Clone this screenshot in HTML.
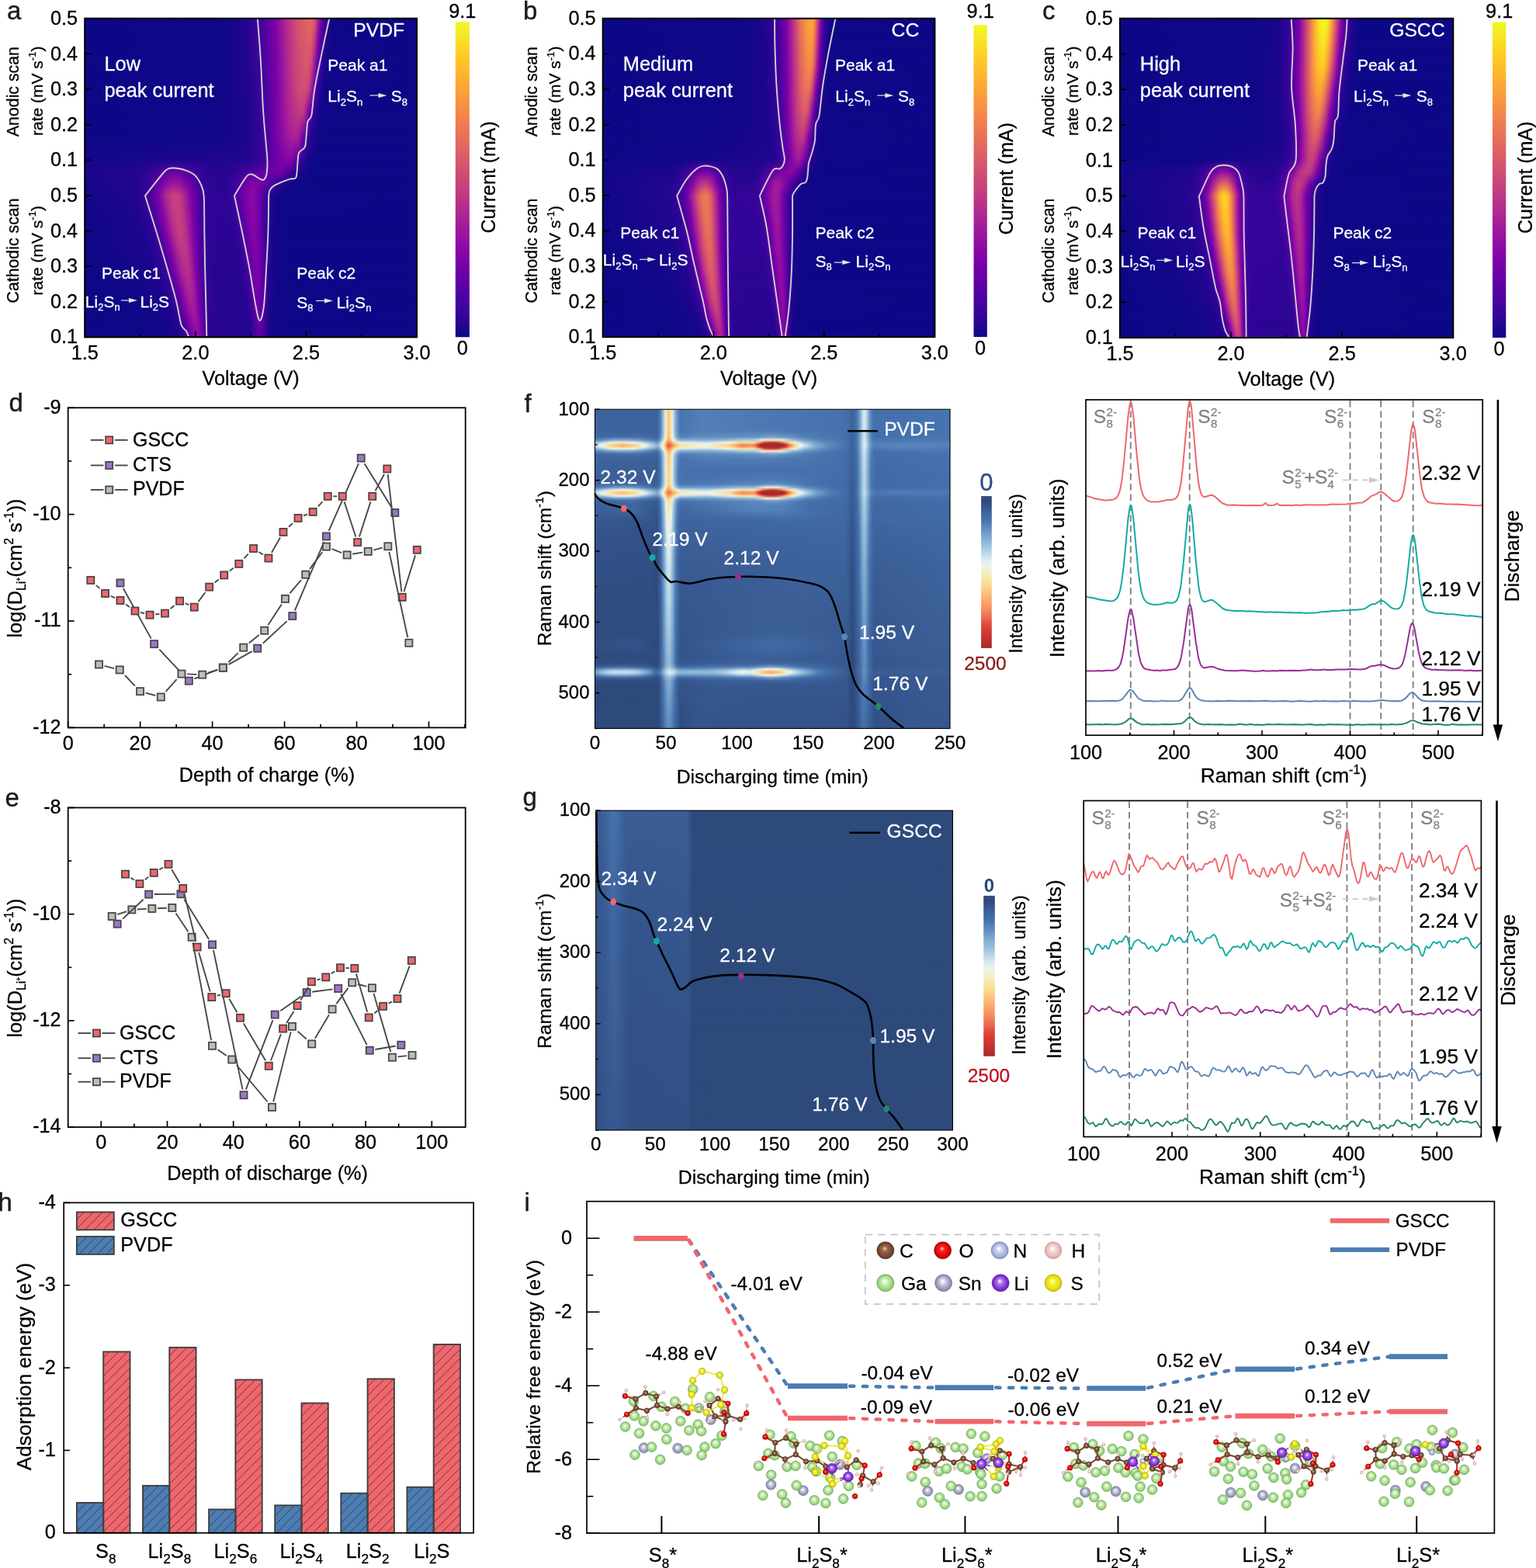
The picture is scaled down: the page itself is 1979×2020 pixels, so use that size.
<!DOCTYPE html>
<html lang="en"><head><meta charset="utf-8"><title>Figure</title>
<style>html,body{margin:0;padding:0;background:#fff}svg{display:block}text{font-family:"Liberation Sans",sans-serif;stroke-width:.28px}</style></head>
<body>
<svg width="1979" height="2020" viewBox="0 0 1979 2020">
<defs>
<linearGradient id="fgv" x1="0" y1="0" x2="0" y2="1"><stop offset="0" stop-color="#fff" stop-opacity="0"/><stop offset="1" stop-color="#fff" stop-opacity="1"/></linearGradient>
<linearGradient id="fgh" x1="0" y1="0" x2="1" y2="0"><stop offset="0" stop-color="#fff" stop-opacity="0"/><stop offset="1" stop-color="#fff" stop-opacity="1"/></linearGradient>
<mask id="mv" maskContentUnits="objectBoundingBox"><rect width="1" height="1" fill="url(#fgv)"/></mask>
<mask id="mh" maskContentUnits="objectBoundingBox"><rect width="1" height="1" fill="url(#fgh)"/></mask>
<linearGradient id="ha0" gradientUnits="userSpaceOnUse" x1="109.3" y1="0" x2="537" y2="0"><stop offset="0.000" stop-color="#0d0887"/><stop offset="0.421" stop-color="#100788"/><stop offset="0.491" stop-color="#260591"/><stop offset="0.544" stop-color="#5302a3"/><stop offset="0.573" stop-color="#7d03a8"/><stop offset="0.602" stop-color="#aa2395"/><stop offset="0.637" stop-color="#d14e72"/><stop offset="0.672" stop-color="#e26660"/><stop offset="0.684" stop-color="#e26660"/><stop offset="0.690" stop-color="#db5c68"/><stop offset="0.696" stop-color="#cb4679"/><stop offset="0.707" stop-color="#8f0da4"/><stop offset="0.713" stop-color="#6e00a8"/><stop offset="0.719" stop-color="#5002a2"/><stop offset="0.731" stop-color="#2a0593"/><stop offset="0.742" stop-color="#16078a"/><stop offset="0.772" stop-color="#0d0887"/><stop offset="1.000" stop-color="#0d0887"/></linearGradient>
<linearGradient id="ha1" gradientUnits="userSpaceOnUse" x1="109.3" y1="0" x2="537" y2="0"><stop offset="0.000" stop-color="#0d0887"/><stop offset="0.415" stop-color="#100788"/><stop offset="0.485" stop-color="#220690"/><stop offset="0.538" stop-color="#4903a0"/><stop offset="0.579" stop-color="#8305a7"/><stop offset="0.614" stop-color="#b6308b"/><stop offset="0.649" stop-color="#d6556d"/><stop offset="0.678" stop-color="#de5f65"/><stop offset="0.684" stop-color="#d8576b"/><stop offset="0.690" stop-color="#c8437b"/><stop offset="0.696" stop-color="#ae2892"/><stop offset="0.701" stop-color="#8d0ba5"/><stop offset="0.707" stop-color="#6a00a8"/><stop offset="0.713" stop-color="#4c02a1"/><stop offset="0.725" stop-color="#260591"/><stop offset="0.742" stop-color="#100788"/><stop offset="1.000" stop-color="#0d0887"/></linearGradient>
<linearGradient id="ha2" gradientUnits="userSpaceOnUse" x1="109.3" y1="0" x2="537" y2="0"><stop offset="0.000" stop-color="#0d0887"/><stop offset="0.415" stop-color="#100788"/><stop offset="0.485" stop-color="#20068f"/><stop offset="0.532" stop-color="#41049d"/><stop offset="0.573" stop-color="#7501a8"/><stop offset="0.596" stop-color="#9a169f"/><stop offset="0.631" stop-color="#c7427c"/><stop offset="0.666" stop-color="#d8576b"/><stop offset="0.678" stop-color="#d24f71"/><stop offset="0.684" stop-color="#c23c81"/><stop offset="0.696" stop-color="#8606a6"/><stop offset="0.701" stop-color="#6300a7"/><stop offset="0.707" stop-color="#46039f"/><stop offset="0.719" stop-color="#220690"/><stop offset="0.736" stop-color="#100788"/><stop offset="1.000" stop-color="#0d0887"/></linearGradient>
<linearGradient id="ha3" gradientUnits="userSpaceOnUse" x1="109.3" y1="0" x2="537" y2="0"><stop offset="0.000" stop-color="#0d0887"/><stop offset="0.409" stop-color="#100788"/><stop offset="0.491" stop-color="#20068f"/><stop offset="0.538" stop-color="#41049d"/><stop offset="0.579" stop-color="#7b02a8"/><stop offset="0.608" stop-color="#aa2395"/><stop offset="0.643" stop-color="#cc4977"/><stop offset="0.666" stop-color="#d24f71"/><stop offset="0.672" stop-color="#cb4679"/><stop offset="0.678" stop-color="#b83289"/><stop offset="0.684" stop-color="#9a169f"/><stop offset="0.690" stop-color="#7801a8"/><stop offset="0.701" stop-color="#3c049b"/><stop offset="0.713" stop-color="#1d068e"/><stop offset="0.725" stop-color="#100788"/><stop offset="1.000" stop-color="#0d0887"/></linearGradient>
<linearGradient id="ha4" gradientUnits="userSpaceOnUse" x1="109.3" y1="0" x2="537" y2="0"><stop offset="0.000" stop-color="#0d0887"/><stop offset="0.392" stop-color="#100788"/><stop offset="0.479" stop-color="#1b068d"/><stop offset="0.526" stop-color="#350498"/><stop offset="0.567" stop-color="#6700a8"/><stop offset="0.590" stop-color="#8d0ba5"/><stop offset="0.620" stop-color="#b32c8e"/><stop offset="0.649" stop-color="#c23c81"/><stop offset="0.655" stop-color="#c23c81"/><stop offset="0.661" stop-color="#b83289"/><stop offset="0.666" stop-color="#a51f99"/><stop offset="0.672" stop-color="#8707a6"/><stop offset="0.678" stop-color="#6700a8"/><stop offset="0.690" stop-color="#350498"/><stop offset="0.707" stop-color="#130789"/><stop offset="0.754" stop-color="#0d0887"/><stop offset="1.000" stop-color="#0d0887"/></linearGradient>
<linearGradient id="ha5" gradientUnits="userSpaceOnUse" x1="109.3" y1="0" x2="537" y2="0"><stop offset="0.000" stop-color="#0d0887"/><stop offset="0.380" stop-color="#100788"/><stop offset="0.485" stop-color="#1b068d"/><stop offset="0.526" stop-color="#310597"/><stop offset="0.567" stop-color="#6400a7"/><stop offset="0.590" stop-color="#8808a6"/><stop offset="0.620" stop-color="#a62098"/><stop offset="0.637" stop-color="#ab2494"/><stop offset="0.643" stop-color="#a31e9a"/><stop offset="0.655" stop-color="#7d03a8"/><stop offset="0.672" stop-color="#38049a"/><stop offset="0.690" stop-color="#19068c"/><stop offset="0.719" stop-color="#0d0887"/><stop offset="1.000" stop-color="#0d0887"/></linearGradient>
<linearGradient id="ha6" gradientUnits="userSpaceOnUse" x1="109.3" y1="0" x2="537" y2="0"><stop offset="0.000" stop-color="#130789"/><stop offset="0.497" stop-color="#240691"/><stop offset="0.532" stop-color="#350498"/><stop offset="0.573" stop-color="#6600a7"/><stop offset="0.602" stop-color="#8405a7"/><stop offset="0.620" stop-color="#8405a7"/><stop offset="0.631" stop-color="#6f00a8"/><stop offset="0.655" stop-color="#310597"/><stop offset="0.672" stop-color="#16078a"/><stop offset="0.701" stop-color="#0d0887"/><stop offset="1.000" stop-color="#0d0887"/></linearGradient>
<linearGradient id="ha7" gradientUnits="userSpaceOnUse" x1="109.3" y1="0" x2="537" y2="0"><stop offset="0.000" stop-color="#1b068d"/><stop offset="0.164" stop-color="#240691"/><stop offset="0.210" stop-color="#3c049b"/><stop offset="0.257" stop-color="#6100a7"/><stop offset="0.281" stop-color="#6300a7"/><stop offset="0.357" stop-color="#2e0595"/><stop offset="0.421" stop-color="#260591"/><stop offset="0.462" stop-color="#330597"/><stop offset="0.514" stop-color="#5601a4"/><stop offset="0.549" stop-color="#6400a7"/><stop offset="0.579" stop-color="#7501a8"/><stop offset="0.596" stop-color="#6e00a8"/><stop offset="0.643" stop-color="#20068f"/><stop offset="0.678" stop-color="#0d0887"/><stop offset="1.000" stop-color="#0d0887"/></linearGradient>
<linearGradient id="ha8" gradientUnits="userSpaceOnUse" x1="109.3" y1="0" x2="537" y2="0"><stop offset="0.000" stop-color="#16078a"/><stop offset="0.158" stop-color="#240691"/><stop offset="0.193" stop-color="#3c049b"/><stop offset="0.234" stop-color="#7a02a8"/><stop offset="0.257" stop-color="#99159f"/><stop offset="0.281" stop-color="#9d189d"/><stop offset="0.304" stop-color="#8004a8"/><stop offset="0.339" stop-color="#46039f"/><stop offset="0.368" stop-color="#2f0596"/><stop offset="0.421" stop-color="#2a0593"/><stop offset="0.450" stop-color="#38049a"/><stop offset="0.479" stop-color="#6300a7"/><stop offset="0.503" stop-color="#8405a7"/><stop offset="0.520" stop-color="#8405a7"/><stop offset="0.561" stop-color="#5102a3"/><stop offset="0.602" stop-color="#1d068e"/><stop offset="0.637" stop-color="#0d0887"/><stop offset="1.000" stop-color="#0d0887"/></linearGradient>
<linearGradient id="ha9" gradientUnits="userSpaceOnUse" x1="109.3" y1="0" x2="537" y2="0"><stop offset="0.000" stop-color="#130789"/><stop offset="0.146" stop-color="#20068f"/><stop offset="0.175" stop-color="#2f0596"/><stop offset="0.199" stop-color="#4c02a1"/><stop offset="0.222" stop-color="#7e03a8"/><stop offset="0.245" stop-color="#b22b8f"/><stop offset="0.269" stop-color="#c9447a"/><stop offset="0.286" stop-color="#c23c81"/><stop offset="0.304" stop-color="#a62098"/><stop offset="0.321" stop-color="#7a02a8"/><stop offset="0.345" stop-color="#4903a0"/><stop offset="0.362" stop-color="#370499"/><stop offset="0.397" stop-color="#2c0594"/><stop offset="0.433" stop-color="#310597"/><stop offset="0.450" stop-color="#3f049c"/><stop offset="0.485" stop-color="#7e03a8"/><stop offset="0.503" stop-color="#8d0ba5"/><stop offset="0.514" stop-color="#8405a7"/><stop offset="0.532" stop-color="#5c01a6"/><stop offset="0.555" stop-color="#280592"/><stop offset="0.585" stop-color="#100788"/><stop offset="1.000" stop-color="#0d0887"/></linearGradient>
<linearGradient id="ha10" gradientUnits="userSpaceOnUse" x1="109.3" y1="0" x2="537" y2="0"><stop offset="0.000" stop-color="#100788"/><stop offset="0.158" stop-color="#20068f"/><stop offset="0.193" stop-color="#370499"/><stop offset="0.216" stop-color="#5e01a6"/><stop offset="0.234" stop-color="#8808a6"/><stop offset="0.257" stop-color="#b83289"/><stop offset="0.275" stop-color="#c8437b"/><stop offset="0.292" stop-color="#c03a83"/><stop offset="0.316" stop-color="#910ea3"/><stop offset="0.327" stop-color="#7100a8"/><stop offset="0.351" stop-color="#43039e"/><stop offset="0.380" stop-color="#2e0595"/><stop offset="0.433" stop-color="#2e0595"/><stop offset="0.456" stop-color="#3e049c"/><stop offset="0.485" stop-color="#7401a8"/><stop offset="0.503" stop-color="#8a09a5"/><stop offset="0.514" stop-color="#8405a7"/><stop offset="0.532" stop-color="#5c01a6"/><stop offset="0.555" stop-color="#260591"/><stop offset="0.579" stop-color="#100788"/><stop offset="1.000" stop-color="#0d0887"/></linearGradient>
<linearGradient id="ha11" gradientUnits="userSpaceOnUse" x1="109.3" y1="0" x2="537" y2="0"><stop offset="0.000" stop-color="#100788"/><stop offset="0.164" stop-color="#1d068e"/><stop offset="0.193" stop-color="#2e0595"/><stop offset="0.216" stop-color="#4c02a1"/><stop offset="0.240" stop-color="#8405a7"/><stop offset="0.263" stop-color="#b7318a"/><stop offset="0.281" stop-color="#c7427c"/><stop offset="0.298" stop-color="#bd3786"/><stop offset="0.316" stop-color="#9814a0"/><stop offset="0.327" stop-color="#7801a8"/><stop offset="0.345" stop-color="#4e02a2"/><stop offset="0.362" stop-color="#370499"/><stop offset="0.403" stop-color="#2a0593"/><stop offset="0.444" stop-color="#2e0595"/><stop offset="0.468" stop-color="#46039f"/><stop offset="0.497" stop-color="#7e03a8"/><stop offset="0.509" stop-color="#8707a6"/><stop offset="0.520" stop-color="#7b02a8"/><stop offset="0.538" stop-color="#4c02a1"/><stop offset="0.555" stop-color="#240691"/><stop offset="0.573" stop-color="#130789"/><stop offset="0.620" stop-color="#0d0887"/><stop offset="1.000" stop-color="#0d0887"/></linearGradient>
<linearGradient id="ha12" gradientUnits="userSpaceOnUse" x1="109.3" y1="0" x2="537" y2="0"><stop offset="0.000" stop-color="#100788"/><stop offset="0.170" stop-color="#1b068d"/><stop offset="0.205" stop-color="#2e0595"/><stop offset="0.228" stop-color="#5302a3"/><stop offset="0.245" stop-color="#7e03a8"/><stop offset="0.269" stop-color="#b42e8d"/><stop offset="0.286" stop-color="#c5407e"/><stop offset="0.304" stop-color="#ba3388"/><stop offset="0.321" stop-color="#910ea3"/><stop offset="0.333" stop-color="#6e00a8"/><stop offset="0.351" stop-color="#46039f"/><stop offset="0.368" stop-color="#310597"/><stop offset="0.415" stop-color="#2a0593"/><stop offset="0.450" stop-color="#2c0594"/><stop offset="0.473" stop-color="#46039f"/><stop offset="0.503" stop-color="#8004a8"/><stop offset="0.514" stop-color="#8305a7"/><stop offset="0.526" stop-color="#6f00a8"/><stop offset="0.549" stop-color="#2f0596"/><stop offset="0.567" stop-color="#16078a"/><stop offset="0.608" stop-color="#0d0887"/><stop offset="1.000" stop-color="#0d0887"/></linearGradient>
<linearGradient id="ha13" gradientUnits="userSpaceOnUse" x1="109.3" y1="0" x2="537" y2="0"><stop offset="0.000" stop-color="#0d0887"/><stop offset="0.187" stop-color="#1d068e"/><stop offset="0.216" stop-color="#2e0595"/><stop offset="0.240" stop-color="#5502a4"/><stop offset="0.257" stop-color="#8305a7"/><stop offset="0.275" stop-color="#ad2793"/><stop offset="0.292" stop-color="#c03a83"/><stop offset="0.304" stop-color="#bd3786"/><stop offset="0.316" stop-color="#a82296"/><stop offset="0.327" stop-color="#8808a6"/><stop offset="0.339" stop-color="#6400a7"/><stop offset="0.357" stop-color="#3e049c"/><stop offset="0.380" stop-color="#2c0594"/><stop offset="0.456" stop-color="#2a0593"/><stop offset="0.473" stop-color="#3a049a"/><stop offset="0.503" stop-color="#7801a8"/><stop offset="0.514" stop-color="#8104a7"/><stop offset="0.526" stop-color="#7201a8"/><stop offset="0.549" stop-color="#2f0596"/><stop offset="0.567" stop-color="#16078a"/><stop offset="0.608" stop-color="#0d0887"/><stop offset="1.000" stop-color="#0d0887"/></linearGradient>
<linearGradient id="ha14" gradientUnits="userSpaceOnUse" x1="109.3" y1="0" x2="537" y2="0"><stop offset="0.000" stop-color="#0d0887"/><stop offset="0.199" stop-color="#1b068d"/><stop offset="0.228" stop-color="#2f0596"/><stop offset="0.245" stop-color="#4b03a1"/><stop offset="0.263" stop-color="#7701a8"/><stop offset="0.281" stop-color="#a51f99"/><stop offset="0.298" stop-color="#bc3587"/><stop offset="0.310" stop-color="#b83289"/><stop offset="0.321" stop-color="#a21d9a"/><stop offset="0.333" stop-color="#7e03a8"/><stop offset="0.351" stop-color="#4b03a1"/><stop offset="0.368" stop-color="#310597"/><stop offset="0.403" stop-color="#280592"/><stop offset="0.468" stop-color="#2c0594"/><stop offset="0.485" stop-color="#46039f"/><stop offset="0.509" stop-color="#7801a8"/><stop offset="0.520" stop-color="#7d03a8"/><stop offset="0.532" stop-color="#6400a7"/><stop offset="0.549" stop-color="#310597"/><stop offset="0.567" stop-color="#16078a"/><stop offset="0.608" stop-color="#0d0887"/><stop offset="1.000" stop-color="#0d0887"/></linearGradient>
<linearGradient id="ha15" gradientUnits="userSpaceOnUse" x1="109.3" y1="0" x2="537" y2="0"><stop offset="0.000" stop-color="#0d0887"/><stop offset="0.181" stop-color="#16078a"/><stop offset="0.228" stop-color="#240691"/><stop offset="0.251" stop-color="#43039e"/><stop offset="0.275" stop-color="#7d03a8"/><stop offset="0.292" stop-color="#a82296"/><stop offset="0.310" stop-color="#b7318a"/><stop offset="0.321" stop-color="#aa2395"/><stop offset="0.333" stop-color="#8808a6"/><stop offset="0.345" stop-color="#6001a6"/><stop offset="0.362" stop-color="#38049a"/><stop offset="0.386" stop-color="#280592"/><stop offset="0.468" stop-color="#280592"/><stop offset="0.485" stop-color="#3a049a"/><stop offset="0.509" stop-color="#7100a8"/><stop offset="0.520" stop-color="#7a02a8"/><stop offset="0.532" stop-color="#6600a7"/><stop offset="0.555" stop-color="#260591"/><stop offset="0.573" stop-color="#130789"/><stop offset="0.620" stop-color="#0d0887"/><stop offset="1.000" stop-color="#0d0887"/></linearGradient>
<linearGradient id="ha16" gradientUnits="userSpaceOnUse" x1="109.3" y1="0" x2="537" y2="0"><stop offset="0.000" stop-color="#0d0887"/><stop offset="0.175" stop-color="#130789"/><stop offset="0.234" stop-color="#20068f"/><stop offset="0.251" stop-color="#2f0596"/><stop offset="0.269" stop-color="#5102a3"/><stop offset="0.286" stop-color="#8305a7"/><stop offset="0.304" stop-color="#a82296"/><stop offset="0.316" stop-color="#b12a90"/><stop offset="0.327" stop-color="#a21d9a"/><stop offset="0.339" stop-color="#7d03a8"/><stop offset="0.357" stop-color="#46039f"/><stop offset="0.368" stop-color="#310597"/><stop offset="0.397" stop-color="#280592"/><stop offset="0.473" stop-color="#260591"/><stop offset="0.491" stop-color="#3a049a"/><stop offset="0.514" stop-color="#7201a8"/><stop offset="0.520" stop-color="#7701a8"/><stop offset="0.532" stop-color="#6600a7"/><stop offset="0.555" stop-color="#240691"/><stop offset="0.573" stop-color="#130789"/><stop offset="0.620" stop-color="#0d0887"/><stop offset="1.000" stop-color="#0d0887"/></linearGradient>
<linearGradient id="ha17" gradientUnits="userSpaceOnUse" x1="109.3" y1="0" x2="537" y2="0"><stop offset="0.000" stop-color="#0d0887"/><stop offset="0.158" stop-color="#100788"/><stop offset="0.240" stop-color="#1d068e"/><stop offset="0.263" stop-color="#310597"/><stop offset="0.281" stop-color="#5601a4"/><stop offset="0.292" stop-color="#7701a8"/><stop offset="0.310" stop-color="#a11b9b"/><stop offset="0.321" stop-color="#aa2395"/><stop offset="0.333" stop-color="#99159f"/><stop offset="0.345" stop-color="#7201a8"/><stop offset="0.357" stop-color="#4b03a1"/><stop offset="0.368" stop-color="#330597"/><stop offset="0.397" stop-color="#260591"/><stop offset="0.485" stop-color="#280592"/><stop offset="0.497" stop-color="#3c049b"/><stop offset="0.514" stop-color="#6900a8"/><stop offset="0.520" stop-color="#7100a8"/><stop offset="0.532" stop-color="#6600a7"/><stop offset="0.555" stop-color="#240691"/><stop offset="0.573" stop-color="#100788"/><stop offset="1.000" stop-color="#0d0887"/></linearGradient>
<linearGradient id="ha18" gradientUnits="userSpaceOnUse" x1="109.3" y1="0" x2="537" y2="0"><stop offset="0.000" stop-color="#0d0887"/><stop offset="0.181" stop-color="#100788"/><stop offset="0.257" stop-color="#1d068e"/><stop offset="0.281" stop-color="#3a049a"/><stop offset="0.304" stop-color="#7a02a8"/><stop offset="0.316" stop-color="#9613a1"/><stop offset="0.327" stop-color="#a11b9b"/><stop offset="0.333" stop-color="#9d189d"/><stop offset="0.345" stop-color="#7d03a8"/><stop offset="0.362" stop-color="#41049d"/><stop offset="0.374" stop-color="#2e0595"/><stop offset="0.409" stop-color="#260591"/><stop offset="0.485" stop-color="#240691"/><stop offset="0.497" stop-color="#2f0596"/><stop offset="0.520" stop-color="#6900a8"/><stop offset="0.532" stop-color="#6100a7"/><stop offset="0.555" stop-color="#20068f"/><stop offset="0.573" stop-color="#100788"/><stop offset="1.000" stop-color="#0d0887"/></linearGradient>
<linearGradient id="ha19" gradientUnits="userSpaceOnUse" x1="109.3" y1="0" x2="537" y2="0"><stop offset="0.000" stop-color="#0d0887"/><stop offset="0.199" stop-color="#100788"/><stop offset="0.263" stop-color="#19068c"/><stop offset="0.286" stop-color="#2e0595"/><stop offset="0.304" stop-color="#5601a4"/><stop offset="0.316" stop-color="#7a02a8"/><stop offset="0.327" stop-color="#9410a2"/><stop offset="0.339" stop-color="#9511a1"/><stop offset="0.351" stop-color="#7201a8"/><stop offset="0.362" stop-color="#46039f"/><stop offset="0.374" stop-color="#2e0595"/><stop offset="0.397" stop-color="#260591"/><stop offset="0.491" stop-color="#240691"/><stop offset="0.503" stop-color="#310597"/><stop offset="0.520" stop-color="#5e01a6"/><stop offset="0.526" stop-color="#6300a7"/><stop offset="0.532" stop-color="#5c01a6"/><stop offset="0.555" stop-color="#20068f"/><stop offset="0.567" stop-color="#130789"/><stop offset="0.625" stop-color="#0d0887"/><stop offset="1.000" stop-color="#0d0887"/></linearGradient>
<linearGradient id="ha20" gradientUnits="userSpaceOnUse" x1="109.3" y1="0" x2="537" y2="0"><stop offset="0.000" stop-color="#0d0887"/><stop offset="0.222" stop-color="#100788"/><stop offset="0.281" stop-color="#1b068d"/><stop offset="0.298" stop-color="#2e0595"/><stop offset="0.316" stop-color="#5901a5"/><stop offset="0.327" stop-color="#7d03a8"/><stop offset="0.339" stop-color="#8f0da4"/><stop offset="0.345" stop-color="#8d0ba5"/><stop offset="0.357" stop-color="#6600a7"/><stop offset="0.368" stop-color="#3c049b"/><stop offset="0.380" stop-color="#280592"/><stop offset="0.491" stop-color="#220690"/><stop offset="0.509" stop-color="#38049a"/><stop offset="0.520" stop-color="#5601a4"/><stop offset="0.526" stop-color="#5c01a6"/><stop offset="0.532" stop-color="#5901a5"/><stop offset="0.555" stop-color="#20068f"/><stop offset="0.573" stop-color="#100788"/><stop offset="1.000" stop-color="#0d0887"/></linearGradient>
<linearGradient id="cba" x1="0" y1="0" x2="0" y2="1"><stop offset="0.000" stop-color="#f0f921"/><stop offset="0.025" stop-color="#f3ee27"/><stop offset="0.050" stop-color="#f7e425"/><stop offset="0.075" stop-color="#fad824"/><stop offset="0.100" stop-color="#fcce25"/><stop offset="0.125" stop-color="#fdc527"/><stop offset="0.150" stop-color="#feba2c"/><stop offset="0.175" stop-color="#fdb130"/><stop offset="0.200" stop-color="#fca636"/><stop offset="0.225" stop-color="#fa9e3b"/><stop offset="0.250" stop-color="#f89540"/><stop offset="0.275" stop-color="#f58c46"/><stop offset="0.300" stop-color="#f2844b"/><stop offset="0.325" stop-color="#ee7b51"/><stop offset="0.350" stop-color="#ea7457"/><stop offset="0.375" stop-color="#e66c5c"/><stop offset="0.400" stop-color="#e16462"/><stop offset="0.425" stop-color="#dc5d67"/><stop offset="0.450" stop-color="#d6556d"/><stop offset="0.475" stop-color="#d14e72"/><stop offset="0.500" stop-color="#cc4778"/><stop offset="0.525" stop-color="#c5407e"/><stop offset="0.550" stop-color="#bf3984"/><stop offset="0.575" stop-color="#b7318a"/><stop offset="0.600" stop-color="#b12a90"/><stop offset="0.625" stop-color="#aa2395"/><stop offset="0.650" stop-color="#a11b9b"/><stop offset="0.675" stop-color="#99159f"/><stop offset="0.700" stop-color="#8f0da4"/><stop offset="0.725" stop-color="#8707a6"/><stop offset="0.750" stop-color="#7e03a8"/><stop offset="0.775" stop-color="#7401a8"/><stop offset="0.800" stop-color="#6a00a8"/><stop offset="0.825" stop-color="#6001a6"/><stop offset="0.850" stop-color="#5601a4"/><stop offset="0.875" stop-color="#4c02a1"/><stop offset="0.900" stop-color="#41049d"/><stop offset="0.925" stop-color="#370499"/><stop offset="0.950" stop-color="#2a0593"/><stop offset="0.975" stop-color="#1d068e"/><stop offset="1.000" stop-color="#0d0887"/></linearGradient>
<linearGradient id="hb0" gradientUnits="userSpaceOnUse" x1="776.8" y1="0" x2="1204.3" y2="0"><stop offset="0.000" stop-color="#0d0887"/><stop offset="0.427" stop-color="#100788"/><stop offset="0.485" stop-color="#1d068e"/><stop offset="0.515" stop-color="#330597"/><stop offset="0.538" stop-color="#5901a5"/><stop offset="0.556" stop-color="#8707a6"/><stop offset="0.573" stop-color="#ba3388"/><stop offset="0.596" stop-color="#eb7655"/><stop offset="0.620" stop-color="#fca835"/><stop offset="0.632" stop-color="#fdab33"/><stop offset="0.637" stop-color="#f79143"/><stop offset="0.643" stop-color="#e26660"/><stop offset="0.649" stop-color="#be3885"/><stop offset="0.655" stop-color="#8e0ca4"/><stop offset="0.661" stop-color="#6100a7"/><stop offset="0.667" stop-color="#3f049c"/><stop offset="0.673" stop-color="#2a0593"/><stop offset="0.690" stop-color="#100788"/><stop offset="1.000" stop-color="#0d0887"/></linearGradient>
<linearGradient id="hb1" gradientUnits="userSpaceOnUse" x1="776.8" y1="0" x2="1204.3" y2="0"><stop offset="0.000" stop-color="#0d0887"/><stop offset="0.421" stop-color="#100788"/><stop offset="0.491" stop-color="#1d068e"/><stop offset="0.520" stop-color="#370499"/><stop offset="0.544" stop-color="#6300a7"/><stop offset="0.556" stop-color="#8104a7"/><stop offset="0.573" stop-color="#b42e8d"/><stop offset="0.596" stop-color="#e76e5b"/><stop offset="0.614" stop-color="#f79342"/><stop offset="0.626" stop-color="#fa9c3c"/><stop offset="0.632" stop-color="#f89540"/><stop offset="0.637" stop-color="#ec7754"/><stop offset="0.643" stop-color="#d04d73"/><stop offset="0.649" stop-color="#a72197"/><stop offset="0.655" stop-color="#7801a8"/><stop offset="0.661" stop-color="#5102a3"/><stop offset="0.667" stop-color="#350498"/><stop offset="0.678" stop-color="#19068c"/><stop offset="0.708" stop-color="#0d0887"/><stop offset="1.000" stop-color="#0d0887"/></linearGradient>
<linearGradient id="hb2" gradientUnits="userSpaceOnUse" x1="776.8" y1="0" x2="1204.3" y2="0"><stop offset="0.000" stop-color="#0d0887"/><stop offset="0.409" stop-color="#100788"/><stop offset="0.491" stop-color="#1d068e"/><stop offset="0.520" stop-color="#350498"/><stop offset="0.544" stop-color="#5e01a6"/><stop offset="0.556" stop-color="#7d03a8"/><stop offset="0.573" stop-color="#b02991"/><stop offset="0.596" stop-color="#e26561"/><stop offset="0.614" stop-color="#f3854b"/><stop offset="0.626" stop-color="#f58b47"/><stop offset="0.632" stop-color="#ed7a52"/><stop offset="0.637" stop-color="#d8576b"/><stop offset="0.643" stop-color="#b52f8c"/><stop offset="0.649" stop-color="#8808a6"/><stop offset="0.655" stop-color="#5e01a6"/><stop offset="0.661" stop-color="#3e049c"/><stop offset="0.673" stop-color="#1d068e"/><stop offset="0.684" stop-color="#100788"/><stop offset="1.000" stop-color="#0d0887"/></linearGradient>
<linearGradient id="hb3" gradientUnits="userSpaceOnUse" x1="776.8" y1="0" x2="1204.3" y2="0"><stop offset="0.000" stop-color="#0d0887"/><stop offset="0.398" stop-color="#100788"/><stop offset="0.485" stop-color="#1b068d"/><stop offset="0.515" stop-color="#2c0594"/><stop offset="0.538" stop-color="#5002a2"/><stop offset="0.556" stop-color="#7b02a8"/><stop offset="0.573" stop-color="#ae2892"/><stop offset="0.591" stop-color="#d5546e"/><stop offset="0.608" stop-color="#e97158"/><stop offset="0.620" stop-color="#eb7556"/><stop offset="0.626" stop-color="#e06363"/><stop offset="0.632" stop-color="#c8437b"/><stop offset="0.637" stop-color="#a31e9a"/><stop offset="0.643" stop-color="#7801a8"/><stop offset="0.649" stop-color="#5302a3"/><stop offset="0.655" stop-color="#370499"/><stop offset="0.667" stop-color="#1b068d"/><stop offset="0.678" stop-color="#100788"/><stop offset="1.000" stop-color="#0d0887"/></linearGradient>
<linearGradient id="hb4" gradientUnits="userSpaceOnUse" x1="776.8" y1="0" x2="1204.3" y2="0"><stop offset="0.000" stop-color="#0d0887"/><stop offset="0.392" stop-color="#100788"/><stop offset="0.497" stop-color="#1d068e"/><stop offset="0.520" stop-color="#2f0596"/><stop offset="0.538" stop-color="#4b03a1"/><stop offset="0.556" stop-color="#7701a8"/><stop offset="0.567" stop-color="#99159f"/><stop offset="0.585" stop-color="#c43e7f"/><stop offset="0.602" stop-color="#d9586a"/><stop offset="0.608" stop-color="#da5b69"/><stop offset="0.614" stop-color="#d6556d"/><stop offset="0.620" stop-color="#c6417d"/><stop offset="0.626" stop-color="#a82296"/><stop offset="0.632" stop-color="#8305a7"/><stop offset="0.637" stop-color="#5e01a6"/><stop offset="0.643" stop-color="#3f049c"/><stop offset="0.655" stop-color="#20068f"/><stop offset="0.667" stop-color="#130789"/><stop offset="0.713" stop-color="#0d0887"/><stop offset="1.000" stop-color="#0d0887"/></linearGradient>
<linearGradient id="hb5" gradientUnits="userSpaceOnUse" x1="776.8" y1="0" x2="1204.3" y2="0"><stop offset="0.000" stop-color="#0d0887"/><stop offset="0.380" stop-color="#100788"/><stop offset="0.503" stop-color="#1d068e"/><stop offset="0.526" stop-color="#2f0596"/><stop offset="0.544" stop-color="#5002a2"/><stop offset="0.561" stop-color="#8004a8"/><stop offset="0.579" stop-color="#ad2793"/><stop offset="0.596" stop-color="#c23c81"/><stop offset="0.602" stop-color="#c13b82"/><stop offset="0.608" stop-color="#b6308b"/><stop offset="0.614" stop-color="#a01a9c"/><stop offset="0.620" stop-color="#8004a8"/><stop offset="0.632" stop-color="#44039e"/><stop offset="0.643" stop-color="#220690"/><stop offset="0.661" stop-color="#100788"/><stop offset="1.000" stop-color="#0d0887"/></linearGradient>
<linearGradient id="hb6" gradientUnits="userSpaceOnUse" x1="776.8" y1="0" x2="1204.3" y2="0"><stop offset="0.000" stop-color="#0d0887"/><stop offset="0.275" stop-color="#130789"/><stop offset="0.515" stop-color="#220690"/><stop offset="0.532" stop-color="#310597"/><stop offset="0.556" stop-color="#6100a7"/><stop offset="0.567" stop-color="#8104a7"/><stop offset="0.585" stop-color="#9e199d"/><stop offset="0.591" stop-color="#a01a9c"/><stop offset="0.602" stop-color="#8808a6"/><stop offset="0.608" stop-color="#7100a8"/><stop offset="0.620" stop-color="#41049d"/><stop offset="0.632" stop-color="#220690"/><stop offset="0.649" stop-color="#100788"/><stop offset="1.000" stop-color="#0d0887"/></linearGradient>
<linearGradient id="hb7" gradientUnits="userSpaceOnUse" x1="776.8" y1="0" x2="1204.3" y2="0"><stop offset="0.000" stop-color="#100788"/><stop offset="0.211" stop-color="#1d068e"/><stop offset="0.240" stop-color="#2e0595"/><stop offset="0.275" stop-color="#5901a5"/><stop offset="0.298" stop-color="#7401a8"/><stop offset="0.316" stop-color="#7501a8"/><stop offset="0.363" stop-color="#330597"/><stop offset="0.386" stop-color="#240691"/><stop offset="0.462" stop-color="#260591"/><stop offset="0.485" stop-color="#38049a"/><stop offset="0.532" stop-color="#7501a8"/><stop offset="0.561" stop-color="#8a09a5"/><stop offset="0.573" stop-color="#8707a6"/><stop offset="0.585" stop-color="#7100a8"/><stop offset="0.608" stop-color="#2f0596"/><stop offset="0.626" stop-color="#16078a"/><stop offset="0.655" stop-color="#0d0887"/><stop offset="1.000" stop-color="#0d0887"/></linearGradient>
<linearGradient id="hb8" gradientUnits="userSpaceOnUse" x1="776.8" y1="0" x2="1204.3" y2="0"><stop offset="0.000" stop-color="#130789"/><stop offset="0.205" stop-color="#240691"/><stop offset="0.228" stop-color="#310597"/><stop offset="0.246" stop-color="#4903a0"/><stop offset="0.269" stop-color="#8305a7"/><stop offset="0.292" stop-color="#b7318a"/><stop offset="0.310" stop-color="#c33d80"/><stop offset="0.327" stop-color="#ac2694"/><stop offset="0.339" stop-color="#8a09a5"/><stop offset="0.351" stop-color="#6600a7"/><stop offset="0.368" stop-color="#3e049c"/><stop offset="0.392" stop-color="#2c0594"/><stop offset="0.450" stop-color="#2c0594"/><stop offset="0.474" stop-color="#3e049c"/><stop offset="0.491" stop-color="#6300a7"/><stop offset="0.503" stop-color="#8104a7"/><stop offset="0.520" stop-color="#a01a9c"/><stop offset="0.532" stop-color="#a01a9c"/><stop offset="0.550" stop-color="#8004a8"/><stop offset="0.573" stop-color="#41049d"/><stop offset="0.591" stop-color="#220690"/><stop offset="0.614" stop-color="#100788"/><stop offset="1.000" stop-color="#0d0887"/></linearGradient>
<linearGradient id="hb9" gradientUnits="userSpaceOnUse" x1="776.8" y1="0" x2="1204.3" y2="0"><stop offset="0.000" stop-color="#100788"/><stop offset="0.199" stop-color="#240691"/><stop offset="0.228" stop-color="#38049a"/><stop offset="0.246" stop-color="#5b01a5"/><stop offset="0.257" stop-color="#7e03a8"/><stop offset="0.269" stop-color="#a82296"/><stop offset="0.287" stop-color="#d9586a"/><stop offset="0.298" stop-color="#ea7457"/><stop offset="0.310" stop-color="#ef7e50"/><stop offset="0.316" stop-color="#ed7953"/><stop offset="0.327" stop-color="#da5a6a"/><stop offset="0.345" stop-color="#9c179e"/><stop offset="0.351" stop-color="#8405a7"/><stop offset="0.363" stop-color="#5b01a5"/><stop offset="0.374" stop-color="#41049d"/><stop offset="0.392" stop-color="#330597"/><stop offset="0.450" stop-color="#330597"/><stop offset="0.468" stop-color="#3f049c"/><stop offset="0.485" stop-color="#6300a7"/><stop offset="0.497" stop-color="#8405a7"/><stop offset="0.509" stop-color="#9d189d"/><stop offset="0.520" stop-color="#a51f99"/><stop offset="0.532" stop-color="#9511a1"/><stop offset="0.544" stop-color="#7100a8"/><stop offset="0.561" stop-color="#3a049a"/><stop offset="0.579" stop-color="#1d068e"/><stop offset="0.608" stop-color="#100788"/><stop offset="1.000" stop-color="#0d0887"/></linearGradient>
<linearGradient id="hb10" gradientUnits="userSpaceOnUse" x1="776.8" y1="0" x2="1204.3" y2="0"><stop offset="0.000" stop-color="#100788"/><stop offset="0.199" stop-color="#220690"/><stop offset="0.228" stop-color="#310597"/><stop offset="0.246" stop-color="#4e02a2"/><stop offset="0.263" stop-color="#8104a7"/><stop offset="0.275" stop-color="#ac2694"/><stop offset="0.292" stop-color="#db5c68"/><stop offset="0.304" stop-color="#ea7457"/><stop offset="0.316" stop-color="#ec7754"/><stop offset="0.327" stop-color="#dc5d67"/><stop offset="0.339" stop-color="#b83289"/><stop offset="0.351" stop-color="#8707a6"/><stop offset="0.363" stop-color="#5c01a6"/><stop offset="0.374" stop-color="#41049d"/><stop offset="0.392" stop-color="#310597"/><stop offset="0.462" stop-color="#330597"/><stop offset="0.480" stop-color="#48039f"/><stop offset="0.497" stop-color="#7401a8"/><stop offset="0.509" stop-color="#9410a2"/><stop offset="0.520" stop-color="#a11b9b"/><stop offset="0.532" stop-color="#9511a1"/><stop offset="0.544" stop-color="#7201a8"/><stop offset="0.561" stop-color="#3a049a"/><stop offset="0.573" stop-color="#220690"/><stop offset="0.591" stop-color="#130789"/><stop offset="0.667" stop-color="#0d0887"/><stop offset="1.000" stop-color="#0d0887"/></linearGradient>
<linearGradient id="hb11" gradientUnits="userSpaceOnUse" x1="776.8" y1="0" x2="1204.3" y2="0"><stop offset="0.000" stop-color="#100788"/><stop offset="0.205" stop-color="#20068f"/><stop offset="0.234" stop-color="#2f0596"/><stop offset="0.251" stop-color="#4e02a2"/><stop offset="0.263" stop-color="#6f00a8"/><stop offset="0.269" stop-color="#8405a7"/><stop offset="0.281" stop-color="#b02991"/><stop offset="0.298" stop-color="#dd5e66"/><stop offset="0.310" stop-color="#ea7457"/><stop offset="0.322" stop-color="#e76f5a"/><stop offset="0.333" stop-color="#d04d73"/><stop offset="0.345" stop-color="#a51f99"/><stop offset="0.351" stop-color="#8b0aa5"/><stop offset="0.357" stop-color="#7201a8"/><stop offset="0.374" stop-color="#41049d"/><stop offset="0.398" stop-color="#2f0596"/><stop offset="0.468" stop-color="#310597"/><stop offset="0.485" stop-color="#46039f"/><stop offset="0.503" stop-color="#7501a8"/><stop offset="0.515" stop-color="#9410a2"/><stop offset="0.526" stop-color="#9d189d"/><stop offset="0.532" stop-color="#9613a1"/><stop offset="0.544" stop-color="#7401a8"/><stop offset="0.561" stop-color="#38049a"/><stop offset="0.579" stop-color="#1b068d"/><stop offset="0.602" stop-color="#100788"/><stop offset="1.000" stop-color="#0d0887"/></linearGradient>
<linearGradient id="hb12" gradientUnits="userSpaceOnUse" x1="776.8" y1="0" x2="1204.3" y2="0"><stop offset="0.000" stop-color="#0d0887"/><stop offset="0.216" stop-color="#20068f"/><stop offset="0.246" stop-color="#370499"/><stop offset="0.257" stop-color="#4c02a1"/><stop offset="0.269" stop-color="#7100a8"/><stop offset="0.275" stop-color="#8707a6"/><stop offset="0.287" stop-color="#b32c8e"/><stop offset="0.304" stop-color="#de6164"/><stop offset="0.316" stop-color="#e87059"/><stop offset="0.322" stop-color="#e76e5b"/><stop offset="0.333" stop-color="#d35171"/><stop offset="0.345" stop-color="#aa2395"/><stop offset="0.351" stop-color="#8f0da4"/><stop offset="0.357" stop-color="#7501a8"/><stop offset="0.368" stop-color="#4e02a2"/><stop offset="0.380" stop-color="#38049a"/><stop offset="0.415" stop-color="#2e0595"/><stop offset="0.474" stop-color="#2f0596"/><stop offset="0.491" stop-color="#44039e"/><stop offset="0.509" stop-color="#7701a8"/><stop offset="0.520" stop-color="#9511a1"/><stop offset="0.526" stop-color="#99159f"/><stop offset="0.538" stop-color="#8a09a5"/><stop offset="0.550" stop-color="#6001a6"/><stop offset="0.567" stop-color="#2a0593"/><stop offset="0.579" stop-color="#19068c"/><stop offset="0.626" stop-color="#0d0887"/><stop offset="1.000" stop-color="#0d0887"/></linearGradient>
<linearGradient id="hb13" gradientUnits="userSpaceOnUse" x1="776.8" y1="0" x2="1204.3" y2="0"><stop offset="0.000" stop-color="#0d0887"/><stop offset="0.205" stop-color="#1b068d"/><stop offset="0.234" stop-color="#240691"/><stop offset="0.251" stop-color="#350498"/><stop offset="0.263" stop-color="#4b03a1"/><stop offset="0.275" stop-color="#6f00a8"/><stop offset="0.281" stop-color="#8606a6"/><stop offset="0.292" stop-color="#b32c8e"/><stop offset="0.304" stop-color="#d45270"/><stop offset="0.316" stop-color="#e3685f"/><stop offset="0.322" stop-color="#e56a5d"/><stop offset="0.327" stop-color="#e16462"/><stop offset="0.339" stop-color="#c5407e"/><stop offset="0.351" stop-color="#9410a2"/><stop offset="0.357" stop-color="#7801a8"/><stop offset="0.368" stop-color="#4e02a2"/><stop offset="0.380" stop-color="#38049a"/><stop offset="0.404" stop-color="#2e0595"/><stop offset="0.480" stop-color="#2f0596"/><stop offset="0.491" stop-color="#3a049a"/><stop offset="0.509" stop-color="#6900a8"/><stop offset="0.520" stop-color="#8b0aa5"/><stop offset="0.526" stop-color="#9511a1"/><stop offset="0.532" stop-color="#9511a1"/><stop offset="0.544" stop-color="#7a02a8"/><stop offset="0.561" stop-color="#38049a"/><stop offset="0.579" stop-color="#19068c"/><stop offset="0.626" stop-color="#0d0887"/><stop offset="1.000" stop-color="#0d0887"/></linearGradient>
<linearGradient id="hb14" gradientUnits="userSpaceOnUse" x1="776.8" y1="0" x2="1204.3" y2="0"><stop offset="0.000" stop-color="#0d0887"/><stop offset="0.181" stop-color="#16078a"/><stop offset="0.240" stop-color="#220690"/><stop offset="0.257" stop-color="#310597"/><stop offset="0.275" stop-color="#5b01a5"/><stop offset="0.287" stop-color="#8606a6"/><stop offset="0.298" stop-color="#b32c8e"/><stop offset="0.310" stop-color="#d35171"/><stop offset="0.322" stop-color="#e16462"/><stop offset="0.327" stop-color="#e06363"/><stop offset="0.339" stop-color="#ca457a"/><stop offset="0.351" stop-color="#99159f"/><stop offset="0.357" stop-color="#7d03a8"/><stop offset="0.368" stop-color="#5002a2"/><stop offset="0.380" stop-color="#38049a"/><stop offset="0.398" stop-color="#2e0595"/><stop offset="0.485" stop-color="#2e0595"/><stop offset="0.497" stop-color="#3a049a"/><stop offset="0.515" stop-color="#6e00a8"/><stop offset="0.526" stop-color="#8e0ca4"/><stop offset="0.532" stop-color="#9410a2"/><stop offset="0.538" stop-color="#8d0ba5"/><stop offset="0.550" stop-color="#6600a7"/><stop offset="0.561" stop-color="#38049a"/><stop offset="0.573" stop-color="#1d068e"/><stop offset="0.596" stop-color="#100788"/><stop offset="1.000" stop-color="#0d0887"/></linearGradient>
<linearGradient id="hb15" gradientUnits="userSpaceOnUse" x1="776.8" y1="0" x2="1204.3" y2="0"><stop offset="0.000" stop-color="#0d0887"/><stop offset="0.175" stop-color="#130789"/><stop offset="0.251" stop-color="#220690"/><stop offset="0.269" stop-color="#38049a"/><stop offset="0.281" stop-color="#5502a4"/><stop offset="0.292" stop-color="#8104a7"/><stop offset="0.304" stop-color="#b12a90"/><stop offset="0.316" stop-color="#d04d73"/><stop offset="0.327" stop-color="#dc5d67"/><stop offset="0.333" stop-color="#d9586a"/><stop offset="0.345" stop-color="#bb3488"/><stop offset="0.357" stop-color="#8305a7"/><stop offset="0.368" stop-color="#5102a3"/><stop offset="0.380" stop-color="#370499"/><stop offset="0.404" stop-color="#2c0594"/><stop offset="0.491" stop-color="#2c0594"/><stop offset="0.503" stop-color="#3a049a"/><stop offset="0.520" stop-color="#7201a8"/><stop offset="0.526" stop-color="#8606a6"/><stop offset="0.532" stop-color="#8f0da4"/><stop offset="0.538" stop-color="#8e0ca4"/><stop offset="0.544" stop-color="#8104a7"/><stop offset="0.556" stop-color="#5002a2"/><stop offset="0.567" stop-color="#280592"/><stop offset="0.579" stop-color="#16078a"/><stop offset="0.626" stop-color="#0d0887"/><stop offset="1.000" stop-color="#0d0887"/></linearGradient>
<linearGradient id="hb16" gradientUnits="userSpaceOnUse" x1="776.8" y1="0" x2="1204.3" y2="0"><stop offset="0.000" stop-color="#0d0887"/><stop offset="0.170" stop-color="#100788"/><stop offset="0.257" stop-color="#20068f"/><stop offset="0.275" stop-color="#310597"/><stop offset="0.292" stop-color="#6100a7"/><stop offset="0.298" stop-color="#7a02a8"/><stop offset="0.304" stop-color="#920fa3"/><stop offset="0.316" stop-color="#be3885"/><stop offset="0.327" stop-color="#d45270"/><stop offset="0.333" stop-color="#d6556d"/><stop offset="0.339" stop-color="#d04d73"/><stop offset="0.351" stop-color="#aa2395"/><stop offset="0.357" stop-color="#8b0aa5"/><stop offset="0.363" stop-color="#6e00a8"/><stop offset="0.374" stop-color="#43039e"/><stop offset="0.392" stop-color="#2e0595"/><stop offset="0.497" stop-color="#2c0594"/><stop offset="0.509" stop-color="#3a049a"/><stop offset="0.526" stop-color="#7801a8"/><stop offset="0.532" stop-color="#8a09a5"/><stop offset="0.538" stop-color="#8f0da4"/><stop offset="0.544" stop-color="#8606a6"/><stop offset="0.556" stop-color="#5302a3"/><stop offset="0.567" stop-color="#280592"/><stop offset="0.579" stop-color="#16078a"/><stop offset="0.626" stop-color="#0d0887"/><stop offset="1.000" stop-color="#0d0887"/></linearGradient>
<linearGradient id="hb17" gradientUnits="userSpaceOnUse" x1="776.8" y1="0" x2="1204.3" y2="0"><stop offset="0.000" stop-color="#0d0887"/><stop offset="0.193" stop-color="#100788"/><stop offset="0.269" stop-color="#20068f"/><stop offset="0.287" stop-color="#370499"/><stop offset="0.298" stop-color="#5901a5"/><stop offset="0.304" stop-color="#7100a8"/><stop offset="0.310" stop-color="#8b0aa5"/><stop offset="0.322" stop-color="#b83289"/><stop offset="0.333" stop-color="#ce4b75"/><stop offset="0.339" stop-color="#cf4c74"/><stop offset="0.345" stop-color="#c5407e"/><stop offset="0.351" stop-color="#b22b8f"/><stop offset="0.357" stop-color="#9511a1"/><stop offset="0.363" stop-color="#7501a8"/><stop offset="0.374" stop-color="#46039f"/><stop offset="0.386" stop-color="#2f0596"/><stop offset="0.421" stop-color="#2c0594"/><stop offset="0.503" stop-color="#2a0593"/><stop offset="0.515" stop-color="#3c049b"/><stop offset="0.526" stop-color="#6700a8"/><stop offset="0.532" stop-color="#8004a8"/><stop offset="0.538" stop-color="#8d0ba5"/><stop offset="0.544" stop-color="#8a09a5"/><stop offset="0.550" stop-color="#7501a8"/><stop offset="0.561" stop-color="#3c049b"/><stop offset="0.573" stop-color="#1b068d"/><stop offset="0.591" stop-color="#100788"/><stop offset="1.000" stop-color="#0d0887"/></linearGradient>
<linearGradient id="hb18" gradientUnits="userSpaceOnUse" x1="776.8" y1="0" x2="1204.3" y2="0"><stop offset="0.000" stop-color="#0d0887"/><stop offset="0.216" stop-color="#100788"/><stop offset="0.281" stop-color="#1d068e"/><stop offset="0.292" stop-color="#2a0593"/><stop offset="0.304" stop-color="#46039f"/><stop offset="0.316" stop-color="#7501a8"/><stop offset="0.327" stop-color="#a82296"/><stop offset="0.339" stop-color="#c33d80"/><stop offset="0.345" stop-color="#c43e7f"/><stop offset="0.351" stop-color="#b83289"/><stop offset="0.357" stop-color="#a11b9b"/><stop offset="0.363" stop-color="#8004a8"/><stop offset="0.368" stop-color="#6001a6"/><stop offset="0.374" stop-color="#48039f"/><stop offset="0.386" stop-color="#2f0596"/><stop offset="0.421" stop-color="#2a0593"/><stop offset="0.491" stop-color="#280592"/><stop offset="0.509" stop-color="#280592"/><stop offset="0.515" stop-color="#2e0595"/><stop offset="0.526" stop-color="#5502a4"/><stop offset="0.538" stop-color="#8606a6"/><stop offset="0.544" stop-color="#8a09a5"/><stop offset="0.550" stop-color="#7701a8"/><stop offset="0.561" stop-color="#3a049a"/><stop offset="0.573" stop-color="#19068c"/><stop offset="0.591" stop-color="#100788"/><stop offset="1.000" stop-color="#0d0887"/></linearGradient>
<linearGradient id="hb19" gradientUnits="userSpaceOnUse" x1="776.8" y1="0" x2="1204.3" y2="0"><stop offset="0.000" stop-color="#0d0887"/><stop offset="0.234" stop-color="#100788"/><stop offset="0.292" stop-color="#1b068d"/><stop offset="0.304" stop-color="#280592"/><stop offset="0.316" stop-color="#46039f"/><stop offset="0.327" stop-color="#7701a8"/><stop offset="0.339" stop-color="#a72197"/><stop offset="0.345" stop-color="#b42e8d"/><stop offset="0.351" stop-color="#b7318a"/><stop offset="0.357" stop-color="#ab2494"/><stop offset="0.363" stop-color="#8e0ca4"/><stop offset="0.368" stop-color="#6900a8"/><stop offset="0.374" stop-color="#4b03a1"/><stop offset="0.380" stop-color="#370499"/><stop offset="0.392" stop-color="#2a0593"/><stop offset="0.491" stop-color="#280592"/><stop offset="0.515" stop-color="#260591"/><stop offset="0.520" stop-color="#2e0595"/><stop offset="0.526" stop-color="#41049d"/><stop offset="0.538" stop-color="#7b02a8"/><stop offset="0.544" stop-color="#8707a6"/><stop offset="0.550" stop-color="#7801a8"/><stop offset="0.561" stop-color="#370499"/><stop offset="0.567" stop-color="#220690"/><stop offset="0.573" stop-color="#16078a"/><stop offset="0.620" stop-color="#0d0887"/><stop offset="1.000" stop-color="#0d0887"/></linearGradient>
<linearGradient id="hb20" gradientUnits="userSpaceOnUse" x1="776.8" y1="0" x2="1204.3" y2="0"><stop offset="0.000" stop-color="#0d0887"/><stop offset="0.257" stop-color="#100788"/><stop offset="0.304" stop-color="#1b068d"/><stop offset="0.316" stop-color="#280592"/><stop offset="0.327" stop-color="#48039f"/><stop offset="0.339" stop-color="#7b02a8"/><stop offset="0.345" stop-color="#9511a1"/><stop offset="0.351" stop-color="#a62098"/><stop offset="0.357" stop-color="#ab2494"/><stop offset="0.363" stop-color="#9a169f"/><stop offset="0.368" stop-color="#7701a8"/><stop offset="0.374" stop-color="#5102a3"/><stop offset="0.380" stop-color="#38049a"/><stop offset="0.392" stop-color="#260591"/><stop offset="0.503" stop-color="#260591"/><stop offset="0.520" stop-color="#240691"/><stop offset="0.526" stop-color="#2f0596"/><stop offset="0.532" stop-color="#48039f"/><stop offset="0.538" stop-color="#6c00a8"/><stop offset="0.544" stop-color="#8405a7"/><stop offset="0.550" stop-color="#7b02a8"/><stop offset="0.556" stop-color="#5801a4"/><stop offset="0.561" stop-color="#350498"/><stop offset="0.567" stop-color="#1d068e"/><stop offset="0.579" stop-color="#100788"/><stop offset="1.000" stop-color="#0d0887"/></linearGradient>
<linearGradient id="cbb" x1="0" y1="0" x2="0" y2="1"><stop offset="0.000" stop-color="#f0f921"/><stop offset="0.025" stop-color="#f3ee27"/><stop offset="0.050" stop-color="#f7e425"/><stop offset="0.075" stop-color="#fad824"/><stop offset="0.100" stop-color="#fcce25"/><stop offset="0.125" stop-color="#fdc527"/><stop offset="0.150" stop-color="#feba2c"/><stop offset="0.175" stop-color="#fdb130"/><stop offset="0.200" stop-color="#fca636"/><stop offset="0.225" stop-color="#fa9e3b"/><stop offset="0.250" stop-color="#f89540"/><stop offset="0.275" stop-color="#f58c46"/><stop offset="0.300" stop-color="#f2844b"/><stop offset="0.325" stop-color="#ee7b51"/><stop offset="0.350" stop-color="#ea7457"/><stop offset="0.375" stop-color="#e66c5c"/><stop offset="0.400" stop-color="#e16462"/><stop offset="0.425" stop-color="#dc5d67"/><stop offset="0.450" stop-color="#d6556d"/><stop offset="0.475" stop-color="#d14e72"/><stop offset="0.500" stop-color="#cc4778"/><stop offset="0.525" stop-color="#c5407e"/><stop offset="0.550" stop-color="#bf3984"/><stop offset="0.575" stop-color="#b7318a"/><stop offset="0.600" stop-color="#b12a90"/><stop offset="0.625" stop-color="#aa2395"/><stop offset="0.650" stop-color="#a11b9b"/><stop offset="0.675" stop-color="#99159f"/><stop offset="0.700" stop-color="#8f0da4"/><stop offset="0.725" stop-color="#8707a6"/><stop offset="0.750" stop-color="#7e03a8"/><stop offset="0.775" stop-color="#7401a8"/><stop offset="0.800" stop-color="#6a00a8"/><stop offset="0.825" stop-color="#6001a6"/><stop offset="0.850" stop-color="#5601a4"/><stop offset="0.875" stop-color="#4c02a1"/><stop offset="0.900" stop-color="#41049d"/><stop offset="0.925" stop-color="#370499"/><stop offset="0.950" stop-color="#2a0593"/><stop offset="0.975" stop-color="#1d068e"/><stop offset="1.000" stop-color="#0d0887"/></linearGradient>
<linearGradient id="hc0" gradientUnits="userSpaceOnUse" x1="1443" y1="0" x2="1872.2" y2="0"><stop offset="0.000" stop-color="#0d0887"/><stop offset="0.414" stop-color="#100788"/><stop offset="0.478" stop-color="#1b068d"/><stop offset="0.507" stop-color="#330597"/><stop offset="0.524" stop-color="#5502a4"/><stop offset="0.536" stop-color="#7501a8"/><stop offset="0.542" stop-color="#8a09a5"/><stop offset="0.553" stop-color="#b42e8d"/><stop offset="0.571" stop-color="#e97158"/><stop offset="0.582" stop-color="#fca537"/><stop offset="0.588" stop-color="#fec029"/><stop offset="0.600" stop-color="#f4ed27"/><stop offset="0.606" stop-color="#f0f921"/><stop offset="0.617" stop-color="#f0f921"/><stop offset="0.623" stop-color="#f4ed27"/><stop offset="0.629" stop-color="#fcd025"/><stop offset="0.635" stop-color="#fdac33"/><stop offset="0.641" stop-color="#f3854b"/><stop offset="0.652" stop-color="#c7427c"/><stop offset="0.658" stop-color="#aa2395"/><stop offset="0.664" stop-color="#8b0aa5"/><stop offset="0.670" stop-color="#6f00a8"/><stop offset="0.682" stop-color="#43039e"/><stop offset="0.699" stop-color="#20068f"/><stop offset="0.722" stop-color="#0d0887"/><stop offset="0.996" stop-color="#0d0887"/></linearGradient>
<linearGradient id="hc1" gradientUnits="userSpaceOnUse" x1="1443" y1="0" x2="1872.2" y2="0"><stop offset="0.000" stop-color="#0d0887"/><stop offset="0.408" stop-color="#100788"/><stop offset="0.472" stop-color="#1b068d"/><stop offset="0.501" stop-color="#2f0596"/><stop offset="0.524" stop-color="#5901a5"/><stop offset="0.536" stop-color="#7b02a8"/><stop offset="0.548" stop-color="#a51f99"/><stop offset="0.571" stop-color="#ea7457"/><stop offset="0.582" stop-color="#fca338"/><stop offset="0.594" stop-color="#fcce25"/><stop offset="0.606" stop-color="#f6e626"/><stop offset="0.612" stop-color="#f6e826"/><stop offset="0.617" stop-color="#f9dd25"/><stop offset="0.623" stop-color="#fdc627"/><stop offset="0.629" stop-color="#fca835"/><stop offset="0.635" stop-color="#f3854b"/><stop offset="0.647" stop-color="#c8437b"/><stop offset="0.658" stop-color="#8e0ca4"/><stop offset="0.664" stop-color="#7100a8"/><stop offset="0.676" stop-color="#44039e"/><stop offset="0.693" stop-color="#20068f"/><stop offset="0.716" stop-color="#0d0887"/><stop offset="0.996" stop-color="#0d0887"/></linearGradient>
<linearGradient id="hc2" gradientUnits="userSpaceOnUse" x1="1443" y1="0" x2="1872.2" y2="0"><stop offset="0.000" stop-color="#0d0887"/><stop offset="0.402" stop-color="#100788"/><stop offset="0.478" stop-color="#1d068e"/><stop offset="0.507" stop-color="#3a049a"/><stop offset="0.524" stop-color="#5e01a6"/><stop offset="0.536" stop-color="#8104a7"/><stop offset="0.548" stop-color="#a82296"/><stop offset="0.565" stop-color="#dd5e66"/><stop offset="0.582" stop-color="#fa9e3b"/><stop offset="0.594" stop-color="#febe2a"/><stop offset="0.606" stop-color="#fccd25"/><stop offset="0.612" stop-color="#fdc827"/><stop offset="0.617" stop-color="#feb72d"/><stop offset="0.629" stop-color="#ef7c51"/><stop offset="0.641" stop-color="#c43e7f"/><stop offset="0.652" stop-color="#8a09a5"/><stop offset="0.658" stop-color="#6c00a8"/><stop offset="0.676" stop-color="#310597"/><stop offset="0.693" stop-color="#19068c"/><stop offset="0.716" stop-color="#0d0887"/><stop offset="0.996" stop-color="#0d0887"/></linearGradient>
<linearGradient id="hc3" gradientUnits="userSpaceOnUse" x1="1443" y1="0" x2="1872.2" y2="0"><stop offset="0.000" stop-color="#0d0887"/><stop offset="0.396" stop-color="#100788"/><stop offset="0.478" stop-color="#1d068e"/><stop offset="0.501" stop-color="#310597"/><stop offset="0.524" stop-color="#5e01a6"/><stop offset="0.536" stop-color="#8104a7"/><stop offset="0.548" stop-color="#aa2395"/><stop offset="0.571" stop-color="#e76f5a"/><stop offset="0.588" stop-color="#fa9e3b"/><stop offset="0.600" stop-color="#fca835"/><stop offset="0.606" stop-color="#fca338"/><stop offset="0.617" stop-color="#ed7a52"/><stop offset="0.629" stop-color="#c6417d"/><stop offset="0.641" stop-color="#8d0ba5"/><stop offset="0.647" stop-color="#6f00a8"/><stop offset="0.658" stop-color="#43039e"/><stop offset="0.676" stop-color="#1d068e"/><stop offset="0.705" stop-color="#0d0887"/><stop offset="0.996" stop-color="#0d0887"/></linearGradient>
<linearGradient id="hc4" gradientUnits="userSpaceOnUse" x1="1443" y1="0" x2="1872.2" y2="0"><stop offset="0.000" stop-color="#0d0887"/><stop offset="0.390" stop-color="#100788"/><stop offset="0.478" stop-color="#1b068d"/><stop offset="0.507" stop-color="#330597"/><stop offset="0.530" stop-color="#6600a7"/><stop offset="0.536" stop-color="#7801a8"/><stop offset="0.548" stop-color="#a11b9b"/><stop offset="0.565" stop-color="#d35171"/><stop offset="0.582" stop-color="#ed7a52"/><stop offset="0.594" stop-color="#f2844b"/><stop offset="0.600" stop-color="#ef7e50"/><stop offset="0.612" stop-color="#da5a6a"/><stop offset="0.623" stop-color="#ac2694"/><stop offset="0.629" stop-color="#8e0ca4"/><stop offset="0.635" stop-color="#7100a8"/><stop offset="0.647" stop-color="#43039e"/><stop offset="0.664" stop-color="#1d068e"/><stop offset="0.693" stop-color="#0d0887"/><stop offset="0.996" stop-color="#0d0887"/></linearGradient>
<linearGradient id="hc5" gradientUnits="userSpaceOnUse" x1="1443" y1="0" x2="1872.2" y2="0"><stop offset="0.000" stop-color="#0d0887"/><stop offset="0.384" stop-color="#100788"/><stop offset="0.483" stop-color="#1b068d"/><stop offset="0.507" stop-color="#2a0593"/><stop offset="0.524" stop-color="#48039f"/><stop offset="0.542" stop-color="#7d03a8"/><stop offset="0.553" stop-color="#a62098"/><stop offset="0.571" stop-color="#d24f71"/><stop offset="0.582" stop-color="#de5f65"/><stop offset="0.588" stop-color="#de5f65"/><stop offset="0.600" stop-color="#cc4778"/><stop offset="0.612" stop-color="#a01a9c"/><stop offset="0.617" stop-color="#8305a7"/><stop offset="0.629" stop-color="#4e02a2"/><stop offset="0.647" stop-color="#220690"/><stop offset="0.670" stop-color="#100788"/><stop offset="0.996" stop-color="#0d0887"/></linearGradient>
<linearGradient id="hc6" gradientUnits="userSpaceOnUse" x1="1443" y1="0" x2="1872.2" y2="0"><stop offset="0.000" stop-color="#0d0887"/><stop offset="0.221" stop-color="#100788"/><stop offset="0.483" stop-color="#220690"/><stop offset="0.507" stop-color="#310597"/><stop offset="0.524" stop-color="#5302a3"/><stop offset="0.536" stop-color="#7701a8"/><stop offset="0.548" stop-color="#9d189d"/><stop offset="0.565" stop-color="#c23c81"/><stop offset="0.577" stop-color="#c7427c"/><stop offset="0.588" stop-color="#b32c8e"/><stop offset="0.600" stop-color="#8606a6"/><stop offset="0.612" stop-color="#5302a3"/><stop offset="0.623" stop-color="#310597"/><stop offset="0.641" stop-color="#16078a"/><stop offset="0.687" stop-color="#0d0887"/><stop offset="0.996" stop-color="#0d0887"/></linearGradient>
<linearGradient id="hc7" gradientUnits="userSpaceOnUse" x1="1443" y1="0" x2="1872.2" y2="0"><stop offset="0.000" stop-color="#130789"/><stop offset="0.221" stop-color="#20068f"/><stop offset="0.250" stop-color="#350498"/><stop offset="0.285" stop-color="#7401a8"/><stop offset="0.303" stop-color="#8f0da4"/><stop offset="0.320" stop-color="#910ea3"/><stop offset="0.338" stop-color="#7100a8"/><stop offset="0.361" stop-color="#3e049c"/><stop offset="0.384" stop-color="#280592"/><stop offset="0.460" stop-color="#260591"/><stop offset="0.483" stop-color="#330597"/><stop offset="0.501" stop-color="#5002a2"/><stop offset="0.518" stop-color="#7e03a8"/><stop offset="0.536" stop-color="#ad2793"/><stop offset="0.553" stop-color="#c43e7f"/><stop offset="0.565" stop-color="#c5407e"/><stop offset="0.577" stop-color="#b42e8d"/><stop offset="0.588" stop-color="#8d0ba5"/><stop offset="0.594" stop-color="#7401a8"/><stop offset="0.612" stop-color="#370499"/><stop offset="0.629" stop-color="#19068c"/><stop offset="0.658" stop-color="#0d0887"/><stop offset="0.996" stop-color="#0d0887"/></linearGradient>
<linearGradient id="hc8" gradientUnits="userSpaceOnUse" x1="1443" y1="0" x2="1872.2" y2="0"><stop offset="0.000" stop-color="#130789"/><stop offset="0.216" stop-color="#260591"/><stop offset="0.239" stop-color="#38049a"/><stop offset="0.256" stop-color="#5b01a5"/><stop offset="0.268" stop-color="#8104a7"/><stop offset="0.280" stop-color="#aa2395"/><stop offset="0.297" stop-color="#d7566c"/><stop offset="0.309" stop-color="#e56a5d"/><stop offset="0.320" stop-color="#e3685f"/><stop offset="0.332" stop-color="#cc4977"/><stop offset="0.344" stop-color="#a21d9a"/><stop offset="0.349" stop-color="#8a09a5"/><stop offset="0.355" stop-color="#7100a8"/><stop offset="0.367" stop-color="#4c02a1"/><stop offset="0.384" stop-color="#330597"/><stop offset="0.431" stop-color="#2c0594"/><stop offset="0.466" stop-color="#310597"/><stop offset="0.483" stop-color="#44039e"/><stop offset="0.501" stop-color="#7201a8"/><stop offset="0.507" stop-color="#8606a6"/><stop offset="0.518" stop-color="#ab2494"/><stop offset="0.530" stop-color="#c03a83"/><stop offset="0.542" stop-color="#c23c81"/><stop offset="0.553" stop-color="#ae2892"/><stop offset="0.565" stop-color="#8808a6"/><stop offset="0.571" stop-color="#7100a8"/><stop offset="0.588" stop-color="#38049a"/><stop offset="0.606" stop-color="#1b068d"/><stop offset="0.629" stop-color="#100788"/><stop offset="0.996" stop-color="#0d0887"/></linearGradient>
<linearGradient id="hc9" gradientUnits="userSpaceOnUse" x1="1443" y1="0" x2="1872.2" y2="0"><stop offset="0.000" stop-color="#130789"/><stop offset="0.204" stop-color="#260591"/><stop offset="0.233" stop-color="#38049a"/><stop offset="0.245" stop-color="#4e02a2"/><stop offset="0.256" stop-color="#7401a8"/><stop offset="0.262" stop-color="#8b0aa5"/><stop offset="0.274" stop-color="#be3885"/><stop offset="0.285" stop-color="#e76e5b"/><stop offset="0.297" stop-color="#fca835"/><stop offset="0.303" stop-color="#fec029"/><stop offset="0.309" stop-color="#fcd025"/><stop offset="0.315" stop-color="#fbd724"/><stop offset="0.320" stop-color="#fccd25"/><stop offset="0.326" stop-color="#fdb52e"/><stop offset="0.332" stop-color="#f79342"/><stop offset="0.344" stop-color="#ce4b75"/><stop offset="0.355" stop-color="#920fa3"/><stop offset="0.361" stop-color="#7501a8"/><stop offset="0.373" stop-color="#4e02a2"/><stop offset="0.384" stop-color="#3c049b"/><stop offset="0.414" stop-color="#330597"/><stop offset="0.466" stop-color="#38049a"/><stop offset="0.483" stop-color="#4e02a2"/><stop offset="0.501" stop-color="#7d03a8"/><stop offset="0.518" stop-color="#b02991"/><stop offset="0.530" stop-color="#bb3488"/><stop offset="0.542" stop-color="#b02991"/><stop offset="0.553" stop-color="#8d0ba5"/><stop offset="0.559" stop-color="#7501a8"/><stop offset="0.577" stop-color="#3c049b"/><stop offset="0.588" stop-color="#240691"/><stop offset="0.617" stop-color="#100788"/><stop offset="0.996" stop-color="#0d0887"/></linearGradient>
<linearGradient id="hc10" gradientUnits="userSpaceOnUse" x1="1443" y1="0" x2="1872.2" y2="0"><stop offset="0.000" stop-color="#100788"/><stop offset="0.216" stop-color="#260591"/><stop offset="0.239" stop-color="#3a049a"/><stop offset="0.256" stop-color="#6300a7"/><stop offset="0.262" stop-color="#7a02a8"/><stop offset="0.268" stop-color="#920fa3"/><stop offset="0.280" stop-color="#c5407e"/><stop offset="0.291" stop-color="#ec7754"/><stop offset="0.303" stop-color="#fdae32"/><stop offset="0.309" stop-color="#fdc229"/><stop offset="0.315" stop-color="#fdcb26"/><stop offset="0.320" stop-color="#fdca26"/><stop offset="0.326" stop-color="#fdb52e"/><stop offset="0.332" stop-color="#f89540"/><stop offset="0.338" stop-color="#e97158"/><stop offset="0.349" stop-color="#b42e8d"/><stop offset="0.355" stop-color="#9410a2"/><stop offset="0.361" stop-color="#7701a8"/><stop offset="0.367" stop-color="#5e01a6"/><stop offset="0.379" stop-color="#43039e"/><stop offset="0.396" stop-color="#350498"/><stop offset="0.466" stop-color="#350498"/><stop offset="0.483" stop-color="#43039e"/><stop offset="0.495" stop-color="#5b01a5"/><stop offset="0.507" stop-color="#8004a8"/><stop offset="0.518" stop-color="#a51f99"/><stop offset="0.530" stop-color="#b6308b"/><stop offset="0.542" stop-color="#b02991"/><stop offset="0.553" stop-color="#8f0da4"/><stop offset="0.559" stop-color="#7801a8"/><stop offset="0.577" stop-color="#3a049a"/><stop offset="0.594" stop-color="#1b068d"/><stop offset="0.623" stop-color="#100788"/><stop offset="0.996" stop-color="#0d0887"/></linearGradient>
<linearGradient id="hc11" gradientUnits="userSpaceOnUse" x1="1443" y1="0" x2="1872.2" y2="0"><stop offset="0.000" stop-color="#100788"/><stop offset="0.210" stop-color="#220690"/><stop offset="0.233" stop-color="#2e0595"/><stop offset="0.250" stop-color="#46039f"/><stop offset="0.262" stop-color="#6700a8"/><stop offset="0.268" stop-color="#8004a8"/><stop offset="0.274" stop-color="#99159f"/><stop offset="0.291" stop-color="#e06363"/><stop offset="0.303" stop-color="#fa9b3d"/><stop offset="0.315" stop-color="#febe2a"/><stop offset="0.320" stop-color="#fdc229"/><stop offset="0.326" stop-color="#fdb42f"/><stop offset="0.332" stop-color="#f9983e"/><stop offset="0.338" stop-color="#eb7556"/><stop offset="0.349" stop-color="#b6308b"/><stop offset="0.355" stop-color="#9613a1"/><stop offset="0.361" stop-color="#7701a8"/><stop offset="0.373" stop-color="#4c02a1"/><stop offset="0.384" stop-color="#3a049a"/><stop offset="0.419" stop-color="#330597"/><stop offset="0.478" stop-color="#370499"/><stop offset="0.495" stop-color="#4e02a2"/><stop offset="0.507" stop-color="#6f00a8"/><stop offset="0.513" stop-color="#8405a7"/><stop offset="0.524" stop-color="#a72197"/><stop offset="0.536" stop-color="#b42e8d"/><stop offset="0.548" stop-color="#a31e9a"/><stop offset="0.559" stop-color="#7a02a8"/><stop offset="0.577" stop-color="#3a049a"/><stop offset="0.588" stop-color="#220690"/><stop offset="0.612" stop-color="#100788"/><stop offset="0.996" stop-color="#0d0887"/></linearGradient>
<linearGradient id="hc12" gradientUnits="userSpaceOnUse" x1="1443" y1="0" x2="1872.2" y2="0"><stop offset="0.000" stop-color="#0d0887"/><stop offset="0.227" stop-color="#240691"/><stop offset="0.250" stop-color="#3a049a"/><stop offset="0.262" stop-color="#5601a4"/><stop offset="0.274" stop-color="#8305a7"/><stop offset="0.280" stop-color="#9e199d"/><stop offset="0.297" stop-color="#e4695e"/><stop offset="0.309" stop-color="#fa9c3c"/><stop offset="0.315" stop-color="#fdaf31"/><stop offset="0.320" stop-color="#feb72d"/><stop offset="0.326" stop-color="#fdb130"/><stop offset="0.332" stop-color="#fa9b3d"/><stop offset="0.338" stop-color="#ed7a52"/><stop offset="0.349" stop-color="#bb3488"/><stop offset="0.355" stop-color="#9a169f"/><stop offset="0.361" stop-color="#7a02a8"/><stop offset="0.373" stop-color="#4c02a1"/><stop offset="0.390" stop-color="#350498"/><stop offset="0.483" stop-color="#350498"/><stop offset="0.501" stop-color="#4e02a2"/><stop offset="0.513" stop-color="#7401a8"/><stop offset="0.524" stop-color="#9c179e"/><stop offset="0.536" stop-color="#b02991"/><stop offset="0.542" stop-color="#ae2892"/><stop offset="0.553" stop-color="#9410a2"/><stop offset="0.559" stop-color="#7b02a8"/><stop offset="0.577" stop-color="#38049a"/><stop offset="0.594" stop-color="#19068c"/><stop offset="0.641" stop-color="#0d0887"/><stop offset="0.996" stop-color="#0d0887"/></linearGradient>
<linearGradient id="hc13" gradientUnits="userSpaceOnUse" x1="1443" y1="0" x2="1872.2" y2="0"><stop offset="0.000" stop-color="#0d0887"/><stop offset="0.221" stop-color="#20068f"/><stop offset="0.250" stop-color="#2f0596"/><stop offset="0.262" stop-color="#43039e"/><stop offset="0.274" stop-color="#6600a7"/><stop offset="0.280" stop-color="#7e03a8"/><stop offset="0.285" stop-color="#9a169f"/><stop offset="0.303" stop-color="#e26561"/><stop offset="0.315" stop-color="#f89540"/><stop offset="0.320" stop-color="#fca537"/><stop offset="0.326" stop-color="#fca835"/><stop offset="0.332" stop-color="#fa9c3c"/><stop offset="0.338" stop-color="#f1834c"/><stop offset="0.344" stop-color="#df6263"/><stop offset="0.355" stop-color="#a51f99"/><stop offset="0.361" stop-color="#8305a7"/><stop offset="0.367" stop-color="#6600a7"/><stop offset="0.379" stop-color="#43039e"/><stop offset="0.396" stop-color="#330597"/><stop offset="0.489" stop-color="#350498"/><stop offset="0.501" stop-color="#44039e"/><stop offset="0.518" stop-color="#7a02a8"/><stop offset="0.530" stop-color="#a11b9b"/><stop offset="0.536" stop-color="#ab2494"/><stop offset="0.542" stop-color="#ac2694"/><stop offset="0.548" stop-color="#a31e9a"/><stop offset="0.559" stop-color="#7b02a8"/><stop offset="0.571" stop-color="#4903a0"/><stop offset="0.582" stop-color="#280592"/><stop offset="0.600" stop-color="#130789"/><stop offset="0.658" stop-color="#0d0887"/><stop offset="0.996" stop-color="#0d0887"/></linearGradient>
<linearGradient id="hc14" gradientUnits="userSpaceOnUse" x1="1443" y1="0" x2="1872.2" y2="0"><stop offset="0.000" stop-color="#0d0887"/><stop offset="0.186" stop-color="#19068c"/><stop offset="0.245" stop-color="#240691"/><stop offset="0.262" stop-color="#350498"/><stop offset="0.274" stop-color="#4e02a2"/><stop offset="0.285" stop-color="#7a02a8"/><stop offset="0.291" stop-color="#9613a1"/><stop offset="0.303" stop-color="#cb4679"/><stop offset="0.315" stop-color="#ed7a52"/><stop offset="0.326" stop-color="#f99a3e"/><stop offset="0.332" stop-color="#f9983e"/><stop offset="0.338" stop-color="#f48849"/><stop offset="0.349" stop-color="#cd4a76"/><stop offset="0.355" stop-color="#ae2892"/><stop offset="0.361" stop-color="#8b0aa5"/><stop offset="0.367" stop-color="#6c00a8"/><stop offset="0.379" stop-color="#44039e"/><stop offset="0.390" stop-color="#350498"/><stop offset="0.489" stop-color="#310597"/><stop offset="0.507" stop-color="#46039f"/><stop offset="0.518" stop-color="#6c00a8"/><stop offset="0.524" stop-color="#8305a7"/><stop offset="0.536" stop-color="#a51f99"/><stop offset="0.542" stop-color="#a82296"/><stop offset="0.548" stop-color="#a31e9a"/><stop offset="0.559" stop-color="#7a02a8"/><stop offset="0.571" stop-color="#46039f"/><stop offset="0.582" stop-color="#260591"/><stop offset="0.594" stop-color="#16078a"/><stop offset="0.641" stop-color="#0d0887"/><stop offset="0.996" stop-color="#0d0887"/></linearGradient>
<linearGradient id="hc15" gradientUnits="userSpaceOnUse" x1="1443" y1="0" x2="1872.2" y2="0"><stop offset="0.000" stop-color="#0d0887"/><stop offset="0.157" stop-color="#130789"/><stop offset="0.256" stop-color="#240691"/><stop offset="0.274" stop-color="#3a049a"/><stop offset="0.285" stop-color="#5b01a5"/><stop offset="0.291" stop-color="#7401a8"/><stop offset="0.297" stop-color="#8f0da4"/><stop offset="0.309" stop-color="#c7427c"/><stop offset="0.320" stop-color="#ea7457"/><stop offset="0.326" stop-color="#f3854b"/><stop offset="0.332" stop-color="#f68d45"/><stop offset="0.338" stop-color="#f3874a"/><stop offset="0.344" stop-color="#e97158"/><stop offset="0.355" stop-color="#b7318a"/><stop offset="0.361" stop-color="#9511a1"/><stop offset="0.367" stop-color="#7201a8"/><stop offset="0.373" stop-color="#5801a4"/><stop offset="0.384" stop-color="#3a049a"/><stop offset="0.402" stop-color="#310597"/><stop offset="0.495" stop-color="#310597"/><stop offset="0.507" stop-color="#3c049b"/><stop offset="0.518" stop-color="#5c01a6"/><stop offset="0.524" stop-color="#7201a8"/><stop offset="0.536" stop-color="#9c179e"/><stop offset="0.542" stop-color="#a31e9a"/><stop offset="0.548" stop-color="#a11b9b"/><stop offset="0.553" stop-color="#920fa3"/><stop offset="0.559" stop-color="#7a02a8"/><stop offset="0.571" stop-color="#44039e"/><stop offset="0.582" stop-color="#220690"/><stop offset="0.606" stop-color="#100788"/><stop offset="0.996" stop-color="#0d0887"/></linearGradient>
<linearGradient id="hc16" gradientUnits="userSpaceOnUse" x1="1443" y1="0" x2="1872.2" y2="0"><stop offset="0.000" stop-color="#0d0887"/><stop offset="0.146" stop-color="#100788"/><stop offset="0.262" stop-color="#220690"/><stop offset="0.280" stop-color="#350498"/><stop offset="0.291" stop-color="#5302a3"/><stop offset="0.297" stop-color="#6a00a8"/><stop offset="0.303" stop-color="#8808a6"/><stop offset="0.309" stop-color="#a62098"/><stop offset="0.320" stop-color="#d7566c"/><stop offset="0.332" stop-color="#ef7c51"/><stop offset="0.338" stop-color="#f0804e"/><stop offset="0.344" stop-color="#ea7457"/><stop offset="0.349" stop-color="#da5a6a"/><stop offset="0.355" stop-color="#bf3984"/><stop offset="0.361" stop-color="#9c179e"/><stop offset="0.367" stop-color="#7801a8"/><stop offset="0.373" stop-color="#5b01a5"/><stop offset="0.379" stop-color="#46039f"/><stop offset="0.390" stop-color="#330597"/><stop offset="0.501" stop-color="#2f0596"/><stop offset="0.513" stop-color="#3e049c"/><stop offset="0.524" stop-color="#6100a7"/><stop offset="0.530" stop-color="#7a02a8"/><stop offset="0.536" stop-color="#8f0da4"/><stop offset="0.542" stop-color="#9d189d"/><stop offset="0.548" stop-color="#9e199d"/><stop offset="0.553" stop-color="#910ea3"/><stop offset="0.559" stop-color="#7801a8"/><stop offset="0.571" stop-color="#41049d"/><stop offset="0.582" stop-color="#20068f"/><stop offset="0.600" stop-color="#100788"/><stop offset="0.996" stop-color="#0d0887"/></linearGradient>
<linearGradient id="hc17" gradientUnits="userSpaceOnUse" x1="1443" y1="0" x2="1872.2" y2="0"><stop offset="0.000" stop-color="#0d0887"/><stop offset="0.169" stop-color="#100788"/><stop offset="0.274" stop-color="#220690"/><stop offset="0.285" stop-color="#2e0595"/><stop offset="0.297" stop-color="#4b03a1"/><stop offset="0.309" stop-color="#8004a8"/><stop offset="0.315" stop-color="#a01a9c"/><stop offset="0.326" stop-color="#d35171"/><stop offset="0.338" stop-color="#e97257"/><stop offset="0.344" stop-color="#e97158"/><stop offset="0.349" stop-color="#dd5e66"/><stop offset="0.355" stop-color="#c6417d"/><stop offset="0.361" stop-color="#a51f99"/><stop offset="0.367" stop-color="#7e03a8"/><stop offset="0.373" stop-color="#5e01a6"/><stop offset="0.379" stop-color="#48039f"/><stop offset="0.390" stop-color="#330597"/><stop offset="0.507" stop-color="#2e0595"/><stop offset="0.518" stop-color="#3f049c"/><stop offset="0.530" stop-color="#6900a8"/><stop offset="0.536" stop-color="#8305a7"/><stop offset="0.542" stop-color="#9410a2"/><stop offset="0.548" stop-color="#9a169f"/><stop offset="0.553" stop-color="#8f0da4"/><stop offset="0.559" stop-color="#7701a8"/><stop offset="0.571" stop-color="#3e049c"/><stop offset="0.582" stop-color="#1d068e"/><stop offset="0.600" stop-color="#100788"/><stop offset="0.996" stop-color="#0d0887"/></linearGradient>
<linearGradient id="hc18" gradientUnits="userSpaceOnUse" x1="1443" y1="0" x2="1872.2" y2="0"><stop offset="0.000" stop-color="#0d0887"/><stop offset="0.192" stop-color="#100788"/><stop offset="0.280" stop-color="#1d068e"/><stop offset="0.297" stop-color="#2f0596"/><stop offset="0.309" stop-color="#5102a3"/><stop offset="0.315" stop-color="#6c00a8"/><stop offset="0.320" stop-color="#8d0ba5"/><stop offset="0.332" stop-color="#c7427c"/><stop offset="0.338" stop-color="#d8576b"/><stop offset="0.344" stop-color="#e06363"/><stop offset="0.349" stop-color="#de5f65"/><stop offset="0.355" stop-color="#cc4778"/><stop offset="0.361" stop-color="#ac2694"/><stop offset="0.367" stop-color="#8305a7"/><stop offset="0.373" stop-color="#5e01a6"/><stop offset="0.379" stop-color="#44039e"/><stop offset="0.390" stop-color="#2f0596"/><stop offset="0.513" stop-color="#2e0595"/><stop offset="0.518" stop-color="#330597"/><stop offset="0.524" stop-color="#41049d"/><stop offset="0.536" stop-color="#7401a8"/><stop offset="0.542" stop-color="#8b0aa5"/><stop offset="0.548" stop-color="#9511a1"/><stop offset="0.553" stop-color="#8e0ca4"/><stop offset="0.559" stop-color="#7401a8"/><stop offset="0.571" stop-color="#370499"/><stop offset="0.582" stop-color="#19068c"/><stop offset="0.600" stop-color="#100788"/><stop offset="0.996" stop-color="#0d0887"/></linearGradient>
<linearGradient id="hc19" gradientUnits="userSpaceOnUse" x1="1443" y1="0" x2="1872.2" y2="0"><stop offset="0.000" stop-color="#0d0887"/><stop offset="0.210" stop-color="#100788"/><stop offset="0.297" stop-color="#20068f"/><stop offset="0.309" stop-color="#2f0596"/><stop offset="0.320" stop-color="#5801a4"/><stop offset="0.326" stop-color="#7701a8"/><stop offset="0.332" stop-color="#99159f"/><stop offset="0.338" stop-color="#b7318a"/><stop offset="0.344" stop-color="#cc4778"/><stop offset="0.349" stop-color="#d5536f"/><stop offset="0.355" stop-color="#cf4c74"/><stop offset="0.361" stop-color="#b52f8c"/><stop offset="0.367" stop-color="#8a09a5"/><stop offset="0.373" stop-color="#5e01a6"/><stop offset="0.379" stop-color="#41049d"/><stop offset="0.384" stop-color="#330597"/><stop offset="0.408" stop-color="#2c0594"/><stop offset="0.501" stop-color="#2c0594"/><stop offset="0.518" stop-color="#2c0594"/><stop offset="0.524" stop-color="#330597"/><stop offset="0.530" stop-color="#46039f"/><stop offset="0.542" stop-color="#7e03a8"/><stop offset="0.548" stop-color="#910ea3"/><stop offset="0.553" stop-color="#8b0aa5"/><stop offset="0.559" stop-color="#6f00a8"/><stop offset="0.565" stop-color="#4b03a1"/><stop offset="0.571" stop-color="#2f0596"/><stop offset="0.577" stop-color="#1d068e"/><stop offset="0.594" stop-color="#100788"/><stop offset="0.996" stop-color="#0d0887"/></linearGradient>
<linearGradient id="hc20" gradientUnits="userSpaceOnUse" x1="1443" y1="0" x2="1872.2" y2="0"><stop offset="0.000" stop-color="#0d0887"/><stop offset="0.233" stop-color="#100788"/><stop offset="0.309" stop-color="#20068f"/><stop offset="0.320" stop-color="#310597"/><stop offset="0.326" stop-color="#44039e"/><stop offset="0.338" stop-color="#8305a7"/><stop offset="0.344" stop-color="#a62098"/><stop offset="0.349" stop-color="#be3885"/><stop offset="0.355" stop-color="#c8437b"/><stop offset="0.361" stop-color="#be3885"/><stop offset="0.367" stop-color="#9511a1"/><stop offset="0.373" stop-color="#6100a7"/><stop offset="0.379" stop-color="#3e049c"/><stop offset="0.384" stop-color="#2e0595"/><stop offset="0.443" stop-color="#2e0595"/><stop offset="0.507" stop-color="#2a0593"/><stop offset="0.524" stop-color="#2a0593"/><stop offset="0.530" stop-color="#350498"/><stop offset="0.536" stop-color="#4c02a1"/><stop offset="0.542" stop-color="#6e00a8"/><stop offset="0.548" stop-color="#8808a6"/><stop offset="0.553" stop-color="#8a09a5"/><stop offset="0.559" stop-color="#6a00a8"/><stop offset="0.565" stop-color="#43039e"/><stop offset="0.571" stop-color="#260591"/><stop offset="0.582" stop-color="#130789"/><stop offset="0.658" stop-color="#0d0887"/><stop offset="0.996" stop-color="#0d0887"/></linearGradient>
<linearGradient id="cbc" x1="0" y1="0" x2="0" y2="1"><stop offset="0.000" stop-color="#f0f921"/><stop offset="0.025" stop-color="#f3ee27"/><stop offset="0.050" stop-color="#f7e425"/><stop offset="0.075" stop-color="#fad824"/><stop offset="0.100" stop-color="#fcce25"/><stop offset="0.125" stop-color="#fdc527"/><stop offset="0.150" stop-color="#feba2c"/><stop offset="0.175" stop-color="#fdb130"/><stop offset="0.200" stop-color="#fca636"/><stop offset="0.225" stop-color="#fa9e3b"/><stop offset="0.250" stop-color="#f89540"/><stop offset="0.275" stop-color="#f58c46"/><stop offset="0.300" stop-color="#f2844b"/><stop offset="0.325" stop-color="#ee7b51"/><stop offset="0.350" stop-color="#ea7457"/><stop offset="0.375" stop-color="#e66c5c"/><stop offset="0.400" stop-color="#e16462"/><stop offset="0.425" stop-color="#dc5d67"/><stop offset="0.450" stop-color="#d6556d"/><stop offset="0.475" stop-color="#d14e72"/><stop offset="0.500" stop-color="#cc4778"/><stop offset="0.525" stop-color="#c5407e"/><stop offset="0.550" stop-color="#bf3984"/><stop offset="0.575" stop-color="#b7318a"/><stop offset="0.600" stop-color="#b12a90"/><stop offset="0.625" stop-color="#aa2395"/><stop offset="0.650" stop-color="#a11b9b"/><stop offset="0.675" stop-color="#99159f"/><stop offset="0.700" stop-color="#8f0da4"/><stop offset="0.725" stop-color="#8707a6"/><stop offset="0.750" stop-color="#7e03a8"/><stop offset="0.775" stop-color="#7401a8"/><stop offset="0.800" stop-color="#6a00a8"/><stop offset="0.825" stop-color="#6001a6"/><stop offset="0.850" stop-color="#5601a4"/><stop offset="0.875" stop-color="#4c02a1"/><stop offset="0.900" stop-color="#41049d"/><stop offset="0.925" stop-color="#370499"/><stop offset="0.950" stop-color="#2a0593"/><stop offset="0.975" stop-color="#1d068e"/><stop offset="1.000" stop-color="#0d0887"/></linearGradient>
<linearGradient id="rf0" gradientUnits="userSpaceOnUse" x1="766.5" y1="0" x2="1224" y2="0"><stop offset="0.000" stop-color="#3e639b"/><stop offset="0.166" stop-color="#3e639b"/><stop offset="0.175" stop-color="#3d6098"/><stop offset="0.184" stop-color="#4d7ab4"/><stop offset="0.192" stop-color="#94bcd8"/><stop offset="0.197" stop-color="#d0e5ee"/><stop offset="0.201" stop-color="#f5ebbc"/><stop offset="0.205" stop-color="#fbcc87"/><stop offset="0.210" stop-color="#fbc783"/><stop offset="0.214" stop-color="#f7e6a9"/><stop offset="0.219" stop-color="#e2efef"/><stop offset="0.223" stop-color="#a3c8de"/><stop offset="0.232" stop-color="#6590c1"/><stop offset="0.240" stop-color="#4875b1"/><stop offset="0.297" stop-color="#537fb7"/><stop offset="0.678" stop-color="#4673b0"/><stop offset="0.713" stop-color="#436ca8"/><stop offset="0.726" stop-color="#3d629a"/><stop offset="0.739" stop-color="#4b78b3"/><stop offset="0.748" stop-color="#85aed2"/><stop offset="0.756" stop-color="#d4e7ee"/><stop offset="0.761" stop-color="#d8e9ef"/><stop offset="0.765" stop-color="#b8d6e6"/><stop offset="0.774" stop-color="#6b95c5"/><stop offset="0.778" stop-color="#527eb7"/><stop offset="0.787" stop-color="#446eaa"/><stop offset="0.997" stop-color="#4774b1"/></linearGradient>
<linearGradient id="rf1" gradientUnits="userSpaceOnUse" x1="766.5" y1="0" x2="1224" y2="0"><stop offset="0.000" stop-color="#3e639c"/><stop offset="0.166" stop-color="#3e639b"/><stop offset="0.175" stop-color="#3d6199"/><stop offset="0.184" stop-color="#4d7ab4"/><stop offset="0.192" stop-color="#94bcd8"/><stop offset="0.197" stop-color="#d0e4ee"/><stop offset="0.201" stop-color="#f5ebbd"/><stop offset="0.205" stop-color="#fbcd88"/><stop offset="0.210" stop-color="#fbc884"/><stop offset="0.214" stop-color="#f7e6aa"/><stop offset="0.219" stop-color="#e2eeef"/><stop offset="0.223" stop-color="#a3c8de"/><stop offset="0.232" stop-color="#6590c2"/><stop offset="0.240" stop-color="#4875b1"/><stop offset="0.302" stop-color="#537fb7"/><stop offset="0.708" stop-color="#4570ad"/><stop offset="0.726" stop-color="#3d629a"/><stop offset="0.739" stop-color="#4b78b3"/><stop offset="0.748" stop-color="#84acd1"/><stop offset="0.756" stop-color="#d0e5ee"/><stop offset="0.761" stop-color="#d4e7ee"/><stop offset="0.765" stop-color="#b5d3e5"/><stop offset="0.774" stop-color="#6a94c4"/><stop offset="0.783" stop-color="#4572af"/><stop offset="0.997" stop-color="#4774b1"/></linearGradient>
<linearGradient id="rf2" gradientUnits="userSpaceOnUse" x1="766.5" y1="0" x2="1224" y2="0"><stop offset="0.000" stop-color="#3f649d"/><stop offset="0.166" stop-color="#3e639c"/><stop offset="0.175" stop-color="#3d6199"/><stop offset="0.184" stop-color="#4e7bb5"/><stop offset="0.192" stop-color="#95bcd8"/><stop offset="0.197" stop-color="#d1e5ee"/><stop offset="0.201" stop-color="#f5ebbc"/><stop offset="0.205" stop-color="#fbcd87"/><stop offset="0.210" stop-color="#fbc783"/><stop offset="0.214" stop-color="#f7e6a9"/><stop offset="0.219" stop-color="#e4efef"/><stop offset="0.223" stop-color="#a5c9df"/><stop offset="0.232" stop-color="#6792c3"/><stop offset="0.240" stop-color="#4a77b2"/><stop offset="0.302" stop-color="#5480b8"/><stop offset="0.564" stop-color="#4a77b2"/><stop offset="0.708" stop-color="#4570ad"/><stop offset="0.726" stop-color="#3d629a"/><stop offset="0.739" stop-color="#4b77b3"/><stop offset="0.748" stop-color="#83acd1"/><stop offset="0.756" stop-color="#cee3ee"/><stop offset="0.761" stop-color="#d2e5ee"/><stop offset="0.765" stop-color="#b3d2e4"/><stop offset="0.774" stop-color="#6994c4"/><stop offset="0.783" stop-color="#4572af"/><stop offset="0.997" stop-color="#4774b1"/></linearGradient>
<linearGradient id="rf3" gradientUnits="userSpaceOnUse" x1="766.5" y1="0" x2="1224" y2="0"><stop offset="0.000" stop-color="#3f659e"/><stop offset="0.166" stop-color="#3e649c"/><stop offset="0.175" stop-color="#3d619a"/><stop offset="0.184" stop-color="#4f7bb5"/><stop offset="0.192" stop-color="#95bdd9"/><stop offset="0.197" stop-color="#d1e5ee"/><stop offset="0.201" stop-color="#f5eabb"/><stop offset="0.205" stop-color="#fbcc87"/><stop offset="0.210" stop-color="#fbc783"/><stop offset="0.214" stop-color="#f8e6a8"/><stop offset="0.219" stop-color="#e5f0ef"/><stop offset="0.223" stop-color="#a6cae0"/><stop offset="0.232" stop-color="#6893c3"/><stop offset="0.240" stop-color="#4b78b3"/><stop offset="0.302" stop-color="#5581b8"/><stop offset="0.485" stop-color="#5581b9"/><stop offset="0.708" stop-color="#4570ad"/><stop offset="0.726" stop-color="#3d629a"/><stop offset="0.739" stop-color="#4b77b3"/><stop offset="0.748" stop-color="#83acd0"/><stop offset="0.756" stop-color="#cde3ee"/><stop offset="0.761" stop-color="#d1e5ee"/><stop offset="0.769" stop-color="#8ab2d4"/><stop offset="0.778" stop-color="#527eb7"/><stop offset="0.787" stop-color="#446fab"/><stop offset="0.997" stop-color="#4874b1"/></linearGradient>
<linearGradient id="rf4" gradientUnits="userSpaceOnUse" x1="766.5" y1="0" x2="1224" y2="0"><stop offset="0.000" stop-color="#4169a4"/><stop offset="0.122" stop-color="#446fab"/><stop offset="0.175" stop-color="#3f659e"/><stop offset="0.179" stop-color="#436ca8"/><stop offset="0.184" stop-color="#5581b8"/><stop offset="0.192" stop-color="#9bc2db"/><stop offset="0.197" stop-color="#d9eaef"/><stop offset="0.201" stop-color="#f6e8b2"/><stop offset="0.205" stop-color="#fbc783"/><stop offset="0.210" stop-color="#fcc27f"/><stop offset="0.214" stop-color="#f9e39e"/><stop offset="0.219" stop-color="#eef5ee"/><stop offset="0.223" stop-color="#b4d3e5"/><stop offset="0.227" stop-color="#8eb6d5"/><stop offset="0.236" stop-color="#618cbf"/><stop offset="0.245" stop-color="#5682b9"/><stop offset="0.284" stop-color="#5f8bbe"/><stop offset="0.459" stop-color="#6792c2"/><stop offset="0.498" stop-color="#78a2cc"/><stop offset="0.608" stop-color="#4d7ab4"/><stop offset="0.708" stop-color="#4571ad"/><stop offset="0.726" stop-color="#3d629a"/><stop offset="0.739" stop-color="#4b78b3"/><stop offset="0.748" stop-color="#82acd0"/><stop offset="0.756" stop-color="#cde3ee"/><stop offset="0.761" stop-color="#d0e5ee"/><stop offset="0.769" stop-color="#8ab3d4"/><stop offset="0.778" stop-color="#537fb7"/><stop offset="0.787" stop-color="#446fab"/><stop offset="0.997" stop-color="#4875b1"/></linearGradient>
<linearGradient id="rf5" gradientUnits="userSpaceOnUse" x1="766.5" y1="0" x2="1224" y2="0"><stop offset="0.000" stop-color="#5581b9"/><stop offset="0.057" stop-color="#80aad0"/><stop offset="0.092" stop-color="#83acd1"/><stop offset="0.144" stop-color="#648fc1"/><stop offset="0.175" stop-color="#4673b0"/><stop offset="0.179" stop-color="#527fb7"/><stop offset="0.188" stop-color="#8eb6d5"/><stop offset="0.192" stop-color="#bcd8e7"/><stop offset="0.197" stop-color="#f0f2e1"/><stop offset="0.201" stop-color="#fadb92"/><stop offset="0.205" stop-color="#fbb073"/><stop offset="0.210" stop-color="#fbac6f"/><stop offset="0.214" stop-color="#fbca85"/><stop offset="0.219" stop-color="#f5eab9"/><stop offset="0.223" stop-color="#eaf3f0"/><stop offset="0.232" stop-color="#a4c8df"/><stop offset="0.240" stop-color="#86afd2"/><stop offset="0.341" stop-color="#88b0d3"/><stop offset="0.393" stop-color="#9cc3db"/><stop offset="0.420" stop-color="#adcee2"/><stop offset="0.446" stop-color="#a7cbe0"/><stop offset="0.459" stop-color="#c4ddeb"/><stop offset="0.472" stop-color="#eef4ed"/><stop offset="0.481" stop-color="#f2f0d1"/><stop offset="0.498" stop-color="#f4ecc2"/><stop offset="0.516" stop-color="#f2f0d3"/><stop offset="0.525" stop-color="#eef5ef"/><stop offset="0.546" stop-color="#b0d0e3"/><stop offset="0.573" stop-color="#80a9cf"/><stop offset="0.634" stop-color="#5581b8"/><stop offset="0.708" stop-color="#4571ae"/><stop offset="0.726" stop-color="#3d629a"/><stop offset="0.739" stop-color="#4c78b3"/><stop offset="0.748" stop-color="#84add1"/><stop offset="0.756" stop-color="#cfe4ee"/><stop offset="0.761" stop-color="#d3e6ee"/><stop offset="0.765" stop-color="#b6d4e5"/><stop offset="0.774" stop-color="#6e98c6"/><stop offset="0.783" stop-color="#4a77b2"/><stop offset="0.997" stop-color="#4c79b3"/></linearGradient>
<linearGradient id="rf6" gradientUnits="userSpaceOnUse" x1="766.5" y1="0" x2="1224" y2="0"><stop offset="0.000" stop-color="#87b0d3"/><stop offset="0.022" stop-color="#b1d1e3"/><stop offset="0.044" stop-color="#e9f2f0"/><stop offset="0.079" stop-color="#f2efce"/><stop offset="0.114" stop-color="#e7f1f0"/><stop offset="0.157" stop-color="#8ab2d4"/><stop offset="0.175" stop-color="#6e98c6"/><stop offset="0.179" stop-color="#78a2cc"/><stop offset="0.184" stop-color="#92bad7"/><stop offset="0.192" stop-color="#eef5ee"/><stop offset="0.197" stop-color="#f8e5a6"/><stop offset="0.201" stop-color="#fcb475"/><stop offset="0.205" stop-color="#f58a5c"/><stop offset="0.210" stop-color="#f4855a"/><stop offset="0.214" stop-color="#fa9e65"/><stop offset="0.223" stop-color="#fae095"/><stop offset="0.236" stop-color="#edf5f0"/><stop offset="0.245" stop-color="#dcebef"/><stop offset="0.275" stop-color="#d5e8ef"/><stop offset="0.315" stop-color="#c6deeb"/><stop offset="0.372" stop-color="#eef4ed"/><stop offset="0.385" stop-color="#f1f0d7"/><stop offset="0.411" stop-color="#f9e29a"/><stop offset="0.424" stop-color="#fae298"/><stop offset="0.442" stop-color="#f8e4a1"/><stop offset="0.450" stop-color="#fae096"/><stop offset="0.468" stop-color="#f68c5c"/><stop offset="0.477" stop-color="#e0493b"/><stop offset="0.490" stop-color="#cf3731"/><stop offset="0.507" stop-color="#d23932"/><stop offset="0.516" stop-color="#da3e35"/><stop offset="0.538" stop-color="#fbaf72"/><stop offset="0.551" stop-color="#f8e5a4"/><stop offset="0.564" stop-color="#eef5f0"/><stop offset="0.590" stop-color="#99c0da"/><stop offset="0.634" stop-color="#6590c2"/><stop offset="0.691" stop-color="#4e7bb5"/><stop offset="0.713" stop-color="#436ea9"/><stop offset="0.726" stop-color="#3d629a"/><stop offset="0.739" stop-color="#4d7ab4"/><stop offset="0.748" stop-color="#86afd2"/><stop offset="0.756" stop-color="#d4e7ee"/><stop offset="0.761" stop-color="#d8e9ef"/><stop offset="0.765" stop-color="#bcd8e8"/><stop offset="0.774" stop-color="#749eca"/><stop offset="0.783" stop-color="#517eb6"/><stop offset="0.796" stop-color="#4e7bb5"/><stop offset="0.997" stop-color="#527eb7"/></linearGradient>
<linearGradient id="rf7" gradientUnits="userSpaceOnUse" x1="766.5" y1="0" x2="1224" y2="0"><stop offset="0.000" stop-color="#aacce1"/><stop offset="0.022" stop-color="#ecf4f0"/><stop offset="0.044" stop-color="#f9e39e"/><stop offset="0.079" stop-color="#fbc582"/><stop offset="0.114" stop-color="#f9e4a1"/><stop offset="0.136" stop-color="#eef5ef"/><stop offset="0.157" stop-color="#adcee2"/><stop offset="0.175" stop-color="#86afd2"/><stop offset="0.179" stop-color="#8fb7d6"/><stop offset="0.184" stop-color="#afcfe3"/><stop offset="0.188" stop-color="#ddecef"/><stop offset="0.192" stop-color="#f3edc7"/><stop offset="0.197" stop-color="#fbd28b"/><stop offset="0.201" stop-color="#fa9c63"/><stop offset="0.205" stop-color="#ec6e51"/><stop offset="0.210" stop-color="#eb684d"/><stop offset="0.214" stop-color="#f17c56"/><stop offset="0.219" stop-color="#faa067"/><stop offset="0.232" stop-color="#fad991"/><stop offset="0.240" stop-color="#f5eab9"/><stop offset="0.284" stop-color="#f1f0d5"/><stop offset="0.310" stop-color="#eff4ea"/><stop offset="0.380" stop-color="#fae196"/><stop offset="0.415" stop-color="#fa9a62"/><stop offset="0.442" stop-color="#fba76c"/><stop offset="0.450" stop-color="#fa9c64"/><stop offset="0.463" stop-color="#d73c34"/><stop offset="0.472" stop-color="#a52a2c"/><stop offset="0.525" stop-color="#a52a2c"/><stop offset="0.538" stop-color="#de4438"/><stop offset="0.546" stop-color="#f68e5d"/><stop offset="0.564" stop-color="#f8e4a3"/><stop offset="0.577" stop-color="#eff4ea"/><stop offset="0.590" stop-color="#bfdae9"/><stop offset="0.616" stop-color="#84add1"/><stop offset="0.660" stop-color="#5b87bc"/><stop offset="0.713" stop-color="#446eaa"/><stop offset="0.726" stop-color="#3d629a"/><stop offset="0.739" stop-color="#4e7ab4"/><stop offset="0.748" stop-color="#88b1d3"/><stop offset="0.756" stop-color="#d6e8ef"/><stop offset="0.761" stop-color="#dbebef"/><stop offset="0.765" stop-color="#bfdae9"/><stop offset="0.769" stop-color="#95bdd9"/><stop offset="0.778" stop-color="#628dc0"/><stop offset="0.787" stop-color="#507db6"/><stop offset="0.852" stop-color="#5884ba"/><stop offset="0.997" stop-color="#5581b8"/></linearGradient>
<linearGradient id="rf8" gradientUnits="userSpaceOnUse" x1="766.5" y1="0" x2="1224" y2="0"><stop offset="0.000" stop-color="#bbd8e7"/><stop offset="0.013" stop-color="#e5f0ef"/><stop offset="0.017" stop-color="#eff4e9"/><stop offset="0.039" stop-color="#fad990"/><stop offset="0.079" stop-color="#fbaa6e"/><stop offset="0.114" stop-color="#fbd18a"/><stop offset="0.127" stop-color="#f6e8b0"/><stop offset="0.144" stop-color="#eaf3f0"/><stop offset="0.166" stop-color="#a0c6dd"/><stop offset="0.175" stop-color="#90b8d6"/><stop offset="0.179" stop-color="#98c0da"/><stop offset="0.188" stop-color="#eaf3f0"/><stop offset="0.192" stop-color="#f5eab8"/><stop offset="0.197" stop-color="#fbc884"/><stop offset="0.201" stop-color="#f7905e"/><stop offset="0.205" stop-color="#e85f48"/><stop offset="0.210" stop-color="#e65945"/><stop offset="0.214" stop-color="#ed6e51"/><stop offset="0.219" stop-color="#f7915e"/><stop offset="0.223" stop-color="#fba76c"/><stop offset="0.232" stop-color="#fbc683"/><stop offset="0.236" stop-color="#fada91"/><stop offset="0.245" stop-color="#f8e4a2"/><stop offset="0.271" stop-color="#f6e8b1"/><stop offset="0.310" stop-color="#f2f0d3"/><stop offset="0.367" stop-color="#fada91"/><stop offset="0.385" stop-color="#fcc07e"/><stop offset="0.411" stop-color="#f38258"/><stop offset="0.420" stop-color="#f07a55"/><stop offset="0.437" stop-color="#f68d5d"/><stop offset="0.450" stop-color="#f07b56"/><stop offset="0.455" stop-color="#e35341"/><stop offset="0.459" stop-color="#d33a33"/><stop offset="0.468" stop-color="#a52a2c"/><stop offset="0.533" stop-color="#a92b2c"/><stop offset="0.538" stop-color="#c8332f"/><stop offset="0.542" stop-color="#db3f35"/><stop offset="0.551" stop-color="#f68c5c"/><stop offset="0.564" stop-color="#fbd58d"/><stop offset="0.573" stop-color="#f5eabb"/><stop offset="0.581" stop-color="#eff4e9"/><stop offset="0.590" stop-color="#cfe4ee"/><stop offset="0.616" stop-color="#8ab3d4"/><stop offset="0.660" stop-color="#5d88bd"/><stop offset="0.713" stop-color="#446eaa"/><stop offset="0.726" stop-color="#3d629a"/><stop offset="0.739" stop-color="#4e7bb5"/><stop offset="0.748" stop-color="#88b1d3"/><stop offset="0.756" stop-color="#d7e8ef"/><stop offset="0.761" stop-color="#dcebef"/><stop offset="0.765" stop-color="#c1dbe9"/><stop offset="0.769" stop-color="#96bed9"/><stop offset="0.778" stop-color="#638fc1"/><stop offset="0.791" stop-color="#527eb7"/><stop offset="0.839" stop-color="#5a86bb"/><stop offset="0.997" stop-color="#5682b9"/></linearGradient>
<linearGradient id="rf9" gradientUnits="userSpaceOnUse" x1="766.5" y1="0" x2="1224" y2="0"><stop offset="0.000" stop-color="#a9cce0"/><stop offset="0.022" stop-color="#ebf4f0"/><stop offset="0.044" stop-color="#f9e39e"/><stop offset="0.079" stop-color="#fbc582"/><stop offset="0.114" stop-color="#f8e4a2"/><stop offset="0.136" stop-color="#eef5f0"/><stop offset="0.162" stop-color="#9dc4dc"/><stop offset="0.175" stop-color="#85aed2"/><stop offset="0.179" stop-color="#8eb7d6"/><stop offset="0.184" stop-color="#aecfe2"/><stop offset="0.188" stop-color="#dcebef"/><stop offset="0.192" stop-color="#f3eec8"/><stop offset="0.197" stop-color="#fbd38c"/><stop offset="0.201" stop-color="#fa9c64"/><stop offset="0.205" stop-color="#ed6f51"/><stop offset="0.210" stop-color="#eb694e"/><stop offset="0.214" stop-color="#f17d57"/><stop offset="0.219" stop-color="#faa167"/><stop offset="0.232" stop-color="#fada91"/><stop offset="0.240" stop-color="#f5eabb"/><stop offset="0.280" stop-color="#f2f0d2"/><stop offset="0.310" stop-color="#eff4ec"/><stop offset="0.380" stop-color="#fae196"/><stop offset="0.415" stop-color="#fa9b63"/><stop offset="0.442" stop-color="#fba76c"/><stop offset="0.450" stop-color="#fa9d64"/><stop offset="0.463" stop-color="#d73c34"/><stop offset="0.472" stop-color="#a52a2c"/><stop offset="0.525" stop-color="#a52a2c"/><stop offset="0.538" stop-color="#df4539"/><stop offset="0.546" stop-color="#f68e5d"/><stop offset="0.564" stop-color="#f8e4a4"/><stop offset="0.577" stop-color="#eff4eb"/><stop offset="0.590" stop-color="#bed9e8"/><stop offset="0.621" stop-color="#7ca6ce"/><stop offset="0.664" stop-color="#5985bb"/><stop offset="0.713" stop-color="#436ea9"/><stop offset="0.726" stop-color="#3d629a"/><stop offset="0.739" stop-color="#4d7ab4"/><stop offset="0.748" stop-color="#87b0d2"/><stop offset="0.756" stop-color="#d5e7ee"/><stop offset="0.761" stop-color="#daeaef"/><stop offset="0.765" stop-color="#bed9e8"/><stop offset="0.769" stop-color="#94bcd8"/><stop offset="0.778" stop-color="#618cbf"/><stop offset="0.787" stop-color="#507cb5"/><stop offset="0.852" stop-color="#5884ba"/><stop offset="0.997" stop-color="#5480b8"/></linearGradient>
<linearGradient id="rf10" gradientUnits="userSpaceOnUse" x1="766.5" y1="0" x2="1224" y2="0"><stop offset="0.000" stop-color="#86afd2"/><stop offset="0.022" stop-color="#afd0e3"/><stop offset="0.044" stop-color="#e7f1f0"/><stop offset="0.079" stop-color="#f2efd0"/><stop offset="0.109" stop-color="#ebf4f0"/><stop offset="0.149" stop-color="#97bfd9"/><stop offset="0.175" stop-color="#6c97c6"/><stop offset="0.179" stop-color="#77a1cb"/><stop offset="0.184" stop-color="#91b9d7"/><stop offset="0.192" stop-color="#eef5f0"/><stop offset="0.197" stop-color="#f8e6a8"/><stop offset="0.201" stop-color="#fcb576"/><stop offset="0.205" stop-color="#f68c5d"/><stop offset="0.210" stop-color="#f4875b"/><stop offset="0.214" stop-color="#faa066"/><stop offset="0.223" stop-color="#fae196"/><stop offset="0.236" stop-color="#ebf3f0"/><stop offset="0.245" stop-color="#daeaef"/><stop offset="0.275" stop-color="#d3e6ee"/><stop offset="0.315" stop-color="#c3ddea"/><stop offset="0.376" stop-color="#eff4eb"/><stop offset="0.411" stop-color="#f9e29c"/><stop offset="0.420" stop-color="#fae196"/><stop offset="0.442" stop-color="#f8e4a3"/><stop offset="0.450" stop-color="#fae197"/><stop offset="0.468" stop-color="#f68d5d"/><stop offset="0.477" stop-color="#e04a3c"/><stop offset="0.485" stop-color="#d53b33"/><stop offset="0.498" stop-color="#cc3530"/><stop offset="0.516" stop-color="#da3e35"/><stop offset="0.533" stop-color="#fa9d64"/><stop offset="0.551" stop-color="#f8e5a6"/><stop offset="0.564" stop-color="#edf4f0"/><stop offset="0.590" stop-color="#98bfda"/><stop offset="0.634" stop-color="#648fc1"/><stop offset="0.691" stop-color="#4d79b4"/><stop offset="0.713" stop-color="#436da8"/><stop offset="0.726" stop-color="#3d6199"/><stop offset="0.739" stop-color="#4c78b3"/><stop offset="0.748" stop-color="#85add1"/><stop offset="0.756" stop-color="#d0e5ee"/><stop offset="0.761" stop-color="#d5e7ee"/><stop offset="0.769" stop-color="#90b8d6"/><stop offset="0.778" stop-color="#5c88bc"/><stop offset="0.787" stop-color="#4a77b2"/><stop offset="0.852" stop-color="#537fb7"/><stop offset="0.997" stop-color="#507db6"/></linearGradient>
<linearGradient id="rf11" gradientUnits="userSpaceOnUse" x1="766.5" y1="0" x2="1224" y2="0"><stop offset="0.000" stop-color="#5380b8"/><stop offset="0.057" stop-color="#7fa8cf"/><stop offset="0.092" stop-color="#82abd0"/><stop offset="0.140" stop-color="#6590c1"/><stop offset="0.175" stop-color="#4572ae"/><stop offset="0.179" stop-color="#507cb6"/><stop offset="0.188" stop-color="#8cb4d4"/><stop offset="0.192" stop-color="#b8d6e6"/><stop offset="0.197" stop-color="#eff3e5"/><stop offset="0.201" stop-color="#fade94"/><stop offset="0.205" stop-color="#fcb375"/><stop offset="0.210" stop-color="#fbae71"/><stop offset="0.214" stop-color="#fbcd87"/><stop offset="0.219" stop-color="#f5ebbd"/><stop offset="0.223" stop-color="#e7f1f0"/><stop offset="0.232" stop-color="#a1c6dd"/><stop offset="0.240" stop-color="#83acd1"/><stop offset="0.341" stop-color="#85aed2"/><stop offset="0.393" stop-color="#9ac1db"/><stop offset="0.420" stop-color="#aacde1"/><stop offset="0.446" stop-color="#a5c9df"/><stop offset="0.459" stop-color="#c2dcea"/><stop offset="0.472" stop-color="#eef5ef"/><stop offset="0.481" stop-color="#f2f0d4"/><stop offset="0.498" stop-color="#f4edc4"/><stop offset="0.516" stop-color="#f1f0d5"/><stop offset="0.525" stop-color="#edf5f0"/><stop offset="0.555" stop-color="#99c0da"/><stop offset="0.595" stop-color="#6994c4"/><stop offset="0.656" stop-color="#4c78b3"/><stop offset="0.708" stop-color="#4570ac"/><stop offset="0.726" stop-color="#3d6199"/><stop offset="0.739" stop-color="#4a76b2"/><stop offset="0.748" stop-color="#81aad0"/><stop offset="0.756" stop-color="#c9e0ec"/><stop offset="0.761" stop-color="#cde3ee"/><stop offset="0.769" stop-color="#8ab2d4"/><stop offset="0.778" stop-color="#5581b8"/><stop offset="0.787" stop-color="#4571ad"/><stop offset="0.931" stop-color="#4b77b3"/><stop offset="0.997" stop-color="#4a77b2"/></linearGradient>
<linearGradient id="rf12" gradientUnits="userSpaceOnUse" x1="766.5" y1="0" x2="1224" y2="0"><stop offset="0.000" stop-color="#4168a2"/><stop offset="0.118" stop-color="#446faa"/><stop offset="0.175" stop-color="#3e639c"/><stop offset="0.184" stop-color="#517eb6"/><stop offset="0.192" stop-color="#98bfda"/><stop offset="0.197" stop-color="#d5e7ee"/><stop offset="0.201" stop-color="#f5eab8"/><stop offset="0.205" stop-color="#fbcb86"/><stop offset="0.210" stop-color="#fbc682"/><stop offset="0.214" stop-color="#f8e5a4"/><stop offset="0.219" stop-color="#ebf3f0"/><stop offset="0.223" stop-color="#afd0e3"/><stop offset="0.232" stop-color="#719bc8"/><stop offset="0.240" stop-color="#5380b8"/><stop offset="0.306" stop-color="#5a86bb"/><stop offset="0.459" stop-color="#6590c1"/><stop offset="0.498" stop-color="#76a0cb"/><stop offset="0.603" stop-color="#4b78b3"/><stop offset="0.708" stop-color="#446fab"/><stop offset="0.726" stop-color="#3c6098"/><stop offset="0.739" stop-color="#4875b1"/><stop offset="0.748" stop-color="#7ea7ce"/><stop offset="0.756" stop-color="#c3ddea"/><stop offset="0.761" stop-color="#c7dfec"/><stop offset="0.769" stop-color="#85aed2"/><stop offset="0.778" stop-color="#4f7cb5"/><stop offset="0.787" stop-color="#436ea9"/><stop offset="0.997" stop-color="#4673b0"/></linearGradient>
<linearGradient id="rf13" gradientUnits="userSpaceOnUse" x1="766.5" y1="0" x2="1224" y2="0"><stop offset="0.000" stop-color="#3e639c"/><stop offset="0.166" stop-color="#3d6199"/><stop offset="0.175" stop-color="#3b5e96"/><stop offset="0.184" stop-color="#4a77b2"/><stop offset="0.192" stop-color="#91b9d7"/><stop offset="0.197" stop-color="#cbe2ed"/><stop offset="0.201" stop-color="#f4ecc3"/><stop offset="0.205" stop-color="#fbd28b"/><stop offset="0.210" stop-color="#fbcd88"/><stop offset="0.214" stop-color="#f6e8b0"/><stop offset="0.219" stop-color="#deecef"/><stop offset="0.223" stop-color="#a0c6dd"/><stop offset="0.232" stop-color="#638ec0"/><stop offset="0.240" stop-color="#4673b0"/><stop offset="0.302" stop-color="#4f7cb5"/><stop offset="0.477" stop-color="#527eb7"/><stop offset="0.708" stop-color="#446eaa"/><stop offset="0.726" stop-color="#3c5f97"/><stop offset="0.739" stop-color="#4673b0"/><stop offset="0.748" stop-color="#7ca6ce"/><stop offset="0.756" stop-color="#c0dae9"/><stop offset="0.761" stop-color="#c3ddea"/><stop offset="0.769" stop-color="#83acd1"/><stop offset="0.778" stop-color="#4d7ab4"/><stop offset="0.791" stop-color="#436da8"/><stop offset="0.979" stop-color="#4572af"/><stop offset="0.997" stop-color="#4572ae"/></linearGradient>
<linearGradient id="rf14" gradientUnits="userSpaceOnUse" x1="766.5" y1="0" x2="1224" y2="0"><stop offset="0.000" stop-color="#3d6199"/><stop offset="0.166" stop-color="#3b5e96"/><stop offset="0.175" stop-color="#395c94"/><stop offset="0.184" stop-color="#4673b0"/><stop offset="0.192" stop-color="#8db5d5"/><stop offset="0.197" stop-color="#c5deeb"/><stop offset="0.201" stop-color="#f3eeca"/><stop offset="0.205" stop-color="#fbd78f"/><stop offset="0.210" stop-color="#fbd28b"/><stop offset="0.214" stop-color="#f5eab8"/><stop offset="0.219" stop-color="#d7e8ef"/><stop offset="0.223" stop-color="#9ac1db"/><stop offset="0.232" stop-color="#5d89bd"/><stop offset="0.236" stop-color="#4a76b2"/><stop offset="0.249" stop-color="#4571ae"/><stop offset="0.699" stop-color="#4470ac"/><stop offset="0.726" stop-color="#3b5e96"/><stop offset="0.739" stop-color="#4572ae"/><stop offset="0.748" stop-color="#79a2cc"/><stop offset="0.756" stop-color="#b9d6e6"/><stop offset="0.761" stop-color="#bcd8e8"/><stop offset="0.769" stop-color="#7fa9cf"/><stop offset="0.778" stop-color="#4a77b2"/><stop offset="0.791" stop-color="#426ba6"/><stop offset="0.979" stop-color="#4570ad"/><stop offset="0.997" stop-color="#4570ad"/></linearGradient>
<linearGradient id="rf15" gradientUnits="userSpaceOnUse" x1="766.5" y1="0" x2="1224" y2="0"><stop offset="0.000" stop-color="#3d6098"/><stop offset="0.166" stop-color="#3b5e96"/><stop offset="0.175" stop-color="#395b93"/><stop offset="0.184" stop-color="#4672af"/><stop offset="0.192" stop-color="#8cb4d4"/><stop offset="0.197" stop-color="#c3ddea"/><stop offset="0.201" stop-color="#f3efcc"/><stop offset="0.205" stop-color="#fad990"/><stop offset="0.210" stop-color="#fbd48c"/><stop offset="0.214" stop-color="#f5eaba"/><stop offset="0.219" stop-color="#d6e8ef"/><stop offset="0.223" stop-color="#99c1da"/><stop offset="0.232" stop-color="#5d88bd"/><stop offset="0.236" stop-color="#4976b2"/><stop offset="0.249" stop-color="#4571ad"/><stop offset="0.490" stop-color="#4f7bb5"/><stop offset="0.708" stop-color="#426ca7"/><stop offset="0.726" stop-color="#3a5c94"/><stop offset="0.739" stop-color="#4570ad"/><stop offset="0.748" stop-color="#76a0cb"/><stop offset="0.756" stop-color="#b3d2e4"/><stop offset="0.761" stop-color="#b6d4e5"/><stop offset="0.769" stop-color="#7ca6ce"/><stop offset="0.778" stop-color="#4875b1"/><stop offset="0.791" stop-color="#426aa5"/><stop offset="0.979" stop-color="#446fab"/><stop offset="0.997" stop-color="#446fab"/></linearGradient>
<linearGradient id="rf16" gradientUnits="userSpaceOnUse" x1="766.5" y1="0" x2="1224" y2="0"><stop offset="0.000" stop-color="#3e649d"/><stop offset="0.122" stop-color="#4169a3"/><stop offset="0.175" stop-color="#3b5e96"/><stop offset="0.184" stop-color="#4875b1"/><stop offset="0.192" stop-color="#8fb7d6"/><stop offset="0.197" stop-color="#c9e0ec"/><stop offset="0.201" stop-color="#f3edc6"/><stop offset="0.205" stop-color="#fbd58e"/><stop offset="0.210" stop-color="#fbd08a"/><stop offset="0.214" stop-color="#f6e8b3"/><stop offset="0.219" stop-color="#ddecef"/><stop offset="0.223" stop-color="#a1c7de"/><stop offset="0.232" stop-color="#6691c2"/><stop offset="0.240" stop-color="#4875b1"/><stop offset="0.310" stop-color="#4e7bb5"/><stop offset="0.459" stop-color="#5a86bb"/><stop offset="0.503" stop-color="#6a95c4"/><stop offset="0.599" stop-color="#4672af"/><stop offset="0.708" stop-color="#426ba6"/><stop offset="0.726" stop-color="#395c94"/><stop offset="0.739" stop-color="#4470ac"/><stop offset="0.743" stop-color="#5682b9"/><stop offset="0.756" stop-color="#b1d1e3"/><stop offset="0.761" stop-color="#b4d3e5"/><stop offset="0.769" stop-color="#7ca5cd"/><stop offset="0.778" stop-color="#4875b1"/><stop offset="0.791" stop-color="#426aa5"/><stop offset="0.979" stop-color="#446fab"/><stop offset="0.997" stop-color="#446fab"/></linearGradient>
<linearGradient id="rf17" gradientUnits="userSpaceOnUse" x1="766.5" y1="0" x2="1224" y2="0"><stop offset="0.000" stop-color="#4875b1"/><stop offset="0.061" stop-color="#729cc9"/><stop offset="0.096" stop-color="#729cc9"/><stop offset="0.166" stop-color="#446fab"/><stop offset="0.175" stop-color="#426ba5"/><stop offset="0.179" stop-color="#4572ae"/><stop offset="0.188" stop-color="#80a9cf"/><stop offset="0.192" stop-color="#a7cbe0"/><stop offset="0.197" stop-color="#e6f1f0"/><stop offset="0.201" stop-color="#f8e5a5"/><stop offset="0.205" stop-color="#fcc17f"/><stop offset="0.210" stop-color="#fcbc7c"/><stop offset="0.214" stop-color="#fadb92"/><stop offset="0.219" stop-color="#f2f0d3"/><stop offset="0.223" stop-color="#d3e6ee"/><stop offset="0.232" stop-color="#90b8d6"/><stop offset="0.240" stop-color="#749eca"/><stop offset="0.341" stop-color="#76a0cb"/><stop offset="0.398" stop-color="#8db5d5"/><stop offset="0.428" stop-color="#93bbd8"/><stop offset="0.450" stop-color="#95bdd9"/><stop offset="0.481" stop-color="#e9f2f0"/><stop offset="0.498" stop-color="#eff3e7"/><stop offset="0.516" stop-color="#e8f2f0"/><stop offset="0.555" stop-color="#8ab3d4"/><stop offset="0.599" stop-color="#5b87bc"/><stop offset="0.660" stop-color="#4571ae"/><stop offset="0.708" stop-color="#426ca7"/><stop offset="0.726" stop-color="#395b93"/><stop offset="0.739" stop-color="#4570ac"/><stop offset="0.748" stop-color="#759fcb"/><stop offset="0.756" stop-color="#b2d2e4"/><stop offset="0.761" stop-color="#b6d4e5"/><stop offset="0.769" stop-color="#7ea7ce"/><stop offset="0.778" stop-color="#4b78b3"/><stop offset="0.791" stop-color="#436ca7"/><stop offset="0.979" stop-color="#4571ad"/><stop offset="0.997" stop-color="#4571ad"/></linearGradient>
<linearGradient id="rf18" gradientUnits="userSpaceOnUse" x1="766.5" y1="0" x2="1224" y2="0"><stop offset="0.000" stop-color="#7ba5cd"/><stop offset="0.026" stop-color="#aacce1"/><stop offset="0.048" stop-color="#daeaef"/><stop offset="0.079" stop-color="#eff3e7"/><stop offset="0.101" stop-color="#e1eeef"/><stop offset="0.118" stop-color="#c9e0ed"/><stop offset="0.149" stop-color="#8bb3d4"/><stop offset="0.175" stop-color="#5f8bbe"/><stop offset="0.179" stop-color="#6a95c4"/><stop offset="0.188" stop-color="#a8cbe0"/><stop offset="0.192" stop-color="#dcebef"/><stop offset="0.197" stop-color="#f5ebbc"/><stop offset="0.201" stop-color="#fbc481"/><stop offset="0.205" stop-color="#fa9e65"/><stop offset="0.210" stop-color="#fa9a62"/><stop offset="0.214" stop-color="#fbaf71"/><stop offset="0.219" stop-color="#fbd38c"/><stop offset="0.223" stop-color="#f7e7ad"/><stop offset="0.232" stop-color="#eef5ee"/><stop offset="0.240" stop-color="#c7dfec"/><stop offset="0.293" stop-color="#b3d2e4"/><stop offset="0.315" stop-color="#adcfe2"/><stop offset="0.380" stop-color="#e2efef"/><stop offset="0.389" stop-color="#eff3e6"/><stop offset="0.415" stop-color="#f7e7ac"/><stop offset="0.442" stop-color="#f5eaba"/><stop offset="0.450" stop-color="#f7e7ae"/><stop offset="0.455" stop-color="#fade94"/><stop offset="0.472" stop-color="#f4855a"/><stop offset="0.481" stop-color="#e45643"/><stop offset="0.494" stop-color="#d73c34"/><stop offset="0.511" stop-color="#e14b3c"/><stop offset="0.516" stop-color="#e55744"/><stop offset="0.533" stop-color="#fbad70"/><stop offset="0.546" stop-color="#f9e39f"/><stop offset="0.560" stop-color="#eef4ed"/><stop offset="0.577" stop-color="#aecfe2"/><stop offset="0.595" stop-color="#88b0d3"/><stop offset="0.634" stop-color="#5b86bc"/><stop offset="0.686" stop-color="#4672af"/><stop offset="0.713" stop-color="#4168a2"/><stop offset="0.726" stop-color="#395b93"/><stop offset="0.739" stop-color="#4571ad"/><stop offset="0.748" stop-color="#78a2cc"/><stop offset="0.756" stop-color="#b7d5e6"/><stop offset="0.761" stop-color="#bbd7e7"/><stop offset="0.769" stop-color="#83acd0"/><stop offset="0.778" stop-color="#527eb7"/><stop offset="0.787" stop-color="#4570ad"/><stop offset="0.966" stop-color="#4875b1"/><stop offset="0.997" stop-color="#4774b1"/></linearGradient>
<linearGradient id="rf19" gradientUnits="userSpaceOnUse" x1="766.5" y1="0" x2="1224" y2="0"><stop offset="0.000" stop-color="#9cc3dc"/><stop offset="0.026" stop-color="#edf5f0"/><stop offset="0.044" stop-color="#f7e7ae"/><stop offset="0.074" stop-color="#fbd28b"/><stop offset="0.101" stop-color="#f9e39c"/><stop offset="0.118" stop-color="#f4ecc1"/><stop offset="0.131" stop-color="#edf5f0"/><stop offset="0.166" stop-color="#89b1d3"/><stop offset="0.175" stop-color="#7aa4cd"/><stop offset="0.179" stop-color="#83acd1"/><stop offset="0.184" stop-color="#9dc4dc"/><stop offset="0.188" stop-color="#cce2ee"/><stop offset="0.192" stop-color="#f1f1db"/><stop offset="0.197" stop-color="#fae095"/><stop offset="0.201" stop-color="#fbaa6e"/><stop offset="0.205" stop-color="#f38359"/><stop offset="0.210" stop-color="#f27e57"/><stop offset="0.214" stop-color="#f7905e"/><stop offset="0.223" stop-color="#fbc582"/><stop offset="0.227" stop-color="#fbd28b"/><stop offset="0.236" stop-color="#f4ebbf"/><stop offset="0.240" stop-color="#f2efd0"/><stop offset="0.297" stop-color="#e6f1f0"/><stop offset="0.315" stop-color="#e2efef"/><stop offset="0.337" stop-color="#eff3e7"/><stop offset="0.380" stop-color="#f7e6aa"/><stop offset="0.398" stop-color="#fbc582"/><stop offset="0.415" stop-color="#fba76b"/><stop offset="0.442" stop-color="#fcb274"/><stop offset="0.450" stop-color="#fba86c"/><stop offset="0.459" stop-color="#ec6d51"/><stop offset="0.463" stop-color="#de4438"/><stop offset="0.468" stop-color="#ca3430"/><stop offset="0.472" stop-color="#a82b2c"/><stop offset="0.525" stop-color="#aa2b2c"/><stop offset="0.533" stop-color="#d53b33"/><stop offset="0.546" stop-color="#fa9b63"/><stop offset="0.560" stop-color="#fade94"/><stop offset="0.568" stop-color="#f2efd1"/><stop offset="0.577" stop-color="#e5f0ef"/><stop offset="0.595" stop-color="#a5c9df"/><stop offset="0.630" stop-color="#6b95c5"/><stop offset="0.664" stop-color="#4f7cb5"/><stop offset="0.708" stop-color="#436da8"/><stop offset="0.726" stop-color="#395b93"/><stop offset="0.739" stop-color="#4571ae"/><stop offset="0.748" stop-color="#79a3cc"/><stop offset="0.756" stop-color="#bad6e7"/><stop offset="0.761" stop-color="#bfdae9"/><stop offset="0.769" stop-color="#86afd2"/><stop offset="0.778" stop-color="#5682b9"/><stop offset="0.791" stop-color="#4673b0"/><stop offset="0.839" stop-color="#4f7bb5"/><stop offset="0.997" stop-color="#4b78b3"/></linearGradient>
<linearGradient id="rf20" gradientUnits="userSpaceOnUse" x1="766.5" y1="0" x2="1224" y2="0"><stop offset="0.000" stop-color="#afcfe3"/><stop offset="0.017" stop-color="#e8f2f0"/><stop offset="0.039" stop-color="#fae198"/><stop offset="0.079" stop-color="#fcb375"/><stop offset="0.114" stop-color="#fada91"/><stop offset="0.140" stop-color="#ebf3f0"/><stop offset="0.162" stop-color="#9fc5dd"/><stop offset="0.175" stop-color="#85add1"/><stop offset="0.179" stop-color="#8db5d5"/><stop offset="0.184" stop-color="#accee2"/><stop offset="0.188" stop-color="#daeaef"/><stop offset="0.192" stop-color="#f3eeca"/><stop offset="0.197" stop-color="#fbd58e"/><stop offset="0.201" stop-color="#faa167"/><stop offset="0.205" stop-color="#f07855"/><stop offset="0.210" stop-color="#ee7453"/><stop offset="0.214" stop-color="#f38259"/><stop offset="0.223" stop-color="#fcb475"/><stop offset="0.227" stop-color="#fcbd7c"/><stop offset="0.236" stop-color="#f9e4a0"/><stop offset="0.245" stop-color="#f6e9b7"/><stop offset="0.275" stop-color="#f3eeca"/><stop offset="0.310" stop-color="#eff4ea"/><stop offset="0.376" stop-color="#fade94"/><stop offset="0.411" stop-color="#f68e5d"/><stop offset="0.420" stop-color="#f4865a"/><stop offset="0.437" stop-color="#fa9962"/><stop offset="0.450" stop-color="#f4865a"/><stop offset="0.459" stop-color="#d93d35"/><stop offset="0.468" stop-color="#a52a2c"/><stop offset="0.529" stop-color="#a52a2c"/><stop offset="0.533" stop-color="#b22d2d"/><stop offset="0.542" stop-color="#e0493b"/><stop offset="0.551" stop-color="#f99661"/><stop offset="0.564" stop-color="#fade94"/><stop offset="0.577" stop-color="#f0f2df"/><stop offset="0.581" stop-color="#e8f2f0"/><stop offset="0.595" stop-color="#b5d4e5"/><stop offset="0.621" stop-color="#79a3cc"/><stop offset="0.660" stop-color="#537fb7"/><stop offset="0.708" stop-color="#436da8"/><stop offset="0.726" stop-color="#395b93"/><stop offset="0.739" stop-color="#4571ae"/><stop offset="0.748" stop-color="#7aa3cd"/><stop offset="0.756" stop-color="#bad7e7"/><stop offset="0.761" stop-color="#bfdae9"/><stop offset="0.769" stop-color="#87b0d2"/><stop offset="0.778" stop-color="#5884ba"/><stop offset="0.791" stop-color="#4875b1"/><stop offset="0.839" stop-color="#507db6"/><stop offset="0.997" stop-color="#4c79b4"/></linearGradient>
<linearGradient id="rf21" gradientUnits="userSpaceOnUse" x1="766.5" y1="0" x2="1224" y2="0"><stop offset="0.000" stop-color="#9bc2db"/><stop offset="0.026" stop-color="#edf4f0"/><stop offset="0.044" stop-color="#f7e7af"/><stop offset="0.074" stop-color="#fbd28c"/><stop offset="0.101" stop-color="#f9e39d"/><stop offset="0.118" stop-color="#f4ecc2"/><stop offset="0.131" stop-color="#edf4f0"/><stop offset="0.166" stop-color="#88b1d3"/><stop offset="0.175" stop-color="#79a3cd"/><stop offset="0.179" stop-color="#82abd0"/><stop offset="0.184" stop-color="#9dc4dc"/><stop offset="0.188" stop-color="#cbe2ed"/><stop offset="0.192" stop-color="#f0f2dd"/><stop offset="0.197" stop-color="#fae197"/><stop offset="0.201" stop-color="#fbad70"/><stop offset="0.205" stop-color="#f4885b"/><stop offset="0.210" stop-color="#f38359"/><stop offset="0.214" stop-color="#f89460"/><stop offset="0.223" stop-color="#fbc783"/><stop offset="0.227" stop-color="#fbd38c"/><stop offset="0.236" stop-color="#f4ecc0"/><stop offset="0.240" stop-color="#f2f0d2"/><stop offset="0.293" stop-color="#e8f2f0"/><stop offset="0.315" stop-color="#e1eeef"/><stop offset="0.337" stop-color="#eff4e8"/><stop offset="0.380" stop-color="#f7e6ab"/><stop offset="0.398" stop-color="#fbc582"/><stop offset="0.415" stop-color="#fba76c"/><stop offset="0.442" stop-color="#fcb374"/><stop offset="0.450" stop-color="#fba86c"/><stop offset="0.459" stop-color="#ed6e51"/><stop offset="0.463" stop-color="#de4438"/><stop offset="0.468" stop-color="#ca3430"/><stop offset="0.472" stop-color="#a92b2c"/><stop offset="0.525" stop-color="#aa2b2c"/><stop offset="0.533" stop-color="#d53b33"/><stop offset="0.546" stop-color="#fa9b63"/><stop offset="0.560" stop-color="#fadf94"/><stop offset="0.568" stop-color="#f2efd1"/><stop offset="0.577" stop-color="#e5f0ef"/><stop offset="0.595" stop-color="#a5c9df"/><stop offset="0.630" stop-color="#6a95c4"/><stop offset="0.664" stop-color="#4f7bb5"/><stop offset="0.708" stop-color="#436da8"/><stop offset="0.726" stop-color="#395b93"/><stop offset="0.739" stop-color="#4571ad"/><stop offset="0.748" stop-color="#78a2cc"/><stop offset="0.756" stop-color="#b8d5e6"/><stop offset="0.761" stop-color="#bdd8e8"/><stop offset="0.769" stop-color="#85aed1"/><stop offset="0.778" stop-color="#5682b9"/><stop offset="0.791" stop-color="#4673b0"/><stop offset="0.844" stop-color="#4e7ab4"/><stop offset="0.997" stop-color="#4a77b2"/></linearGradient>
<linearGradient id="rf22" gradientUnits="userSpaceOnUse" x1="766.5" y1="0" x2="1224" y2="0"><stop offset="0.000" stop-color="#7aa4cd"/><stop offset="0.026" stop-color="#a9cce0"/><stop offset="0.048" stop-color="#d9e9ef"/><stop offset="0.079" stop-color="#eff3e8"/><stop offset="0.105" stop-color="#dcebef"/><stop offset="0.122" stop-color="#bed9e8"/><stop offset="0.170" stop-color="#618cbf"/><stop offset="0.175" stop-color="#5e89bd"/><stop offset="0.179" stop-color="#6893c3"/><stop offset="0.188" stop-color="#a6cadf"/><stop offset="0.192" stop-color="#daeaef"/><stop offset="0.197" stop-color="#f4ecc1"/><stop offset="0.201" stop-color="#fbca85"/><stop offset="0.205" stop-color="#fba66b"/><stop offset="0.210" stop-color="#fba268"/><stop offset="0.214" stop-color="#fcb576"/><stop offset="0.219" stop-color="#fbd78f"/><stop offset="0.227" stop-color="#f3efcc"/><stop offset="0.232" stop-color="#edf5f0"/><stop offset="0.240" stop-color="#c4ddeb"/><stop offset="0.293" stop-color="#b0d0e3"/><stop offset="0.315" stop-color="#abcde1"/><stop offset="0.380" stop-color="#e1eeef"/><stop offset="0.389" stop-color="#eff3e7"/><stop offset="0.415" stop-color="#f7e7ad"/><stop offset="0.442" stop-color="#f5eaba"/><stop offset="0.450" stop-color="#f7e7ae"/><stop offset="0.455" stop-color="#fade94"/><stop offset="0.472" stop-color="#f4865a"/><stop offset="0.481" stop-color="#e55643"/><stop offset="0.494" stop-color="#d83d34"/><stop offset="0.511" stop-color="#e14c3d"/><stop offset="0.516" stop-color="#e55844"/><stop offset="0.533" stop-color="#fbad71"/><stop offset="0.546" stop-color="#f9e4a0"/><stop offset="0.560" stop-color="#eef5ee"/><stop offset="0.573" stop-color="#bad7e7"/><stop offset="0.590" stop-color="#8db5d5"/><stop offset="0.634" stop-color="#5985bb"/><stop offset="0.682" stop-color="#4672af"/><stop offset="0.713" stop-color="#4067a1"/><stop offset="0.726" stop-color="#395a92"/><stop offset="0.739" stop-color="#4470ac"/><stop offset="0.748" stop-color="#76a0cb"/><stop offset="0.756" stop-color="#b3d2e4"/><stop offset="0.761" stop-color="#b7d5e6"/><stop offset="0.769" stop-color="#80aad0"/><stop offset="0.778" stop-color="#507db6"/><stop offset="0.787" stop-color="#4470ac"/><stop offset="0.997" stop-color="#4673b0"/></linearGradient>
<linearGradient id="rf23" gradientUnits="userSpaceOnUse" x1="766.5" y1="0" x2="1224" y2="0"><stop offset="0.000" stop-color="#4673b0"/><stop offset="0.061" stop-color="#729cc8"/><stop offset="0.096" stop-color="#719cc8"/><stop offset="0.166" stop-color="#436ea9"/><stop offset="0.175" stop-color="#4169a3"/><stop offset="0.179" stop-color="#4570ac"/><stop offset="0.188" stop-color="#7da6ce"/><stop offset="0.192" stop-color="#a3c8de"/><stop offset="0.197" stop-color="#dfedef"/><stop offset="0.201" stop-color="#f6e8b3"/><stop offset="0.205" stop-color="#fbce88"/><stop offset="0.210" stop-color="#fbc985"/><stop offset="0.214" stop-color="#f9e39c"/><stop offset="0.219" stop-color="#f0f2dd"/><stop offset="0.223" stop-color="#cde3ee"/><stop offset="0.232" stop-color="#8cb5d5"/><stop offset="0.240" stop-color="#709ac7"/><stop offset="0.337" stop-color="#729cc9"/><stop offset="0.398" stop-color="#8cb5d5"/><stop offset="0.428" stop-color="#93bbd8"/><stop offset="0.450" stop-color="#96bed9"/><stop offset="0.481" stop-color="#eaf3f0"/><stop offset="0.498" stop-color="#eff3e6"/><stop offset="0.516" stop-color="#e8f2f0"/><stop offset="0.555" stop-color="#8ab2d4"/><stop offset="0.599" stop-color="#5985bb"/><stop offset="0.656" stop-color="#4570ad"/><stop offset="0.708" stop-color="#426aa5"/><stop offset="0.726" stop-color="#385a92"/><stop offset="0.739" stop-color="#446faa"/><stop offset="0.743" stop-color="#5480b8"/><stop offset="0.756" stop-color="#abcde1"/><stop offset="0.761" stop-color="#afd0e3"/><stop offset="0.769" stop-color="#7aa4cd"/><stop offset="0.778" stop-color="#4976b2"/><stop offset="0.791" stop-color="#426ba6"/><stop offset="0.975" stop-color="#4470ac"/><stop offset="0.997" stop-color="#446fab"/></linearGradient>
<linearGradient id="rf24" gradientUnits="userSpaceOnUse" x1="766.5" y1="0" x2="1224" y2="0"><stop offset="0.000" stop-color="#3f659e"/><stop offset="0.101" stop-color="#446fab"/><stop offset="0.175" stop-color="#3a5d95"/><stop offset="0.184" stop-color="#4774b1"/><stop offset="0.192" stop-color="#8db5d5"/><stop offset="0.197" stop-color="#c2dcea"/><stop offset="0.201" stop-color="#f2f0d5"/><stop offset="0.205" stop-color="#f9e29a"/><stop offset="0.210" stop-color="#fadf95"/><stop offset="0.214" stop-color="#f4ecc2"/><stop offset="0.219" stop-color="#d7e9ef"/><stop offset="0.223" stop-color="#a0c6dd"/><stop offset="0.236" stop-color="#527eb7"/><stop offset="0.245" stop-color="#4774b1"/><stop offset="0.289" stop-color="#4f7bb5"/><stop offset="0.459" stop-color="#6893c3"/><stop offset="0.494" stop-color="#7da6ce"/><stop offset="0.533" stop-color="#6b95c5"/><stop offset="0.595" stop-color="#4774b0"/><stop offset="0.708" stop-color="#416aa4"/><stop offset="0.726" stop-color="#385991"/><stop offset="0.739" stop-color="#436ea9"/><stop offset="0.743" stop-color="#527eb7"/><stop offset="0.756" stop-color="#a7cbe0"/><stop offset="0.761" stop-color="#abcde1"/><stop offset="0.769" stop-color="#77a1cb"/><stop offset="0.778" stop-color="#4672af"/><stop offset="0.791" stop-color="#4168a3"/><stop offset="0.975" stop-color="#436ea9"/><stop offset="0.997" stop-color="#436ea9"/></linearGradient>
<linearGradient id="rf25" gradientUnits="userSpaceOnUse" x1="766.5" y1="0" x2="1224" y2="0"><stop offset="0.000" stop-color="#3e639b"/><stop offset="0.109" stop-color="#426ba5"/><stop offset="0.175" stop-color="#395b93"/><stop offset="0.184" stop-color="#4572af"/><stop offset="0.192" stop-color="#8ab3d4"/><stop offset="0.197" stop-color="#bed9e8"/><stop offset="0.201" stop-color="#f1f1da"/><stop offset="0.205" stop-color="#f9e3a0"/><stop offset="0.210" stop-color="#fae299"/><stop offset="0.214" stop-color="#f3eec9"/><stop offset="0.219" stop-color="#d1e5ee"/><stop offset="0.223" stop-color="#9ac1db"/><stop offset="0.232" stop-color="#608bbf"/><stop offset="0.236" stop-color="#4c79b3"/><stop offset="0.249" stop-color="#4672af"/><stop offset="0.459" stop-color="#5f8abe"/><stop offset="0.503" stop-color="#6d98c6"/><stop offset="0.595" stop-color="#4572ae"/><stop offset="0.708" stop-color="#4169a4"/><stop offset="0.726" stop-color="#385991"/><stop offset="0.739" stop-color="#436ea9"/><stop offset="0.743" stop-color="#527eb7"/><stop offset="0.756" stop-color="#a6cadf"/><stop offset="0.761" stop-color="#aacce1"/><stop offset="0.769" stop-color="#76a0cb"/><stop offset="0.778" stop-color="#4572ae"/><stop offset="0.791" stop-color="#4168a2"/><stop offset="0.975" stop-color="#436da9"/><stop offset="0.997" stop-color="#436da9"/></linearGradient>
<linearGradient id="rf26" gradientUnits="userSpaceOnUse" x1="766.5" y1="0" x2="1224" y2="0"><stop offset="0.000" stop-color="#3c5f97"/><stop offset="0.114" stop-color="#40669f"/><stop offset="0.175" stop-color="#36578f"/><stop offset="0.184" stop-color="#446fab"/><stop offset="0.192" stop-color="#84add1"/><stop offset="0.197" stop-color="#b4d3e5"/><stop offset="0.201" stop-color="#eff4e8"/><stop offset="0.205" stop-color="#f7e7ae"/><stop offset="0.210" stop-color="#f8e6a8"/><stop offset="0.214" stop-color="#f1f1d8"/><stop offset="0.219" stop-color="#c5deeb"/><stop offset="0.223" stop-color="#91b9d7"/><stop offset="0.232" stop-color="#5581b8"/><stop offset="0.236" stop-color="#4570ac"/><stop offset="0.249" stop-color="#436ca8"/><stop offset="0.463" stop-color="#5783ba"/><stop offset="0.525" stop-color="#5581b9"/><stop offset="0.603" stop-color="#446fab"/><stop offset="0.708" stop-color="#4169a3"/><stop offset="0.726" stop-color="#375991"/><stop offset="0.739" stop-color="#436da8"/><stop offset="0.743" stop-color="#507db6"/><stop offset="0.756" stop-color="#a3c8de"/><stop offset="0.761" stop-color="#a6cae0"/><stop offset="0.769" stop-color="#749eca"/><stop offset="0.778" stop-color="#4571ad"/><stop offset="0.791" stop-color="#4067a1"/><stop offset="0.975" stop-color="#436ca8"/><stop offset="0.997" stop-color="#436ca7"/></linearGradient>
<linearGradient id="rf27" gradientUnits="userSpaceOnUse" x1="766.5" y1="0" x2="1224" y2="0"><stop offset="0.000" stop-color="#3c5f97"/><stop offset="0.114" stop-color="#40669f"/><stop offset="0.175" stop-color="#36578f"/><stop offset="0.184" stop-color="#446faa"/><stop offset="0.192" stop-color="#84add1"/><stop offset="0.197" stop-color="#b3d2e4"/><stop offset="0.201" stop-color="#eff4ea"/><stop offset="0.205" stop-color="#f6e8b0"/><stop offset="0.210" stop-color="#f7e6aa"/><stop offset="0.214" stop-color="#f1f1da"/><stop offset="0.219" stop-color="#c3ddea"/><stop offset="0.223" stop-color="#90b8d6"/><stop offset="0.232" stop-color="#5480b8"/><stop offset="0.236" stop-color="#4470ac"/><stop offset="0.249" stop-color="#426ca7"/><stop offset="0.463" stop-color="#5884ba"/><stop offset="0.529" stop-color="#537fb7"/><stop offset="0.612" stop-color="#436eaa"/><stop offset="0.708" stop-color="#4169a3"/><stop offset="0.726" stop-color="#375890"/><stop offset="0.739" stop-color="#436da8"/><stop offset="0.743" stop-color="#507cb6"/><stop offset="0.756" stop-color="#a3c8de"/><stop offset="0.761" stop-color="#a6cadf"/><stop offset="0.769" stop-color="#749eca"/><stop offset="0.778" stop-color="#4571ad"/><stop offset="0.791" stop-color="#4067a1"/><stop offset="0.975" stop-color="#436ca7"/><stop offset="0.997" stop-color="#436ca7"/></linearGradient>
<linearGradient id="rf28" gradientUnits="userSpaceOnUse" x1="766.5" y1="0" x2="1224" y2="0"><stop offset="0.000" stop-color="#3b5e96"/><stop offset="0.109" stop-color="#4066a0"/><stop offset="0.175" stop-color="#35558d"/><stop offset="0.184" stop-color="#436da9"/><stop offset="0.192" stop-color="#81aad0"/><stop offset="0.197" stop-color="#aecfe2"/><stop offset="0.201" stop-color="#ecf4f0"/><stop offset="0.205" stop-color="#f5eabb"/><stop offset="0.210" stop-color="#f6e9b5"/><stop offset="0.214" stop-color="#f0f3e4"/><stop offset="0.219" stop-color="#bdd9e8"/><stop offset="0.223" stop-color="#8cb4d5"/><stop offset="0.232" stop-color="#507cb6"/><stop offset="0.240" stop-color="#4168a2"/><stop offset="0.450" stop-color="#5682b9"/><stop offset="0.525" stop-color="#537fb7"/><stop offset="0.612" stop-color="#436da9"/><stop offset="0.708" stop-color="#4168a2"/><stop offset="0.726" stop-color="#375890"/><stop offset="0.739" stop-color="#436ca7"/><stop offset="0.743" stop-color="#4f7bb5"/><stop offset="0.756" stop-color="#a0c6dd"/><stop offset="0.761" stop-color="#a3c8de"/><stop offset="0.769" stop-color="#729cc9"/><stop offset="0.774" stop-color="#5581b8"/><stop offset="0.778" stop-color="#4470ac"/><stop offset="0.791" stop-color="#4066a0"/><stop offset="0.975" stop-color="#426ca7"/><stop offset="0.997" stop-color="#426ca7"/></linearGradient>
<linearGradient id="rf29" gradientUnits="userSpaceOnUse" x1="766.5" y1="0" x2="1224" y2="0"><stop offset="0.000" stop-color="#395c94"/><stop offset="0.122" stop-color="#3d6199"/><stop offset="0.175" stop-color="#34538b"/><stop offset="0.184" stop-color="#426ca7"/><stop offset="0.188" stop-color="#5a86bb"/><stop offset="0.197" stop-color="#a8cbe0"/><stop offset="0.201" stop-color="#e4efef"/><stop offset="0.205" stop-color="#f3edc7"/><stop offset="0.210" stop-color="#f4ecc1"/><stop offset="0.214" stop-color="#eef5ee"/><stop offset="0.223" stop-color="#88b1d3"/><stop offset="0.232" stop-color="#4d79b4"/><stop offset="0.240" stop-color="#4066a0"/><stop offset="0.516" stop-color="#4b78b3"/><stop offset="0.708" stop-color="#4068a1"/><stop offset="0.726" stop-color="#36578f"/><stop offset="0.743" stop-color="#4d7ab4"/><stop offset="0.756" stop-color="#9dc4dc"/><stop offset="0.761" stop-color="#a0c6dd"/><stop offset="0.769" stop-color="#709ac8"/><stop offset="0.774" stop-color="#537fb7"/><stop offset="0.783" stop-color="#4168a3"/><stop offset="0.997" stop-color="#426ba6"/></linearGradient>
<linearGradient id="rf30" gradientUnits="userSpaceOnUse" x1="766.5" y1="0" x2="1224" y2="0"><stop offset="0.000" stop-color="#385991"/><stop offset="0.162" stop-color="#375890"/><stop offset="0.175" stop-color="#335289"/><stop offset="0.184" stop-color="#426aa5"/><stop offset="0.188" stop-color="#5783ba"/><stop offset="0.197" stop-color="#a4c8de"/><stop offset="0.201" stop-color="#deecef"/><stop offset="0.205" stop-color="#f2efd0"/><stop offset="0.210" stop-color="#f3eeca"/><stop offset="0.214" stop-color="#e9f2f0"/><stop offset="0.219" stop-color="#b1d1e3"/><stop offset="0.227" stop-color="#6590c1"/><stop offset="0.232" stop-color="#4a76b2"/><stop offset="0.240" stop-color="#3f659e"/><stop offset="0.551" stop-color="#436ca8"/><stop offset="0.708" stop-color="#4067a0"/><stop offset="0.726" stop-color="#36568e"/><stop offset="0.739" stop-color="#426ba6"/><stop offset="0.743" stop-color="#4c78b3"/><stop offset="0.756" stop-color="#9ac2db"/><stop offset="0.761" stop-color="#9dc4dc"/><stop offset="0.769" stop-color="#6e98c6"/><stop offset="0.774" stop-color="#517eb6"/><stop offset="0.783" stop-color="#4068a2"/><stop offset="0.997" stop-color="#426aa5"/></linearGradient>
<linearGradient id="rf31" gradientUnits="userSpaceOnUse" x1="766.5" y1="0" x2="1224" y2="0"><stop offset="0.000" stop-color="#375890"/><stop offset="0.166" stop-color="#34548c"/><stop offset="0.175" stop-color="#325188"/><stop offset="0.184" stop-color="#416aa4"/><stop offset="0.188" stop-color="#5682b9"/><stop offset="0.197" stop-color="#a1c7de"/><stop offset="0.201" stop-color="#dbeaef"/><stop offset="0.205" stop-color="#f2f0d4"/><stop offset="0.210" stop-color="#f2efcf"/><stop offset="0.214" stop-color="#e6f1f0"/><stop offset="0.219" stop-color="#afcfe3"/><stop offset="0.227" stop-color="#648fc1"/><stop offset="0.232" stop-color="#4875b1"/><stop offset="0.240" stop-color="#3f649d"/><stop offset="0.608" stop-color="#4169a4"/><stop offset="0.708" stop-color="#4067a0"/><stop offset="0.726" stop-color="#35568e"/><stop offset="0.739" stop-color="#426aa5"/><stop offset="0.743" stop-color="#4b78b3"/><stop offset="0.756" stop-color="#99c0da"/><stop offset="0.761" stop-color="#9bc2db"/><stop offset="0.769" stop-color="#6d97c6"/><stop offset="0.774" stop-color="#517db6"/><stop offset="0.783" stop-color="#4067a1"/><stop offset="0.997" stop-color="#416aa4"/></linearGradient>
<linearGradient id="rf32" gradientUnits="userSpaceOnUse" x1="766.5" y1="0" x2="1224" y2="0"><stop offset="0.000" stop-color="#35548c"/><stop offset="0.166" stop-color="#325187"/><stop offset="0.175" stop-color="#314e83"/><stop offset="0.184" stop-color="#4066a0"/><stop offset="0.188" stop-color="#507cb5"/><stop offset="0.197" stop-color="#97bfda"/><stop offset="0.201" stop-color="#cae1ed"/><stop offset="0.205" stop-color="#eef5ed"/><stop offset="0.210" stop-color="#eff4e8"/><stop offset="0.214" stop-color="#d4e7ee"/><stop offset="0.219" stop-color="#a1c7de"/><stop offset="0.227" stop-color="#5d88bd"/><stop offset="0.232" stop-color="#4571ad"/><stop offset="0.240" stop-color="#3d6199"/><stop offset="0.704" stop-color="#4067a0"/><stop offset="0.726" stop-color="#34538b"/><stop offset="0.739" stop-color="#4168a2"/><stop offset="0.743" stop-color="#4673b0"/><stop offset="0.756" stop-color="#92bad7"/><stop offset="0.761" stop-color="#94bcd8"/><stop offset="0.769" stop-color="#6792c3"/><stop offset="0.774" stop-color="#4c79b3"/><stop offset="0.787" stop-color="#3e629b"/><stop offset="0.997" stop-color="#4068a2"/></linearGradient>
<linearGradient id="rf33" gradientUnits="userSpaceOnUse" x1="766.5" y1="0" x2="1224" y2="0"><stop offset="0.000" stop-color="#325188"/><stop offset="0.162" stop-color="#325086"/><stop offset="0.175" stop-color="#2f4b7d"/><stop offset="0.184" stop-color="#3e629b"/><stop offset="0.188" stop-color="#4875b1"/><stop offset="0.201" stop-color="#b3d2e4"/><stop offset="0.205" stop-color="#d4e7ee"/><stop offset="0.210" stop-color="#d7e8ef"/><stop offset="0.214" stop-color="#bcd8e7"/><stop offset="0.227" stop-color="#5480b8"/><stop offset="0.232" stop-color="#436ca8"/><stop offset="0.240" stop-color="#3a5c94"/><stop offset="0.704" stop-color="#3e639c"/><stop offset="0.726" stop-color="#325086"/><stop offset="0.743" stop-color="#446fab"/><stop offset="0.756" stop-color="#87b0d2"/><stop offset="0.761" stop-color="#89b2d3"/><stop offset="0.769" stop-color="#5e89bd"/><stop offset="0.774" stop-color="#4672af"/><stop offset="0.787" stop-color="#3b5f97"/><stop offset="0.997" stop-color="#3f659e"/></linearGradient>
<linearGradient id="rf34" gradientUnits="userSpaceOnUse" x1="766.5" y1="0" x2="1224" y2="0"><stop offset="0.000" stop-color="#314f84"/><stop offset="0.162" stop-color="#304e82"/><stop offset="0.175" stop-color="#2e4a7b"/><stop offset="0.184" stop-color="#3c5f97"/><stop offset="0.188" stop-color="#4571ad"/><stop offset="0.201" stop-color="#a5c9df"/><stop offset="0.205" stop-color="#c3ddea"/><stop offset="0.210" stop-color="#c6dfeb"/><stop offset="0.219" stop-color="#8bb4d4"/><stop offset="0.227" stop-color="#4e7bb5"/><stop offset="0.240" stop-color="#385991"/><stop offset="0.638" stop-color="#3d629a"/><stop offset="0.708" stop-color="#3b5f97"/><stop offset="0.726" stop-color="#304e82"/><stop offset="0.743" stop-color="#426ca7"/><stop offset="0.756" stop-color="#7da7ce"/><stop offset="0.761" stop-color="#7fa9cf"/><stop offset="0.774" stop-color="#446fab"/><stop offset="0.787" stop-color="#3a5c94"/><stop offset="0.997" stop-color="#3e629b"/></linearGradient>
<linearGradient id="rf35" gradientUnits="userSpaceOnUse" x1="766.5" y1="0" x2="1224" y2="0"><stop offset="0.000" stop-color="#304d81"/><stop offset="0.162" stop-color="#304d80"/><stop offset="0.175" stop-color="#2e4a7b"/><stop offset="0.184" stop-color="#3a5d95"/><stop offset="0.188" stop-color="#446faa"/><stop offset="0.201" stop-color="#9ac1db"/><stop offset="0.205" stop-color="#b4d3e5"/><stop offset="0.210" stop-color="#b7d5e6"/><stop offset="0.219" stop-color="#85aed1"/><stop offset="0.227" stop-color="#4a77b2"/><stop offset="0.240" stop-color="#36578f"/><stop offset="0.525" stop-color="#3c5f97"/><stop offset="0.708" stop-color="#3a5d95"/><stop offset="0.726" stop-color="#304d80"/><stop offset="0.743" stop-color="#416aa4"/><stop offset="0.748" stop-color="#4b78b3"/><stop offset="0.756" stop-color="#759fca"/><stop offset="0.761" stop-color="#77a1cb"/><stop offset="0.774" stop-color="#436ca7"/><stop offset="0.787" stop-color="#385a92"/><stop offset="0.997" stop-color="#3d6199"/></linearGradient>
<linearGradient id="rf36" gradientUnits="userSpaceOnUse" x1="766.5" y1="0" x2="1224" y2="0"><stop offset="0.000" stop-color="#2f4c7f"/><stop offset="0.179" stop-color="#304d80"/><stop offset="0.188" stop-color="#436da8"/><stop offset="0.201" stop-color="#93bad7"/><stop offset="0.205" stop-color="#a7cbe0"/><stop offset="0.210" stop-color="#aacce1"/><stop offset="0.219" stop-color="#7fa8cf"/><stop offset="0.227" stop-color="#4673b0"/><stop offset="0.240" stop-color="#35558d"/><stop offset="0.472" stop-color="#3b5e96"/><stop offset="0.708" stop-color="#395b93"/><stop offset="0.726" stop-color="#2f4c7e"/><stop offset="0.743" stop-color="#4068a1"/><stop offset="0.748" stop-color="#4673b0"/><stop offset="0.756" stop-color="#6d98c6"/><stop offset="0.761" stop-color="#6f99c7"/><stop offset="0.774" stop-color="#426aa5"/><stop offset="0.787" stop-color="#375890"/><stop offset="0.992" stop-color="#3c5f97"/><stop offset="0.997" stop-color="#3c5f97"/></linearGradient>
<linearGradient id="rf37" gradientUnits="userSpaceOnUse" x1="766.5" y1="0" x2="1224" y2="0"><stop offset="0.000" stop-color="#304d80"/><stop offset="0.157" stop-color="#304d80"/><stop offset="0.179" stop-color="#2f4c7f"/><stop offset="0.188" stop-color="#426ca7"/><stop offset="0.201" stop-color="#8fb7d6"/><stop offset="0.205" stop-color="#a0c6dd"/><stop offset="0.210" stop-color="#a3c8de"/><stop offset="0.219" stop-color="#7ca5cd"/><stop offset="0.227" stop-color="#4672af"/><stop offset="0.240" stop-color="#35558d"/><stop offset="0.520" stop-color="#3d629a"/><stop offset="0.708" stop-color="#395a92"/><stop offset="0.726" stop-color="#2f4b7d"/><stop offset="0.743" stop-color="#4067a0"/><stop offset="0.748" stop-color="#4572ae"/><stop offset="0.756" stop-color="#6994c4"/><stop offset="0.761" stop-color="#6b95c5"/><stop offset="0.769" stop-color="#4875b1"/><stop offset="0.783" stop-color="#395b93"/><stop offset="0.997" stop-color="#3b5e96"/></linearGradient>
<linearGradient id="rf38" gradientUnits="userSpaceOnUse" x1="766.5" y1="0" x2="1224" y2="0"><stop offset="0.000" stop-color="#304e82"/><stop offset="0.118" stop-color="#325188"/><stop offset="0.175" stop-color="#2e4a7b"/><stop offset="0.179" stop-color="#2f4c7f"/><stop offset="0.188" stop-color="#426ba6"/><stop offset="0.201" stop-color="#8cb5d5"/><stop offset="0.205" stop-color="#9dc4dc"/><stop offset="0.210" stop-color="#9fc5dd"/><stop offset="0.219" stop-color="#7aa4cd"/><stop offset="0.227" stop-color="#4572ae"/><stop offset="0.240" stop-color="#35548c"/><stop offset="0.507" stop-color="#4068a2"/><stop offset="0.708" stop-color="#385a92"/><stop offset="0.726" stop-color="#2e4b7c"/><stop offset="0.743" stop-color="#4066a0"/><stop offset="0.748" stop-color="#4571ad"/><stop offset="0.756" stop-color="#6792c3"/><stop offset="0.761" stop-color="#6993c3"/><stop offset="0.769" stop-color="#4774b0"/><stop offset="0.783" stop-color="#385a92"/><stop offset="0.997" stop-color="#3b5e96"/></linearGradient>
<linearGradient id="rf39" gradientUnits="userSpaceOnUse" x1="766.5" y1="0" x2="1224" y2="0"><stop offset="0.000" stop-color="#314e83"/><stop offset="0.109" stop-color="#35548c"/><stop offset="0.175" stop-color="#2e4a7b"/><stop offset="0.179" stop-color="#2f4c7f"/><stop offset="0.188" stop-color="#426ba6"/><stop offset="0.201" stop-color="#8ab3d4"/><stop offset="0.205" stop-color="#9ac1db"/><stop offset="0.210" stop-color="#9bc3db"/><stop offset="0.219" stop-color="#78a2cc"/><stop offset="0.227" stop-color="#4571ae"/><stop offset="0.240" stop-color="#35548c"/><stop offset="0.498" stop-color="#426ca7"/><stop offset="0.708" stop-color="#385a92"/><stop offset="0.726" stop-color="#2e4a7c"/><stop offset="0.743" stop-color="#3f669f"/><stop offset="0.752" stop-color="#5682b9"/><stop offset="0.756" stop-color="#6590c1"/><stop offset="0.761" stop-color="#6792c2"/><stop offset="0.769" stop-color="#4673b0"/><stop offset="0.783" stop-color="#385a92"/><stop offset="0.997" stop-color="#3b5e96"/></linearGradient>
<linearGradient id="rf40" gradientUnits="userSpaceOnUse" x1="766.5" y1="0" x2="1224" y2="0"><stop offset="0.000" stop-color="#304d81"/><stop offset="0.114" stop-color="#335189"/><stop offset="0.179" stop-color="#2f4c7e"/><stop offset="0.192" stop-color="#537fb7"/><stop offset="0.201" stop-color="#88b0d3"/><stop offset="0.205" stop-color="#97bed9"/><stop offset="0.210" stop-color="#98c0da"/><stop offset="0.219" stop-color="#76a0cb"/><stop offset="0.227" stop-color="#4570ad"/><stop offset="0.240" stop-color="#34548c"/><stop offset="0.507" stop-color="#4168a2"/><stop offset="0.708" stop-color="#385991"/><stop offset="0.726" stop-color="#2e4a7b"/><stop offset="0.743" stop-color="#3f659e"/><stop offset="0.752" stop-color="#5480b8"/><stop offset="0.756" stop-color="#638ec0"/><stop offset="0.761" stop-color="#6590c1"/><stop offset="0.769" stop-color="#4572af"/><stop offset="0.783" stop-color="#385991"/><stop offset="0.997" stop-color="#3b5d95"/></linearGradient>
<linearGradient id="rf41" gradientUnits="userSpaceOnUse" x1="766.5" y1="0" x2="1224" y2="0"><stop offset="0.000" stop-color="#2f4c7f"/><stop offset="0.157" stop-color="#2f4c7f"/><stop offset="0.179" stop-color="#2f4b7d"/><stop offset="0.192" stop-color="#517eb6"/><stop offset="0.201" stop-color="#85aed2"/><stop offset="0.205" stop-color="#94bcd8"/><stop offset="0.210" stop-color="#96bdd9"/><stop offset="0.219" stop-color="#749eca"/><stop offset="0.227" stop-color="#4470ac"/><stop offset="0.240" stop-color="#34548c"/><stop offset="0.494" stop-color="#3e639c"/><stop offset="0.708" stop-color="#385991"/><stop offset="0.726" stop-color="#2e4a7b"/><stop offset="0.743" stop-color="#3f659e"/><stop offset="0.752" stop-color="#537fb7"/><stop offset="0.756" stop-color="#618cbf"/><stop offset="0.761" stop-color="#638ec0"/><stop offset="0.769" stop-color="#4571ae"/><stop offset="0.783" stop-color="#385991"/><stop offset="0.997" stop-color="#3a5d95"/></linearGradient>
<linearGradient id="rf42" gradientUnits="userSpaceOnUse" x1="766.5" y1="0" x2="1224" y2="0"><stop offset="0.000" stop-color="#2f4c7f"/><stop offset="0.179" stop-color="#2f4b7d"/><stop offset="0.192" stop-color="#507cb6"/><stop offset="0.201" stop-color="#83acd1"/><stop offset="0.205" stop-color="#91b9d7"/><stop offset="0.210" stop-color="#93bbd8"/><stop offset="0.219" stop-color="#729dc9"/><stop offset="0.227" stop-color="#4470ac"/><stop offset="0.240" stop-color="#35548c"/><stop offset="0.420" stop-color="#3c5f97"/><stop offset="0.708" stop-color="#375991"/><stop offset="0.726" stop-color="#2e4a7b"/><stop offset="0.743" stop-color="#3f649d"/><stop offset="0.756" stop-color="#5f8bbe"/><stop offset="0.761" stop-color="#618cbf"/><stop offset="0.774" stop-color="#4067a0"/><stop offset="0.787" stop-color="#36568e"/><stop offset="0.979" stop-color="#3a5d95"/><stop offset="0.997" stop-color="#3a5d95"/></linearGradient>
<linearGradient id="rf43" gradientUnits="userSpaceOnUse" x1="766.5" y1="0" x2="1224" y2="0"><stop offset="0.000" stop-color="#314e83"/><stop offset="0.153" stop-color="#314f84"/><stop offset="0.175" stop-color="#2e4a7b"/><stop offset="0.179" stop-color="#2f4c7e"/><stop offset="0.192" stop-color="#517eb6"/><stop offset="0.201" stop-color="#83acd1"/><stop offset="0.205" stop-color="#91b9d7"/><stop offset="0.210" stop-color="#93bbd8"/><stop offset="0.219" stop-color="#749eca"/><stop offset="0.227" stop-color="#4572af"/><stop offset="0.240" stop-color="#375890"/><stop offset="0.424" stop-color="#3e639c"/><stop offset="0.542" stop-color="#3f659e"/><stop offset="0.708" stop-color="#375991"/><stop offset="0.726" stop-color="#2e4a7b"/><stop offset="0.743" stop-color="#3f649d"/><stop offset="0.756" stop-color="#5e89bd"/><stop offset="0.761" stop-color="#5f8abe"/><stop offset="0.774" stop-color="#4066a0"/><stop offset="0.787" stop-color="#35568e"/><stop offset="0.975" stop-color="#3a5c94"/><stop offset="0.997" stop-color="#3a5c94"/></linearGradient>
<linearGradient id="rf44" gradientUnits="userSpaceOnUse" x1="766.5" y1="0" x2="1224" y2="0"><stop offset="0.000" stop-color="#3a5d95"/><stop offset="0.083" stop-color="#426aa5"/><stop offset="0.157" stop-color="#395a92"/><stop offset="0.175" stop-color="#304d81"/><stop offset="0.184" stop-color="#3d6199"/><stop offset="0.188" stop-color="#4570ac"/><stop offset="0.201" stop-color="#8cb5d5"/><stop offset="0.210" stop-color="#9fc5dd"/><stop offset="0.219" stop-color="#85add1"/><stop offset="0.232" stop-color="#4673b0"/><stop offset="0.245" stop-color="#4169a3"/><stop offset="0.393" stop-color="#4d79b4"/><stop offset="0.446" stop-color="#5581b8"/><stop offset="0.494" stop-color="#749eca"/><stop offset="0.538" stop-color="#5d88bd"/><stop offset="0.581" stop-color="#4470ac"/><stop offset="0.708" stop-color="#385a92"/><stop offset="0.726" stop-color="#2e4b7c"/><stop offset="0.748" stop-color="#446eaa"/><stop offset="0.756" stop-color="#5e8abe"/><stop offset="0.761" stop-color="#608bbe"/><stop offset="0.774" stop-color="#4067a1"/><stop offset="0.787" stop-color="#36578f"/><stop offset="0.975" stop-color="#3a5d95"/><stop offset="0.997" stop-color="#3a5d95"/></linearGradient>
<linearGradient id="rf45" gradientUnits="userSpaceOnUse" x1="766.5" y1="0" x2="1224" y2="0"><stop offset="0.000" stop-color="#4a77b2"/><stop offset="0.039" stop-color="#77a1cb"/><stop offset="0.101" stop-color="#7ca6ce"/><stop offset="0.131" stop-color="#6792c3"/><stop offset="0.166" stop-color="#4067a0"/><stop offset="0.175" stop-color="#3a5d95"/><stop offset="0.184" stop-color="#446eaa"/><stop offset="0.201" stop-color="#a2c7de"/><stop offset="0.210" stop-color="#bfdae9"/><stop offset="0.219" stop-color="#a7cae0"/><stop offset="0.236" stop-color="#6590c1"/><stop offset="0.297" stop-color="#6691c2"/><stop offset="0.367" stop-color="#7aa4cd"/><stop offset="0.415" stop-color="#9ec4dc"/><stop offset="0.437" stop-color="#93bbd8"/><stop offset="0.468" stop-color="#d4e7ee"/><stop offset="0.481" stop-color="#eef5ef"/><stop offset="0.498" stop-color="#f0f2e2"/><stop offset="0.516" stop-color="#eaf3f0"/><stop offset="0.546" stop-color="#a1c6dd"/><stop offset="0.581" stop-color="#709ac8"/><stop offset="0.625" stop-color="#4571ad"/><stop offset="0.713" stop-color="#375890"/><stop offset="0.726" stop-color="#2f4c7f"/><stop offset="0.748" stop-color="#4570ac"/><stop offset="0.756" stop-color="#618cbf"/><stop offset="0.761" stop-color="#628dc0"/><stop offset="0.769" stop-color="#4672af"/><stop offset="0.783" stop-color="#395c94"/><stop offset="0.997" stop-color="#3b5e96"/></linearGradient>
<linearGradient id="rf46" gradientUnits="userSpaceOnUse" x1="766.5" y1="0" x2="1224" y2="0"><stop offset="0.000" stop-color="#6893c3"/><stop offset="0.031" stop-color="#99c1da"/><stop offset="0.052" stop-color="#aecfe2"/><stop offset="0.092" stop-color="#b2d2e4"/><stop offset="0.118" stop-color="#a1c7dd"/><stop offset="0.153" stop-color="#6792c2"/><stop offset="0.170" stop-color="#426ca7"/><stop offset="0.179" stop-color="#426ba6"/><stop offset="0.184" stop-color="#4d7ab4"/><stop offset="0.201" stop-color="#b6d4e5"/><stop offset="0.210" stop-color="#d5e7ee"/><stop offset="0.219" stop-color="#c6dfeb"/><stop offset="0.232" stop-color="#8db5d5"/><stop offset="0.240" stop-color="#81aad0"/><stop offset="0.271" stop-color="#89b1d3"/><stop offset="0.323" stop-color="#86afd2"/><stop offset="0.367" stop-color="#9ec4dc"/><stop offset="0.415" stop-color="#e3efef"/><stop offset="0.437" stop-color="#cfe4ee"/><stop offset="0.450" stop-color="#eff4ea"/><stop offset="0.477" stop-color="#fad78f"/><stop offset="0.498" stop-color="#fbc683"/><stop offset="0.520" stop-color="#fae196"/><stop offset="0.542" stop-color="#eff3e7"/><stop offset="0.551" stop-color="#d7e8ef"/><stop offset="0.568" stop-color="#a6cadf"/><stop offset="0.630" stop-color="#4d7ab4"/><stop offset="0.695" stop-color="#3f649d"/><stop offset="0.717" stop-color="#33538b"/><stop offset="0.726" stop-color="#304e82"/><stop offset="0.748" stop-color="#4571ae"/><stop offset="0.756" stop-color="#628ec0"/><stop offset="0.761" stop-color="#648fc1"/><stop offset="0.769" stop-color="#4773b0"/><stop offset="0.783" stop-color="#3a5d95"/><stop offset="0.997" stop-color="#3c5f97"/></linearGradient>
<linearGradient id="rf47" gradientUnits="userSpaceOnUse" x1="766.5" y1="0" x2="1224" y2="0"><stop offset="0.000" stop-color="#759fca"/><stop offset="0.031" stop-color="#b1d1e3"/><stop offset="0.048" stop-color="#c8dfec"/><stop offset="0.087" stop-color="#cfe4ee"/><stop offset="0.114" stop-color="#c4ddea"/><stop offset="0.149" stop-color="#7da7ce"/><stop offset="0.170" stop-color="#4571ad"/><stop offset="0.179" stop-color="#446fab"/><stop offset="0.188" stop-color="#6e99c7"/><stop offset="0.201" stop-color="#bed9e8"/><stop offset="0.210" stop-color="#deecef"/><stop offset="0.219" stop-color="#d3e6ee"/><stop offset="0.232" stop-color="#98c0da"/><stop offset="0.240" stop-color="#8eb6d5"/><stop offset="0.271" stop-color="#95bdd9"/><stop offset="0.319" stop-color="#91b9d7"/><stop offset="0.363" stop-color="#abcde1"/><stop offset="0.402" stop-color="#edf4f0"/><stop offset="0.415" stop-color="#f1f1dc"/><stop offset="0.433" stop-color="#eaf3f0"/><stop offset="0.442" stop-color="#eff3e5"/><stop offset="0.463" stop-color="#fadf94"/><stop offset="0.481" stop-color="#fcb274"/><stop offset="0.498" stop-color="#fba66b"/><stop offset="0.520" stop-color="#fbc481"/><stop offset="0.533" stop-color="#f9e39f"/><stop offset="0.551" stop-color="#eff4eb"/><stop offset="0.573" stop-color="#b2d1e4"/><stop offset="0.621" stop-color="#5b87bc"/><stop offset="0.656" stop-color="#436da9"/><stop offset="0.713" stop-color="#385a92"/><stop offset="0.726" stop-color="#314e83"/><stop offset="0.748" stop-color="#4572ae"/><stop offset="0.756" stop-color="#638ec0"/><stop offset="0.761" stop-color="#648fc1"/><stop offset="0.769" stop-color="#4774b1"/><stop offset="0.783" stop-color="#3b5e96"/><stop offset="0.997" stop-color="#3c5f97"/></linearGradient>
<linearGradient id="rf48" gradientUnits="userSpaceOnUse" x1="766.5" y1="0" x2="1224" y2="0"><stop offset="0.000" stop-color="#6893c3"/><stop offset="0.031" stop-color="#99c0da"/><stop offset="0.052" stop-color="#adcfe2"/><stop offset="0.092" stop-color="#b2d1e4"/><stop offset="0.118" stop-color="#a0c6dd"/><stop offset="0.153" stop-color="#6691c2"/><stop offset="0.170" stop-color="#426ca7"/><stop offset="0.179" stop-color="#426ba5"/><stop offset="0.184" stop-color="#4d79b4"/><stop offset="0.201" stop-color="#b3d2e4"/><stop offset="0.210" stop-color="#d2e6ee"/><stop offset="0.219" stop-color="#c4ddeb"/><stop offset="0.232" stop-color="#8cb4d5"/><stop offset="0.240" stop-color="#81aad0"/><stop offset="0.271" stop-color="#88b1d3"/><stop offset="0.323" stop-color="#86afd2"/><stop offset="0.367" stop-color="#9dc4dc"/><stop offset="0.415" stop-color="#e2efef"/><stop offset="0.437" stop-color="#cfe4ee"/><stop offset="0.450" stop-color="#eff4eb"/><stop offset="0.477" stop-color="#fad88f"/><stop offset="0.498" stop-color="#fbc683"/><stop offset="0.520" stop-color="#fae197"/><stop offset="0.542" stop-color="#eff4e8"/><stop offset="0.551" stop-color="#d6e8ef"/><stop offset="0.568" stop-color="#a6cadf"/><stop offset="0.630" stop-color="#4d79b4"/><stop offset="0.713" stop-color="#385991"/><stop offset="0.726" stop-color="#304d81"/><stop offset="0.748" stop-color="#4571ad"/><stop offset="0.756" stop-color="#618cbf"/><stop offset="0.761" stop-color="#628ec0"/><stop offset="0.769" stop-color="#4673b0"/><stop offset="0.783" stop-color="#3a5d95"/><stop offset="0.997" stop-color="#3b5f97"/></linearGradient>
<linearGradient id="rf49" gradientUnits="userSpaceOnUse" x1="766.5" y1="0" x2="1224" y2="0"><stop offset="0.000" stop-color="#4a76b2"/><stop offset="0.039" stop-color="#76a0cb"/><stop offset="0.101" stop-color="#7ba5cd"/><stop offset="0.131" stop-color="#6792c2"/><stop offset="0.166" stop-color="#4066a0"/><stop offset="0.175" stop-color="#3a5c94"/><stop offset="0.184" stop-color="#436da9"/><stop offset="0.201" stop-color="#9dc4dc"/><stop offset="0.210" stop-color="#b9d6e6"/><stop offset="0.219" stop-color="#a3c8de"/><stop offset="0.236" stop-color="#648fc1"/><stop offset="0.293" stop-color="#6691c2"/><stop offset="0.358" stop-color="#729dc9"/><stop offset="0.415" stop-color="#9dc4dc"/><stop offset="0.437" stop-color="#93bad8"/><stop offset="0.468" stop-color="#d3e6ee"/><stop offset="0.481" stop-color="#eef5f0"/><stop offset="0.498" stop-color="#f0f3e3"/><stop offset="0.516" stop-color="#e9f2f0"/><stop offset="0.551" stop-color="#97bed9"/><stop offset="0.621" stop-color="#4572af"/><stop offset="0.713" stop-color="#36578f"/><stop offset="0.726" stop-color="#2f4c7f"/><stop offset="0.748" stop-color="#446fab"/><stop offset="0.756" stop-color="#5e89bd"/><stop offset="0.761" stop-color="#5f8bbe"/><stop offset="0.774" stop-color="#4068a2"/><stop offset="0.787" stop-color="#375890"/><stop offset="0.970" stop-color="#3b5e96"/><stop offset="0.997" stop-color="#3b5e96"/></linearGradient>
<linearGradient id="rf50" gradientUnits="userSpaceOnUse" x1="766.5" y1="0" x2="1224" y2="0"><stop offset="0.000" stop-color="#395c94"/><stop offset="0.083" stop-color="#416aa4"/><stop offset="0.157" stop-color="#385991"/><stop offset="0.175" stop-color="#2f4c7f"/><stop offset="0.184" stop-color="#3c6098"/><stop offset="0.188" stop-color="#446faa"/><stop offset="0.201" stop-color="#86afd2"/><stop offset="0.210" stop-color="#97bed9"/><stop offset="0.219" stop-color="#7fa9cf"/><stop offset="0.232" stop-color="#4572ae"/><stop offset="0.245" stop-color="#4068a2"/><stop offset="0.398" stop-color="#4d79b4"/><stop offset="0.446" stop-color="#5480b8"/><stop offset="0.494" stop-color="#729dc9"/><stop offset="0.538" stop-color="#5b87bc"/><stop offset="0.577" stop-color="#4570ac"/><stop offset="0.695" stop-color="#3b5d95"/><stop offset="0.717" stop-color="#314f84"/><stop offset="0.726" stop-color="#2e4a7b"/><stop offset="0.748" stop-color="#436da8"/><stop offset="0.756" stop-color="#5985bb"/><stop offset="0.761" stop-color="#5b86bc"/><stop offset="0.774" stop-color="#3f669f"/><stop offset="0.791" stop-color="#36568e"/><stop offset="0.992" stop-color="#3a5c94"/><stop offset="0.997" stop-color="#3a5c94"/></linearGradient>
<linearGradient id="rf51" gradientUnits="userSpaceOnUse" x1="766.5" y1="0" x2="1224" y2="0"><stop offset="0.000" stop-color="#304d81"/><stop offset="0.153" stop-color="#304d82"/><stop offset="0.179" stop-color="#2e4a7c"/><stop offset="0.192" stop-color="#4b77b3"/><stop offset="0.201" stop-color="#79a3cc"/><stop offset="0.210" stop-color="#88b0d3"/><stop offset="0.219" stop-color="#6b96c5"/><stop offset="0.227" stop-color="#446fab"/><stop offset="0.240" stop-color="#36568e"/><stop offset="0.367" stop-color="#3c5f97"/><stop offset="0.538" stop-color="#3f649d"/><stop offset="0.708" stop-color="#36578f"/><stop offset="0.726" stop-color="#2e4a7b"/><stop offset="0.743" stop-color="#3e629a"/><stop offset="0.756" stop-color="#5682b9"/><stop offset="0.761" stop-color="#5783ba"/><stop offset="0.778" stop-color="#3a5c94"/><stop offset="0.796" stop-color="#36578f"/><stop offset="0.997" stop-color="#395b93"/></linearGradient>
<linearGradient id="rf52" gradientUnits="userSpaceOnUse" x1="766.5" y1="0" x2="1224" y2="0"><stop offset="0.000" stop-color="#2e4a7b"/><stop offset="0.179" stop-color="#2e4a7b"/><stop offset="0.192" stop-color="#4673b0"/><stop offset="0.201" stop-color="#749eca"/><stop offset="0.210" stop-color="#82abd0"/><stop offset="0.219" stop-color="#6590c1"/><stop offset="0.227" stop-color="#426ba6"/><stop offset="0.240" stop-color="#335289"/><stop offset="0.337" stop-color="#385a92"/><stop offset="0.708" stop-color="#36568e"/><stop offset="0.726" stop-color="#2e4a7b"/><stop offset="0.743" stop-color="#3d6199"/><stop offset="0.756" stop-color="#5380b8"/><stop offset="0.765" stop-color="#4a77b2"/><stop offset="0.783" stop-color="#36568e"/><stop offset="0.997" stop-color="#395a92"/></linearGradient>
<linearGradient id="rf53" gradientUnits="userSpaceOnUse" x1="766.5" y1="0" x2="1224" y2="0"><stop offset="0.000" stop-color="#2e4a7b"/><stop offset="0.179" stop-color="#2e4a7b"/><stop offset="0.192" stop-color="#4572ae"/><stop offset="0.205" stop-color="#7ca5ce"/><stop offset="0.214" stop-color="#739dc9"/><stop offset="0.223" stop-color="#4b78b3"/><stop offset="0.236" stop-color="#35558d"/><stop offset="0.708" stop-color="#36568e"/><stop offset="0.726" stop-color="#2e4a7b"/><stop offset="0.739" stop-color="#37578f"/><stop offset="0.756" stop-color="#517db6"/><stop offset="0.765" stop-color="#4875b1"/><stop offset="0.783" stop-color="#35568e"/><stop offset="0.997" stop-color="#385a92"/></linearGradient>
<linearGradient id="rf54" gradientUnits="userSpaceOnUse" x1="766.5" y1="0" x2="1224" y2="0"><stop offset="0.000" stop-color="#2e4a7b"/><stop offset="0.179" stop-color="#2e4a7b"/><stop offset="0.192" stop-color="#436ea9"/><stop offset="0.205" stop-color="#719bc8"/><stop offset="0.214" stop-color="#6893c3"/><stop offset="0.223" stop-color="#4572ae"/><stop offset="0.240" stop-color="#314f84"/><stop offset="0.293" stop-color="#35568e"/><stop offset="0.708" stop-color="#35548c"/><stop offset="0.726" stop-color="#2e4a7b"/><stop offset="0.734" stop-color="#314f84"/><stop offset="0.756" stop-color="#4a77b2"/><stop offset="0.769" stop-color="#4169a3"/><stop offset="0.787" stop-color="#335289"/><stop offset="0.931" stop-color="#375890"/><stop offset="0.997" stop-color="#375890"/></linearGradient>
<linearGradient id="rf55" gradientUnits="userSpaceOnUse" x1="766.5" y1="0" x2="1224" y2="0"><stop offset="0.000" stop-color="#2e4a7b"/><stop offset="0.179" stop-color="#2e4a7b"/><stop offset="0.188" stop-color="#3a5c94"/><stop offset="0.201" stop-color="#5783ba"/><stop offset="0.210" stop-color="#628dc0"/><stop offset="0.223" stop-color="#436da8"/><stop offset="0.240" stop-color="#304d80"/><stop offset="0.284" stop-color="#34538b"/><stop offset="0.708" stop-color="#33528a"/><stop offset="0.721" stop-color="#2e4a7b"/><stop offset="0.734" stop-color="#304d81"/><stop offset="0.756" stop-color="#4470ac"/><stop offset="0.769" stop-color="#3f659e"/><stop offset="0.787" stop-color="#325087"/><stop offset="0.883" stop-color="#36578f"/><stop offset="0.997" stop-color="#36578f"/></linearGradient>
<linearGradient id="cbf" x1="0" y1="0" x2="0" y2="1"><stop offset="0.000" stop-color="#3c4d78"/><stop offset="0.031" stop-color="#2e4a7c"/><stop offset="0.062" stop-color="#34538b"/><stop offset="0.094" stop-color="#3b5f97"/><stop offset="0.125" stop-color="#4168a3"/><stop offset="0.156" stop-color="#4572af"/><stop offset="0.188" stop-color="#5581b8"/><stop offset="0.219" stop-color="#6590c2"/><stop offset="0.250" stop-color="#76a0cb"/><stop offset="0.281" stop-color="#85aed2"/><stop offset="0.312" stop-color="#94bcd8"/><stop offset="0.344" stop-color="#a6cae0"/><stop offset="0.375" stop-color="#bcd8e8"/><stop offset="0.406" stop-color="#d1e5ee"/><stop offset="0.438" stop-color="#e6f0f0"/><stop offset="0.469" stop-color="#f0f2e1"/><stop offset="0.500" stop-color="#f3eec9"/><stop offset="0.531" stop-color="#f6e8b2"/><stop offset="0.562" stop-color="#f9e29b"/><stop offset="0.594" stop-color="#fbd58e"/><stop offset="0.625" stop-color="#fbc683"/><stop offset="0.656" stop-color="#fcb778"/><stop offset="0.688" stop-color="#fba96d"/><stop offset="0.719" stop-color="#fa9b62"/><stop offset="0.750" stop-color="#f5895b"/><stop offset="0.781" stop-color="#ef7754"/><stop offset="0.812" stop-color="#e9634b"/><stop offset="0.844" stop-color="#e14c3d"/><stop offset="0.875" stop-color="#d83d34"/><stop offset="0.906" stop-color="#cf3731"/><stop offset="0.938" stop-color="#c4322f"/><stop offset="0.969" stop-color="#b52e2d"/><stop offset="1.000" stop-color="#a52a2c"/></linearGradient>
<linearGradient id="rg0" gradientUnits="userSpaceOnUse" x1="767.7" y1="0" x2="1227.4" y2="0"><stop offset="0.000" stop-color="#395a92"/><stop offset="0.026" stop-color="#3e639b"/><stop offset="0.048" stop-color="#4774b0"/><stop offset="0.061" stop-color="#436ea9"/><stop offset="0.083" stop-color="#3a5d95"/><stop offset="0.248" stop-color="#3b5d95"/><stop offset="0.257" stop-color="#3c5f97"/><stop offset="0.265" stop-color="#314e83"/><stop offset="0.274" stop-color="#2e4b7c"/><stop offset="0.996" stop-color="#2e4b7c"/></linearGradient>
<linearGradient id="rg1" gradientUnits="userSpaceOnUse" x1="767.7" y1="0" x2="1227.4" y2="0"><stop offset="0.000" stop-color="#36578f"/><stop offset="0.026" stop-color="#3b5e96"/><stop offset="0.048" stop-color="#436da8"/><stop offset="0.065" stop-color="#3f659e"/><stop offset="0.087" stop-color="#375890"/><stop offset="0.248" stop-color="#385991"/><stop offset="0.257" stop-color="#395b93"/><stop offset="0.270" stop-color="#2f4b7d"/><stop offset="0.996" stop-color="#2e4a7c"/></linearGradient>
<linearGradient id="rg2" gradientUnits="userSpaceOnUse" x1="767.7" y1="0" x2="1227.4" y2="0"><stop offset="0.000" stop-color="#34548c"/><stop offset="0.026" stop-color="#385a92"/><stop offset="0.048" stop-color="#4067a1"/><stop offset="0.070" stop-color="#3a5c94"/><stop offset="0.096" stop-color="#34548c"/><stop offset="0.248" stop-color="#35568e"/><stop offset="0.257" stop-color="#36578f"/><stop offset="0.270" stop-color="#2e4b7c"/><stop offset="0.996" stop-color="#2e4a7b"/></linearGradient>
<linearGradient id="rg3" gradientUnits="userSpaceOnUse" x1="767.7" y1="0" x2="1227.4" y2="0"><stop offset="0.000" stop-color="#335289"/><stop offset="0.030" stop-color="#385991"/><stop offset="0.052" stop-color="#3e629a"/><stop offset="0.091" stop-color="#33528a"/><stop offset="0.248" stop-color="#34538b"/><stop offset="0.257" stop-color="#34548c"/><stop offset="0.270" stop-color="#2e4a7c"/><stop offset="0.996" stop-color="#2e4a7b"/></linearGradient>
<linearGradient id="rg4" gradientUnits="userSpaceOnUse" x1="767.7" y1="0" x2="1227.4" y2="0"><stop offset="0.000" stop-color="#314f85"/><stop offset="0.039" stop-color="#36578f"/><stop offset="0.061" stop-color="#36578f"/><stop offset="0.100" stop-color="#314f85"/><stop offset="0.257" stop-color="#325086"/><stop offset="0.270" stop-color="#2e4a7b"/><stop offset="0.996" stop-color="#2f4a7b"/></linearGradient>
<linearGradient id="cbg" x1="0" y1="0" x2="0" y2="1"><stop offset="0.000" stop-color="#3c4d78"/><stop offset="0.031" stop-color="#2e4a7c"/><stop offset="0.062" stop-color="#34538b"/><stop offset="0.094" stop-color="#3b5f97"/><stop offset="0.125" stop-color="#4168a3"/><stop offset="0.156" stop-color="#4572af"/><stop offset="0.188" stop-color="#5581b8"/><stop offset="0.219" stop-color="#6590c2"/><stop offset="0.250" stop-color="#76a0cb"/><stop offset="0.281" stop-color="#85aed2"/><stop offset="0.312" stop-color="#94bcd8"/><stop offset="0.344" stop-color="#a6cae0"/><stop offset="0.375" stop-color="#bcd8e8"/><stop offset="0.406" stop-color="#d1e5ee"/><stop offset="0.438" stop-color="#e6f0f0"/><stop offset="0.469" stop-color="#f0f2e1"/><stop offset="0.500" stop-color="#f3eec9"/><stop offset="0.531" stop-color="#f6e8b2"/><stop offset="0.562" stop-color="#f9e29b"/><stop offset="0.594" stop-color="#fbd58e"/><stop offset="0.625" stop-color="#fbc683"/><stop offset="0.656" stop-color="#fcb778"/><stop offset="0.688" stop-color="#fba96d"/><stop offset="0.719" stop-color="#fa9b62"/><stop offset="0.750" stop-color="#f5895b"/><stop offset="0.781" stop-color="#ef7754"/><stop offset="0.812" stop-color="#e9634b"/><stop offset="0.844" stop-color="#e14c3d"/><stop offset="0.875" stop-color="#d83d34"/><stop offset="0.906" stop-color="#cf3731"/><stop offset="0.938" stop-color="#c4322f"/><stop offset="0.969" stop-color="#b52e2d"/><stop offset="1.000" stop-color="#a52a2c"/></linearGradient>
<clipPath id="hc"><rect x="98.9" y="1935.9" width="34.3" height="38.9" fill="none"/><rect x="133.2" y="1741.4" width="34.3" height="233.4" fill="none"/><rect x="184" y="1914" width="34.3" height="60.8" fill="none"/><rect x="218.3" y="1735.9" width="34.3" height="238.9" fill="none"/><rect x="269.1" y="1944.5" width="34.3" height="30.3" fill="none"/><rect x="303.4" y="1777.5" width="34.3" height="197.3" fill="none"/><rect x="354.2" y="1939.3" width="34.3" height="35.5" fill="none"/><rect x="388.5" y="1807.6" width="34.3" height="167.2" fill="none"/><rect x="439.3" y="1923.7" width="34.3" height="51.1" fill="none"/><rect x="473.6" y="1776.4" width="34.3" height="198.4" fill="none"/><rect x="524.4" y="1915.8" width="34.3" height="59" fill="none"/><rect x="558.7" y="1732" width="34.3" height="242.8" fill="none"/><rect x="98.9" y="1561.5" width="47.9" height="22.9" fill="none"/><rect x="98.9" y="1593" width="47.9" height="22.9" fill="none"/></clipPath>
<radialGradient id="qGa" cx="0.5" cy="0.5" r="0.52" fx="0.45" fy="0.38"><stop offset="0.05" stop-color="#ffffff"/><stop offset="0.3" stop-color="#d4f0c2"/><stop offset="0.72" stop-color="#a0da82"/><stop offset="1" stop-color="#7dbb62"/></radialGradient>
<circle id="aGa" r="6.3" fill="url(#qGa)" stroke="#5c964c" stroke-width="0.6" vector-effect="non-scaling-stroke"/>
<radialGradient id="qSn" cx="0.5" cy="0.5" r="0.52" fx="0.45" fy="0.38"><stop offset="0.05" stop-color="#ffffff"/><stop offset="0.3" stop-color="#d4d4e8"/><stop offset="0.72" stop-color="#9c9cba"/><stop offset="1" stop-color="#8080a2"/></radialGradient>
<circle id="aSn" r="6.5" fill="url(#qSn)" stroke="#70708e" stroke-width="0.6" vector-effect="non-scaling-stroke"/>
<radialGradient id="qLi" cx="0.5" cy="0.5" r="0.52" fx="0.45" fy="0.38"><stop offset="0.05" stop-color="#f4e8ff"/><stop offset="0.3" stop-color="#b07ae8"/><stop offset="0.72" stop-color="#8234d2"/><stop offset="1" stop-color="#6416b4"/></radialGradient>
<circle id="aLi" r="6.4" fill="url(#qLi)" stroke="#5a12a0" stroke-width="0.6" vector-effect="non-scaling-stroke"/>
<radialGradient id="qS" cx="0.5" cy="0.5" r="0.52" fx="0.45" fy="0.38"><stop offset="0.05" stop-color="#ffffd0"/><stop offset="0.3" stop-color="#f6f23a"/><stop offset="0.72" stop-color="#e6e010"/><stop offset="1" stop-color="#c0bc10"/></radialGradient>
<circle id="aS" r="4.3" fill="url(#qS)" stroke="#a8a410" stroke-width="0.6" vector-effect="non-scaling-stroke"/>
<radialGradient id="qC" cx="0.5" cy="0.5" r="0.52" fx="0.45" fy="0.38"><stop offset="0.05" stop-color="#e0c0a8"/><stop offset="0.3" stop-color="#9a6848"/><stop offset="0.72" stop-color="#7a4a32"/><stop offset="1" stop-color="#553322"/></radialGradient>
<circle id="aC" r="3.3" fill="url(#qC)" stroke="#4a2c1c" stroke-width="0.6" vector-effect="non-scaling-stroke"/>
<radialGradient id="qO" cx="0.5" cy="0.5" r="0.52" fx="0.45" fy="0.38"><stop offset="0.05" stop-color="#ffb0b0"/><stop offset="0.3" stop-color="#f62020"/><stop offset="0.72" stop-color="#e00808"/><stop offset="1" stop-color="#a80000"/></radialGradient>
<circle id="aO" r="3.3" fill="url(#qO)" stroke="#900000" stroke-width="0.6" vector-effect="non-scaling-stroke"/>
<radialGradient id="qH" cx="0.5" cy="0.5" r="0.52" fx="0.45" fy="0.38"><stop offset="0.05" stop-color="#ffffff"/><stop offset="0.3" stop-color="#f6dcdc"/><stop offset="0.72" stop-color="#e6bcbc"/><stop offset="1" stop-color="#cc9c9c"/></radialGradient>
<circle id="aH" r="2.0" fill="url(#qH)" stroke="#c89898" stroke-width="0.35" vector-effect="non-scaling-stroke"/>
<radialGradient id="qN" cx="0.5" cy="0.5" r="0.52" fx="0.45" fy="0.38"><stop offset="0.05" stop-color="#ffffff"/><stop offset="0.3" stop-color="#d0d8f0"/><stop offset="0.72" stop-color="#a8b4e0"/><stop offset="1" stop-color="#8090c0"/></radialGradient>
<circle id="aN" r="3.6" fill="url(#qN)" stroke="#7080b0" stroke-width="0.6" vector-effect="non-scaling-stroke"/>
</defs>
<rect width="1979" height="2020" fill="#fff"/>
<text x="9" y="25.2" font-size="33" text-anchor="start" fill="#231815" stroke="#231815" style="stroke-width:.4px">a</text>
<g id="panel-a"><rect x="109.3" y="24" width="427.7" height="30" fill="url(#ha0)"/>
<rect x="109.3" y="24" width="427.7" height="30" fill="url(#ha1)" mask="url(#mv)"/>
<rect x="109.3" y="54" width="427.7" height="31" fill="url(#ha1)"/>
<rect x="109.3" y="54" width="427.7" height="31" fill="url(#ha2)" mask="url(#mv)"/>
<rect x="109.3" y="85" width="427.7" height="30" fill="url(#ha2)"/>
<rect x="109.3" y="85" width="427.7" height="30" fill="url(#ha3)" mask="url(#mv)"/>
<rect x="109.3" y="115" width="427.7" height="30" fill="url(#ha3)"/>
<rect x="109.3" y="115" width="427.7" height="30" fill="url(#ha4)" mask="url(#mv)"/>
<rect x="109.3" y="145" width="427.7" height="31" fill="url(#ha4)"/>
<rect x="109.3" y="145" width="427.7" height="31" fill="url(#ha5)" mask="url(#mv)"/>
<rect x="109.3" y="176" width="427.7" height="30" fill="url(#ha5)"/>
<rect x="109.3" y="176" width="427.7" height="30" fill="url(#ha6)" mask="url(#mv)"/>
<rect x="109.3" y="206" width="427.7" height="15" fill="url(#ha6)"/>
<rect x="109.3" y="206" width="427.7" height="15" fill="url(#ha7)" mask="url(#mv)"/>
<rect x="109.3" y="221" width="427.7" height="16" fill="url(#ha7)"/>
<rect x="109.3" y="221" width="427.7" height="16" fill="url(#ha8)" mask="url(#mv)"/>
<rect x="109.3" y="237" width="427.7" height="15" fill="url(#ha8)"/>
<rect x="109.3" y="237" width="427.7" height="15" fill="url(#ha9)" mask="url(#mv)"/>
<rect x="109.3" y="252" width="427.7" height="17" fill="url(#ha9)"/>
<rect x="109.3" y="252" width="427.7" height="17" fill="url(#ha10)" mask="url(#mv)"/>
<rect x="109.3" y="269" width="427.7" height="16" fill="url(#ha10)"/>
<rect x="109.3" y="269" width="427.7" height="16" fill="url(#ha11)" mask="url(#mv)"/>
<rect x="109.3" y="285" width="427.7" height="17" fill="url(#ha11)"/>
<rect x="109.3" y="285" width="427.7" height="17" fill="url(#ha12)" mask="url(#mv)"/>
<rect x="109.3" y="302" width="427.7" height="17" fill="url(#ha12)"/>
<rect x="109.3" y="302" width="427.7" height="17" fill="url(#ha13)" mask="url(#mv)"/>
<rect x="109.3" y="319" width="427.7" height="16" fill="url(#ha13)"/>
<rect x="109.3" y="319" width="427.7" height="16" fill="url(#ha14)" mask="url(#mv)"/>
<rect x="109.3" y="335" width="427.7" height="17" fill="url(#ha14)"/>
<rect x="109.3" y="335" width="427.7" height="17" fill="url(#ha15)" mask="url(#mv)"/>
<rect x="109.3" y="352" width="427.7" height="16" fill="url(#ha15)"/>
<rect x="109.3" y="352" width="427.7" height="16" fill="url(#ha16)" mask="url(#mv)"/>
<rect x="109.3" y="368" width="427.7" height="17" fill="url(#ha16)"/>
<rect x="109.3" y="368" width="427.7" height="17" fill="url(#ha17)" mask="url(#mv)"/>
<rect x="109.3" y="385" width="427.7" height="17" fill="url(#ha17)"/>
<rect x="109.3" y="385" width="427.7" height="17" fill="url(#ha18)" mask="url(#mv)"/>
<rect x="109.3" y="402" width="427.7" height="16" fill="url(#ha18)"/>
<rect x="109.3" y="402" width="427.7" height="16" fill="url(#ha19)" mask="url(#mv)"/>
<rect x="109.3" y="418" width="427.7" height="17" fill="url(#ha19)"/>
<rect x="109.3" y="418" width="427.7" height="17" fill="url(#ha20)" mask="url(#mv)"/>
<path d="M243 433.4C242.57 432.45 241.07 428.29 239.8 426.3C238.53 424.31 235.18 423.54 233.5 418.5C231.82 413.46 229.72 398.59 227.2 388.5C224.68 378.41 217.96 354.56 214.6 342.8C211.24 331.04 205.68 312.38 202 300.3C198.32 288.22 189 258.61 187 252.2L187 252.2C190.47 247.91 208.05 224.76 213 220C217.95 215.24 220.74 216.62 224.1 216.5C227.46 216.38 234.64 217.9 238.2 219.1C241.76 220.3 248.07 223.07 250.8 225.5C253.53 227.93 257.11 233.74 258.7 237.3C260.29 240.86 262.07 243.8 262.7 252.2C263.33 260.6 263.2 287.58 263.4 300.3C263.6 313.02 263.88 332.89 264.2 347.6C264.52 362.31 265.52 399.16 265.8 410.6C266.08 422.04 266.23 430.36 266.3 433.4" fill="none" stroke="#d2d2ce" stroke-width="1.9" stroke-linejoin="round"/>
<path d="M331.9 24.5C332.57 33.42 334.72 58.58 335.9 78C337.08 97.42 337.82 122.62 339 141C340.18 159.38 342.08 177.27 343 188.3C343.92 199.33 344.38 201.42 344.5 207.2C344.62 212.98 344.35 219.05 343.7 223C343.05 226.95 341.88 229.57 340.6 230.9C339.32 232.23 338.77 232.07 336 231C333.23 229.93 327.3 224.78 324 224.5C320.7 224.22 319.87 224.68 316.2 229.3C312.53 233.92 304.37 248.38 302 252.2L302 252.2C303.72 260.22 309.02 284.4 312.3 300.3C315.58 316.2 318.82 331.85 321.7 347.6C324.58 363.35 327.43 383.92 329.6 394.8C331.77 405.68 332.98 412.9 334.7 412.9C336.42 412.9 338.52 405.68 339.9 394.8C341.28 383.92 342.08 363.35 343 347.6C343.92 331.85 344.87 316.2 345.4 300.3C345.93 284.4 346.07 260.22 346.2 252.2L346.2 252.2C346.45 251 346.4 247.25 347.7 245C349 242.75 349.8 241.07 354 238.7C358.2 236.33 368.57 232.25 372.9 230.8C377.23 229.35 378.43 231.05 380 230C381.57 228.95 381.65 228.83 382.3 224.5C382.95 220.17 383.37 208.72 383.9 204C384.43 199.28 384.05 198.55 385.5 196.2C386.95 193.85 391.15 192.53 392.6 189.9C394.05 187.27 393.55 185.92 394.2 180.4C394.85 174.88 395.32 162.05 396.5 156.8C397.68 151.55 399.85 155.73 401.3 148.9C402.75 142.07 402.98 129.18 405.2 115.8C407.42 102.42 411.45 83.82 414.6 68.6C417.75 53.38 422.52 31.85 424.1 24.5" fill="none" stroke="#d2d2ce" stroke-width="1.9" stroke-linejoin="round"/>
<line x1="109.3" y1="69.41" x2="117.3" y2="69.41" stroke="#000" stroke-width="1.7"/>
<line x1="109.3" y1="115.02" x2="117.3" y2="115.02" stroke="#000" stroke-width="1.7"/>
<line x1="109.3" y1="160.63" x2="117.3" y2="160.63" stroke="#000" stroke-width="1.7"/>
<line x1="109.3" y1="206.24" x2="117.3" y2="206.24" stroke="#000" stroke-width="1.7"/>
<line x1="109.3" y1="251.86" x2="117.3" y2="251.86" stroke="#000" stroke-width="1.7"/>
<line x1="109.3" y1="297.47" x2="117.3" y2="297.47" stroke="#000" stroke-width="1.7"/>
<line x1="109.3" y1="343.08" x2="117.3" y2="343.08" stroke="#000" stroke-width="1.7"/>
<line x1="109.3" y1="388.69" x2="117.3" y2="388.69" stroke="#000" stroke-width="1.7"/>
<line x1="180.58" y1="434.3" x2="180.58" y2="430.3" stroke="#000" stroke-width="1.7"/>
<line x1="251.87" y1="434.3" x2="251.87" y2="426.8" stroke="#000" stroke-width="1.7"/>
<line x1="323.15" y1="434.3" x2="323.15" y2="430.3" stroke="#000" stroke-width="1.7"/>
<line x1="394.43" y1="434.3" x2="394.43" y2="426.8" stroke="#000" stroke-width="1.7"/>
<line x1="465.72" y1="434.3" x2="465.72" y2="430.3" stroke="#000" stroke-width="1.7"/>
<rect x="109.3" y="23.8" width="427.7" height="410.5" fill="none" stroke="#000" stroke-width="2.2"/>
<text x="100.1" y="31.9" font-size="25.3" text-anchor="end" fill="#000" stroke="#000">0.5</text>
<text x="100.1" y="77.51" font-size="25.3" text-anchor="end" fill="#000" stroke="#000">0.4</text>
<text x="100.1" y="123.12" font-size="25.3" text-anchor="end" fill="#000" stroke="#000">0.3</text>
<text x="100.1" y="168.73" font-size="25.3" text-anchor="end" fill="#000" stroke="#000">0.2</text>
<text x="100.1" y="214.34" font-size="25.3" text-anchor="end" fill="#000" stroke="#000">0.1</text>
<text x="100.1" y="259.96" font-size="25.3" text-anchor="end" fill="#000" stroke="#000">0.5</text>
<text x="100.1" y="305.57" font-size="25.3" text-anchor="end" fill="#000" stroke="#000">0.4</text>
<text x="100.1" y="351.18" font-size="25.3" text-anchor="end" fill="#000" stroke="#000">0.3</text>
<text x="100.1" y="396.79" font-size="25.3" text-anchor="end" fill="#000" stroke="#000">0.2</text>
<text x="100.1" y="442.4" font-size="25.3" text-anchor="end" fill="#000" stroke="#000">0.1</text>
<text x="109.3" y="463.1" font-size="25.3" text-anchor="middle" fill="#000" stroke="#000">1.5</text>
<text x="251.87" y="463.1" font-size="25.3" text-anchor="middle" fill="#000" stroke="#000">2.0</text>
<text x="394.43" y="463.1" font-size="25.3" text-anchor="middle" fill="#000" stroke="#000">2.5</text>
<text x="537" y="463.1" font-size="25.3" text-anchor="middle" fill="#000" stroke="#000">3.0</text>
<text x="323.15" y="495.8" font-size="25.3" text-anchor="middle" fill="#000" stroke="#000">Voltage (V)</text>
<text x="24.1" y="118.1" font-size="21.3" text-anchor="middle" fill="#000" transform="rotate(-90 24.1 118.1)" stroke="#000">Anodic scan</text>
<text x="55" y="117.3" font-size="21" text-anchor="middle" fill="#000" transform="rotate(-90 55 117.3)" stroke="#000">rate (mV s<tspan dy="-8.82" font-size="13.02">-1</tspan><tspan dy="8.82">)</tspan></text>
<text x="24.1" y="323" font-size="21.3" text-anchor="middle" fill="#000" transform="rotate(-90 24.1 323)" stroke="#000">Cathodic scan</text>
<text x="55" y="322.8" font-size="21" text-anchor="middle" fill="#000" transform="rotate(-90 55 322.8)" stroke="#000">rate (mV s<tspan dy="-8.82" font-size="13.02">-1</tspan><tspan dy="8.82">)</tspan></text>
<text x="455.3" y="46.5" font-size="24.7" text-anchor="start" fill="#fff" stroke="#fff">PVDF</text>
<text x="134.5" y="90.6" font-size="25.4" text-anchor="start" fill="#fff" stroke="#fff">Low</text>
<text x="134.5" y="125.3" font-size="25.4" text-anchor="start" fill="#fff" stroke="#fff">peak current</text>
<text x="422.3" y="90.6" font-size="21" text-anchor="start" fill="#fff" stroke="#fff">Peak a1</text>
<text x="422.3" y="131.3" font-size="21" text-anchor="start" fill="#fff" stroke="#fff">Li<tspan dy="4.62" font-size="13.02">2</tspan><tspan dy="-4.62">S</tspan><tspan dy="4.62" font-size="13.02">n</tspan></text>
<line x1="476.5" y1="122.9" x2="489.5" y2="122.9" stroke="#e6e6e6" stroke-width="1.2"/><path d="M498.5 122.9L487.5 119.9L487.5 125.9Z" fill="#e6e6e6"/>
<text x="503.7" y="131.3" font-size="21" text-anchor="start" fill="#fff" stroke="#fff">S<tspan dy="4.62" font-size="13.02">8</tspan></text>
<text x="131" y="359.4" font-size="21" text-anchor="start" fill="#fff" stroke="#fff">Peak c1</text>
<text x="109.8" y="395.5" font-size="21" text-anchor="start" fill="#fff" stroke="#fff">Li<tspan dy="4.62" font-size="13.02">2</tspan><tspan dy="-4.62">S</tspan><tspan dy="4.62" font-size="13.02">n</tspan></text>
<line x1="156" y1="387" x2="168" y2="387" stroke="#e6e6e6" stroke-width="1.2"/><path d="M177 387L166 384L166 390Z" fill="#e6e6e6"/>
<text x="180.5" y="395.5" font-size="21" text-anchor="start" fill="#fff" stroke="#fff">Li<tspan dy="4.62" font-size="13.02">2</tspan><tspan dy="-4.62">S</tspan></text>
<text x="382.3" y="359.4" font-size="21" text-anchor="start" fill="#fff" stroke="#fff">Peak c2</text>
<text x="382.3" y="396.5" font-size="21" text-anchor="start" fill="#fff" stroke="#fff">S<tspan dy="4.62" font-size="13.02">8</tspan></text>
<line x1="407" y1="387.5" x2="420" y2="387.5" stroke="#e6e6e6" stroke-width="1.2"/><path d="M429 387.5L418 384.5L418 390.5Z" fill="#e6e6e6"/>
<text x="433.5" y="396.5" font-size="21" text-anchor="start" fill="#fff" stroke="#fff">Li<tspan dy="4.62" font-size="13.02">2</tspan><tspan dy="-4.62">S</tspan><tspan dy="4.62" font-size="13.02">n</tspan></text>
<rect x="586.8" y="28.4" width="18.1" height="405.9" fill="url(#cba)"/>
<text x="595.85" y="22.5" font-size="25.3" text-anchor="middle" fill="#000" stroke="#000">9.1</text>
<text x="595.85" y="456.8" font-size="25.3" text-anchor="middle" fill="#000" stroke="#000">0</text>
<text x="638.4" y="228.35" font-size="25" text-anchor="middle" fill="#000" transform="rotate(-90 638.4 228.35)" stroke="#000">Current (mA)</text></g>
<text x="674" y="25.2" font-size="33" text-anchor="start" fill="#231815" stroke="#231815" style="stroke-width:.4px">b</text>
<g id="panel-b"><rect x="776.8" y="24" width="427.5" height="30" fill="url(#hb0)"/>
<rect x="776.8" y="24" width="427.5" height="30" fill="url(#hb1)" mask="url(#mv)"/>
<rect x="776.8" y="54" width="427.5" height="31" fill="url(#hb1)"/>
<rect x="776.8" y="54" width="427.5" height="31" fill="url(#hb2)" mask="url(#mv)"/>
<rect x="776.8" y="85" width="427.5" height="30" fill="url(#hb2)"/>
<rect x="776.8" y="85" width="427.5" height="30" fill="url(#hb3)" mask="url(#mv)"/>
<rect x="776.8" y="115" width="427.5" height="30" fill="url(#hb3)"/>
<rect x="776.8" y="115" width="427.5" height="30" fill="url(#hb4)" mask="url(#mv)"/>
<rect x="776.8" y="145" width="427.5" height="31" fill="url(#hb4)"/>
<rect x="776.8" y="145" width="427.5" height="31" fill="url(#hb5)" mask="url(#mv)"/>
<rect x="776.8" y="176" width="427.5" height="30" fill="url(#hb5)"/>
<rect x="776.8" y="176" width="427.5" height="30" fill="url(#hb6)" mask="url(#mv)"/>
<rect x="776.8" y="206" width="427.5" height="15" fill="url(#hb6)"/>
<rect x="776.8" y="206" width="427.5" height="15" fill="url(#hb7)" mask="url(#mv)"/>
<rect x="776.8" y="221" width="427.5" height="16" fill="url(#hb7)"/>
<rect x="776.8" y="221" width="427.5" height="16" fill="url(#hb8)" mask="url(#mv)"/>
<rect x="776.8" y="237" width="427.5" height="15" fill="url(#hb8)"/>
<rect x="776.8" y="237" width="427.5" height="15" fill="url(#hb9)" mask="url(#mv)"/>
<rect x="776.8" y="252" width="427.5" height="17" fill="url(#hb9)"/>
<rect x="776.8" y="252" width="427.5" height="17" fill="url(#hb10)" mask="url(#mv)"/>
<rect x="776.8" y="269" width="427.5" height="16" fill="url(#hb10)"/>
<rect x="776.8" y="269" width="427.5" height="16" fill="url(#hb11)" mask="url(#mv)"/>
<rect x="776.8" y="285" width="427.5" height="17" fill="url(#hb11)"/>
<rect x="776.8" y="285" width="427.5" height="17" fill="url(#hb12)" mask="url(#mv)"/>
<rect x="776.8" y="302" width="427.5" height="17" fill="url(#hb12)"/>
<rect x="776.8" y="302" width="427.5" height="17" fill="url(#hb13)" mask="url(#mv)"/>
<rect x="776.8" y="319" width="427.5" height="16" fill="url(#hb13)"/>
<rect x="776.8" y="319" width="427.5" height="16" fill="url(#hb14)" mask="url(#mv)"/>
<rect x="776.8" y="335" width="427.5" height="17" fill="url(#hb14)"/>
<rect x="776.8" y="335" width="427.5" height="17" fill="url(#hb15)" mask="url(#mv)"/>
<rect x="776.8" y="352" width="427.5" height="16" fill="url(#hb15)"/>
<rect x="776.8" y="352" width="427.5" height="16" fill="url(#hb16)" mask="url(#mv)"/>
<rect x="776.8" y="368" width="427.5" height="17" fill="url(#hb16)"/>
<rect x="776.8" y="368" width="427.5" height="17" fill="url(#hb17)" mask="url(#mv)"/>
<rect x="776.8" y="385" width="427.5" height="17" fill="url(#hb17)"/>
<rect x="776.8" y="385" width="427.5" height="17" fill="url(#hb18)" mask="url(#mv)"/>
<rect x="776.8" y="402" width="427.5" height="16" fill="url(#hb18)"/>
<rect x="776.8" y="402" width="427.5" height="16" fill="url(#hb19)" mask="url(#mv)"/>
<rect x="776.8" y="418" width="427.5" height="17" fill="url(#hb19)"/>
<rect x="776.8" y="418" width="427.5" height="17" fill="url(#hb20)" mask="url(#mv)"/>
<path d="M919.5 433.4C918.84 432.11 916.47 428.22 915.1 424.8C913.74 421.38 911.82 416.27 910.4 410.6C908.98 404.93 907.97 397.39 905.6 387C903.23 376.61 897.68 354.55 894.6 341.3C891.52 328.06 888.46 312.06 885.1 298.7C881.74 285.33 874.13 259.18 872.2 252.2L872.2 252.2C873.91 249.25 880 237.57 883.6 232.5C887.2 227.43 892.66 221.24 896.2 218.4C899.74 215.56 903.18 213.84 907.2 213.6C911.22 213.36 919.46 214.91 923 216.8C926.54 218.69 928.91 222.66 930.8 226.2C932.69 229.74 934.65 236.38 935.6 240.4C936.55 244.42 936.82 244.01 937.1 253C937.38 261.99 937.38 286.11 937.5 300.3C937.62 314.49 937.72 331.06 937.9 347.6C938.08 364.15 938.5 397.73 938.7 410.6C938.9 423.47 939.12 429.98 939.2 433.4" fill="none" stroke="#d2d2ce" stroke-width="1.9" stroke-linejoin="round"/>
<path d="M998 24.5C998.08 30.8 998.1 48.13 998.5 62.3C998.9 76.47 999.43 93.75 1000.4 109.5C1001.37 125.25 1003 143.67 1004.3 156.8C1005.6 169.93 1007.1 180.17 1008.2 188.3C1009.3 196.43 1010.9 201.27 1010.9 205.6C1010.9 209.93 1009.3 212.32 1008.2 214.3C1007.1 216.28 1005.73 217.03 1004.3 217.5C1002.87 217.97 1001.05 216.72 999.6 217.1C998.15 217.48 997.58 216.98 995.6 219.8C993.62 222.62 990.48 228.6 987.7 234C984.92 239.4 980.37 249.17 978.9 252.2L978.9 252.2C980.35 258.9 984.85 276.5 987.6 292.4C990.35 308.3 992.78 329.22 995.4 347.6C998.02 365.98 1001.25 388.4 1003.3 402.7C1005.35 417 1006.97 428.28 1007.7 433.4" fill="none" stroke="#d2d2ce" stroke-width="1.9" stroke-linejoin="round"/>
<path d="M1011.7 433.4C1012.53 426.97 1015.33 409.1 1016.7 394.8C1018.07 380.5 1019.18 363.35 1019.9 347.6C1020.62 331.85 1020.82 316.2 1021 300.3C1021.18 284.4 1021 260.22 1021 252.2L1021 252.2C1021.47 251.28 1022.02 249.18 1023.8 246.7C1025.58 244.22 1029.33 239.27 1031.7 237.3C1034.07 235.33 1036.57 236.48 1038 234.9C1039.43 233.32 1039.65 231.87 1040.3 227.8C1040.95 223.73 1041.23 214.7 1041.9 210.5C1042.57 206.3 1043.35 205.77 1044.3 202.6C1045.25 199.43 1046.65 195.2 1047.6 191.5C1048.55 187.8 1049.42 185.65 1050 180.4C1050.58 175.15 1050.18 165.25 1051.1 160C1052.02 154.75 1053.98 157.32 1055.5 148.9C1057.02 140.48 1058.23 122.88 1060.2 109.5C1062.17 96.12 1064.62 82.77 1067.3 68.6C1069.98 54.43 1074.8 31.85 1076.3 24.5" fill="none" stroke="#d2d2ce" stroke-width="1.9" stroke-linejoin="round"/>
<line x1="776.8" y1="69.39" x2="784.8" y2="69.39" stroke="#000" stroke-width="1.7"/>
<line x1="776.8" y1="114.98" x2="784.8" y2="114.98" stroke="#000" stroke-width="1.7"/>
<line x1="776.8" y1="160.57" x2="784.8" y2="160.57" stroke="#000" stroke-width="1.7"/>
<line x1="776.8" y1="206.16" x2="784.8" y2="206.16" stroke="#000" stroke-width="1.7"/>
<line x1="776.8" y1="251.74" x2="784.8" y2="251.74" stroke="#000" stroke-width="1.7"/>
<line x1="776.8" y1="297.33" x2="784.8" y2="297.33" stroke="#000" stroke-width="1.7"/>
<line x1="776.8" y1="342.92" x2="784.8" y2="342.92" stroke="#000" stroke-width="1.7"/>
<line x1="776.8" y1="388.51" x2="784.8" y2="388.51" stroke="#000" stroke-width="1.7"/>
<line x1="848.05" y1="434.1" x2="848.05" y2="430.1" stroke="#000" stroke-width="1.7"/>
<line x1="919.3" y1="434.1" x2="919.3" y2="426.6" stroke="#000" stroke-width="1.7"/>
<line x1="990.55" y1="434.1" x2="990.55" y2="430.1" stroke="#000" stroke-width="1.7"/>
<line x1="1061.8" y1="434.1" x2="1061.8" y2="426.6" stroke="#000" stroke-width="1.7"/>
<line x1="1133.05" y1="434.1" x2="1133.05" y2="430.1" stroke="#000" stroke-width="1.7"/>
<rect x="776.8" y="23.8" width="427.5" height="410.3" fill="none" stroke="#000" stroke-width="2.2"/>
<text x="767.6" y="31.9" font-size="25.3" text-anchor="end" fill="#000" stroke="#000">0.5</text>
<text x="767.6" y="77.49" font-size="25.3" text-anchor="end" fill="#000" stroke="#000">0.4</text>
<text x="767.6" y="123.08" font-size="25.3" text-anchor="end" fill="#000" stroke="#000">0.3</text>
<text x="767.6" y="168.67" font-size="25.3" text-anchor="end" fill="#000" stroke="#000">0.2</text>
<text x="767.6" y="214.26" font-size="25.3" text-anchor="end" fill="#000" stroke="#000">0.1</text>
<text x="767.6" y="259.84" font-size="25.3" text-anchor="end" fill="#000" stroke="#000">0.5</text>
<text x="767.6" y="305.43" font-size="25.3" text-anchor="end" fill="#000" stroke="#000">0.4</text>
<text x="767.6" y="351.02" font-size="25.3" text-anchor="end" fill="#000" stroke="#000">0.3</text>
<text x="767.6" y="396.61" font-size="25.3" text-anchor="end" fill="#000" stroke="#000">0.2</text>
<text x="767.6" y="442.2" font-size="25.3" text-anchor="end" fill="#000" stroke="#000">0.1</text>
<text x="776.8" y="462.9" font-size="25.3" text-anchor="middle" fill="#000" stroke="#000">1.5</text>
<text x="919.3" y="462.9" font-size="25.3" text-anchor="middle" fill="#000" stroke="#000">2.0</text>
<text x="1061.8" y="462.9" font-size="25.3" text-anchor="middle" fill="#000" stroke="#000">2.5</text>
<text x="1204.3" y="462.9" font-size="25.3" text-anchor="middle" fill="#000" stroke="#000">3.0</text>
<text x="990.55" y="495.6" font-size="25.3" text-anchor="middle" fill="#000" stroke="#000">Voltage (V)</text>
<text x="691.6" y="118.1" font-size="21.3" text-anchor="middle" fill="#000" transform="rotate(-90 691.6 118.1)" stroke="#000">Anodic scan</text>
<text x="722.5" y="117.3" font-size="21" text-anchor="middle" fill="#000" transform="rotate(-90 722.5 117.3)" stroke="#000">rate (mV s<tspan dy="-8.82" font-size="13.02">-1</tspan><tspan dy="8.82">)</tspan></text>
<text x="691.6" y="323" font-size="21.3" text-anchor="middle" fill="#000" transform="rotate(-90 691.6 323)" stroke="#000">Cathodic scan</text>
<text x="722.5" y="322.8" font-size="21" text-anchor="middle" fill="#000" transform="rotate(-90 722.5 322.8)" stroke="#000">rate (mV s<tspan dy="-8.82" font-size="13.02">-1</tspan><tspan dy="8.82">)</tspan></text>
<text x="1148.6" y="46.5" font-size="24.7" text-anchor="start" fill="#fff" stroke="#fff">CC</text>
<text x="802.8" y="90.6" font-size="25.4" text-anchor="start" fill="#fff" stroke="#fff">Medium</text>
<text x="802.8" y="125.3" font-size="25.4" text-anchor="start" fill="#fff" stroke="#fff">peak current</text>
<text x="1076" y="90.6" font-size="21" text-anchor="start" fill="#fff" stroke="#fff">Peak a1</text>
<text x="1076.3" y="131.3" font-size="21" text-anchor="start" fill="#fff" stroke="#fff">Li<tspan dy="4.62" font-size="13.02">2</tspan><tspan dy="-4.62">S</tspan><tspan dy="4.62" font-size="13.02">n</tspan></text>
<line x1="1130.3" y1="122.9" x2="1142.3" y2="122.9" stroke="#e6e6e6" stroke-width="1.2"/><path d="M1151.3 122.9L1140.3 119.9L1140.3 125.9Z" fill="#e6e6e6"/>
<text x="1157.1" y="131.3" font-size="21" text-anchor="start" fill="#fff" stroke="#fff">S<tspan dy="4.62" font-size="13.02">8</tspan></text>
<text x="799.3" y="306.8" font-size="21" text-anchor="start" fill="#fff" stroke="#fff">Peak c1</text>
<text x="776.8" y="342.3" font-size="21" text-anchor="start" fill="#fff" stroke="#fff">Li<tspan dy="4.62" font-size="13.02">2</tspan><tspan dy="-4.62">S</tspan><tspan dy="4.62" font-size="13.02">n</tspan></text>
<line x1="824" y1="334.2" x2="836.4" y2="334.2" stroke="#e6e6e6" stroke-width="1.2"/><path d="M845.4 334.2L834.4 331.2L834.4 337.2Z" fill="#e6e6e6"/>
<text x="848.9" y="342.3" font-size="21" text-anchor="start" fill="#fff" stroke="#fff">Li<tspan dy="4.62" font-size="13.02">2</tspan><tspan dy="-4.62">S</tspan></text>
<text x="1050.6" y="306.8" font-size="21" text-anchor="start" fill="#fff" stroke="#fff">Peak c2</text>
<text x="1050.6" y="343.5" font-size="21" text-anchor="start" fill="#fff" stroke="#fff">S<tspan dy="4.62" font-size="13.02">8</tspan></text>
<line x1="1075" y1="338.1" x2="1087.3" y2="338.1" stroke="#e6e6e6" stroke-width="1.2"/><path d="M1096.3 338.1L1085.3 335.1L1085.3 341.1Z" fill="#e6e6e6"/>
<text x="1102.6" y="343.5" font-size="21" text-anchor="start" fill="#fff" stroke="#fff">Li<tspan dy="4.62" font-size="13.02">2</tspan><tspan dy="-4.62">S</tspan><tspan dy="4.62" font-size="13.02">n</tspan></text>
<rect x="1254.5" y="32.2" width="17.3" height="401.9" fill="url(#cbb)"/>
<text x="1263.15" y="22.5" font-size="25.3" text-anchor="middle" fill="#000" stroke="#000">9.1</text>
<text x="1263.15" y="456.6" font-size="25.3" text-anchor="middle" fill="#000" stroke="#000">0</text>
<text x="1305.3" y="230.15" font-size="25" text-anchor="middle" fill="#000" transform="rotate(-90 1305.3 230.15)" stroke="#000">Current (mA)</text></g>
<text x="1343" y="25.2" font-size="33" text-anchor="start" fill="#231815" stroke="#231815" style="stroke-width:.4px">c</text>
<g id="panel-c"><rect x="1443" y="24" width="429.2" height="30" fill="url(#hc0)"/>
<rect x="1443" y="24" width="429.2" height="30" fill="url(#hc1)" mask="url(#mv)"/>
<rect x="1443" y="54" width="429.2" height="31" fill="url(#hc1)"/>
<rect x="1443" y="54" width="429.2" height="31" fill="url(#hc2)" mask="url(#mv)"/>
<rect x="1443" y="85" width="429.2" height="30" fill="url(#hc2)"/>
<rect x="1443" y="85" width="429.2" height="30" fill="url(#hc3)" mask="url(#mv)"/>
<rect x="1443" y="115" width="429.2" height="30" fill="url(#hc3)"/>
<rect x="1443" y="115" width="429.2" height="30" fill="url(#hc4)" mask="url(#mv)"/>
<rect x="1443" y="145" width="429.2" height="31" fill="url(#hc4)"/>
<rect x="1443" y="145" width="429.2" height="31" fill="url(#hc5)" mask="url(#mv)"/>
<rect x="1443" y="176" width="429.2" height="30" fill="url(#hc5)"/>
<rect x="1443" y="176" width="429.2" height="30" fill="url(#hc6)" mask="url(#mv)"/>
<rect x="1443" y="206" width="429.2" height="15" fill="url(#hc6)"/>
<rect x="1443" y="206" width="429.2" height="15" fill="url(#hc7)" mask="url(#mv)"/>
<rect x="1443" y="221" width="429.2" height="16" fill="url(#hc7)"/>
<rect x="1443" y="221" width="429.2" height="16" fill="url(#hc8)" mask="url(#mv)"/>
<rect x="1443" y="237" width="429.2" height="15" fill="url(#hc8)"/>
<rect x="1443" y="237" width="429.2" height="15" fill="url(#hc9)" mask="url(#mv)"/>
<rect x="1443" y="252" width="429.2" height="17" fill="url(#hc9)"/>
<rect x="1443" y="252" width="429.2" height="17" fill="url(#hc10)" mask="url(#mv)"/>
<rect x="1443" y="269" width="429.2" height="16" fill="url(#hc10)"/>
<rect x="1443" y="269" width="429.2" height="16" fill="url(#hc11)" mask="url(#mv)"/>
<rect x="1443" y="285" width="429.2" height="17" fill="url(#hc11)"/>
<rect x="1443" y="285" width="429.2" height="17" fill="url(#hc12)" mask="url(#mv)"/>
<rect x="1443" y="302" width="429.2" height="17" fill="url(#hc12)"/>
<rect x="1443" y="302" width="429.2" height="17" fill="url(#hc13)" mask="url(#mv)"/>
<rect x="1443" y="319" width="429.2" height="16" fill="url(#hc13)"/>
<rect x="1443" y="319" width="429.2" height="16" fill="url(#hc14)" mask="url(#mv)"/>
<rect x="1443" y="335" width="429.2" height="17" fill="url(#hc14)"/>
<rect x="1443" y="335" width="429.2" height="17" fill="url(#hc15)" mask="url(#mv)"/>
<rect x="1443" y="352" width="429.2" height="16" fill="url(#hc15)"/>
<rect x="1443" y="352" width="429.2" height="16" fill="url(#hc16)" mask="url(#mv)"/>
<rect x="1443" y="368" width="429.2" height="17" fill="url(#hc16)"/>
<rect x="1443" y="368" width="429.2" height="17" fill="url(#hc17)" mask="url(#mv)"/>
<rect x="1443" y="385" width="429.2" height="17" fill="url(#hc17)"/>
<rect x="1443" y="385" width="429.2" height="17" fill="url(#hc18)" mask="url(#mv)"/>
<rect x="1443" y="402" width="429.2" height="16" fill="url(#hc18)"/>
<rect x="1443" y="402" width="429.2" height="16" fill="url(#hc19)" mask="url(#mv)"/>
<rect x="1443" y="418" width="429.2" height="17" fill="url(#hc19)"/>
<rect x="1443" y="418" width="429.2" height="17" fill="url(#hc20)" mask="url(#mv)"/>
<path d="M1583.5 434.2C1582.8 433.01 1580.11 429.84 1578.8 426.3C1577.49 422.76 1575.87 416.27 1574.8 410.6C1573.73 404.93 1572.99 394.41 1571.7 388.5C1570.41 382.59 1568.21 379.7 1566.2 371.2C1564.19 362.69 1560.67 343.62 1558.3 331.8C1555.93 319.98 1552.41 304.22 1550.4 292.4C1548.39 280.58 1545.73 258.91 1544.9 253L1544.9 253C1545.97 250.65 1549.75 242.03 1552 237.3C1554.25 232.58 1557.55 224.94 1559.9 221.5C1562.26 218.06 1565.11 215.71 1567.7 214.4C1570.3 213.09 1574.12 212.68 1577.2 212.8C1580.28 212.92 1585.37 213.66 1588.2 215.2C1591.04 216.74 1594.21 219.32 1596.1 223.1C1597.99 226.88 1599.86 235.91 1600.8 240.4C1601.74 244.89 1602.12 244.01 1602.4 253C1602.69 261.99 1602.46 286.11 1602.7 300.3C1602.94 314.49 1603.62 333.43 1604 347.6C1604.38 361.78 1604.96 381.81 1605.2 394.8C1605.44 407.79 1605.54 428.29 1605.6 434.2" fill="none" stroke="#d2d2ce" stroke-width="1.9" stroke-linejoin="round"/>
<path d="M1663.7 24.5C1664.02 30.8 1665.53 47.6 1665.6 62.3C1665.67 77 1663.57 96.42 1664.1 112.7C1664.63 128.98 1667.88 144.38 1668.8 160C1669.72 175.62 1670.92 195.9 1669.6 206.4C1668.28 216.9 1663.13 216.82 1660.9 223C1658.67 229.18 1657.28 238.5 1656.2 243.5C1655.12 248.5 1654.7 251.42 1654.4 253L1654.4 253C1655.18 259.57 1657.52 279.27 1659.1 292.4C1660.68 305.53 1662.32 317.37 1663.9 331.8C1665.48 346.23 1667.17 364.55 1668.6 379C1670.03 393.45 1671.45 409.3 1672.5 418.5C1673.55 427.7 1674.5 431.58 1674.9 434.2" fill="none" stroke="#d2d2ce" stroke-width="1.9" stroke-linejoin="round"/>
<path d="M1683.6 434.2C1684.38 427.63 1687 409.23 1688.3 394.8C1689.6 380.37 1690.62 363.35 1691.4 347.6C1692.18 331.85 1692.65 316.07 1693 300.3C1693.35 284.53 1693.42 260.88 1693.5 253L1693.5 253C1693.72 251.67 1693.8 247.63 1694.8 245C1695.8 242.37 1697.93 238.77 1699.5 237.2C1701.07 235.63 1702.88 237.18 1704.2 235.6C1705.52 234.02 1706.68 231.65 1707.4 227.7C1708.12 223.75 1707.98 216.37 1708.5 211.9C1709.02 207.43 1709.25 204.3 1710.5 200.9C1711.75 197.5 1714.68 194.92 1716 191.5C1717.32 188.08 1717.73 186.18 1718.4 180.4C1719.07 174.62 1719.08 162.05 1720 156.8C1720.92 151.55 1722.98 155.47 1723.9 148.9C1724.82 142.33 1724.45 129.22 1725.5 117.4C1726.55 105.58 1728.75 89.82 1730.2 78C1731.65 66.18 1733.28 55.42 1734.2 46.5C1735.12 37.58 1735.45 28.17 1735.7 24.5" fill="none" stroke="#d2d2ce" stroke-width="1.9" stroke-linejoin="round"/>
<line x1="1443" y1="69.49" x2="1451" y2="69.49" stroke="#000" stroke-width="1.7"/>
<line x1="1443" y1="115.18" x2="1451" y2="115.18" stroke="#000" stroke-width="1.7"/>
<line x1="1443" y1="160.87" x2="1451" y2="160.87" stroke="#000" stroke-width="1.7"/>
<line x1="1443" y1="206.56" x2="1451" y2="206.56" stroke="#000" stroke-width="1.7"/>
<line x1="1443" y1="252.24" x2="1451" y2="252.24" stroke="#000" stroke-width="1.7"/>
<line x1="1443" y1="297.93" x2="1451" y2="297.93" stroke="#000" stroke-width="1.7"/>
<line x1="1443" y1="343.62" x2="1451" y2="343.62" stroke="#000" stroke-width="1.7"/>
<line x1="1443" y1="389.31" x2="1451" y2="389.31" stroke="#000" stroke-width="1.7"/>
<line x1="1514.53" y1="435" x2="1514.53" y2="431" stroke="#000" stroke-width="1.7"/>
<line x1="1586.07" y1="435" x2="1586.07" y2="427.5" stroke="#000" stroke-width="1.7"/>
<line x1="1657.6" y1="435" x2="1657.6" y2="431" stroke="#000" stroke-width="1.7"/>
<line x1="1729.13" y1="435" x2="1729.13" y2="427.5" stroke="#000" stroke-width="1.7"/>
<line x1="1800.67" y1="435" x2="1800.67" y2="431" stroke="#000" stroke-width="1.7"/>
<rect x="1443" y="23.8" width="429.2" height="411.2" fill="none" stroke="#000" stroke-width="2.2"/>
<text x="1433.8" y="31.9" font-size="25.3" text-anchor="end" fill="#000" stroke="#000">0.5</text>
<text x="1433.8" y="77.59" font-size="25.3" text-anchor="end" fill="#000" stroke="#000">0.4</text>
<text x="1433.8" y="123.28" font-size="25.3" text-anchor="end" fill="#000" stroke="#000">0.3</text>
<text x="1433.8" y="168.97" font-size="25.3" text-anchor="end" fill="#000" stroke="#000">0.2</text>
<text x="1433.8" y="214.66" font-size="25.3" text-anchor="end" fill="#000" stroke="#000">0.1</text>
<text x="1433.8" y="260.34" font-size="25.3" text-anchor="end" fill="#000" stroke="#000">0.5</text>
<text x="1433.8" y="306.03" font-size="25.3" text-anchor="end" fill="#000" stroke="#000">0.4</text>
<text x="1433.8" y="351.72" font-size="25.3" text-anchor="end" fill="#000" stroke="#000">0.3</text>
<text x="1433.8" y="397.41" font-size="25.3" text-anchor="end" fill="#000" stroke="#000">0.2</text>
<text x="1433.8" y="443.1" font-size="25.3" text-anchor="end" fill="#000" stroke="#000">0.1</text>
<text x="1443" y="463.8" font-size="25.3" text-anchor="middle" fill="#000" stroke="#000">1.5</text>
<text x="1586.07" y="463.8" font-size="25.3" text-anchor="middle" fill="#000" stroke="#000">2.0</text>
<text x="1729.13" y="463.8" font-size="25.3" text-anchor="middle" fill="#000" stroke="#000">2.5</text>
<text x="1872.2" y="463.8" font-size="25.3" text-anchor="middle" fill="#000" stroke="#000">3.0</text>
<text x="1657.6" y="496.5" font-size="25.3" text-anchor="middle" fill="#000" stroke="#000">Voltage (V)</text>
<text x="1357.8" y="118.1" font-size="21.3" text-anchor="middle" fill="#000" transform="rotate(-90 1357.8 118.1)" stroke="#000">Anodic scan</text>
<text x="1388.7" y="117.3" font-size="21" text-anchor="middle" fill="#000" transform="rotate(-90 1388.7 117.3)" stroke="#000">rate (mV s<tspan dy="-8.82" font-size="13.02">-1</tspan><tspan dy="8.82">)</tspan></text>
<text x="1357.8" y="323" font-size="21.3" text-anchor="middle" fill="#000" transform="rotate(-90 1357.8 323)" stroke="#000">Cathodic scan</text>
<text x="1388.7" y="322.8" font-size="21" text-anchor="middle" fill="#000" transform="rotate(-90 1388.7 322.8)" stroke="#000">rate (mV s<tspan dy="-8.82" font-size="13.02">-1</tspan><tspan dy="8.82">)</tspan></text>
<text x="1790.2" y="46.5" font-size="24.7" text-anchor="start" fill="#fff" stroke="#fff">GSCC</text>
<text x="1468.8" y="90.6" font-size="25.4" text-anchor="start" fill="#fff" stroke="#fff">High</text>
<text x="1468.8" y="125.3" font-size="25.4" text-anchor="start" fill="#fff" stroke="#fff">peak current</text>
<text x="1749.1" y="90.6" font-size="21" text-anchor="start" fill="#fff" stroke="#fff">Peak a1</text>
<text x="1744.1" y="131.3" font-size="21" text-anchor="start" fill="#fff" stroke="#fff">Li<tspan dy="4.62" font-size="13.02">2</tspan><tspan dy="-4.62">S</tspan><tspan dy="4.62" font-size="13.02">n</tspan></text>
<line x1="1797.2" y1="122.9" x2="1809.5" y2="122.9" stroke="#e6e6e6" stroke-width="1.2"/><path d="M1818.5 122.9L1807.5 119.9L1807.5 125.9Z" fill="#e6e6e6"/>
<text x="1824.8" y="131.3" font-size="21" text-anchor="start" fill="#fff" stroke="#fff">S<tspan dy="4.62" font-size="13.02">8</tspan></text>
<text x="1465.4" y="307.4" font-size="21" text-anchor="start" fill="#fff" stroke="#fff">Peak c1</text>
<text x="1443.6" y="343.6" font-size="21" text-anchor="start" fill="#fff" stroke="#fff">Li<tspan dy="4.62" font-size="13.02">2</tspan><tspan dy="-4.62">S</tspan><tspan dy="4.62" font-size="13.02">n</tspan></text>
<line x1="1490" y1="335.3" x2="1502.3" y2="335.3" stroke="#e6e6e6" stroke-width="1.2"/><path d="M1511.3 335.3L1500.3 332.3L1500.3 338.3Z" fill="#e6e6e6"/>
<text x="1515" y="343.6" font-size="21" text-anchor="start" fill="#fff" stroke="#fff">Li<tspan dy="4.62" font-size="13.02">2</tspan><tspan dy="-4.62">S</tspan></text>
<text x="1717.4" y="307.4" font-size="21" text-anchor="start" fill="#fff" stroke="#fff">Peak c2</text>
<text x="1717.4" y="344.4" font-size="21" text-anchor="start" fill="#fff" stroke="#fff">S<tspan dy="4.62" font-size="13.02">8</tspan></text>
<line x1="1741.8" y1="338.6" x2="1754.1" y2="338.6" stroke="#e6e6e6" stroke-width="1.2"/><path d="M1763.1 338.6L1752.1 335.6L1752.1 341.6Z" fill="#e6e6e6"/>
<text x="1768.6" y="344.4" font-size="21" text-anchor="start" fill="#fff" stroke="#fff">Li<tspan dy="4.62" font-size="13.02">2</tspan><tspan dy="-4.62">S</tspan><tspan dy="4.62" font-size="13.02">n</tspan></text>
<rect x="1923" y="28.4" width="17.3" height="406.6" fill="url(#cbc)"/>
<text x="1931.65" y="22.5" font-size="25.3" text-anchor="middle" fill="#000" stroke="#000">9.1</text>
<text x="1931.65" y="457.5" font-size="25.3" text-anchor="middle" fill="#000" stroke="#000">0</text>
<text x="1973.8" y="228.7" font-size="25" text-anchor="middle" fill="#000" transform="rotate(-90 1973.8 228.7)" stroke="#000">Current (mA)</text></g>
<g id="panel-de"><path d="M158.86 758.02L194.71 822.6M205.26 836.7L236.7 870.09M250.39 874.42L280.31 862.88M294.41 856.19L324.68 839.17M338.78 828.69L369.75 800.11M379.8 786.55L417.47 698.05M423.6 683.95L462.06 597.18M469.56 597.18L504.49 653.44" fill="none" stroke="#484848" stroke-width="1.9"/>
<rect x="150.4" y="746.42" width="9.1" height="9.1" fill="#9b77c9" stroke="#484848" stroke-width="1.8"/>
<rect x="194.07" y="825.1" width="9.1" height="9.1" fill="#9b77c9" stroke="#484848" stroke-width="1.8"/>
<rect x="238.79" y="872.59" width="9.1" height="9.1" fill="#9b77c9" stroke="#484848" stroke-width="1.8"/>
<rect x="282.81" y="855.61" width="9.1" height="9.1" fill="#9b77c9" stroke="#484848" stroke-width="1.8"/>
<rect x="327.18" y="830.65" width="9.1" height="9.1" fill="#9b77c9" stroke="#484848" stroke-width="1.8"/>
<rect x="372.25" y="789.05" width="9.1" height="9.1" fill="#9b77c9" stroke="#484848" stroke-width="1.8"/>
<rect x="415.92" y="686.45" width="9.1" height="9.1" fill="#9b77c9" stroke="#484848" stroke-width="1.8"/>
<rect x="460.64" y="585.58" width="9.1" height="9.1" fill="#9b77c9" stroke="#484848" stroke-width="1.8"/>
<rect x="504.32" y="655.94" width="9.1" height="9.1" fill="#9b77c9" stroke="#484848" stroke-width="1.8"/>
<path d="M123.87 753.9L128.49 758.09M142.59 767.76L147.9 770.22M162 778.5L166.96 782.02M181.06 788.94L186.03 790.29M200.13 791.46L205.44 790.89M219.54 784.24L224.5 780.09M238.6 777.19L243.22 779.16M255.54 775.11L264.42 763.22M276.73 750.53L281.7 746.55M295.8 735.53L300.77 731.74M314.49 719.31L319.85 713.65M333.58 711.13L338.9 714.54M349.94 712.03L361.01 692.5M372.06 678.79L377.03 674.09M391.13 664.48L396.09 662.4M409.83 652.4L415.52 646.4M429.26 639.35L434.22 639.35M443.58 646.4L458.37 691.57M462.95 691.57L477.48 646.4M483.55 632.3L495.01 611.04M499.64 611.04L517.4 762.29M520.43 762.29L535.09 715.38" fill="none" stroke="#484848" stroke-width="1.9"/>
<rect x="112.27" y="742.95" width="9.1" height="9.1" fill="#f1666d" stroke="#484848" stroke-width="1.8"/>
<rect x="130.99" y="759.94" width="9.1" height="9.1" fill="#f1666d" stroke="#484848" stroke-width="1.8"/>
<rect x="150.4" y="768.95" width="9.1" height="9.1" fill="#f1666d" stroke="#484848" stroke-width="1.8"/>
<rect x="169.46" y="782.47" width="9.1" height="9.1" fill="#f1666d" stroke="#484848" stroke-width="1.8"/>
<rect x="188.53" y="787.67" width="9.1" height="9.1" fill="#f1666d" stroke="#484848" stroke-width="1.8"/>
<rect x="207.94" y="785.59" width="9.1" height="9.1" fill="#f1666d" stroke="#484848" stroke-width="1.8"/>
<rect x="227" y="769.64" width="9.1" height="9.1" fill="#f1666d" stroke="#484848" stroke-width="1.8"/>
<rect x="245.72" y="777.61" width="9.1" height="9.1" fill="#f1666d" stroke="#484848" stroke-width="1.8"/>
<rect x="265.13" y="751.62" width="9.1" height="9.1" fill="#f1666d" stroke="#484848" stroke-width="1.8"/>
<rect x="284.2" y="736.36" width="9.1" height="9.1" fill="#f1666d" stroke="#484848" stroke-width="1.8"/>
<rect x="303.27" y="721.81" width="9.1" height="9.1" fill="#f1666d" stroke="#484848" stroke-width="1.8"/>
<rect x="321.98" y="702.05" width="9.1" height="9.1" fill="#f1666d" stroke="#484848" stroke-width="1.8"/>
<rect x="341.4" y="714.53" width="9.1" height="9.1" fill="#f1666d" stroke="#484848" stroke-width="1.8"/>
<rect x="360.46" y="680.9" width="9.1" height="9.1" fill="#f1666d" stroke="#484848" stroke-width="1.8"/>
<rect x="379.53" y="662.88" width="9.1" height="9.1" fill="#f1666d" stroke="#484848" stroke-width="1.8"/>
<rect x="398.59" y="654.9" width="9.1" height="9.1" fill="#f1666d" stroke="#484848" stroke-width="1.8"/>
<rect x="417.66" y="634.8" width="9.1" height="9.1" fill="#f1666d" stroke="#484848" stroke-width="1.8"/>
<rect x="436.72" y="634.8" width="9.1" height="9.1" fill="#f1666d" stroke="#484848" stroke-width="1.8"/>
<rect x="456.13" y="694.07" width="9.1" height="9.1" fill="#f1666d" stroke="#484848" stroke-width="1.8"/>
<rect x="475.2" y="634.8" width="9.1" height="9.1" fill="#f1666d" stroke="#484848" stroke-width="1.8"/>
<rect x="494.26" y="599.44" width="9.1" height="9.1" fill="#f1666d" stroke="#484848" stroke-width="1.8"/>
<rect x="513.67" y="764.79" width="9.1" height="9.1" fill="#f1666d" stroke="#484848" stroke-width="1.8"/>
<rect x="532.74" y="703.78" width="9.1" height="9.1" fill="#f1666d" stroke="#484848" stroke-width="1.8"/>
<path d="M134.61 857.83L147.2 861.1M160.95 869.98L173.9 883.61M187.65 892.58L200.24 896.02M213.6 890.89L227.67 875.18M241.03 868.4L253.62 868.9M267.72 866.79L280.31 862.54M294.41 853.2L306.66 841.12M320.76 828.47L333.7 818.02M345.35 805.27L362.84 778.47M373.39 764.37L387.83 747.27M399 733.17L415.25 711.22M427.52 707.01L440.11 712.08M454.21 713.74L467.15 711.58M481.25 708.6L492.8 705.63M501.38 710.87L525.36 821.22" fill="none" stroke="#484848" stroke-width="1.9"/>
<rect x="123.01" y="851.45" width="9.1" height="9.1" fill="#bdbdbd" stroke="#484848" stroke-width="1.8"/>
<rect x="149.7" y="858.38" width="9.1" height="9.1" fill="#bdbdbd" stroke="#484848" stroke-width="1.8"/>
<rect x="176.05" y="886.11" width="9.1" height="9.1" fill="#bdbdbd" stroke="#484848" stroke-width="1.8"/>
<rect x="202.74" y="893.39" width="9.1" height="9.1" fill="#bdbdbd" stroke="#484848" stroke-width="1.8"/>
<rect x="229.43" y="863.58" width="9.1" height="9.1" fill="#bdbdbd" stroke="#484848" stroke-width="1.8"/>
<rect x="256.12" y="864.62" width="9.1" height="9.1" fill="#bdbdbd" stroke="#484848" stroke-width="1.8"/>
<rect x="282.81" y="855.61" width="9.1" height="9.1" fill="#bdbdbd" stroke="#484848" stroke-width="1.8"/>
<rect x="309.16" y="829.61" width="9.1" height="9.1" fill="#bdbdbd" stroke="#484848" stroke-width="1.8"/>
<rect x="336.2" y="807.77" width="9.1" height="9.1" fill="#bdbdbd" stroke="#484848" stroke-width="1.8"/>
<rect x="362.89" y="766.87" width="9.1" height="9.1" fill="#bdbdbd" stroke="#484848" stroke-width="1.8"/>
<rect x="389.23" y="735.67" width="9.1" height="9.1" fill="#bdbdbd" stroke="#484848" stroke-width="1.8"/>
<rect x="415.92" y="699.62" width="9.1" height="9.1" fill="#bdbdbd" stroke="#484848" stroke-width="1.8"/>
<rect x="442.61" y="710.37" width="9.1" height="9.1" fill="#bdbdbd" stroke="#484848" stroke-width="1.8"/>
<rect x="469.65" y="705.86" width="9.1" height="9.1" fill="#bdbdbd" stroke="#484848" stroke-width="1.8"/>
<rect x="495.3" y="699.27" width="9.1" height="9.1" fill="#bdbdbd" stroke="#484848" stroke-width="1.8"/>
<rect x="522.34" y="823.72" width="9.1" height="9.1" fill="#bdbdbd" stroke="#484848" stroke-width="1.8"/>
<line x1="87.7" y1="937.4" x2="87.7" y2="929.4" stroke="#000" stroke-width="1.7"/>
<text x="87.7" y="965.8" font-size="25.3" text-anchor="middle" fill="#000" stroke="#000">0</text>
<line x1="180.66" y1="937.4" x2="180.66" y2="929.4" stroke="#000" stroke-width="1.7"/>
<text x="180.66" y="965.8" font-size="25.3" text-anchor="middle" fill="#000" stroke="#000">20</text>
<line x1="273.62" y1="937.4" x2="273.62" y2="929.4" stroke="#000" stroke-width="1.7"/>
<text x="273.62" y="965.8" font-size="25.3" text-anchor="middle" fill="#000" stroke="#000">40</text>
<line x1="366.58" y1="937.4" x2="366.58" y2="929.4" stroke="#000" stroke-width="1.7"/>
<text x="366.58" y="965.8" font-size="25.3" text-anchor="middle" fill="#000" stroke="#000">60</text>
<line x1="459.54" y1="937.4" x2="459.54" y2="929.4" stroke="#000" stroke-width="1.7"/>
<text x="459.54" y="965.8" font-size="25.3" text-anchor="middle" fill="#000" stroke="#000">80</text>
<line x1="552.5" y1="937.4" x2="552.5" y2="929.4" stroke="#000" stroke-width="1.7"/>
<text x="552.5" y="965.8" font-size="25.3" text-anchor="middle" fill="#000" stroke="#000">100</text>
<line x1="134.18" y1="937.4" x2="134.18" y2="932.9" stroke="#000" stroke-width="1.7"/>
<line x1="227.14" y1="937.4" x2="227.14" y2="932.9" stroke="#000" stroke-width="1.7"/>
<line x1="320.1" y1="937.4" x2="320.1" y2="932.9" stroke="#000" stroke-width="1.7"/>
<line x1="413.06" y1="937.4" x2="413.06" y2="932.9" stroke="#000" stroke-width="1.7"/>
<line x1="506.02" y1="937.4" x2="506.02" y2="932.9" stroke="#000" stroke-width="1.7"/>
<line x1="598.98" y1="937.4" x2="598.98" y2="932.9" stroke="#000" stroke-width="1.7"/>
<line x1="87.7" y1="525.3" x2="95.7" y2="525.3" stroke="#000" stroke-width="1.7"/>
<text x="78.7" y="532.6" font-size="25.3" text-anchor="end" fill="#000" stroke="#000">-9</text>
<line x1="87.7" y1="662.67" x2="95.7" y2="662.67" stroke="#000" stroke-width="1.7"/>
<text x="78.7" y="669.97" font-size="25.3" text-anchor="end" fill="#000" stroke="#000">-10</text>
<line x1="87.7" y1="800.03" x2="95.7" y2="800.03" stroke="#000" stroke-width="1.7"/>
<text x="78.7" y="807.33" font-size="25.3" text-anchor="end" fill="#000" stroke="#000">-11</text>
<line x1="87.7" y1="937.4" x2="95.7" y2="937.4" stroke="#000" stroke-width="1.7"/>
<text x="78.7" y="944.7" font-size="25.3" text-anchor="end" fill="#000" stroke="#000">-12</text>
<line x1="87.7" y1="593.98" x2="92.2" y2="593.98" stroke="#000" stroke-width="1.7"/>
<line x1="87.7" y1="731.35" x2="92.2" y2="731.35" stroke="#000" stroke-width="1.7"/>
<line x1="87.7" y1="868.72" x2="92.2" y2="868.72" stroke="#000" stroke-width="1.7"/>
<rect x="87.7" y="525.3" width="512" height="412.1" fill="none" stroke="#000" stroke-width="1.8"/>
<line x1="116.8" y1="566.9" x2="133.5" y2="566.9" stroke="#484848" stroke-width="1.9"/>
<line x1="147.9" y1="566.9" x2="164.6" y2="566.9" stroke="#484848" stroke-width="1.9"/>
<rect x="136.15" y="562.35" width="9.1" height="9.1" fill="#f1666d" stroke="#484848" stroke-width="1.8"/>
<text x="171" y="574.7" font-size="25" text-anchor="start" fill="#000" stroke="#000">GSCC</text>
<line x1="116.8" y1="599.5" x2="133.5" y2="599.5" stroke="#484848" stroke-width="1.9"/>
<line x1="147.9" y1="599.5" x2="164.6" y2="599.5" stroke="#484848" stroke-width="1.9"/>
<rect x="136.15" y="594.95" width="9.1" height="9.1" fill="#9b77c9" stroke="#484848" stroke-width="1.8"/>
<text x="171" y="606.6" font-size="25" text-anchor="start" fill="#000" stroke="#000">CTS</text>
<line x1="116.8" y1="631" x2="133.5" y2="631" stroke="#484848" stroke-width="1.9"/>
<line x1="147.9" y1="631" x2="164.6" y2="631" stroke="#484848" stroke-width="1.9"/>
<rect x="136.15" y="626.45" width="9.1" height="9.1" fill="#bdbdbd" stroke="#484848" stroke-width="1.8"/>
<text x="171" y="638.2" font-size="25" text-anchor="start" fill="#000" stroke="#000">PVDF</text>
<text x="344" y="1006.6" font-size="25.3" text-anchor="middle" fill="#000" stroke="#000">Depth of charge (%)</text>
<text x="27.5" y="732" font-size="25.3" text-anchor="middle" fill="#000" transform="rotate(-90 27.5 732)" stroke="#000">log(D<tspan dy="5.57" font-size="15.69">Li⁺</tspan><tspan dy="-5.57">(cm</tspan><tspan dy="-10.63" font-size="15.69">2</tspan><tspan dy="10.63"> s</tspan><tspan dy="-10.63" font-size="15.69">-1</tspan><tspan dy="10.63">))</tspan></text>
<text x="11.5" y="529.5" font-size="33" text-anchor="start" fill="#231815" stroke="#231815" style="stroke-width:.4px">d</text>
<path d="M151.25 1178.16L162.8 1174.26M176.9 1171.5L188.8 1170.87M202.9 1170.21L214.8 1169.74M226.57 1176.5L242.43 1200.19M248.48 1214.29L272.17 1340.23M280.55 1352.2L291.75 1360.03M304.74 1372.01L344.52 1419.26M352.21 1419.26L374.69 1329.37M383.5 1328.6L394.7 1338.58M405.91 1337.8L423.95 1307.19M433.37 1293.09L448.48 1272.87M460.8 1267.72L472.35 1270.85M481.45 1279.8L503.35 1355.13M512.45 1361.42L524 1360.17" fill="none" stroke="#484848" stroke-width="1.9"/>
<rect x="139.65" y="1176" width="9.1" height="9.1" fill="#bdbdbd" stroke="#484848" stroke-width="1.8"/>
<rect x="165.3" y="1167.33" width="9.1" height="9.1" fill="#bdbdbd" stroke="#484848" stroke-width="1.8"/>
<rect x="191.3" y="1165.94" width="9.1" height="9.1" fill="#bdbdbd" stroke="#484848" stroke-width="1.8"/>
<rect x="217.3" y="1164.9" width="9.1" height="9.1" fill="#bdbdbd" stroke="#484848" stroke-width="1.8"/>
<rect x="242.6" y="1202.69" width="9.1" height="9.1" fill="#bdbdbd" stroke="#484848" stroke-width="1.8"/>
<rect x="268.95" y="1342.73" width="9.1" height="9.1" fill="#bdbdbd" stroke="#484848" stroke-width="1.8"/>
<rect x="294.25" y="1360.41" width="9.1" height="9.1" fill="#bdbdbd" stroke="#484848" stroke-width="1.8"/>
<rect x="345.9" y="1421.76" width="9.1" height="9.1" fill="#bdbdbd" stroke="#484848" stroke-width="1.8"/>
<rect x="371.9" y="1317.77" width="9.1" height="9.1" fill="#bdbdbd" stroke="#484848" stroke-width="1.8"/>
<rect x="397.2" y="1340.3" width="9.1" height="9.1" fill="#bdbdbd" stroke="#484848" stroke-width="1.8"/>
<rect x="423.55" y="1295.59" width="9.1" height="9.1" fill="#bdbdbd" stroke="#484848" stroke-width="1.8"/>
<rect x="449.2" y="1261.27" width="9.1" height="9.1" fill="#bdbdbd" stroke="#484848" stroke-width="1.8"/>
<rect x="474.85" y="1268.2" width="9.1" height="9.1" fill="#bdbdbd" stroke="#484848" stroke-width="1.8"/>
<rect x="500.85" y="1357.63" width="9.1" height="9.1" fill="#bdbdbd" stroke="#484848" stroke-width="1.8"/>
<rect x="526.5" y="1354.86" width="9.1" height="9.1" fill="#bdbdbd" stroke="#484848" stroke-width="1.8"/>
<path d="M158.18 1183.62L184.64 1158.75M198.74 1152.06L225.89 1151.83M237.33 1158.83L269.11 1209.89M274.97 1223.99L312.58 1403.66M316.79 1403.66L351.53 1314.12M361.31 1302.17L388.12 1283.54M402.22 1277.74L428.67 1274.35M439.31 1280.5L472.7 1346.12M483.33 1351.97L509.79 1347.44" fill="none" stroke="#484848" stroke-width="1.9"/>
<rect x="146.58" y="1185.7" width="9.1" height="9.1" fill="#9b77c9" stroke="#484848" stroke-width="1.8"/>
<rect x="187.14" y="1147.57" width="9.1" height="9.1" fill="#9b77c9" stroke="#484848" stroke-width="1.8"/>
<rect x="228.39" y="1147.23" width="9.1" height="9.1" fill="#9b77c9" stroke="#484848" stroke-width="1.8"/>
<rect x="268.95" y="1212.39" width="9.1" height="9.1" fill="#9b77c9" stroke="#484848" stroke-width="1.8"/>
<rect x="309.5" y="1406.16" width="9.1" height="9.1" fill="#9b77c9" stroke="#484848" stroke-width="1.8"/>
<rect x="349.71" y="1302.52" width="9.1" height="9.1" fill="#9b77c9" stroke="#484848" stroke-width="1.8"/>
<rect x="390.62" y="1274.09" width="9.1" height="9.1" fill="#9b77c9" stroke="#484848" stroke-width="1.8"/>
<rect x="431.17" y="1268.9" width="9.1" height="9.1" fill="#9b77c9" stroke="#484848" stroke-width="1.8"/>
<rect x="471.73" y="1348.62" width="9.1" height="9.1" fill="#9b77c9" stroke="#484848" stroke-width="1.8"/>
<rect x="512.29" y="1341.69" width="9.1" height="9.1" fill="#9b77c9" stroke="#484848" stroke-width="1.8"/>
<path d="M168.58 1130.91L172.86 1133.81M186.96 1133.15L191.23 1129.84M205.33 1120.21L209.95 1117.48M221.23 1120.35L231.48 1137.45M237.43 1151.55L252.37 1213.01M256.13 1227.11L270.76 1277.49M279.85 1282.68L284.13 1281.55M295.28 1286.73L305.44 1304.18M313.72 1318.28L342.12 1366.23M348.98 1366.23L361.98 1332.14M369.06 1318.04L378.64 1302.68M387.23 1288.58L397.21 1271.83M408.46 1262.52L412.73 1261.15M426.83 1254.32L431.45 1251.32M445.55 1247.02L449.82 1247.18M458.91 1254.5L473.2 1303.83M482.29 1305.3L486.56 1301.91M500.66 1292.6L504.94 1290.34M514.62 1279.57L527.73 1244.44" fill="none" stroke="#484848" stroke-width="1.9"/>
<rect x="156.98" y="1121.57" width="9.1" height="9.1" fill="#f1666d" stroke="#484848" stroke-width="1.8"/>
<rect x="175.36" y="1134.05" width="9.1" height="9.1" fill="#f1666d" stroke="#484848" stroke-width="1.8"/>
<rect x="193.73" y="1119.84" width="9.1" height="9.1" fill="#f1666d" stroke="#484848" stroke-width="1.8"/>
<rect x="212.45" y="1108.75" width="9.1" height="9.1" fill="#f1666d" stroke="#484848" stroke-width="1.8"/>
<rect x="231.16" y="1139.95" width="9.1" height="9.1" fill="#f1666d" stroke="#484848" stroke-width="1.8"/>
<rect x="249.54" y="1215.51" width="9.1" height="9.1" fill="#f1666d" stroke="#484848" stroke-width="1.8"/>
<rect x="268.25" y="1279.99" width="9.1" height="9.1" fill="#f1666d" stroke="#484848" stroke-width="1.8"/>
<rect x="286.63" y="1275.13" width="9.1" height="9.1" fill="#f1666d" stroke="#484848" stroke-width="1.8"/>
<rect x="305" y="1306.68" width="9.1" height="9.1" fill="#f1666d" stroke="#484848" stroke-width="1.8"/>
<rect x="341.74" y="1368.73" width="9.1" height="9.1" fill="#f1666d" stroke="#484848" stroke-width="1.8"/>
<rect x="360.11" y="1320.54" width="9.1" height="9.1" fill="#f1666d" stroke="#484848" stroke-width="1.8"/>
<rect x="378.49" y="1291.08" width="9.1" height="9.1" fill="#f1666d" stroke="#484848" stroke-width="1.8"/>
<rect x="396.86" y="1260.23" width="9.1" height="9.1" fill="#f1666d" stroke="#484848" stroke-width="1.8"/>
<rect x="415.23" y="1254.34" width="9.1" height="9.1" fill="#f1666d" stroke="#484848" stroke-width="1.8"/>
<rect x="433.95" y="1242.2" width="9.1" height="9.1" fill="#f1666d" stroke="#484848" stroke-width="1.8"/>
<rect x="452.32" y="1242.9" width="9.1" height="9.1" fill="#f1666d" stroke="#484848" stroke-width="1.8"/>
<rect x="470.69" y="1306.33" width="9.1" height="9.1" fill="#f1666d" stroke="#484848" stroke-width="1.8"/>
<rect x="489.06" y="1291.77" width="9.1" height="9.1" fill="#f1666d" stroke="#484848" stroke-width="1.8"/>
<rect x="507.44" y="1282.07" width="9.1" height="9.1" fill="#f1666d" stroke="#484848" stroke-width="1.8"/>
<rect x="525.81" y="1232.84" width="9.1" height="9.1" fill="#f1666d" stroke="#484848" stroke-width="1.8"/>
<line x1="130.3" y1="1452" x2="130.3" y2="1444" stroke="#000" stroke-width="1.7"/>
<text x="130.3" y="1479.8" font-size="25.3" text-anchor="middle" fill="#000" stroke="#000">0</text>
<line x1="215.5" y1="1452" x2="215.5" y2="1444" stroke="#000" stroke-width="1.7"/>
<text x="215.5" y="1479.8" font-size="25.3" text-anchor="middle" fill="#000" stroke="#000">20</text>
<line x1="300.7" y1="1452" x2="300.7" y2="1444" stroke="#000" stroke-width="1.7"/>
<text x="300.7" y="1479.8" font-size="25.3" text-anchor="middle" fill="#000" stroke="#000">40</text>
<line x1="385.9" y1="1452" x2="385.9" y2="1444" stroke="#000" stroke-width="1.7"/>
<text x="385.9" y="1479.8" font-size="25.3" text-anchor="middle" fill="#000" stroke="#000">60</text>
<line x1="471.1" y1="1452" x2="471.1" y2="1444" stroke="#000" stroke-width="1.7"/>
<text x="471.1" y="1479.8" font-size="25.3" text-anchor="middle" fill="#000" stroke="#000">80</text>
<line x1="556.3" y1="1452" x2="556.3" y2="1444" stroke="#000" stroke-width="1.7"/>
<text x="556.3" y="1479.8" font-size="25.3" text-anchor="middle" fill="#000" stroke="#000">100</text>
<line x1="172.9" y1="1452" x2="172.9" y2="1447.5" stroke="#000" stroke-width="1.7"/>
<line x1="258.1" y1="1452" x2="258.1" y2="1447.5" stroke="#000" stroke-width="1.7"/>
<line x1="343.3" y1="1452" x2="343.3" y2="1447.5" stroke="#000" stroke-width="1.7"/>
<line x1="428.5" y1="1452" x2="428.5" y2="1447.5" stroke="#000" stroke-width="1.7"/>
<line x1="513.7" y1="1452" x2="513.7" y2="1447.5" stroke="#000" stroke-width="1.7"/>
<line x1="87.7" y1="1040.5" x2="95.7" y2="1040.5" stroke="#000" stroke-width="1.7"/>
<text x="78.7" y="1047.8" font-size="25.3" text-anchor="end" fill="#000" stroke="#000">-8</text>
<line x1="87.7" y1="1177.67" x2="95.7" y2="1177.67" stroke="#000" stroke-width="1.7"/>
<text x="78.7" y="1184.97" font-size="25.3" text-anchor="end" fill="#000" stroke="#000">-10</text>
<line x1="87.7" y1="1314.83" x2="95.7" y2="1314.83" stroke="#000" stroke-width="1.7"/>
<text x="78.7" y="1322.13" font-size="25.3" text-anchor="end" fill="#000" stroke="#000">-12</text>
<line x1="87.7" y1="1452" x2="95.7" y2="1452" stroke="#000" stroke-width="1.7"/>
<text x="78.7" y="1459.3" font-size="25.3" text-anchor="end" fill="#000" stroke="#000">-14</text>
<line x1="87.7" y1="1109.08" x2="92.2" y2="1109.08" stroke="#000" stroke-width="1.7"/>
<line x1="87.7" y1="1246.25" x2="92.2" y2="1246.25" stroke="#000" stroke-width="1.7"/>
<line x1="87.7" y1="1383.42" x2="92.2" y2="1383.42" stroke="#000" stroke-width="1.7"/>
<rect x="87.7" y="1040.5" width="512" height="411.5" fill="none" stroke="#000" stroke-width="1.8"/>
<line x1="100.5" y1="1331" x2="117.25" y2="1331" stroke="#484848" stroke-width="1.9"/>
<line x1="131.65" y1="1331" x2="148.4" y2="1331" stroke="#484848" stroke-width="1.9"/>
<rect x="119.9" y="1326.45" width="9.1" height="9.1" fill="#f1666d" stroke="#484848" stroke-width="1.8"/>
<text x="154" y="1338.8" font-size="25" text-anchor="start" fill="#000" stroke="#000">GSCC</text>
<line x1="100.5" y1="1363.2" x2="117.25" y2="1363.2" stroke="#484848" stroke-width="1.9"/>
<line x1="131.65" y1="1363.2" x2="148.4" y2="1363.2" stroke="#484848" stroke-width="1.9"/>
<rect x="119.9" y="1358.65" width="9.1" height="9.1" fill="#9b77c9" stroke="#484848" stroke-width="1.8"/>
<text x="154" y="1370.7" font-size="25" text-anchor="start" fill="#000" stroke="#000">CTS</text>
<line x1="100.5" y1="1393.7" x2="117.25" y2="1393.7" stroke="#484848" stroke-width="1.9"/>
<line x1="131.65" y1="1393.7" x2="148.4" y2="1393.7" stroke="#484848" stroke-width="1.9"/>
<rect x="119.9" y="1389.15" width="9.1" height="9.1" fill="#bdbdbd" stroke="#484848" stroke-width="1.8"/>
<text x="154" y="1401.2" font-size="25" text-anchor="start" fill="#000" stroke="#000">PVDF</text>
<text x="344.7" y="1520" font-size="25.3" text-anchor="middle" fill="#000" stroke="#000">Depth of discharge (%)</text>
<text x="27.5" y="1247" font-size="25.3" text-anchor="middle" fill="#000" transform="rotate(-90 27.5 1247)" stroke="#000">log(D<tspan dy="5.57" font-size="15.69">Li⁺</tspan><tspan dy="-5.57">(cm</tspan><tspan dy="-10.63" font-size="15.69">2</tspan><tspan dy="10.63"> s</tspan><tspan dy="-10.63" font-size="15.69">-1</tspan><tspan dy="10.63">))</tspan></text>
<text x="6.5" y="1039" font-size="33" text-anchor="start" fill="#231815" stroke="#231815" style="stroke-width:.4px">e</text></g>
<g id="panel-fg"><rect x="766.5" y="528" width="457.5" height="17" fill="url(#rf0)"/>
<rect x="766.5" y="528" width="457.5" height="17" fill="url(#rf1)" mask="url(#mv)"/>
<rect x="766.5" y="545" width="457.5" height="10" fill="url(#rf1)"/>
<rect x="766.5" y="545" width="457.5" height="10" fill="url(#rf2)" mask="url(#mv)"/>
<rect x="766.5" y="555" width="457.5" height="2" fill="url(#rf2)"/>
<rect x="766.5" y="555" width="457.5" height="2" fill="url(#rf3)" mask="url(#mv)"/>
<rect x="766.5" y="557" width="457.5" height="6" fill="url(#rf3)"/>
<rect x="766.5" y="557" width="457.5" height="6" fill="url(#rf4)" mask="url(#mv)"/>
<rect x="766.5" y="563" width="457.5" height="4" fill="url(#rf4)"/>
<rect x="766.5" y="563" width="457.5" height="4" fill="url(#rf5)" mask="url(#mv)"/>
<rect x="766.5" y="567" width="457.5" height="3" fill="url(#rf5)"/>
<rect x="766.5" y="567" width="457.5" height="3" fill="url(#rf6)" mask="url(#mv)"/>
<rect x="766.5" y="570" width="457.5" height="2" fill="url(#rf6)"/>
<rect x="766.5" y="570" width="457.5" height="2" fill="url(#rf7)" mask="url(#mv)"/>
<rect x="766.5" y="572" width="457.5" height="2" fill="url(#rf7)"/>
<rect x="766.5" y="572" width="457.5" height="2" fill="url(#rf8)" mask="url(#mv)"/>
<rect x="766.5" y="574" width="457.5" height="2" fill="url(#rf8)"/>
<rect x="766.5" y="574" width="457.5" height="2" fill="url(#rf9)" mask="url(#mv)"/>
<rect x="766.5" y="576" width="457.5" height="2" fill="url(#rf9)"/>
<rect x="766.5" y="576" width="457.5" height="2" fill="url(#rf10)" mask="url(#mv)"/>
<rect x="766.5" y="578" width="457.5" height="3" fill="url(#rf10)"/>
<rect x="766.5" y="578" width="457.5" height="3" fill="url(#rf11)" mask="url(#mv)"/>
<rect x="766.5" y="581" width="457.5" height="4" fill="url(#rf11)"/>
<rect x="766.5" y="581" width="457.5" height="4" fill="url(#rf12)" mask="url(#mv)"/>
<rect x="766.5" y="585" width="457.5" height="6" fill="url(#rf12)"/>
<rect x="766.5" y="585" width="457.5" height="6" fill="url(#rf13)" mask="url(#mv)"/>
<rect x="766.5" y="591" width="457.5" height="14" fill="url(#rf13)"/>
<rect x="766.5" y="591" width="457.5" height="14" fill="url(#rf14)" mask="url(#mv)"/>
<rect x="766.5" y="605" width="457.5" height="13" fill="url(#rf14)"/>
<rect x="766.5" y="605" width="457.5" height="13" fill="url(#rf15)" mask="url(#mv)"/>
<rect x="766.5" y="618" width="457.5" height="6" fill="url(#rf15)"/>
<rect x="766.5" y="618" width="457.5" height="6" fill="url(#rf16)" mask="url(#mv)"/>
<rect x="766.5" y="624" width="457.5" height="4" fill="url(#rf16)"/>
<rect x="766.5" y="624" width="457.5" height="4" fill="url(#rf17)" mask="url(#mv)"/>
<rect x="766.5" y="628" width="457.5" height="3" fill="url(#rf17)"/>
<rect x="766.5" y="628" width="457.5" height="3" fill="url(#rf18)" mask="url(#mv)"/>
<rect x="766.5" y="631" width="457.5" height="2" fill="url(#rf18)"/>
<rect x="766.5" y="631" width="457.5" height="2" fill="url(#rf19)" mask="url(#mv)"/>
<rect x="766.5" y="633" width="457.5" height="2" fill="url(#rf19)"/>
<rect x="766.5" y="633" width="457.5" height="2" fill="url(#rf20)" mask="url(#mv)"/>
<rect x="766.5" y="635" width="457.5" height="2" fill="url(#rf20)"/>
<rect x="766.5" y="635" width="457.5" height="2" fill="url(#rf21)" mask="url(#mv)"/>
<rect x="766.5" y="637" width="457.5" height="2" fill="url(#rf21)"/>
<rect x="766.5" y="637" width="457.5" height="2" fill="url(#rf22)" mask="url(#mv)"/>
<rect x="766.5" y="639" width="457.5" height="3" fill="url(#rf22)"/>
<rect x="766.5" y="639" width="457.5" height="3" fill="url(#rf23)" mask="url(#mv)"/>
<rect x="766.5" y="642" width="457.5" height="3" fill="url(#rf23)"/>
<rect x="766.5" y="642" width="457.5" height="3" fill="url(#rf24)" mask="url(#mv)"/>
<rect x="766.5" y="645" width="457.5" height="1" fill="url(#rf24)"/>
<rect x="766.5" y="645" width="457.5" height="1" fill="url(#rf25)" mask="url(#mv)"/>
<rect x="766.5" y="646" width="457.5" height="5" fill="url(#rf25)"/>
<rect x="766.5" y="646" width="457.5" height="5" fill="url(#rf26)" mask="url(#mv)"/>
<rect x="766.5" y="651" width="457.5" height="1" fill="url(#rf26)"/>
<rect x="766.5" y="651" width="457.5" height="1" fill="url(#rf27)" mask="url(#mv)"/>
<rect x="766.5" y="652" width="457.5" height="5" fill="url(#rf27)"/>
<rect x="766.5" y="652" width="457.5" height="5" fill="url(#rf28)" mask="url(#mv)"/>
<rect x="766.5" y="657" width="457.5" height="6" fill="url(#rf28)"/>
<rect x="766.5" y="657" width="457.5" height="6" fill="url(#rf29)" mask="url(#mv)"/>
<rect x="766.5" y="663" width="457.5" height="6" fill="url(#rf29)"/>
<rect x="766.5" y="663" width="457.5" height="6" fill="url(#rf30)" mask="url(#mv)"/>
<rect x="766.5" y="669" width="457.5" height="3" fill="url(#rf30)"/>
<rect x="766.5" y="669" width="457.5" height="3" fill="url(#rf31)" mask="url(#mv)"/>
<rect x="766.5" y="672" width="457.5" height="18" fill="url(#rf31)"/>
<rect x="766.5" y="672" width="457.5" height="18" fill="url(#rf32)" mask="url(#mv)"/>
<rect x="766.5" y="690" width="457.5" height="30" fill="url(#rf32)"/>
<rect x="766.5" y="690" width="457.5" height="30" fill="url(#rf33)" mask="url(#mv)"/>
<rect x="766.5" y="720" width="457.5" height="30" fill="url(#rf33)"/>
<rect x="766.5" y="720" width="457.5" height="30" fill="url(#rf34)" mask="url(#mv)"/>
<rect x="766.5" y="750" width="457.5" height="30" fill="url(#rf34)"/>
<rect x="766.5" y="750" width="457.5" height="30" fill="url(#rf35)" mask="url(#mv)"/>
<rect x="766.5" y="780" width="457.5" height="26" fill="url(#rf35)"/>
<rect x="766.5" y="780" width="457.5" height="26" fill="url(#rf36)" mask="url(#mv)"/>
<rect x="766.5" y="806" width="457.5" height="13" fill="url(#rf36)"/>
<rect x="766.5" y="806" width="457.5" height="13" fill="url(#rf37)" mask="url(#mv)"/>
<rect x="766.5" y="819" width="457.5" height="6" fill="url(#rf37)"/>
<rect x="766.5" y="819" width="457.5" height="6" fill="url(#rf38)" mask="url(#mv)"/>
<rect x="766.5" y="825" width="457.5" height="6" fill="url(#rf38)"/>
<rect x="766.5" y="825" width="457.5" height="6" fill="url(#rf39)" mask="url(#mv)"/>
<rect x="766.5" y="831" width="457.5" height="6" fill="url(#rf39)"/>
<rect x="766.5" y="831" width="457.5" height="6" fill="url(#rf40)" mask="url(#mv)"/>
<rect x="766.5" y="837" width="457.5" height="6" fill="url(#rf40)"/>
<rect x="766.5" y="837" width="457.5" height="6" fill="url(#rf41)" mask="url(#mv)"/>
<rect x="766.5" y="843" width="457.5" height="6" fill="url(#rf41)"/>
<rect x="766.5" y="843" width="457.5" height="6" fill="url(#rf42)" mask="url(#mv)"/>
<rect x="766.5" y="849" width="457.5" height="6" fill="url(#rf42)"/>
<rect x="766.5" y="849" width="457.5" height="6" fill="url(#rf43)" mask="url(#mv)"/>
<rect x="766.5" y="855" width="457.5" height="4" fill="url(#rf43)"/>
<rect x="766.5" y="855" width="457.5" height="4" fill="url(#rf44)" mask="url(#mv)"/>
<rect x="766.5" y="859" width="457.5" height="3" fill="url(#rf44)"/>
<rect x="766.5" y="859" width="457.5" height="3" fill="url(#rf45)" mask="url(#mv)"/>
<rect x="766.5" y="862" width="457.5" height="2" fill="url(#rf45)"/>
<rect x="766.5" y="862" width="457.5" height="2" fill="url(#rf46)" mask="url(#mv)"/>
<rect x="766.5" y="864" width="457.5" height="2" fill="url(#rf46)"/>
<rect x="766.5" y="864" width="457.5" height="2" fill="url(#rf47)" mask="url(#mv)"/>
<rect x="766.5" y="866" width="457.5" height="2" fill="url(#rf47)"/>
<rect x="766.5" y="866" width="457.5" height="2" fill="url(#rf48)" mask="url(#mv)"/>
<rect x="766.5" y="868" width="457.5" height="2" fill="url(#rf48)"/>
<rect x="766.5" y="868" width="457.5" height="2" fill="url(#rf49)" mask="url(#mv)"/>
<rect x="766.5" y="870" width="457.5" height="3" fill="url(#rf49)"/>
<rect x="766.5" y="870" width="457.5" height="3" fill="url(#rf50)" mask="url(#mv)"/>
<rect x="766.5" y="873" width="457.5" height="4" fill="url(#rf50)"/>
<rect x="766.5" y="873" width="457.5" height="4" fill="url(#rf51)" mask="url(#mv)"/>
<rect x="766.5" y="877" width="457.5" height="6" fill="url(#rf51)"/>
<rect x="766.5" y="877" width="457.5" height="6" fill="url(#rf52)" mask="url(#mv)"/>
<rect x="766.5" y="883" width="457.5" height="7" fill="url(#rf52)"/>
<rect x="766.5" y="883" width="457.5" height="7" fill="url(#rf53)" mask="url(#mv)"/>
<rect x="766.5" y="890" width="457.5" height="20" fill="url(#rf53)"/>
<rect x="766.5" y="890" width="457.5" height="20" fill="url(#rf54)" mask="url(#mv)"/>
<rect x="766.5" y="910" width="457.5" height="28" fill="url(#rf54)"/>
<rect x="766.5" y="910" width="457.5" height="28" fill="url(#rf55)" mask="url(#mv)"/>
<rect x="766.5" y="527.3" width="457.5" height="411.2" fill="none" stroke="#000" stroke-width="1.1"/>
<line x1="766.5" y1="527.3" x2="772.5" y2="527.3" stroke="#000" stroke-width="1.5"/>
<text x="759.5" y="534.5" font-size="24" text-anchor="end" fill="#000" stroke="#000">100</text>
<line x1="766.5" y1="618.68" x2="772.5" y2="618.68" stroke="#000" stroke-width="1.5"/>
<text x="759.5" y="625.88" font-size="24" text-anchor="end" fill="#000" stroke="#000">200</text>
<line x1="766.5" y1="710.06" x2="772.5" y2="710.06" stroke="#000" stroke-width="1.5"/>
<text x="759.5" y="717.26" font-size="24" text-anchor="end" fill="#000" stroke="#000">300</text>
<line x1="766.5" y1="801.43" x2="772.5" y2="801.43" stroke="#000" stroke-width="1.5"/>
<text x="759.5" y="808.63" font-size="24" text-anchor="end" fill="#000" stroke="#000">400</text>
<line x1="766.5" y1="892.81" x2="772.5" y2="892.81" stroke="#000" stroke-width="1.5"/>
<text x="759.5" y="900.01" font-size="24" text-anchor="end" fill="#000" stroke="#000">500</text>
<line x1="766.5" y1="572.99" x2="769.8" y2="572.99" stroke="#000" stroke-width="1.3"/>
<line x1="766.5" y1="664.37" x2="769.8" y2="664.37" stroke="#000" stroke-width="1.3"/>
<line x1="766.5" y1="755.74" x2="769.8" y2="755.74" stroke="#000" stroke-width="1.3"/>
<line x1="766.5" y1="847.12" x2="769.8" y2="847.12" stroke="#000" stroke-width="1.3"/>
<line x1="766.5" y1="938.5" x2="769.8" y2="938.5" stroke="#000" stroke-width="1.3"/>
<text x="766.5" y="964.5" font-size="24.3" text-anchor="middle" fill="#000" stroke="#000">0</text>
<text x="858" y="964.5" font-size="24.3" text-anchor="middle" fill="#000" stroke="#000">50</text>
<text x="949.5" y="964.5" font-size="24.3" text-anchor="middle" fill="#000" stroke="#000">100</text>
<text x="1041" y="964.5" font-size="24.3" text-anchor="middle" fill="#000" stroke="#000">150</text>
<text x="1132.5" y="964.5" font-size="24.3" text-anchor="middle" fill="#000" stroke="#000">200</text>
<text x="1224" y="964.5" font-size="24.3" text-anchor="middle" fill="#000" stroke="#000">250</text>
<path d="M766.28 636.05C767.07 637.14 768.47 640.51 771.01 642.62C773.55 644.72 777.57 647.04 781.51 648.66C785.45 650.27 790.92 651.28 794.64 652.33C798.36 653.38 800.77 653.51 803.83 654.96C806.9 656.4 810.18 658.02 813.03 661C815.87 663.97 818.28 667.34 820.9 672.82C823.53 678.29 826.16 687.26 828.78 693.82C831.41 700.39 834.69 708.14 836.66 712.21C838.63 716.28 838.85 715.18 840.6 718.25C842.35 721.31 844.32 726.34 847.16 730.59C850.01 734.83 854.82 740.52 857.67 743.72C860.51 746.91 862.04 748.88 864.23 749.76C866.42 750.63 867.08 748.66 870.8 748.97C874.52 749.28 882.18 751.38 886.55 751.6C890.93 751.82 892.68 751.16 897.06 750.28C901.44 749.41 906.69 747.44 912.82 746.34C918.94 745.25 927.48 744.29 933.82 743.72C940.17 743.15 944.33 743.06 950.89 742.93C957.46 742.8 965.12 742.71 973.21 742.93C981.31 743.15 990.72 743.46 999.47 744.24C1008.23 745.03 1018.29 746.43 1025.74 747.66C1033.18 748.88 1038.87 750.28 1044.12 751.6C1049.37 752.91 1053.31 753.57 1057.25 755.54C1061.19 757.51 1064.69 759.26 1067.75 763.41C1070.82 767.57 1073 773.26 1075.63 780.48C1078.26 787.7 1081.45 800.09 1083.51 806.74C1085.57 813.4 1086.66 814.71 1087.97 820.4C1089.29 826.09 1089.94 833.53 1091.39 840.88C1092.83 848.24 1094.67 857.51 1096.64 864.52C1098.61 871.52 1100.58 877.87 1103.2 882.9C1105.83 887.93 1107.67 890.21 1112.39 894.72C1117.12 899.22 1125.44 904.7 1131.57 909.95C1137.69 915.2 1143.69 921.55 1149.16 926.23C1154.63 930.91 1161.85 936.08 1164.39 938.05" fill="none" stroke="#000" stroke-width="2.6" stroke-linecap="butt"/>
<ellipse cx="803.83" cy="654.96" rx="3.9" ry="4.5" fill="#f1666d"/>
<ellipse cx="840.6" cy="718.25" rx="3.9" ry="4.5" fill="#12aba2"/>
<ellipse cx="950.89" cy="742.93" rx="3.9" ry="4.5" fill="#9a2d96"/>
<ellipse cx="1087.97" cy="820.4" rx="3.9" ry="4.5" fill="#5c86b8"/>
<ellipse cx="1131.57" cy="909.95" rx="3.9" ry="4.5" fill="#23876a"/>
<text x="773.6" y="622.9" font-size="24.6" text-anchor="start" fill="#fff" stroke="#fff">2.32 V</text>
<text x="840.6" y="703" font-size="24.6" text-anchor="start" fill="#fff" stroke="#fff">2.19 V</text>
<text x="932.5" y="727.4" font-size="24.6" text-anchor="start" fill="#fff" stroke="#fff">2.12 V</text>
<text x="1107.1" y="823.3" font-size="24.6" text-anchor="start" fill="#fff" stroke="#fff">1.95 V</text>
<text x="1124.2" y="888.7" font-size="24.6" text-anchor="start" fill="#fff" stroke="#fff">1.76 V</text>
<line x1="1092.2" y1="555.2" x2="1130.8" y2="555.2" stroke="#000" stroke-width="2.6"/>
<text x="1139.2" y="561.4" font-size="24.6" text-anchor="start" fill="#fff" stroke="#fff">PVDF</text>
<rect x="1264.1" y="639.1" width="13.7" height="195.8" fill="url(#cbf)"/>
<text x="1270.95" y="632.3" font-size="31" text-anchor="middle" fill="#2f4d80" stroke="#2f4d80">0</text>
<text x="1269.4" y="863" font-size="24.5" text-anchor="middle" fill="#8b1a1a" stroke="#8b1a1a">2500</text>
<text x="1317" y="739" font-size="23.4" text-anchor="middle" fill="#000" transform="rotate(-90 1317 739)" stroke="#000">Intensity (arb. units)</text>
<text x="710.3" y="732.2" font-size="24.5" text-anchor="middle" fill="#000" transform="rotate(-90 710.3 732.2)" stroke="#000">Raman shift (cm<tspan dy="-10.29" font-size="15.19">-1</tspan><tspan dy="10.29">)</tspan></text>
<text x="995.2" y="1008.8" font-size="24.7" text-anchor="middle" fill="#000" stroke="#000">Discharging time (min)</text>
<text x="675.6" y="531" font-size="33" text-anchor="start" fill="#231815" stroke="#231815" style="stroke-width:.4px">f</text>
<rect x="767.7" y="1044" width="459.7" height="76" fill="url(#rg0)"/>
<rect x="767.7" y="1044" width="459.7" height="76" fill="url(#rg1)" mask="url(#mv)"/>
<rect x="767.7" y="1120" width="459.7" height="80" fill="url(#rg1)"/>
<rect x="767.7" y="1120" width="459.7" height="80" fill="url(#rg2)" mask="url(#mv)"/>
<rect x="767.7" y="1200" width="459.7" height="100" fill="url(#rg2)"/>
<rect x="767.7" y="1200" width="459.7" height="100" fill="url(#rg3)" mask="url(#mv)"/>
<rect x="767.7" y="1300" width="459.7" height="156" fill="url(#rg3)"/>
<rect x="767.7" y="1300" width="459.7" height="156" fill="url(#rg4)" mask="url(#mv)"/>
<rect x="767.7" y="1044.2" width="459.7" height="411.8" fill="none" stroke="#000" stroke-width="1.1"/>
<line x1="767.7" y1="1044.2" x2="773.7" y2="1044.2" stroke="#000" stroke-width="1.5"/>
<text x="760.7" y="1051.4" font-size="24" text-anchor="end" fill="#000" stroke="#000">100</text>
<line x1="767.7" y1="1135.71" x2="773.7" y2="1135.71" stroke="#000" stroke-width="1.5"/>
<text x="760.7" y="1142.91" font-size="24" text-anchor="end" fill="#000" stroke="#000">200</text>
<line x1="767.7" y1="1227.22" x2="773.7" y2="1227.22" stroke="#000" stroke-width="1.5"/>
<text x="760.7" y="1234.42" font-size="24" text-anchor="end" fill="#000" stroke="#000">300</text>
<line x1="767.7" y1="1318.73" x2="773.7" y2="1318.73" stroke="#000" stroke-width="1.5"/>
<text x="760.7" y="1325.93" font-size="24" text-anchor="end" fill="#000" stroke="#000">400</text>
<line x1="767.7" y1="1410.24" x2="773.7" y2="1410.24" stroke="#000" stroke-width="1.5"/>
<text x="760.7" y="1417.44" font-size="24" text-anchor="end" fill="#000" stroke="#000">500</text>
<line x1="767.7" y1="1089.96" x2="771" y2="1089.96" stroke="#000" stroke-width="1.3"/>
<line x1="767.7" y1="1181.47" x2="771" y2="1181.47" stroke="#000" stroke-width="1.3"/>
<line x1="767.7" y1="1272.98" x2="771" y2="1272.98" stroke="#000" stroke-width="1.3"/>
<line x1="767.7" y1="1364.49" x2="771" y2="1364.49" stroke="#000" stroke-width="1.3"/>
<line x1="767.7" y1="1456" x2="771" y2="1456" stroke="#000" stroke-width="1.3"/>
<text x="767.7" y="1482.1" font-size="24.3" text-anchor="middle" fill="#000" stroke="#000">0</text>
<text x="844.32" y="1482.1" font-size="24.3" text-anchor="middle" fill="#000" stroke="#000">50</text>
<text x="920.93" y="1482.1" font-size="24.3" text-anchor="middle" fill="#000" stroke="#000">100</text>
<text x="997.55" y="1482.1" font-size="24.3" text-anchor="middle" fill="#000" stroke="#000">150</text>
<text x="1074.17" y="1482.1" font-size="24.3" text-anchor="middle" fill="#000" stroke="#000">200</text>
<text x="1150.78" y="1482.1" font-size="24.3" text-anchor="middle" fill="#000" stroke="#000">250</text>
<text x="1227.4" y="1482.1" font-size="24.3" text-anchor="middle" fill="#000" stroke="#000">300</text>
<path d="M768.38 1045.76C768.47 1054.07 768.64 1081.65 768.91 1095.65C769.17 1109.66 769.26 1121.26 769.96 1129.79C770.66 1138.32 771.18 1142.26 773.11 1146.86C775.04 1151.45 778.67 1154.87 781.51 1157.36C784.36 1159.86 786.68 1160.3 790.18 1161.83C793.68 1163.36 797.84 1165.11 802.52 1166.55C807.2 1168 813.9 1168.96 818.28 1170.49C822.65 1172.03 825.72 1172.9 828.78 1175.75C831.85 1178.59 834.47 1182.97 836.66 1187.56C838.85 1192.16 840.38 1199.16 841.91 1203.32C843.44 1207.48 843.66 1207.7 845.85 1212.51C848.04 1217.32 851.76 1225.42 855.04 1232.21C858.32 1238.99 862.13 1246.3 865.55 1253.21C868.96 1260.13 872.46 1270.72 875.53 1273.7C878.59 1276.67 881.21 1272.6 883.93 1271.07C886.64 1269.54 887.87 1266.39 891.81 1264.51C895.75 1262.62 901.44 1261.09 907.56 1259.78C913.69 1258.47 920.69 1257.28 928.57 1256.63C936.45 1255.97 945.2 1255.93 954.83 1255.84C964.46 1255.75 976.72 1255.84 986.34 1256.1C995.97 1256.37 1003.85 1256.85 1012.61 1257.42C1021.36 1257.98 1030.99 1258.6 1038.87 1259.52C1046.74 1260.44 1053.31 1261.44 1059.87 1262.93C1066.44 1264.42 1072.57 1266.13 1078.26 1268.45C1083.95 1270.77 1089.2 1274.14 1094.01 1276.85C1098.83 1279.56 1103.42 1282.1 1107.14 1284.73C1110.86 1287.35 1113.93 1288.67 1116.33 1292.61C1118.74 1296.54 1120.27 1302.67 1121.59 1308.36C1122.9 1314.05 1123.64 1321.4 1124.21 1326.74C1124.78 1332.08 1124.78 1332.96 1125 1340.4C1125.22 1347.84 1125 1361.85 1125.53 1371.39C1126.05 1380.93 1126.84 1390.21 1128.15 1397.65C1129.46 1405.09 1131.08 1410.86 1133.4 1416.03C1135.72 1421.19 1139.01 1424.7 1142.07 1428.63C1145.13 1432.57 1148.28 1435.2 1151.79 1439.66C1155.29 1444.13 1161.2 1452.79 1163.08 1455.42" fill="none" stroke="#000" stroke-width="2.6" stroke-linecap="butt"/>
<ellipse cx="790.18" cy="1161.83" rx="3.9" ry="4.5" fill="#f1666d"/>
<ellipse cx="845.85" cy="1212.51" rx="3.9" ry="4.5" fill="#12aba2"/>
<ellipse cx="954.83" cy="1257.42" rx="3.9" ry="4.5" fill="#9a2d96"/>
<ellipse cx="1125" cy="1340.4" rx="3.9" ry="4.5" fill="#5c86b8"/>
<ellipse cx="1142.07" cy="1428.63" rx="3.9" ry="4.5" fill="#23876a"/>
<text x="774.4" y="1140.3" font-size="24.6" text-anchor="start" fill="#fff" stroke="#fff">2.34 V</text>
<text x="846.6" y="1198.6" font-size="24.6" text-anchor="start" fill="#fff" stroke="#fff">2.24 V</text>
<text x="927.3" y="1239.3" font-size="24.6" text-anchor="start" fill="#fff" stroke="#fff">2.12 V</text>
<text x="1133.4" y="1342.5" font-size="24.6" text-anchor="start" fill="#fff" stroke="#fff">1.95 V</text>
<text x="1046.2" y="1431" font-size="24.6" text-anchor="start" fill="#fff" stroke="#fff">1.76 V</text>
<line x1="1094.5" y1="1072.8" x2="1133.9" y2="1072.8" stroke="#000" stroke-width="2.6"/>
<text x="1142.6" y="1079.1" font-size="24.6" text-anchor="start" fill="#fff" stroke="#fff">GSCC</text>
<rect x="1267.2" y="1153.9" width="14.6" height="206.8" fill="url(#cbg)"/>
<text x="1274.5" y="1149.1" font-size="24" text-anchor="middle" fill="#27477a" font-weight="bold">0</text>
<text x="1274" y="1393.9" font-size="24.5" text-anchor="middle" fill="#c00d1e" stroke="#c00d1e">2500</text>
<text x="1320.9" y="1256" font-size="23.4" text-anchor="middle" fill="#000" transform="rotate(-90 1320.9 1256)" stroke="#000">Intensity (arb. units)</text>
<text x="710.3" y="1250.9" font-size="24.5" text-anchor="middle" fill="#000" transform="rotate(-90 710.3 1250.9)" stroke="#000">Raman shift (cm<tspan dy="-10.29" font-size="15.19">-1</tspan><tspan dy="10.29">)</tspan></text>
<text x="997.3" y="1524.7" font-size="24.7" text-anchor="middle" fill="#000" stroke="#000">Discharging time (min)</text>
<text x="673.5" y="1037.5" font-size="33" text-anchor="start" fill="#231815" stroke="#231815" style="stroke-width:.4px">g</text></g>
<g id="panel-raman"><line x1="1456.77" y1="516" x2="1456.77" y2="946.2" stroke="#808080" stroke-width="1.9" stroke-dasharray="8.6 4.8"/>
<line x1="1532.7" y1="516" x2="1532.7" y2="946.2" stroke="#808080" stroke-width="1.9" stroke-dasharray="8.6 4.8"/>
<line x1="1739.5" y1="516" x2="1739.5" y2="946.2" stroke="#808080" stroke-width="1.9" stroke-dasharray="8.6 4.8"/>
<line x1="1779.22" y1="516" x2="1779.22" y2="946.2" stroke="#808080" stroke-width="1.9" stroke-dasharray="8.6 4.8"/>
<line x1="1820.65" y1="516" x2="1820.65" y2="946.2" stroke="#808080" stroke-width="1.9" stroke-dasharray="8.6 4.8"/>
<path d="M1399 638.7L1404.7 640.1L1410.4 642.2L1424 644.7L1434.2 643.7L1436.5 642.6L1438.7 640.9L1441 637.5L1443.3 630.6L1445.5 617.8L1447.8 598.5L1453.5 536.2L1455.8 520.2L1456.9 518L1458 520.3L1460.3 535.9L1464.8 587.7L1468.2 618.7L1470.5 631.1L1472.8 638.3L1475 641.8L1477.3 644L1480.7 645.9L1484.1 646.4L1492.1 646.5L1500 645.1L1503.4 643.9L1510.2 643.9L1514.8 642L1517 639.3L1519.3 633.5L1521.6 622L1523.8 603.4L1530.7 526L1531.8 519.4L1532.9 516.9L1534.1 519.4L1535.2 526.5L1542 604.1L1544.3 622.5L1545.4 628.7L1547.7 636.6L1548.8 638.5L1551.1 640.3L1552.2 640.3L1560.2 637.8L1562.4 638.1L1565.8 640.2L1572.7 646.6L1574.9 648.2L1580.6 650.5L1584 650.8L1589.7 650.6L1604.4 651.3L1610.1 650.9L1614.6 651.3L1616.9 651L1624.9 651.3L1627.1 650.6L1630.5 648L1632.8 650.4L1633.9 651L1641.9 650.8L1645.3 648.5L1647.6 650.5L1649.8 651.1L1658.9 650.8L1664.6 651.2L1670.3 650.5L1675.9 650.9L1681.6 650.3L1686.2 650.6L1708.9 650.5L1716.8 649.5L1722.5 649.8L1735 649.5L1740.6 648.5L1745.2 648.7L1749.7 647.7L1755.4 647.4L1759.9 644.9L1766.7 639.1L1772.4 636.9L1777 634.1L1779.2 633.7L1781.5 634.4L1783.8 636L1794 644.8L1796.2 645.7L1799.7 645.5L1803.1 644.1L1805.3 641.5L1806.5 639.5L1808.7 631.9L1812.1 610.1L1817.8 557.7L1819 550.7L1820.1 547.1L1821.2 547.4L1822.4 551L1823.5 558.1L1829.2 610.9L1831.4 626.6L1832.6 632.1L1834.8 639.6L1836 642L1838.2 645.3L1840.5 646.9L1849.6 648.7L1856.4 648.7L1862.1 649.4L1868.9 649.4L1871.2 649.7L1876.8 649.4L1898.4 651L1905.2 651.2L1909.8 650.9" fill="none" stroke="#f1666d" stroke-width="2" stroke-linejoin="round"/>
<path d="M1399 768.3L1402.4 769.4L1408.1 770.2L1416 772.2L1430.8 774.6L1434.2 774.2L1437.6 772.2L1439.9 769.5L1441 767.2L1443.3 760.2L1445.5 747.5L1447.8 729L1453.5 667.8L1455.8 652.9L1456.9 650.8L1458 652.8L1460.3 668.3L1466 730.2L1468.2 749L1470.5 762L1472.8 769.6L1475 773.4L1477.3 775.8L1480.7 777.7L1485.3 778.7L1488.7 779L1495.5 778.6L1503.4 776.2L1510.2 776.8L1512.5 776.1L1514.8 774.8L1515.9 773.7L1518.2 769L1520.4 760.3L1521.6 753.4L1525 722.9L1530.7 659L1531.8 652.2L1532.9 649.9L1534.1 652.4L1536.3 669.6L1540.9 724.2L1544.3 755.1L1545.4 761.8L1547.7 770.6L1548.8 772.9L1550 774.3L1551.1 775L1553.4 775.1L1560.2 772.8L1562.4 773.3L1569.2 778.2L1574.9 783.4L1577.2 784.8L1580.6 786L1590.8 786.9L1599.9 787.1L1603.3 787.5L1609 787.3L1631.7 788.8L1635.1 788.2L1640.8 788.8L1644.2 788.5L1660 789.2L1662.3 789L1668 789.5L1675.9 789.3L1681.6 789.9L1697.5 789.2L1702 788.2L1708.9 787.7L1710 787.9L1716.8 786.9L1720.2 787.2L1727 786.8L1730.4 786.1L1736.1 786.5L1744 785.5L1746.3 785.7L1754.3 785.1L1758.8 783.9L1766.7 778.7L1772.4 777.7L1778.1 774L1779.2 773.7L1780.4 773.7L1782.6 774.6L1792.8 783.1L1796.2 784.2L1800.8 784.4L1803.1 783.4L1805.3 780.9L1807.6 775.7L1808.7 771.4L1812.1 750.8L1817.8 700.2L1819 693.2L1820.1 689.5L1821.2 689.6L1822.4 693.6L1823.5 700.4L1829.2 751.4L1831.4 767.2L1833.7 777.4L1834.8 780.6L1837.1 784.9L1838.2 786.1L1840.5 787.5L1848.5 789.5L1857.5 790L1864.4 791.3L1872.3 791.3L1887 793L1889.3 793.6L1895 793.3L1909.8 795" fill="none" stroke="#12aba2" stroke-width="2" stroke-linejoin="round"/>
<path d="M1399 864.2L1409.2 864.6L1416 864.1L1419.4 864.6L1425.1 863.8L1434.2 863.7L1437.6 862.6L1441 859.9L1443.3 856.1L1445.5 848.6L1447.8 836.7L1453.5 796.3L1455.8 786.5L1456.9 784.8L1458 786.4L1460.3 796.6L1467.1 842.8L1469.4 852.3L1470.5 855.4L1472.8 859.5L1473.9 860.7L1476.2 862.1L1483 863.3L1486.4 863.7L1489.8 863.5L1494.3 864.1L1497.7 863.4L1503.4 863.4L1505.7 862.9L1512.5 862.3L1514.8 861.5L1517 859.4L1518.2 857.6L1520.4 851.9L1521.6 847.8L1525 827.9L1530.7 785.3L1531.8 780.4L1532.9 779.1L1534.1 780.5L1535.2 785L1540.9 828.2L1544.3 848.3L1546.6 855.6L1547.7 857.7L1548.8 859L1551.1 860.4L1559 859L1562.4 859L1564.7 859.6L1570.4 862.1L1578.3 863.7L1592 864.2L1601 863.5L1615.8 864.8L1623.7 864.5L1627.1 863.8L1630.5 864.5L1635.1 864.5L1641.9 864.1L1644.2 864.4L1649.8 863.7L1656.6 864.1L1662.3 863.8L1673.7 863.9L1679.3 863.4L1682.8 863.6L1688.4 862.6L1694.1 863.2L1698.6 863.2L1706.6 862.4L1707.7 862.9L1713.4 863L1714.5 863.3L1721.3 862.5L1733.8 862.6L1739.5 862.1L1753.1 862.5L1759.9 861.5L1765.6 858.4L1767.9 857.9L1771.3 857.8L1778.1 856.3L1781.5 856.5L1784.9 857.8L1790.6 860.5L1792.8 861.1L1795.1 861.6L1799.7 861.3L1803.1 860L1805.3 857.9L1806.5 856.1L1808.7 850L1811 840.4L1816.7 809.6L1817.8 805.4L1819 803.1L1820.1 803.2L1821.2 805.6L1822.4 809.6L1828 841.1L1830.3 850.2L1831.4 853.4L1833.7 857.7L1834.8 859.1L1837.1 860.9L1845.1 863L1849.6 862.6L1851.9 863.1L1853 862.9L1865.5 863.5L1881.4 863.3L1888.2 864.1L1893.9 863.6L1899.5 864.3L1909.8 863.8" fill="none" stroke="#9a2d96" stroke-width="2" stroke-linejoin="round"/>
<path d="M1399 903.4L1404.7 903L1414.9 903.3L1433 902.7L1438.7 902.9L1442.1 902.4L1444.4 901.6L1446.7 899.9L1454.6 889.6L1455.8 888.8L1456.9 888.6L1459.2 890L1460.3 891.2L1466 899L1468.2 900.7L1472.8 902.7L1476.2 903.2L1483 902.9L1485.3 903.5L1494.3 903.2L1496.6 902.6L1502.3 903.2L1518.2 903L1520.4 902.3L1522.7 900.6L1525 897.6L1530.7 887.8L1531.8 886.6L1532.9 886.2L1534.1 886.7L1535.2 887.7L1539.7 895.9L1543.1 900.1L1547.7 902.3L1552.2 903L1563.6 903.4L1567 903L1577.2 903.2L1582.9 902.8L1594.2 903.3L1611.2 902.9L1619.2 903.3L1630.5 902.8L1639.6 903.5L1656.6 903L1663.5 903.7L1674.8 903L1687.3 903.7L1695.2 903.1L1699.8 903.6L1705.4 903.1L1714.5 903.6L1720.2 903.2L1724.7 903.6L1730.4 903.1L1739.5 903.5L1742.9 903L1756.5 903.6L1766.7 903.4L1780.4 901.9L1792.8 903.3L1795.1 902.9L1801.9 903.2L1806.5 902.4L1808.7 901.1L1811 899.5L1816.7 893.2L1819 892.1L1821.2 892.7L1822.4 893.6L1828 899.7L1830.3 901.5L1832.6 902.5L1837.1 903.3L1841.6 903.6L1853 903.3L1862.1 903.8L1879.1 903.5L1888.2 904L1893.9 903.7L1909.8 903.9" fill="none" stroke="#5c86b8" stroke-width="2" stroke-linejoin="round"/>
<path d="M1399 933.3L1405.8 933.5L1417.2 933.1L1420.6 933.4L1424 932.9L1436.5 933.4L1442.1 933L1446.7 932L1451.2 929.1L1454.6 926.1L1456.9 925.2L1459.2 926.1L1464.8 930.6L1469.4 932.7L1472.8 933.5L1479.6 932.9L1481.9 933.6L1487.5 933.2L1489.8 933.5L1501.2 933.1L1509.1 933.3L1522.7 932L1526.1 929.7L1530.7 924.9L1532.9 924.1L1534.1 924.2L1535.2 924.8L1539.7 929.4L1542 931.1L1545.4 932.4L1551.1 933.4L1556.8 933.1L1562.4 933.6L1573.8 933.2L1578.3 933.8L1584 933.4L1592 933.8L1595.4 933.1L1598.8 933L1605.6 933.7L1611.2 933.1L1615.8 933.8L1621.5 933.4L1627.1 933.9L1633.9 932.9L1640.8 933.6L1646.4 933L1656.6 933.5L1669.1 933.2L1678.2 933.7L1688.4 932.9L1695.2 933.9L1700.9 933.6L1706.6 933.7L1713.4 933L1717.9 933.6L1723.6 933.2L1742.9 933.9L1748.6 933.2L1755.4 933.8L1766.7 933.2L1790.6 933.6L1792.8 933.1L1798.5 933.5L1806.5 933.1L1813.3 931L1816.7 928.9L1820.1 927.9L1831.4 932.3L1841.6 933.6L1854.1 932.8L1859.8 933.7L1864.4 934L1867.8 933.8L1871.2 932.9L1878 933.7L1881.4 933.4L1892.7 933.8L1893.9 933.5L1899.5 933.6L1901.8 933.4L1909.8 933.6" fill="none" stroke="#23876a" stroke-width="2" stroke-linejoin="round"/>
<text x="1399" y="977.7" font-size="25.3" text-anchor="middle" fill="#000" stroke="#000">100</text>
<line x1="1455.75" y1="947.2" x2="1455.75" y2="943.4" stroke="#000" stroke-width="1.6"/>
<line x1="1512.5" y1="947.2" x2="1512.5" y2="940.7" stroke="#000" stroke-width="1.6"/>
<text x="1512.5" y="977.7" font-size="25.3" text-anchor="middle" fill="#000" stroke="#000">200</text>
<line x1="1569.25" y1="947.2" x2="1569.25" y2="943.4" stroke="#000" stroke-width="1.6"/>
<line x1="1626" y1="947.2" x2="1626" y2="940.7" stroke="#000" stroke-width="1.6"/>
<text x="1626" y="977.7" font-size="25.3" text-anchor="middle" fill="#000" stroke="#000">300</text>
<line x1="1682.75" y1="947.2" x2="1682.75" y2="943.4" stroke="#000" stroke-width="1.6"/>
<line x1="1739.5" y1="947.2" x2="1739.5" y2="940.7" stroke="#000" stroke-width="1.6"/>
<text x="1739.5" y="977.7" font-size="25.3" text-anchor="middle" fill="#000" stroke="#000">400</text>
<line x1="1796.25" y1="947.2" x2="1796.25" y2="943.4" stroke="#000" stroke-width="1.6"/>
<line x1="1853" y1="947.2" x2="1853" y2="940.7" stroke="#000" stroke-width="1.6"/>
<text x="1853" y="977.7" font-size="25.3" text-anchor="middle" fill="#000" stroke="#000">500</text>
<line x1="1909.75" y1="947.2" x2="1909.75" y2="943.4" stroke="#000" stroke-width="1.6"/>
<rect x="1399" y="515" width="511.2" height="432.2" fill="none" stroke="#000" stroke-width="1.7"/>
<text x="1654" y="1008.1" font-size="26.3" text-anchor="middle" fill="#000" stroke="#000">Raman shift (cm<tspan dy="-11.05" font-size="16.31">-1</tspan><tspan dy="11.05">)</tspan></text>
<text x="1408.8" y="544.9" font-size="24.5" text-anchor="start" fill="#808080" stroke="#808080">S</text>
<text x="1425.44" y="536.08" font-size="15.19" text-anchor="start" fill="#808080" stroke="#808080">2-</text>
<text x="1425.44" y="551.27" font-size="15.19" text-anchor="start" fill="#808080" stroke="#808080">8</text>
<text x="1543.3" y="544.9" font-size="24.5" text-anchor="start" fill="#808080" stroke="#808080">S</text>
<text x="1559.94" y="536.08" font-size="15.19" text-anchor="start" fill="#808080" stroke="#808080">2-</text>
<text x="1559.94" y="551.27" font-size="15.19" text-anchor="start" fill="#808080" stroke="#808080">8</text>
<text x="1706" y="544.9" font-size="24.5" text-anchor="start" fill="#808080" stroke="#808080">S</text>
<text x="1722.64" y="536.08" font-size="15.19" text-anchor="start" fill="#808080" stroke="#808080">2-</text>
<text x="1722.64" y="551.27" font-size="15.19" text-anchor="start" fill="#808080" stroke="#808080">6</text>
<text x="1832.3" y="544.9" font-size="24.5" text-anchor="start" fill="#808080" stroke="#808080">S</text>
<text x="1848.94" y="536.08" font-size="15.19" text-anchor="start" fill="#808080" stroke="#808080">2-</text>
<text x="1848.94" y="551.27" font-size="15.19" text-anchor="start" fill="#808080" stroke="#808080">8</text>
<text x="1651.6" y="622.9" font-size="24.5" text-anchor="start" fill="#808080" stroke="#808080">S</text>
<text x="1668.24" y="614.08" font-size="15.19" text-anchor="start" fill="#808080" stroke="#808080">2-</text>
<text x="1668.24" y="629.27" font-size="15.19" text-anchor="start" fill="#808080" stroke="#808080">5</text>
<text x="1680.25" y="622.9" font-size="24.5" text-anchor="start" fill="#808080" stroke="#808080">+</text>
<text x="1693.95" y="622.9" font-size="24.5" text-anchor="start" fill="#808080" stroke="#808080">S</text>
<text x="1710.59" y="614.08" font-size="15.19" text-anchor="start" fill="#808080" stroke="#808080">2-</text>
<text x="1710.59" y="629.27" font-size="15.19" text-anchor="start" fill="#808080" stroke="#808080">4</text>
<line x1="1730.2" y1="618.4" x2="1762.9" y2="618.4" stroke="#c9c9c9" stroke-width="1.6" stroke-dasharray="7.5 5"/>
<path d="M1776.9 618.4L1763.9 614.8L1763.9 622Z" fill="#c9c9c9"/>
<text x="1831.4" y="617.7" font-size="26.3" text-anchor="start" fill="#000" stroke="#000">2.32 V</text>
<text x="1831.4" y="768.3" font-size="26.3" text-anchor="start" fill="#000" stroke="#000">2.19 V</text>
<text x="1831.4" y="856.5" font-size="26.3" text-anchor="start" fill="#000" stroke="#000">2.12 V</text>
<text x="1831.4" y="895.6" font-size="26.3" text-anchor="start" fill="#000" stroke="#000">1.95 V</text>
<text x="1831.4" y="929.2" font-size="26.3" text-anchor="start" fill="#000" stroke="#000">1.76 V</text>
<text x="1370.9" y="731.9" font-size="26.3" text-anchor="middle" fill="#000" transform="rotate(-90 1370.9 731.9)" stroke="#000">Intensity (arb. units)</text>
<line x1="1929.9" y1="514.9" x2="1929.9" y2="941" stroke="#000" stroke-width="2.6"/>
<path d="M1929.9 955L1923.7 933.5L1936.1 933.5Z" fill="#000"/>
<text x="1956.9" y="716.3" font-size="26.3" text-anchor="middle" fill="#000" transform="rotate(-90 1956.9 716.3)" stroke="#000">Discharge</text>
<line x1="1455" y1="1032.5" x2="1455" y2="1463.5" stroke="#808080" stroke-width="1.9" stroke-dasharray="8.6 4.8"/>
<line x1="1530.1" y1="1032.5" x2="1530.1" y2="1463.5" stroke="#808080" stroke-width="1.9" stroke-dasharray="8.6 4.8"/>
<line x1="1735.4" y1="1032.5" x2="1735.4" y2="1463.5" stroke="#808080" stroke-width="1.9" stroke-dasharray="8.6 4.8"/>
<line x1="1777.6" y1="1032.5" x2="1777.6" y2="1463.5" stroke="#808080" stroke-width="1.9" stroke-dasharray="8.6 4.8"/>
<line x1="1819.1" y1="1032.5" x2="1819.1" y2="1463.5" stroke="#808080" stroke-width="1.9" stroke-dasharray="8.6 4.8"/>
<path d="M1396.2 1112.8L1397.9 1119.9L1399.6 1130.5L1401.3 1135.6L1403 1132.5L1404.7 1127.5L1406.4 1124.2L1408.1 1122.5L1409.9 1124.6L1411.6 1129.5L1413.3 1131L1416.7 1123.2L1418.4 1125.6L1420.1 1131.3L1421.8 1131.1L1423.5 1125.1L1425.2 1122.6L1426.9 1125.9L1428.6 1127.1L1430.3 1123.4L1433.7 1112.1L1435.5 1108.6L1437.2 1110.1L1442.3 1122.9L1444 1125.9L1445.7 1126.7L1447.4 1126.1L1449.1 1123.7L1450.8 1117.8L1454.2 1100.4L1455.9 1101.6L1461.1 1115.6L1462.8 1117.5L1466.2 1123.7L1467.9 1121.7L1469.6 1117.1L1471.3 1115.5L1473 1115.6L1474.7 1111.5L1476.4 1104.6L1478.1 1101.8L1479.8 1105.3L1481.5 1106.8L1483.2 1105.3L1484.9 1104.8L1488.4 1108.8L1490.1 1110L1491.8 1112.2L1493.5 1116.1L1495.2 1118.7L1496.9 1119.9L1498.6 1119.7L1502 1115.7L1503.7 1112.5L1505.4 1111.2L1507.1 1114.6L1508.8 1116.9L1510.5 1117.5L1512.3 1119.9L1514 1119.9L1517.4 1111.6L1522.5 1103.1L1524.2 1103.7L1527.6 1114.3L1529.3 1117.5L1532.7 1118.5L1534.4 1117L1536.1 1112.5L1537.8 1111.9L1539.6 1118.3L1541.3 1122.9L1544.7 1119.2L1548.1 1120.5L1549.8 1118.6L1551.5 1114.6L1553.2 1112.3L1554.9 1113.1L1556.6 1112.4L1558.3 1110.3L1561.7 1110.6L1565.2 1105.7L1566.9 1108.9L1570.3 1123.3L1572 1122.1L1577.1 1108.5L1578.8 1102.2L1580.5 1101L1582.2 1107.1L1585.6 1130.1L1587.3 1132.5L1590.8 1115L1592.5 1108.4L1594.2 1103.9L1595.9 1100.9L1597.6 1100.5L1601 1109.1L1602.7 1109L1604.4 1107.1L1606.1 1110.4L1609.5 1125.3L1611.2 1126.1L1614.6 1119.7L1616.4 1122.2L1618.1 1126.5L1619.8 1127.9L1623.2 1129.7L1624.9 1125.5L1626.6 1119L1628.3 1118.2L1631.7 1127.8L1633.4 1129.7L1635.1 1127L1636.8 1121L1638.5 1118.2L1642 1125.1L1643.7 1123.1L1645.4 1118.1L1647.1 1115.5L1650.5 1112.8L1652.2 1114L1655.6 1125.4L1657.3 1127.6L1659 1124.3L1660.7 1118.2L1662.4 1116.1L1664.1 1120.9L1665.8 1127.7L1667.6 1129.8L1672.7 1122.6L1674.4 1118.3L1677.8 1101L1679.5 1097.9L1681.2 1101.1L1684.6 1111.4L1688 1116.5L1691.4 1122.9L1693.2 1121.3L1694.9 1117.6L1696.6 1116.9L1700 1124L1701.7 1124.4L1703.4 1120.6L1705.1 1115.3L1706.8 1113.7L1708.5 1116.7L1711.9 1127.6L1713.6 1125.5L1715.3 1117.6L1717 1113.6L1723.9 1129.5L1725.6 1128.9L1727.3 1121.7L1734.1 1072.3L1735.8 1068.2L1737.5 1073.8L1740.9 1107.5L1742.6 1116.4L1744.4 1120.5L1747.8 1134.2L1749.5 1137.8L1751.2 1137L1752.9 1130.6L1756.3 1111L1758 1111.7L1761.4 1129.1L1763.1 1128.8L1764.8 1124.7L1766.5 1123.5L1770 1130.6L1771.7 1132.6L1773.4 1132.7L1775.1 1128.1L1776.8 1119.9L1778.5 1114.9L1780.2 1117.4L1781.9 1122.2L1783.6 1121.2L1785.3 1117.5L1787 1117.1L1788.7 1118.7L1790.4 1119.2L1792.1 1117.7L1793.8 1118.7L1795.6 1122.4L1797.3 1123.8L1799 1121L1804.1 1102.3L1805.8 1098.7L1807.5 1099.8L1810.9 1113.2L1812.6 1118.1L1814.3 1118.3L1817.7 1108.5L1819.4 1105.8L1821.1 1106.6L1822.9 1109.4L1824.6 1111.2L1826.3 1108L1828 1102.9L1829.7 1104.2L1831.4 1111.5L1833.1 1116.6L1834.8 1115.8L1838.2 1102.6L1839.9 1097.7L1841.6 1096.2L1843.3 1099.7L1845 1106.9L1846.7 1111L1848.5 1109.8L1850.2 1107.5L1851.9 1106.2L1855.3 1101.8L1857 1104.2L1860.4 1120.6L1862.1 1121.7L1863.8 1117.3L1865.5 1116.6L1868.9 1124.5L1870.6 1125.9L1872.3 1124.9L1874.1 1120.9L1880.9 1098.3L1882.6 1095L1884.3 1093.3L1886 1092.4L1887.7 1090.3L1889.4 1089L1891.1 1091.3L1896.2 1105.9L1899.7 1119.3L1901.4 1121.5L1903.1 1118.6L1904.8 1118.3L1906.5 1118.8L1908.2 1116.5" fill="none" stroke="#f1666d" stroke-width="1.9" stroke-linejoin="round"/>
<path d="M1396.2 1221.3L1397.9 1222.6L1399.6 1222.8L1401.3 1221.8L1403 1222.9L1406.4 1229.3L1408.1 1229.2L1411.6 1219.8L1413.3 1217L1415 1216.5L1416.7 1217.5L1420.1 1222.7L1421.8 1221.5L1423.5 1218.4L1425.2 1218.6L1426.9 1222.1L1428.6 1222.3L1432 1212.6L1433.7 1210.5L1435.5 1211.6L1437.2 1214.6L1438.9 1216.4L1442.3 1212.6L1445.7 1213.2L1449.1 1207.2L1450.8 1205.8L1452.5 1207.7L1455.9 1221L1457.6 1222.8L1461.1 1214.2L1462.8 1212.5L1466.2 1210.7L1467.9 1211.1L1471.3 1214.6L1474.7 1215.3L1478.1 1221.1L1479.8 1222.3L1481.5 1221.2L1483.2 1219.5L1484.9 1219.1L1486.7 1221.1L1488.4 1224.3L1490.1 1225.7L1491.8 1224.5L1493.5 1222.3L1496.9 1216.3L1498.6 1216.5L1500.3 1217.7L1502 1217.6L1503.7 1216.9L1505.4 1214.5L1508.8 1205.2L1510.5 1205.5L1512.3 1210.2L1514 1212.5L1517.4 1208.4L1519.1 1207.6L1520.8 1208L1524.2 1213.5L1525.9 1214L1527.6 1212.8L1529.3 1210.7L1532.7 1201.5L1534.4 1199.7L1536.1 1201.3L1539.6 1211.6L1541.3 1212.6L1543 1210L1544.7 1210.1L1546.4 1213.4L1548.1 1215.8L1549.8 1215.2L1554.9 1208.4L1558.3 1208.2L1560 1207.2L1563.4 1203.9L1565.2 1204.6L1566.9 1207.6L1570.3 1217.6L1572 1221.2L1573.7 1220.9L1575.4 1221.6L1578.8 1230.3L1580.5 1231L1582.2 1227.9L1583.9 1225.6L1585.6 1224.4L1587.3 1221.3L1589 1219.4L1590.8 1220L1594.2 1219L1597.6 1220.9L1599.3 1219.9L1601 1216.7L1602.7 1215.4L1606.1 1222.9L1607.8 1220.9L1609.5 1214.4L1611.2 1211.8L1614.6 1217.5L1616.4 1217.7L1618.1 1218.7L1621.5 1224.5L1623.2 1225.1L1624.9 1222.6L1626.6 1218.6L1628.3 1215.9L1630 1217L1631.7 1220.9L1633.4 1222.7L1635.1 1219.6L1636.8 1214.6L1638.5 1214.3L1640.2 1218.4L1642 1220.6L1645.4 1217.5L1647.1 1216.7L1650.5 1213.3L1652.2 1212.7L1653.9 1213L1657.3 1215L1659 1215.1L1660.7 1214.7L1662.4 1215.4L1665.8 1217.8L1667.6 1218L1671 1216.4L1672.7 1218.3L1674.4 1221.4L1676.1 1222.3L1681.2 1220.2L1682.9 1221.2L1684.6 1224.6L1686.3 1227L1688 1224.3L1689.7 1217.9L1691.4 1214.8L1693.2 1217.5L1694.9 1219.3L1698.3 1212.5L1700 1212.2L1703.4 1214.4L1706.8 1219.7L1708.5 1220.2L1710.2 1218.9L1713.6 1214.9L1715.3 1214L1718.8 1214.4L1720.5 1215.7L1723.9 1222.6L1725.6 1221.7L1729 1214.8L1730.7 1212.2L1732.4 1212.3L1734.1 1213.5L1735.8 1212L1739.2 1203.8L1740.9 1201.9L1742.6 1205.5L1746.1 1220.8L1747.8 1224.2L1749.5 1223.5L1754.6 1214.7L1756.3 1214.7L1758 1218.6L1759.7 1219.9L1761.4 1218.1L1763.1 1218.3L1764.8 1220L1766.5 1219.8L1768.2 1218.2L1770 1218.2L1771.7 1219.8L1773.4 1220.3L1775.1 1219.6L1776.8 1220.1L1780.2 1226.3L1781.9 1225.1L1783.6 1221.7L1785.3 1220.3L1787 1220.1L1788.7 1218.8L1790.4 1216.4L1792.1 1214.9L1793.8 1214.9L1795.6 1215.5L1797.3 1216.9L1800.7 1222.1L1802.4 1220.9L1804.1 1218.8L1805.8 1219.1L1809.2 1223.2L1810.9 1224.5L1814.3 1223L1816 1223.1L1817.7 1221.5L1819.4 1217.7L1821.1 1216L1824.6 1218.9L1826.3 1218.8L1828 1221.5L1831.4 1231L1833.1 1231.6L1834.8 1227.3L1836.5 1220.8L1838.2 1219.1L1839.9 1221.3L1841.6 1221.2L1846.7 1213.5L1848.5 1213.6L1850.2 1215.3L1851.9 1215.3L1853.6 1213.1L1855.3 1213.5L1858.7 1220.7L1860.4 1220.9L1862.1 1219.4L1865.5 1212.8L1867.2 1211.9L1870.6 1213.4L1874.1 1211.6L1877.5 1214.7L1879.2 1213.8L1880.9 1210.7L1882.6 1209.1L1884.3 1209.9L1886 1209.8L1887.7 1208.1L1889.4 1207.7L1891.1 1208.6L1892.8 1210.8L1896.2 1218L1899.7 1221.2L1901.4 1221.4L1906.5 1215.6L1908.2 1214.4" fill="none" stroke="#12aba2" stroke-width="1.9" stroke-linejoin="round"/>
<path d="M1396.2 1305.7L1397.9 1306L1401.3 1305.3L1403 1302.9L1404.7 1298.8L1406.4 1295.8L1408.1 1296.1L1415 1302.2L1416.7 1302.2L1420.1 1299.2L1421.8 1299.7L1423.5 1300.6L1425.2 1300.2L1428.6 1296.8L1430.3 1297.5L1433.7 1301.6L1438.9 1304L1442.3 1304L1444 1305.1L1445.7 1307.1L1447.4 1307.2L1450.8 1303.1L1452.5 1303.6L1454.2 1305.1L1455.9 1304.3L1459.3 1298.2L1461.1 1297.5L1464.5 1297L1466.2 1298.2L1467.9 1300.6L1471.3 1303.5L1473 1306.1L1474.7 1307.4L1478.1 1305.3L1479.8 1305.3L1483.2 1304.4L1486.7 1306.1L1488.4 1304.7L1490.1 1300.9L1491.8 1299.1L1495.2 1301.7L1496.9 1300.9L1498.6 1301.1L1502 1306.9L1503.7 1304.1L1507.1 1292.2L1508.8 1291.1L1512.3 1291.9L1514 1294.1L1519.1 1306L1520.8 1307.7L1522.5 1308.4L1524.2 1308.3L1529.3 1300.7L1532.7 1299.5L1536.1 1297L1537.8 1297.3L1541.3 1299.4L1544.7 1303.2L1546.4 1303.7L1549.8 1301.9L1553.2 1298.3L1554.9 1298.1L1560 1299.9L1561.7 1299.9L1563.4 1299L1566.9 1296.2L1568.6 1296.8L1572 1304.2L1573.7 1305.7L1575.4 1305.2L1578.8 1305.4L1583.9 1304.4L1585.6 1304.8L1590.8 1307.8L1592.5 1307.7L1594.2 1306.3L1597.6 1301L1599.3 1300.3L1602.7 1304.5L1606.1 1305.4L1609.5 1303.1L1612.9 1303.3L1614.6 1302.2L1618.1 1297.3L1619.8 1296.3L1621.5 1297.9L1624.9 1304.8L1626.6 1303.9L1628.3 1301.6L1630 1300.8L1633.4 1301.1L1636.8 1302.5L1638.5 1301.6L1640.2 1301.5L1643.7 1304.1L1647.1 1303.7L1648.8 1304.7L1650.5 1304.9L1652.2 1303.9L1653.9 1302.2L1657.3 1295.9L1659 1294.4L1660.7 1295.8L1662.4 1299.2L1664.1 1300.7L1667.6 1295.8L1669.3 1296.8L1671 1300.3L1672.7 1302.4L1677.8 1301.1L1679.5 1300L1684.6 1295L1686.3 1296.4L1688 1299.1L1691.4 1302.1L1694.9 1307.8L1696.6 1309.7L1698.3 1309.4L1700 1306.1L1703.4 1297.1L1705.1 1295.6L1708.5 1295.6L1710.2 1298.1L1711.9 1303.5L1713.6 1306.9L1715.3 1306.3L1717 1304.5L1718.8 1303.9L1720.5 1303.7L1722.2 1302.5L1725.6 1299.1L1727.3 1298.5L1729 1298.8L1732.4 1300.3L1734.1 1299.8L1739.2 1293.5L1740.9 1294.1L1742.6 1296.2L1744.4 1297.6L1747.8 1297L1751.2 1300.4L1752.9 1300.8L1754.6 1299.5L1756.3 1299.1L1758 1299.9L1761.4 1299.4L1764.8 1301.5L1766.5 1300.9L1768.2 1301.6L1770 1303.9L1771.7 1304.6L1776.8 1302.4L1783.6 1296.9L1785.3 1296.5L1787 1298.4L1788.7 1301.9L1790.4 1304.3L1792.1 1303.9L1795.6 1299.2L1797.3 1297.6L1800.7 1293.3L1802.4 1293.9L1805.8 1302.6L1807.5 1304.5L1812.6 1302.9L1817.7 1302.8L1819.4 1303.6L1821.1 1305.8L1822.9 1306.9L1828 1307.1L1829.7 1306.2L1831.4 1305.9L1834.8 1307.3L1839.9 1305.3L1843.3 1305.1L1846.7 1305.9L1848.5 1304.7L1851.9 1300L1853.6 1299.5L1855.3 1301L1857 1304.3L1858.7 1306.3L1860.4 1305.5L1862.1 1303.2L1863.8 1301.8L1865.5 1301.1L1867.2 1301.2L1870.6 1304.1L1872.3 1303.7L1877.5 1299.8L1886 1304L1887.7 1303.8L1891.1 1301.3L1892.8 1303.1L1894.5 1306L1896.2 1307.5L1897.9 1307.8L1899.7 1307.3L1904.8 1301L1906.5 1300.5L1908.2 1301.2" fill="none" stroke="#9a2d96" stroke-width="1.9" stroke-linejoin="round"/>
<path d="M1396.2 1365.6L1397.9 1365L1399.6 1368.2L1401.3 1372.9L1403 1375.7L1408.1 1377.7L1411.6 1381L1413.3 1380.8L1415 1379.7L1416.7 1379.8L1418.4 1379.1L1421.8 1373.9L1423.5 1374.4L1426.9 1380.8L1428.6 1382.4L1430.3 1382L1433.7 1377.9L1438.9 1379.5L1442.3 1386.9L1444 1387.7L1445.7 1385.7L1447.4 1384.9L1449.1 1385.5L1450.8 1385.4L1454.2 1382.3L1455.9 1382.2L1459.3 1387.5L1461.1 1387.9L1462.8 1385.6L1464.5 1384.2L1467.9 1385.6L1469.6 1385.9L1471.3 1384.4L1474.7 1376.9L1476.4 1377.4L1478.1 1379.4L1479.8 1379.4L1481.5 1378.3L1483.2 1378.2L1484.9 1379.9L1488.4 1385.8L1490.1 1384.5L1491.8 1380.7L1493.5 1378.2L1495.2 1378.6L1498.6 1383.5L1503.7 1381.7L1507.1 1374.1L1508.8 1374L1510.5 1375.2L1512.3 1375.7L1514 1377L1515.7 1379.8L1517.4 1381.4L1519.1 1377.7L1520.8 1371L1522.5 1367.5L1524.2 1369.2L1527.6 1377.3L1529.3 1377.7L1532.7 1374.7L1534.4 1374.2L1536.1 1375L1539.6 1380L1541.3 1380.5L1543 1380.4L1544.7 1381.9L1546.4 1384.9L1548.1 1386.5L1551.5 1384.5L1553.2 1384.9L1556.6 1386.7L1558.3 1385.6L1561.7 1377.2L1563.4 1375.5L1565.2 1376.5L1566.9 1378.4L1568.6 1378.7L1570.3 1378.1L1575.4 1380.4L1577.1 1380.6L1578.8 1379.9L1582.2 1373.6L1583.9 1374.3L1585.6 1378.4L1587.3 1381.2L1589 1379.7L1590.8 1376.8L1592.5 1376.3L1595.9 1380.5L1597.6 1380.7L1601 1375.2L1602.7 1376.4L1606.1 1385.6L1607.8 1384.4L1609.5 1381.2L1611.2 1381L1612.9 1383.3L1614.6 1383.6L1616.4 1382.2L1618.1 1382.5L1619.8 1385.3L1621.5 1386.3L1623.2 1382.3L1624.9 1376.5L1626.6 1374.4L1630 1378.4L1631.7 1379L1633.4 1377.6L1636.8 1373.3L1638.5 1373.1L1643.7 1374.1L1645.4 1375.8L1647.1 1376.6L1650.5 1375.3L1652.2 1375.8L1655.6 1380.3L1657.3 1381.4L1660.7 1382L1664.1 1381.4L1667.6 1381.7L1669.3 1382.1L1672.7 1384.1L1674.4 1383.6L1676.1 1381.6L1681.2 1373.2L1682.9 1372.2L1684.6 1372.9L1686.3 1375.4L1689.7 1381L1693.2 1387.6L1694.9 1388.1L1698.3 1385.5L1701.7 1385.5L1705.1 1380.6L1708.5 1379L1710.2 1379.3L1713.6 1385.9L1715.3 1386.2L1718.8 1381.4L1720.5 1381.9L1722.2 1383.7L1723.9 1384.6L1727.3 1385.2L1732.4 1382.9L1735.8 1382.4L1739.2 1380.4L1744.4 1381.5L1747.8 1386.4L1749.5 1386.8L1752.9 1383.2L1754.6 1382.5L1756.3 1382.8L1758 1382.4L1759.7 1383L1761.4 1385.9L1763.1 1387.4L1764.8 1384.4L1766.5 1379.8L1768.2 1378L1770 1380.5L1771.7 1385.4L1773.4 1388.4L1775.1 1387.7L1776.8 1386.3L1778.5 1386.4L1780.2 1387.2L1781.9 1387.1L1783.6 1386.1L1787 1386.3L1790.4 1383.3L1792.1 1384.9L1793.8 1388.6L1795.6 1390L1797.3 1387.3L1799 1382.8L1800.7 1380.3L1804.1 1385L1805.8 1384.3L1807.5 1382.4L1809.2 1382.3L1812.6 1385.7L1814.3 1385.9L1817.7 1377.9L1819.4 1376.8L1822.9 1379.6L1824.6 1382.6L1826.3 1388.2L1828 1392.1L1829.7 1391.7L1833.1 1386.6L1834.8 1385.7L1838.2 1385.3L1839.9 1383.7L1841.6 1381.1L1843.3 1380.1L1846.7 1382.6L1848.5 1383.1L1850.2 1382.2L1851.9 1382.1L1853.6 1383.7L1855.3 1383.9L1857 1383L1858.7 1383.9L1860.4 1386.1L1862.1 1387.2L1863.8 1387.1L1865.5 1385.8L1872.3 1378.5L1874.1 1378.6L1877.5 1381.5L1879.2 1382.5L1880.9 1382.5L1886 1381.1L1887.7 1381L1891.1 1380.2L1892.8 1380.5L1894.5 1380.2L1896.2 1378.5L1897.9 1377.8L1899.7 1380.2L1901.4 1384.1L1903.1 1385.9L1904.8 1385.2L1908.2 1382.4" fill="none" stroke="#5c86b8" stroke-width="1.9" stroke-linejoin="round"/>
<path d="M1396.2 1438.5L1397.9 1439.4L1401.3 1446L1403 1447.5L1404.7 1447.9L1408.1 1446L1411.6 1451.2L1413.3 1450.4L1415 1448.5L1416.7 1448L1418.4 1448.5L1420.1 1448.3L1421.8 1446.2L1423.5 1442.5L1425.2 1440.8L1426.9 1443.2L1428.6 1446.8L1430.3 1448.9L1432 1450.1L1433.7 1450.7L1437.2 1447.8L1438.9 1448.4L1440.6 1448.1L1442.3 1445.8L1444 1445L1447.4 1447.9L1449.1 1448.7L1450.8 1448.4L1452.5 1445.9L1454.2 1445.2L1457.6 1450.2L1459.3 1447.7L1461.1 1443.1L1462.8 1441.7L1467.9 1446.8L1473 1447.3L1474.7 1446.4L1476.4 1443.8L1478.1 1442.1L1479.8 1444L1481.5 1448.5L1483.2 1451.2L1484.9 1450L1486.7 1447.8L1490.1 1446.1L1491.8 1446.2L1496.9 1450.7L1498.6 1450.8L1500.3 1449.1L1502 1446.1L1503.7 1444.5L1505.4 1445.4L1507.1 1447.7L1508.8 1448.9L1512.3 1445.9L1514 1445.9L1515.7 1446.6L1517.4 1446.5L1520.8 1443.2L1524.2 1443.8L1525.9 1441.6L1527.6 1440.8L1531 1444.9L1532.7 1445.4L1534.4 1446.5L1537.8 1451.1L1539.6 1452.6L1541.3 1453.1L1543 1452.8L1544.7 1453.2L1548.1 1455.9L1549.8 1455.6L1551.5 1454.3L1553.2 1452.3L1556.6 1444.7L1558.3 1442.2L1560 1441.6L1561.7 1443.1L1565.2 1448.4L1566.9 1449.5L1568.6 1448.3L1570.3 1446.1L1572 1444.9L1573.7 1445.6L1577.1 1450L1580.5 1456.5L1582.2 1457.9L1583.9 1454.9L1585.6 1449.4L1587.3 1446.3L1589 1446.9L1590.8 1446.8L1594.2 1440.6L1595.9 1442.1L1599.3 1450.1L1601 1449.3L1604.4 1442.3L1606.1 1441.5L1607.8 1443.1L1609.5 1446.5L1611.2 1451.2L1612.9 1454.2L1614.6 1453.7L1618.1 1447.7L1619.8 1446L1623.2 1447L1624.9 1445.4L1630 1438.4L1631.7 1437.6L1633.4 1439.8L1636.8 1446.8L1638.5 1448.8L1640.2 1449.6L1643.7 1449.1L1647.1 1447.9L1650.5 1447.3L1652.2 1448.4L1655.6 1454.4L1657.3 1454.7L1660.7 1448.4L1662.4 1446.4L1664.1 1447L1665.8 1448.5L1667.6 1449.3L1669.3 1450.1L1671 1450.2L1676.1 1447.7L1677.8 1447.5L1681.2 1448L1682.9 1448.5L1686.3 1452.3L1688 1451L1689.7 1447.1L1691.4 1444.7L1693.2 1445.7L1694.9 1447.5L1698.3 1448.8L1700 1448.6L1703.4 1444.7L1705.1 1446.2L1706.8 1448.7L1708.5 1449.6L1711.9 1449.2L1713.6 1449.9L1717 1454L1718.8 1453.9L1720.5 1451.3L1722.2 1450.1L1725.6 1454.4L1727.3 1454.6L1730.7 1450.2L1732.4 1450.1L1734.1 1451.2L1735.8 1451L1739.2 1446.2L1740.9 1444.7L1742.6 1444.5L1744.4 1444.9L1746.1 1446.9L1747.8 1450.1L1749.5 1451.1L1751.2 1448.4L1752.9 1444.6L1754.6 1442.6L1756.3 1442.5L1761.4 1445.9L1764.8 1444.8L1766.5 1447.2L1768.2 1451.8L1770 1454.6L1773.4 1453L1775.1 1453.6L1776.8 1453.5L1781.9 1449.3L1783.6 1449L1787 1453.2L1788.7 1453.4L1792.1 1450.1L1793.8 1450.4L1795.6 1450L1799 1443.7L1800.7 1442.9L1802.4 1444L1805.8 1447.3L1807.5 1447.1L1809.2 1446.4L1810.9 1447L1816 1451L1817.7 1451.2L1819.4 1450.4L1821.1 1448.9L1822.9 1448.3L1824.6 1449.4L1828 1452.8L1829.7 1452.4L1833.1 1446.9L1836.5 1443.7L1838.2 1441.5L1839.9 1441.1L1843.3 1445.5L1845 1446.5L1846.7 1446.3L1851.9 1443.9L1853.6 1445.1L1855.3 1448.3L1857 1449.7L1860.4 1446.9L1862.1 1447.2L1863.8 1449.1L1865.5 1449.6L1867.2 1448.6L1868.9 1446.7L1872.3 1440.7L1874.1 1441.5L1875.8 1444.8L1877.5 1446.3L1880.9 1444.1L1882.6 1444L1886 1445.5L1889.4 1444.6L1891.1 1444.8L1894.5 1446.6L1897.9 1446L1901.4 1444.5L1903.1 1445.9L1906.5 1452.2L1908.2 1452" fill="none" stroke="#23876a" stroke-width="1.9" stroke-linejoin="round"/>
<text x="1396.2" y="1494.6" font-size="25.3" text-anchor="middle" fill="#000" stroke="#000">100</text>
<line x1="1453.09" y1="1464.5" x2="1453.09" y2="1460.7" stroke="#000" stroke-width="1.6"/>
<line x1="1509.97" y1="1464.5" x2="1509.97" y2="1458" stroke="#000" stroke-width="1.6"/>
<text x="1509.97" y="1494.6" font-size="25.3" text-anchor="middle" fill="#000" stroke="#000">200</text>
<line x1="1566.86" y1="1464.5" x2="1566.86" y2="1460.7" stroke="#000" stroke-width="1.6"/>
<line x1="1623.75" y1="1464.5" x2="1623.75" y2="1458" stroke="#000" stroke-width="1.6"/>
<text x="1623.75" y="1494.6" font-size="25.3" text-anchor="middle" fill="#000" stroke="#000">300</text>
<line x1="1680.64" y1="1464.5" x2="1680.64" y2="1460.7" stroke="#000" stroke-width="1.6"/>
<line x1="1737.53" y1="1464.5" x2="1737.53" y2="1458" stroke="#000" stroke-width="1.6"/>
<text x="1737.53" y="1494.6" font-size="25.3" text-anchor="middle" fill="#000" stroke="#000">400</text>
<line x1="1794.41" y1="1464.5" x2="1794.41" y2="1460.7" stroke="#000" stroke-width="1.6"/>
<line x1="1851.3" y1="1464.5" x2="1851.3" y2="1458" stroke="#000" stroke-width="1.6"/>
<text x="1851.3" y="1494.6" font-size="25.3" text-anchor="middle" fill="#000" stroke="#000">500</text>
<line x1="1908.19" y1="1464.5" x2="1908.19" y2="1460.7" stroke="#000" stroke-width="1.6"/>
<rect x="1396.2" y="1031.5" width="512.2" height="433" fill="none" stroke="#000" stroke-width="1.7"/>
<text x="1652.3" y="1525.1" font-size="26.3" text-anchor="middle" fill="#000" stroke="#000">Raman shift (cm<tspan dy="-11.05" font-size="16.31">-1</tspan><tspan dy="11.05">)</tspan></text>
<text x="1406.5" y="1061.9" font-size="24.5" text-anchor="start" fill="#808080" stroke="#808080">S</text>
<text x="1423.14" y="1053.08" font-size="15.19" text-anchor="start" fill="#808080" stroke="#808080">2-</text>
<text x="1423.14" y="1068.27" font-size="15.19" text-anchor="start" fill="#808080" stroke="#808080">8</text>
<text x="1541.5" y="1061.9" font-size="24.5" text-anchor="start" fill="#808080" stroke="#808080">S</text>
<text x="1558.14" y="1053.08" font-size="15.19" text-anchor="start" fill="#808080" stroke="#808080">2-</text>
<text x="1558.14" y="1068.27" font-size="15.19" text-anchor="start" fill="#808080" stroke="#808080">8</text>
<text x="1703.5" y="1061.9" font-size="24.5" text-anchor="start" fill="#808080" stroke="#808080">S</text>
<text x="1720.14" y="1053.08" font-size="15.19" text-anchor="start" fill="#808080" stroke="#808080">2-</text>
<text x="1720.14" y="1068.27" font-size="15.19" text-anchor="start" fill="#808080" stroke="#808080">6</text>
<text x="1829.9" y="1061.9" font-size="24.5" text-anchor="start" fill="#808080" stroke="#808080">S</text>
<text x="1846.54" y="1053.08" font-size="15.19" text-anchor="start" fill="#808080" stroke="#808080">2-</text>
<text x="1846.54" y="1068.27" font-size="15.19" text-anchor="start" fill="#808080" stroke="#808080">8</text>
<text x="1648.8" y="1167.5" font-size="24.5" text-anchor="start" fill="#808080" stroke="#808080">S</text>
<text x="1665.44" y="1158.68" font-size="15.19" text-anchor="start" fill="#808080" stroke="#808080">2-</text>
<text x="1665.44" y="1173.87" font-size="15.19" text-anchor="start" fill="#808080" stroke="#808080">5</text>
<text x="1677.45" y="1167.5" font-size="24.5" text-anchor="start" fill="#808080" stroke="#808080">+</text>
<text x="1691.15" y="1167.5" font-size="24.5" text-anchor="start" fill="#808080" stroke="#808080">S</text>
<text x="1707.79" y="1158.68" font-size="15.19" text-anchor="start" fill="#808080" stroke="#808080">2-</text>
<text x="1707.79" y="1173.87" font-size="15.19" text-anchor="start" fill="#808080" stroke="#808080">4</text>
<line x1="1730.2" y1="1158.1" x2="1762.9" y2="1158.1" stroke="#c9c9c9" stroke-width="1.6" stroke-dasharray="7.5 5"/>
<path d="M1776.9 1158.1L1763.9 1154.5L1763.9 1161.7Z" fill="#c9c9c9"/>
<text x="1827.9" y="1156.1" font-size="26.3" text-anchor="start" fill="#000" stroke="#000">2.34 V</text>
<text x="1827.9" y="1194.5" font-size="26.3" text-anchor="start" fill="#000" stroke="#000">2.24 V</text>
<text x="1827.9" y="1288.6" font-size="26.3" text-anchor="start" fill="#000" stroke="#000">2.12 V</text>
<text x="1827.9" y="1370" font-size="26.3" text-anchor="start" fill="#000" stroke="#000">1.95 V</text>
<text x="1827.9" y="1435.8" font-size="26.3" text-anchor="start" fill="#000" stroke="#000">1.76 V</text>
<text x="1367.4" y="1248.8" font-size="26.3" text-anchor="middle" fill="#000" transform="rotate(-90 1367.4 1248.8)" stroke="#000">Intensity (arb. units)</text>
<line x1="1928.5" y1="1031.5" x2="1928.5" y2="1458.6" stroke="#000" stroke-width="2.6"/>
<path d="M1928.5 1472.6L1922.3 1451.1L1934.7 1451.1Z" fill="#000"/>
<text x="1951.7" y="1236.7" font-size="26.3" text-anchor="middle" fill="#000" transform="rotate(-90 1951.7 1236.7)" stroke="#000">Discharge</text></g>
<g id="panel-h"><text x="155.2" y="1580.1" font-size="25.3" text-anchor="start" fill="#000" stroke="#000">GSCC</text>
<text x="155.2" y="1611.9" font-size="25.3" text-anchor="start" fill="#000" stroke="#000">PVDF</text>
<rect x="98.9" y="1935.9" width="34.3" height="38.9" fill="#4c7db3"/>
<rect x="133.2" y="1741.4" width="34.3" height="233.4" fill="#f1666d"/>
<rect x="184" y="1914" width="34.3" height="60.8" fill="#4c7db3"/>
<rect x="218.3" y="1735.9" width="34.3" height="238.9" fill="#f1666d"/>
<rect x="269.1" y="1944.5" width="34.3" height="30.3" fill="#4c7db3"/>
<rect x="303.4" y="1777.5" width="34.3" height="197.3" fill="#f1666d"/>
<rect x="354.2" y="1939.3" width="34.3" height="35.5" fill="#4c7db3"/>
<rect x="388.5" y="1807.6" width="34.3" height="167.2" fill="#f1666d"/>
<rect x="439.3" y="1923.7" width="34.3" height="51.1" fill="#4c7db3"/>
<rect x="473.6" y="1776.4" width="34.3" height="198.4" fill="#f1666d"/>
<rect x="524.4" y="1915.8" width="34.3" height="59" fill="#4c7db3"/>
<rect x="558.7" y="1732" width="34.3" height="242.8" fill="#f1666d"/>
<rect x="98.9" y="1561.5" width="47.9" height="22.9" fill="#f1666d"/>
<rect x="98.9" y="1593" width="47.9" height="22.9" fill="#4c7db3"/>
<path d="M-340.2 1974.8l425.4 -425.4M-328.4 1974.8l425.4 -425.4M-316.6 1974.8l425.4 -425.4M-304.8 1974.8l425.4 -425.4M-293 1974.8l425.4 -425.4M-281.2 1974.8l425.4 -425.4M-269.4 1974.8l425.4 -425.4M-257.6 1974.8l425.4 -425.4M-245.8 1974.8l425.4 -425.4M-234 1974.8l425.4 -425.4M-222.2 1974.8l425.4 -425.4M-210.4 1974.8l425.4 -425.4M-198.6 1974.8l425.4 -425.4M-186.8 1974.8l425.4 -425.4M-175 1974.8l425.4 -425.4M-163.2 1974.8l425.4 -425.4M-151.4 1974.8l425.4 -425.4M-139.6 1974.8l425.4 -425.4M-127.8 1974.8l425.4 -425.4M-116 1974.8l425.4 -425.4M-104.2 1974.8l425.4 -425.4M-92.4 1974.8l425.4 -425.4M-80.6 1974.8l425.4 -425.4M-68.8 1974.8l425.4 -425.4M-57 1974.8l425.4 -425.4M-45.2 1974.8l425.4 -425.4M-33.4 1974.8l425.4 -425.4M-21.6 1974.8l425.4 -425.4M-9.8 1974.8l425.4 -425.4M2 1974.8l425.4 -425.4M13.8 1974.8l425.4 -425.4M25.6 1974.8l425.4 -425.4M37.4 1974.8l425.4 -425.4M49.2 1974.8l425.4 -425.4M61 1974.8l425.4 -425.4M72.8 1974.8l425.4 -425.4M84.6 1974.8l425.4 -425.4M96.4 1974.8l425.4 -425.4M108.2 1974.8l425.4 -425.4M120 1974.8l425.4 -425.4M131.8 1974.8l425.4 -425.4M143.6 1974.8l425.4 -425.4M155.4 1974.8l425.4 -425.4M167.2 1974.8l425.4 -425.4M179 1974.8l425.4 -425.4M190.8 1974.8l425.4 -425.4M202.6 1974.8l425.4 -425.4M214.4 1974.8l425.4 -425.4M226.2 1974.8l425.4 -425.4M238 1974.8l425.4 -425.4M249.8 1974.8l425.4 -425.4M261.6 1974.8l425.4 -425.4M273.4 1974.8l425.4 -425.4M285.2 1974.8l425.4 -425.4M297 1974.8l425.4 -425.4M308.8 1974.8l425.4 -425.4M320.6 1974.8l425.4 -425.4M332.4 1974.8l425.4 -425.4M344.2 1974.8l425.4 -425.4M356 1974.8l425.4 -425.4M367.8 1974.8l425.4 -425.4M379.6 1974.8l425.4 -425.4M391.4 1974.8l425.4 -425.4M403.2 1974.8l425.4 -425.4M415 1974.8l425.4 -425.4M426.8 1974.8l425.4 -425.4M438.6 1974.8l425.4 -425.4M450.4 1974.8l425.4 -425.4M462.2 1974.8l425.4 -425.4M474 1974.8l425.4 -425.4M485.8 1974.8l425.4 -425.4M497.6 1974.8l425.4 -425.4M509.4 1974.8l425.4 -425.4M521.2 1974.8l425.4 -425.4M533 1974.8l425.4 -425.4M544.8 1974.8l425.4 -425.4M556.6 1974.8l425.4 -425.4M568.4 1974.8l425.4 -425.4M580.2 1974.8l425.4 -425.4M592 1974.8l425.4 -425.4M603.8 1974.8l425.4 -425.4" stroke="#2e2e2e" stroke-width="0.75" fill="none" clip-path="url(#hc)"/>
<rect x="98.9" y="1935.9" width="34.3" height="38.9" fill="none" stroke="#404040" stroke-width="1.9"/>
<rect x="133.2" y="1741.4" width="34.3" height="233.4" fill="none" stroke="#404040" stroke-width="1.9"/>
<rect x="184" y="1914" width="34.3" height="60.8" fill="none" stroke="#404040" stroke-width="1.9"/>
<rect x="218.3" y="1735.9" width="34.3" height="238.9" fill="none" stroke="#404040" stroke-width="1.9"/>
<rect x="269.1" y="1944.5" width="34.3" height="30.3" fill="none" stroke="#404040" stroke-width="1.9"/>
<rect x="303.4" y="1777.5" width="34.3" height="197.3" fill="none" stroke="#404040" stroke-width="1.9"/>
<rect x="354.2" y="1939.3" width="34.3" height="35.5" fill="none" stroke="#404040" stroke-width="1.9"/>
<rect x="388.5" y="1807.6" width="34.3" height="167.2" fill="none" stroke="#404040" stroke-width="1.9"/>
<rect x="439.3" y="1923.7" width="34.3" height="51.1" fill="none" stroke="#404040" stroke-width="1.9"/>
<rect x="473.6" y="1776.4" width="34.3" height="198.4" fill="none" stroke="#404040" stroke-width="1.9"/>
<rect x="524.4" y="1915.8" width="34.3" height="59" fill="none" stroke="#404040" stroke-width="1.9"/>
<rect x="558.7" y="1732" width="34.3" height="242.8" fill="none" stroke="#404040" stroke-width="1.9"/>
<rect x="98.9" y="1561.5" width="47.9" height="22.9" fill="none" stroke="#404040" stroke-width="1.9"/>
<rect x="98.9" y="1593" width="47.9" height="22.9" fill="none" stroke="#404040" stroke-width="1.9"/>
<line x1="82.2" y1="1549.4" x2="90.2" y2="1549.4" stroke="#000" stroke-width="1.6"/>
<text x="71.9" y="1557" font-size="25.3" text-anchor="end" fill="#000" stroke="#000">-4</text>
<line x1="82.2" y1="1655.75" x2="90.2" y2="1655.75" stroke="#000" stroke-width="1.6"/>
<text x="71.9" y="1663.35" font-size="25.3" text-anchor="end" fill="#000" stroke="#000">-3</text>
<line x1="82.2" y1="1762.1" x2="90.2" y2="1762.1" stroke="#000" stroke-width="1.6"/>
<text x="71.9" y="1769.7" font-size="25.3" text-anchor="end" fill="#000" stroke="#000">-2</text>
<line x1="82.2" y1="1868.45" x2="90.2" y2="1868.45" stroke="#000" stroke-width="1.6"/>
<text x="71.9" y="1876.05" font-size="25.3" text-anchor="end" fill="#000" stroke="#000">-1</text>
<line x1="82.2" y1="1974.8" x2="90.2" y2="1974.8" stroke="#000" stroke-width="1.6"/>
<text x="71.9" y="1982.4" font-size="25.3" text-anchor="end" fill="#000" stroke="#000">0</text>
<rect x="82.2" y="1549.4" width="527.9" height="425.4" fill="none" stroke="#000" stroke-width="1.7"/>
<text x="136.3" y="2006.6" font-size="25.3" text-anchor="middle" fill="#000" stroke="#000">S<tspan dy="7.34" font-size="17.2">8</tspan></text>
<text x="218.4" y="2006.6" font-size="25.3" text-anchor="middle" fill="#000" stroke="#000">Li<tspan dy="7.34" font-size="17.2">2</tspan><tspan dy="-7.34">S</tspan><tspan dy="7.34" font-size="17.2">8</tspan></text>
<text x="303.4" y="2006.6" font-size="25.3" text-anchor="middle" fill="#000" stroke="#000">Li<tspan dy="7.34" font-size="17.2">2</tspan><tspan dy="-7.34">S</tspan><tspan dy="7.34" font-size="17.2">6</tspan></text>
<text x="388.3" y="2006.6" font-size="25.3" text-anchor="middle" fill="#000" stroke="#000">Li<tspan dy="7.34" font-size="17.2">2</tspan><tspan dy="-7.34">S</tspan><tspan dy="7.34" font-size="17.2">4</tspan></text>
<text x="473.6" y="2006.6" font-size="25.3" text-anchor="middle" fill="#000" stroke="#000">Li<tspan dy="7.34" font-size="17.2">2</tspan><tspan dy="-7.34">S</tspan><tspan dy="7.34" font-size="17.2">2</tspan></text>
<text x="556.4" y="2006.6" font-size="25.3" text-anchor="middle" fill="#000" stroke="#000">Li<tspan dy="7.34" font-size="17.2">2</tspan><tspan dy="-7.34">S</tspan></text>
<text x="39.6" y="1760.5" font-size="26" text-anchor="middle" fill="#000" transform="rotate(-90 39.6 1760.5)" stroke="#000">Adsorption energy (eV)</text>
<text x="-2.5" y="1559.9" font-size="33" text-anchor="start" fill="#231815" stroke="#231815" style="stroke-width:.4px">h</text></g>
<g id="panel-i" fill="none"><use href="#aSn" x="915.88" y="1828.86"/>
<use href="#aSn" x="829.63" y="1865.26"/>
<use href="#aSn" x="873.2" y="1865.81"/>
<use href="#aGa" x="816.4" y="1805.15"/>
<use href="#aGa" x="841.76" y="1798.53"/>
<use href="#aGa" x="852.24" y="1812.32"/>
<use href="#aGa" x="869.56" y="1805.7"/>
<use href="#aGa" x="883.12" y="1814.52"/>
<use href="#aGa" x="892.72" y="1789.71"/>
<use href="#aGa" x="900.44" y="1813.97"/>
<use href="#aGa" x="914.56" y="1799.63"/>
<use href="#aGa" x="933.86" y="1818.38"/>
<use href="#aGa" x="817.28" y="1823.9"/>
<use href="#aGa" x="829.08" y="1830.74"/>
<use href="#aGa" x="805.59" y="1838.01"/>
<use href="#aGa" x="823.57" y="1846.51"/>
<use href="#aGa" x="844.85" y="1836.91"/>
<use href="#aGa" x="858.53" y="1839.89"/>
<use href="#aGa" x="858.86" y="1854.23"/>
<use href="#aGa" x="876.84" y="1830.74"/>
<use href="#aGa" x="887.87" y="1842.65"/>
<use href="#aGa" x="899.34" y="1835.15"/>
<use href="#aGa" x="903.53" y="1843.75"/>
<use href="#aGa" x="930" y="1849.26"/>
<use href="#aGa" x="922.06" y="1859.74"/>
<use href="#aGa" x="907.94" y="1864.15"/>
<use href="#aGa" x="904.08" y="1874.63"/>
<use href="#aGa" x="885" y="1868.24"/>
<use href="#aGa" x="839.56" y="1864.15"/>
<use href="#aGa" x="818.05" y="1874.08"/>
<use href="#aGa" x="850.59" y="1880.37"/>
<use href="#aN" x="900.77" y="1815.07"/>
<path d="M818.82 1802.39L831.84 1794.67" stroke="#7a4a32" stroke-width="2.1"/>
<path d="M818.82 1802.39L819.49 1813.97" stroke="#7a4a32" stroke-width="2.1"/>
<path d="M831.84 1794.67L845.62 1799.08" stroke="#7a4a32" stroke-width="2.1"/>
<path d="M845.62 1799.08L846.51 1810.44" stroke="#7a4a32" stroke-width="2.1"/>
<path d="M846.51 1810.44L833.49 1817.28" stroke="#7a4a32" stroke-width="2.1"/>
<path d="M846.51 1810.44L860.18 1815.07" stroke="#7a4a32" stroke-width="2.1"/>
<path d="M833.49 1817.28L819.49 1813.97" stroke="#7a4a32" stroke-width="2.1"/>
<path d="M860.18 1815.07L874.3 1812.32" stroke="#7a4a32" stroke-width="2.1"/>
<path d="M914.01 1810.66L925.04 1801.84" stroke="#7a4a32" stroke-width="2.1"/>
<path d="M914.01 1810.66L921.4 1824.45" stroke="#7a4a32" stroke-width="2.1"/>
<path d="M921.4 1824.45L937.94 1823.68" stroke="#7a4a32" stroke-width="2.1"/>
<path d="M921.4 1824.45L934.96 1831.4" stroke="#7a4a32" stroke-width="2.1"/>
<path d="M937.94 1823.68L934.96 1831.4" stroke="#7a4a32" stroke-width="2.1"/>
<path d="M937.94 1823.68L953.71 1828.53" stroke="#7a4a32" stroke-width="2.1"/>
<path d="M818.82 1802.39L812.1 1800.46" stroke="#7a4a32" stroke-width="2.1"/>
<path d="M812.1 1800.46L805.37 1798.53" stroke="#e81010" stroke-width="2.1"/>
<path d="M819.49 1813.97L813.53 1818.11" stroke="#7a4a32" stroke-width="2.1"/>
<path d="M813.53 1818.11L807.57 1822.24" stroke="#e81010" stroke-width="2.1"/>
<path d="M874.3 1812.32L880.26 1816.45" stroke="#7a4a32" stroke-width="2.1"/>
<path d="M880.26 1816.45L886.21 1820.59" stroke="#e81010" stroke-width="2.1"/>
<path d="M925.04 1801.84L931.49 1805.04" stroke="#7a4a32" stroke-width="2.1"/>
<path d="M931.49 1805.04L937.94 1808.24" stroke="#e81010" stroke-width="2.1"/>
<path d="M937.94 1823.68L937.94 1815.96" stroke="#7a4a32" stroke-width="2.1"/>
<path d="M937.94 1815.96L937.94 1808.24" stroke="#e81010" stroke-width="2.1"/>
<path d="M937.94 1823.68L935.35 1821.58" stroke="#7a4a32" stroke-width="2.1"/>
<path d="M935.35 1821.58L932.76 1819.49" stroke="#e81010" stroke-width="2.1"/>
<path d="M934.96 1831.4L933.86 1825.44" stroke="#7a4a32" stroke-width="2.1"/>
<path d="M933.86 1825.44L932.76 1819.49" stroke="#e81010" stroke-width="2.1"/>
<path d="M953.71 1828.53L957.74 1824.67" stroke="#7a4a32" stroke-width="2.1"/>
<path d="M957.74 1824.67L961.76 1820.81" stroke="#e81010" stroke-width="2.1"/>
<path d="M934.96 1831.4L933.69 1839.5" stroke="#7a4a32" stroke-width="2.1"/>
<path d="M933.69 1839.5L932.43 1847.61" stroke="#e81010" stroke-width="2.1"/>
<path d="M805.37 1798.53L806.08 1794.94" stroke="#e81010" stroke-width="1.5"/>
<path d="M806.08 1794.94L806.8 1791.36" stroke="#e8c4c4" stroke-width="1.5"/>
<path d="M831.84 1794.67L831.56 1790.53" stroke="#7a4a32" stroke-width="1.5"/>
<path d="M831.56 1790.53L831.29 1786.4" stroke="#e8c4c4" stroke-width="1.5"/>
<path d="M845.62 1799.08L850.48 1796.43" stroke="#7a4a32" stroke-width="1.5"/>
<path d="M850.48 1796.43L855.33 1793.79" stroke="#e8c4c4" stroke-width="1.5"/>
<path d="M807.57 1822.24L802.89 1825.55" stroke="#e81010" stroke-width="1.5"/>
<path d="M802.89 1825.55L798.2 1828.86" stroke="#e8c4c4" stroke-width="1.5"/>
<path d="M833.49 1817.28L833.66 1821.8" stroke="#7a4a32" stroke-width="1.5"/>
<path d="M833.66 1821.8L833.82 1826.32" stroke="#e8c4c4" stroke-width="1.5"/>
<path d="M860.18 1815.07L859.91 1818.49" stroke="#7a4a32" stroke-width="1.5"/>
<path d="M859.91 1818.49L859.63 1821.91" stroke="#e8c4c4" stroke-width="1.5"/>
<path d="M874.3 1812.32L875.13 1809.39" stroke="#7a4a32" stroke-width="1.5"/>
<path d="M875.13 1809.39L875.96 1806.47" stroke="#e8c4c4" stroke-width="1.5"/>
<path d="M914.01 1810.66L911.25 1807.79" stroke="#7a4a32" stroke-width="1.5"/>
<path d="M911.25 1807.79L908.49 1804.93" stroke="#e8c4c4" stroke-width="1.5"/>
<path d="M961.76 1820.81L962.15 1815.62" stroke="#e81010" stroke-width="1.5"/>
<path d="M962.15 1815.62L962.54 1810.44" stroke="#e8c4c4" stroke-width="1.5"/>
<path d="M921.4 1824.45L917.15 1827.92" stroke="#7a4a32" stroke-width="1.5"/>
<path d="M917.15 1827.92L912.9 1831.4" stroke="#e8c4c4" stroke-width="1.5"/>
<path d="M934.96 1831.4L932.76 1829.3" stroke="#7a4a32" stroke-width="1.5"/>
<path d="M932.76 1829.3L930.55 1827.21" stroke="#e8c4c4" stroke-width="1.5"/>
<path d="M953.71 1828.53L949.3 1828.97" stroke="#7a4a32" stroke-width="1.5"/>
<path d="M949.3 1828.97L944.89 1829.41" stroke="#e8c4c4" stroke-width="1.5"/>
<path d="M953.71 1828.53L956.47 1827.87" stroke="#7a4a32" stroke-width="1.5"/>
<path d="M956.47 1827.87L959.23 1827.21" stroke="#e8c4c4" stroke-width="1.5"/>
<path d="M904.63 1766.54L927.24 1771.51" stroke="#ece614" stroke-width="1.5"/>
<path d="M904.63 1766.54L892.5 1778.46" stroke="#ece614" stroke-width="1.5"/>
<path d="M927.24 1771.51L933.53 1790.59" stroke="#ece614" stroke-width="1.5"/>
<path d="M892.5 1778.46L891.18 1796.54" stroke="#ece614" stroke-width="1.5"/>
<path d="M933.53 1790.59L928.9 1809.56" stroke="#ece614" stroke-width="1.5"/>
<path d="M891.18 1796.54L891.4 1813.75" stroke="#ece614" stroke-width="1.5"/>
<path d="M928.9 1809.56L910.15 1819.71" stroke="#ece614" stroke-width="1.5"/>
<path d="M891.4 1813.75L910.15 1819.71" stroke="#ece614" stroke-width="1.5"/>
<use href="#aC" x="818.82" y="1802.39"/>
<use href="#aC" x="831.84" y="1794.67"/>
<use href="#aC" x="845.62" y="1799.08"/>
<use href="#aC" x="846.51" y="1810.44"/>
<use href="#aC" x="833.49" y="1817.28"/>
<use href="#aC" x="819.49" y="1813.97"/>
<use href="#aC" x="860.18" y="1815.07"/>
<use href="#aC" x="874.3" y="1812.32"/>
<use href="#aC" x="914.01" y="1810.66"/>
<use href="#aC" x="925.04" y="1801.84"/>
<use href="#aC" x="921.4" y="1824.45"/>
<use href="#aC" x="937.94" y="1823.68"/>
<use href="#aC" x="934.96" y="1831.4"/>
<use href="#aC" x="953.71" y="1828.53"/>
<use href="#aO" x="805.37" y="1798.53"/>
<use href="#aO" x="807.57" y="1822.24"/>
<use href="#aO" x="886.21" y="1820.59"/>
<use href="#aO" x="937.94" y="1808.24"/>
<use href="#aO" x="932.76" y="1819.49"/>
<use href="#aO" x="961.76" y="1820.81"/>
<use href="#aO" x="932.43" y="1847.61"/>
<use href="#aH" x="806.8" y="1791.36"/>
<use href="#aH" x="831.29" y="1786.4"/>
<use href="#aH" x="855.33" y="1793.79"/>
<use href="#aH" x="798.2" y="1828.86"/>
<use href="#aH" x="833.82" y="1826.32"/>
<use href="#aH" x="859.63" y="1821.91"/>
<use href="#aH" x="875.96" y="1806.47"/>
<use href="#aH" x="908.49" y="1804.93"/>
<use href="#aH" x="925.04" y="1790.26"/>
<use href="#aH" x="962.54" y="1810.44"/>
<use href="#aH" x="912.9" y="1831.4"/>
<use href="#aH" x="930.55" y="1827.21"/>
<use href="#aH" x="944.89" y="1829.41"/>
<use href="#aH" x="959.23" y="1827.21"/>
<use href="#aH" x="954.26" y="1840.66"/>
<use href="#aH" x="900.77" y="1810.44"/>
<use href="#aS" x="904.63" y="1766.54"/>
<use href="#aS" x="927.24" y="1771.51"/>
<use href="#aS" x="892.5" y="1778.46"/>
<use href="#aS" x="933.53" y="1790.59"/>
<use href="#aS" x="891.18" y="1796.54"/>
<use href="#aS" x="928.9" y="1809.56"/>
<use href="#aS" x="891.4" y="1813.75"/>
<use href="#aS" x="910.15" y="1819.71"/>
<use href="#aSn" x="1081.88" y="1886.8"/>
<use href="#aSn" x="993.42" y="1912.72"/>
<use href="#aSn" x="1034.78" y="1920.22"/>
<use href="#aGa" x="991.99" y="1848.2"/>
<use href="#aGa" x="1019.01" y="1850.4"/>
<use href="#aGa" x="1022.87" y="1859.23"/>
<use href="#aGa" x="1043.82" y="1862.54"/>
<use href="#aGa" x="1052.65" y="1866.4"/>
<use href="#aGa" x="1068.64" y="1849.3"/>
<use href="#aGa" x="1085.18" y="1856.47"/>
<use href="#aGa" x="989.78" y="1872.46"/>
<use href="#aGa" x="998.05" y="1874.67"/>
<use href="#aGa" x="977.43" y="1888.46"/>
<use href="#aGa" x="1014.04" y="1889.56"/>
<use href="#aGa" x="1025.07" y="1888.46"/>
<use href="#aGa" x="1046.58" y="1890.11"/>
<use href="#aGa" x="1051.54" y="1895.62"/>
<use href="#aGa" x="1072.28" y="1876.54"/>
<use href="#aGa" x="1103.93" y="1887.35"/>
<use href="#aGa" x="993.64" y="1900.04"/>
<use href="#aGa" x="1069.74" y="1903.35"/>
<use href="#aGa" x="1026.18" y="1913.6"/>
<use href="#aGa" x="1066.99" y="1919.89"/>
<use href="#aGa" x="1093.46" y="1914.38"/>
<use href="#aGa" x="982.83" y="1926.51"/>
<use href="#aGa" x="1007.65" y="1925.07"/>
<use href="#aGa" x="1012.39" y="1936.1"/>
<use href="#aGa" x="1049.12" y="1932.79"/>
<use href="#aGa" x="1063.9" y="1936.43"/>
<use href="#aGa" x="1086.51" y="1930.92"/>
<path d="M998.82 1858.46L1012.61 1852.61" stroke="#7a4a32" stroke-width="2.1"/>
<path d="M998.82 1858.46L998.05 1872.46" stroke="#7a4a32" stroke-width="2.1"/>
<path d="M1012.61 1852.61L1025.62 1860.66" stroke="#7a4a32" stroke-width="2.1"/>
<path d="M1025.62 1860.66L1025.29 1873.9" stroke="#7a4a32" stroke-width="2.1"/>
<path d="M1025.29 1873.9L1011.51 1879.85" stroke="#7a4a32" stroke-width="2.1"/>
<path d="M1025.29 1873.9L1038.53 1882.72" stroke="#7a4a32" stroke-width="2.1"/>
<path d="M1011.51 1879.85L998.05 1872.46" stroke="#7a4a32" stroke-width="2.1"/>
<path d="M1038.53 1882.72L1052.65 1881.84" stroke="#7a4a32" stroke-width="2.1"/>
<path d="M1052.65 1881.84L1063.9 1889.56" stroke="#7a4a32" stroke-width="2.1"/>
<path d="M1103.16 1880.96L1091.25 1890.11" stroke="#7a4a32" stroke-width="2.1"/>
<path d="M1111.65 1901.14L1108.35 1912.5" stroke="#7a4a32" stroke-width="2.1"/>
<path d="M1111.65 1901.14L1125.11 1908.86" stroke="#7a4a32" stroke-width="2.1"/>
<path d="M998.82 1858.46L992.37 1854.82" stroke="#7a4a32" stroke-width="2.1"/>
<path d="M992.37 1854.82L985.92 1851.18" stroke="#e81010" stroke-width="2.1"/>
<path d="M998.05 1872.46L991.43 1875.61" stroke="#7a4a32" stroke-width="2.1"/>
<path d="M991.43 1875.61L984.82 1878.75" stroke="#e81010" stroke-width="2.1"/>
<path d="M1063.9 1889.56L1063.79 1892.98" stroke="#7a4a32" stroke-width="2.1"/>
<path d="M1063.79 1892.98L1063.68 1896.4" stroke="#e81010" stroke-width="2.1"/>
<path d="M1103.16 1880.96L1108.68 1884.43" stroke="#7a4a32" stroke-width="2.1"/>
<path d="M1108.68 1884.43L1114.19 1887.9" stroke="#e81010" stroke-width="2.1"/>
<path d="M1111.65 1901.14L1112.92 1894.52" stroke="#7a4a32" stroke-width="2.1"/>
<path d="M1112.92 1894.52L1114.19 1887.9" stroke="#e81010" stroke-width="2.1"/>
<path d="M1111.65 1901.14L1110.83 1903.07" stroke="#7a4a32" stroke-width="2.1"/>
<path d="M1110.83 1903.07L1110 1905" stroke="#e81010" stroke-width="2.1"/>
<path d="M1108.35 1912.5L1109.17 1908.75" stroke="#7a4a32" stroke-width="2.1"/>
<path d="M1109.17 1908.75L1110 1905" stroke="#e81010" stroke-width="2.1"/>
<path d="M1125.11 1908.86L1129.14 1904.45" stroke="#7a4a32" stroke-width="2.1"/>
<path d="M1129.14 1904.45L1133.16 1900.04" stroke="#e81010" stroke-width="2.1"/>
<path d="M985.92 1851.18L986.91 1846.65" stroke="#e81010" stroke-width="1.5"/>
<path d="M986.91 1846.65L987.9 1842.13" stroke="#e8c4c4" stroke-width="1.5"/>
<path d="M1012.61 1852.61L1012.78 1847.37" stroke="#7a4a32" stroke-width="1.5"/>
<path d="M1012.78 1847.37L1012.94 1842.13" stroke="#e8c4c4" stroke-width="1.5"/>
<path d="M1025.62 1860.66L1030.7 1858.4" stroke="#7a4a32" stroke-width="1.5"/>
<path d="M1030.7 1858.4L1035.77 1856.14" stroke="#e8c4c4" stroke-width="1.5"/>
<path d="M1011.51 1879.85L1011.12 1884.98" stroke="#7a4a32" stroke-width="1.5"/>
<path d="M1011.12 1884.98L1010.74 1890.11" stroke="#e8c4c4" stroke-width="1.5"/>
<path d="M1038.53 1882.72L1037.87 1886.97" stroke="#7a4a32" stroke-width="1.5"/>
<path d="M1037.87 1886.97L1037.21 1891.21" stroke="#e8c4c4" stroke-width="1.5"/>
<path d="M1091.25 1890.11L1090.42 1887.08" stroke="#7a4a32" stroke-width="1.5"/>
<path d="M1090.42 1887.08L1089.6 1884.04" stroke="#e8c4c4" stroke-width="1.5"/>
<path d="M1133.16 1900.04L1134.65 1895.46" stroke="#e81010" stroke-width="1.5"/>
<path d="M1134.65 1895.46L1136.14 1890.88" stroke="#e8c4c4" stroke-width="1.5"/>
<path d="M1111.65 1901.14L1107.79 1900.31" stroke="#7a4a32" stroke-width="1.5"/>
<path d="M1107.79 1900.31L1103.93 1899.49" stroke="#e8c4c4" stroke-width="1.5"/>
<path d="M1108.35 1912.5L1107.52 1913.6" stroke="#7a4a32" stroke-width="1.5"/>
<path d="M1107.52 1913.6L1106.69 1914.71" stroke="#e8c4c4" stroke-width="1.5"/>
<path d="M1125.11 1908.86L1121.97 1911.45" stroke="#7a4a32" stroke-width="1.5"/>
<path d="M1121.97 1911.45L1118.82 1914.04" stroke="#e8c4c4" stroke-width="1.5"/>
<path d="M1125.11 1908.86L1124.06 1914.21" stroke="#7a4a32" stroke-width="1.5"/>
<path d="M1124.06 1914.21L1123.01 1919.56" stroke="#e8c4c4" stroke-width="1.5"/>
<path d="M1125.11 1908.86L1128.42 1909.96" stroke="#7a4a32" stroke-width="1.5"/>
<path d="M1128.42 1909.96L1131.73 1911.07" stroke="#e8c4c4" stroke-width="1.5"/>
<path d="M1062.02 1862.21L1084.41 1863.09" stroke="#ece614" stroke-width="1.5"/>
<path d="M1062.02 1862.21L1050.22 1876.88" stroke="#ece614" stroke-width="1.5"/>
<path d="M1084.41 1863.09L1088.49 1856.47" stroke="#ece614" stroke-width="1.5"/>
<path d="M1084.41 1863.09L1092.68 1875.44" stroke="#ece614" stroke-width="1.5"/>
<path d="M1088.49 1856.47L1092.68 1875.44" stroke="#ece614" stroke-width="1.5"/>
<path d="M1050.22 1876.88L1050.22 1896.4" stroke="#ece614" stroke-width="1.5"/>
<path d="M1050.22 1896.4L1070.29 1906.88" stroke="#ece614" stroke-width="1.5"/>
<path d="M1070.29 1906.88L1072.72 1911.84" stroke="#ece614" stroke-width="1.5"/>
<path d="M1071.95 1891.76L1061.08 1884.32" stroke="#8234d2" stroke-width="1.7"/>
<path d="M1061.08 1884.32L1050.22 1876.88" stroke="#ece614" stroke-width="1.7"/>
<path d="M1071.95 1891.76L1082.32 1883.6" stroke="#8234d2" stroke-width="1.7"/>
<path d="M1082.32 1883.6L1092.68 1875.44" stroke="#ece614" stroke-width="1.7"/>
<path d="M1071.95 1891.76L1061.08 1894.08" stroke="#8234d2" stroke-width="1.7"/>
<path d="M1061.08 1894.08L1050.22 1896.4" stroke="#ece614" stroke-width="1.7"/>
<path d="M1071.95 1891.76L1071.12 1899.32" stroke="#8234d2" stroke-width="1.7"/>
<path d="M1071.12 1899.32L1070.29 1906.88" stroke="#ece614" stroke-width="1.7"/>
<path d="M1071.95 1891.76L1072.33 1901.8" stroke="#8234d2" stroke-width="1.7"/>
<path d="M1072.33 1901.8L1072.72 1911.84" stroke="#ece614" stroke-width="1.7"/>
<path d="M1092.9 1902.57L1092.79 1889.01" stroke="#8234d2" stroke-width="1.7"/>
<path d="M1092.79 1889.01L1092.68 1875.44" stroke="#ece614" stroke-width="1.7"/>
<path d="M1092.9 1902.57L1081.6 1904.72" stroke="#8234d2" stroke-width="1.7"/>
<path d="M1081.6 1904.72L1070.29 1906.88" stroke="#ece614" stroke-width="1.7"/>
<path d="M1092.9 1902.57L1082.81 1907.21" stroke="#8234d2" stroke-width="1.7"/>
<path d="M1082.81 1907.21L1072.72 1911.84" stroke="#ece614" stroke-width="1.7"/>
<use href="#aC" x="998.82" y="1858.46"/>
<use href="#aC" x="1012.61" y="1852.61"/>
<use href="#aC" x="1025.62" y="1860.66"/>
<use href="#aC" x="1025.29" y="1873.9"/>
<use href="#aC" x="1011.51" y="1879.85"/>
<use href="#aC" x="998.05" y="1872.46"/>
<use href="#aC" x="1038.53" y="1882.72"/>
<use href="#aC" x="1052.65" y="1881.84"/>
<use href="#aC" x="1063.9" y="1889.56"/>
<use href="#aC" x="1103.16" y="1880.96"/>
<use href="#aC" x="1091.25" y="1890.11"/>
<use href="#aC" x="1111.65" y="1901.14"/>
<use href="#aC" x="1108.35" y="1912.5"/>
<use href="#aC" x="1125.11" y="1908.86"/>
<use href="#aO" x="985.92" y="1851.18"/>
<use href="#aO" x="984.82" y="1878.75"/>
<use href="#aO" x="1063.68" y="1896.4"/>
<use href="#aO" x="1114.19" y="1887.9"/>
<use href="#aO" x="1110" y="1905"/>
<use href="#aO" x="1133.16" y="1900.04"/>
<use href="#aO" x="1101.51" y="1927.61"/>
<use href="#aH" x="987.9" y="1842.13"/>
<use href="#aH" x="1012.94" y="1842.13"/>
<use href="#aH" x="1035.77" y="1856.14"/>
<use href="#aH" x="974.12" y="1884.04"/>
<use href="#aH" x="1010.74" y="1890.11"/>
<use href="#aH" x="1037.21" y="1891.21"/>
<use href="#aH" x="1105.59" y="1869.15"/>
<use href="#aH" x="1076.69" y="1881.62"/>
<use href="#aH" x="1089.6" y="1884.04"/>
<use href="#aH" x="1136.14" y="1890.88"/>
<use href="#aH" x="1103.93" y="1899.49"/>
<use href="#aH" x="1087.94" y="1911.62"/>
<use href="#aH" x="1106.69" y="1914.71"/>
<use href="#aH" x="1118.82" y="1914.04"/>
<use href="#aH" x="1123.01" y="1919.56"/>
<use href="#aH" x="1131.73" y="1911.07"/>
<use href="#aS" x="1062.02" y="1862.21"/>
<use href="#aS" x="1084.41" y="1863.09"/>
<use href="#aS" x="1088.49" y="1856.47"/>
<use href="#aS" x="1050.22" y="1876.88"/>
<use href="#aS" x="1092.68" y="1875.44"/>
<use href="#aS" x="1050.22" y="1896.4"/>
<use href="#aS" x="1070.29" y="1906.88"/>
<use href="#aS" x="1072.72" y="1911.84"/>
<use href="#aLi" x="1071.95" y="1891.76"/>
<use href="#aLi" x="1092.9" y="1902.57"/>
<use href="#aSn" x="1271.62" y="1879.08"/>
<use href="#aSn" x="1195.29" y="1920.99"/>
<use href="#aSn" x="1235" y="1918.79"/>
<use href="#aGa" x="1179.85" y="1862.54"/>
<use href="#aGa" x="1205.44" y="1858.46"/>
<use href="#aGa" x="1212.06" y="1865.85"/>
<use href="#aGa" x="1230.92" y="1864.41"/>
<use href="#aGa" x="1241.07" y="1866.18"/>
<use href="#aGa" x="1251.32" y="1847.1"/>
<use href="#aGa" x="1268.86" y="1850.4"/>
<use href="#aGa" x="1259.82" y="1871.69"/>
<use href="#aGa" x="1291.47" y="1874.34"/>
<use href="#aGa" x="1183.38" y="1885.15"/>
<use href="#aGa" x="1191.99" y="1885.37"/>
<use href="#aGa" x="1174.67" y="1901.91"/>
<use href="#aGa" x="1209.85" y="1895.29"/>
<use href="#aGa" x="1219.56" y="1891.99"/>
<use href="#aGa" x="1239.19" y="1889.34"/>
<use href="#aGa" x="1246.25" y="1892.87"/>
<use href="#aGa" x="1262.79" y="1896.4"/>
<use href="#aGa" x="1263.9" y="1898.93"/>
<use href="#aGa" x="1287.94" y="1901.91"/>
<use href="#aGa" x="1192.21" y="1909.19"/>
<use href="#aGa" x="1225.29" y="1914.38"/>
<use href="#aGa" x="1265" y="1911.84"/>
<use href="#aGa" x="1284.08" y="1917.68"/>
<use href="#aGa" x="1210.4" y="1929.26"/>
<use href="#aGa" x="1217.35" y="1937.87"/>
<use href="#aGa" x="1187.79" y="1935.66"/>
<use href="#aGa" x="1250.11" y="1927.61"/>
<use href="#aGa" x="1265" y="1927.61"/>
<path d="M1187.79 1869.93L1199.71 1862.21" stroke="#7a4a32" stroke-width="2.1"/>
<path d="M1187.79 1869.93L1189.78 1882.94" stroke="#7a4a32" stroke-width="2.1"/>
<path d="M1199.71 1862.21L1213.16 1866.4" stroke="#7a4a32" stroke-width="2.1"/>
<path d="M1213.16 1866.4L1215.15 1878.53" stroke="#7a4a32" stroke-width="2.1"/>
<path d="M1215.15 1878.53L1203.9 1886.8" stroke="#7a4a32" stroke-width="2.1"/>
<path d="M1215.15 1878.53L1228.93 1884.04" stroke="#7a4a32" stroke-width="2.1"/>
<path d="M1203.9 1886.8L1189.78 1882.94" stroke="#7a4a32" stroke-width="2.1"/>
<path d="M1228.93 1884.04L1241.07 1879.08" stroke="#7a4a32" stroke-width="2.1"/>
<path d="M1241.07 1879.08L1253.97 1884.6" stroke="#7a4a32" stroke-width="2.1"/>
<path d="M1288.16 1868.82L1279.34 1879.3" stroke="#7a4a32" stroke-width="2.1"/>
<path d="M1300.07 1886.25L1299.52 1896.4" stroke="#7a4a32" stroke-width="2.1"/>
<path d="M1300.07 1886.25L1314.63 1889.78" stroke="#7a4a32" stroke-width="2.1"/>
<path d="M1299.52 1896.4L1314.63 1889.78" stroke="#7a4a32" stroke-width="2.1"/>
<path d="M1187.79 1869.93L1180.96 1868.05" stroke="#7a4a32" stroke-width="2.1"/>
<path d="M1180.96 1868.05L1174.12 1866.18" stroke="#e81010" stroke-width="2.1"/>
<path d="M1189.78 1882.94L1184.38 1887.08" stroke="#7a4a32" stroke-width="2.1"/>
<path d="M1184.38 1887.08L1178.97 1891.21" stroke="#e81010" stroke-width="2.1"/>
<path d="M1253.97 1884.6L1254.41 1887.74" stroke="#7a4a32" stroke-width="2.1"/>
<path d="M1254.41 1887.74L1254.85 1890.88" stroke="#e81010" stroke-width="2.1"/>
<path d="M1288.16 1868.82L1294.12 1870.92" stroke="#7a4a32" stroke-width="2.1"/>
<path d="M1294.12 1870.92L1300.07 1873.01" stroke="#e81010" stroke-width="2.1"/>
<path d="M1300.07 1886.25L1300.07 1879.63" stroke="#7a4a32" stroke-width="2.1"/>
<path d="M1300.07 1879.63L1300.07 1873.01" stroke="#e81010" stroke-width="2.1"/>
<path d="M1300.07 1886.25L1299.41 1887.9" stroke="#7a4a32" stroke-width="2.1"/>
<path d="M1299.41 1887.9L1298.75 1889.56" stroke="#e81010" stroke-width="2.1"/>
<path d="M1299.52 1896.4L1299.14 1892.98" stroke="#7a4a32" stroke-width="2.1"/>
<path d="M1299.14 1892.98L1298.75 1889.56" stroke="#e81010" stroke-width="2.1"/>
<path d="M1314.63 1889.78L1317.56 1884.98" stroke="#7a4a32" stroke-width="2.1"/>
<path d="M1317.56 1884.98L1320.48 1880.18" stroke="#e81010" stroke-width="2.1"/>
<path d="M1299.52 1896.4L1298.14 1903.9" stroke="#7a4a32" stroke-width="2.1"/>
<path d="M1298.14 1903.9L1296.76 1911.4" stroke="#e81010" stroke-width="2.1"/>
<path d="M1174.12 1866.18L1174.34 1861.88" stroke="#e81010" stroke-width="1.5"/>
<path d="M1174.34 1861.88L1174.56 1857.57" stroke="#e8c4c4" stroke-width="1.5"/>
<path d="M1199.71 1862.21L1198.77 1857.41" stroke="#7a4a32" stroke-width="1.5"/>
<path d="M1198.77 1857.41L1197.83 1852.61" stroke="#e8c4c4" stroke-width="1.5"/>
<path d="M1213.16 1866.4L1217.46 1863.2" stroke="#7a4a32" stroke-width="1.5"/>
<path d="M1217.46 1863.2L1221.76 1860" stroke="#e8c4c4" stroke-width="1.5"/>
<path d="M1203.9 1886.8L1204.56 1891.49" stroke="#7a4a32" stroke-width="1.5"/>
<path d="M1204.56 1891.49L1205.22 1896.18" stroke="#e8c4c4" stroke-width="1.5"/>
<path d="M1228.93 1884.04L1229.32 1888.07" stroke="#7a4a32" stroke-width="1.5"/>
<path d="M1229.32 1888.07L1229.71 1892.1" stroke="#e8c4c4" stroke-width="1.5"/>
<path d="M1241.07 1879.08L1241.07 1875.5" stroke="#7a4a32" stroke-width="1.5"/>
<path d="M1241.07 1875.5L1241.07 1871.91" stroke="#e8c4c4" stroke-width="1.5"/>
<path d="M1279.34 1879.3L1277.02 1877.26" stroke="#7a4a32" stroke-width="1.5"/>
<path d="M1277.02 1877.26L1274.71 1875.22" stroke="#e8c4c4" stroke-width="1.5"/>
<path d="M1320.48 1880.18L1320.75 1875.66" stroke="#e81010" stroke-width="1.5"/>
<path d="M1320.75 1875.66L1321.03 1871.14" stroke="#e8c4c4" stroke-width="1.5"/>
<path d="M1314.63 1889.78L1311.88 1892.87" stroke="#7a4a32" stroke-width="1.5"/>
<path d="M1311.88 1892.87L1309.12 1895.96" stroke="#e8c4c4" stroke-width="1.5"/>
<path d="M1314.63 1889.78L1314.8 1894.91" stroke="#7a4a32" stroke-width="1.5"/>
<path d="M1314.8 1894.91L1314.96 1900.04" stroke="#e8c4c4" stroke-width="1.5"/>
<path d="M1314.63 1889.78L1317.83 1890.11" stroke="#7a4a32" stroke-width="1.5"/>
<path d="M1317.83 1890.11L1321.03 1890.44" stroke="#e8c4c4" stroke-width="1.5"/>
<path d="M1299.52 1896.4L1298.69 1897.67" stroke="#7a4a32" stroke-width="1.5"/>
<path d="M1298.69 1897.67L1297.87 1898.93" stroke="#e8c4c4" stroke-width="1.5"/>
<path d="M1300.07 1886.25L1297.21 1885.7" stroke="#7a4a32" stroke-width="1.5"/>
<path d="M1297.21 1885.7L1294.34 1885.15" stroke="#e8c4c4" stroke-width="1.5"/>
<path d="M1263.12 1864.41L1283.31 1860.33" stroke="#ece614" stroke-width="1.5"/>
<path d="M1263.12 1864.41L1280.99 1869.93" stroke="#ece614" stroke-width="1.5"/>
<path d="M1283.31 1860.33L1288.49 1855.92" stroke="#ece614" stroke-width="1.5"/>
<path d="M1283.31 1860.33L1280.99 1869.93" stroke="#ece614" stroke-width="1.5"/>
<path d="M1288.49 1855.92L1280.99 1869.93" stroke="#ece614" stroke-width="1.5"/>
<path d="M1280.99 1869.93L1286.84 1890.66" stroke="#ece614" stroke-width="1.5"/>
<path d="M1286.84 1890.66L1280.22 1902.24" stroke="#ece614" stroke-width="1.5"/>
<path d="M1264.45 1886.03L1263.79 1875.22" stroke="#8234d2" stroke-width="1.7"/>
<path d="M1263.79 1875.22L1263.12 1864.41" stroke="#ece614" stroke-width="1.7"/>
<path d="M1264.45 1886.03L1272.72 1877.98" stroke="#8234d2" stroke-width="1.7"/>
<path d="M1272.72 1877.98L1280.99 1869.93" stroke="#ece614" stroke-width="1.7"/>
<path d="M1264.45 1886.03L1275.64 1888.35" stroke="#8234d2" stroke-width="1.7"/>
<path d="M1275.64 1888.35L1286.84 1890.66" stroke="#ece614" stroke-width="1.7"/>
<path d="M1264.45 1886.03L1272.33 1894.14" stroke="#8234d2" stroke-width="1.7"/>
<path d="M1272.33 1894.14L1280.22 1902.24" stroke="#ece614" stroke-width="1.7"/>
<path d="M1286.29 1884.6L1284.8 1872.46" stroke="#8234d2" stroke-width="1.7"/>
<path d="M1284.8 1872.46L1283.31 1860.33" stroke="#ece614" stroke-width="1.7"/>
<path d="M1286.29 1884.6L1283.64 1877.26" stroke="#8234d2" stroke-width="1.7"/>
<path d="M1283.64 1877.26L1280.99 1869.93" stroke="#ece614" stroke-width="1.7"/>
<path d="M1286.29 1884.6L1286.56 1887.63" stroke="#8234d2" stroke-width="1.7"/>
<path d="M1286.56 1887.63L1286.84 1890.66" stroke="#ece614" stroke-width="1.7"/>
<path d="M1286.29 1884.6L1283.25 1893.42" stroke="#8234d2" stroke-width="1.7"/>
<path d="M1283.25 1893.42L1280.22 1902.24" stroke="#ece614" stroke-width="1.7"/>
<use href="#aC" x="1187.79" y="1869.93"/>
<use href="#aC" x="1199.71" y="1862.21"/>
<use href="#aC" x="1213.16" y="1866.4"/>
<use href="#aC" x="1215.15" y="1878.53"/>
<use href="#aC" x="1203.9" y="1886.8"/>
<use href="#aC" x="1189.78" y="1882.94"/>
<use href="#aC" x="1228.93" y="1884.04"/>
<use href="#aC" x="1241.07" y="1879.08"/>
<use href="#aC" x="1253.97" y="1884.6"/>
<use href="#aC" x="1288.16" y="1868.82"/>
<use href="#aC" x="1279.34" y="1879.3"/>
<use href="#aC" x="1300.07" y="1886.25"/>
<use href="#aC" x="1299.52" y="1896.4"/>
<use href="#aC" x="1314.63" y="1889.78"/>
<use href="#aO" x="1174.12" y="1866.18"/>
<use href="#aO" x="1178.97" y="1891.21"/>
<use href="#aO" x="1254.85" y="1890.88"/>
<use href="#aO" x="1300.07" y="1873.01"/>
<use href="#aO" x="1298.75" y="1889.56"/>
<use href="#aO" x="1320.48" y="1880.18"/>
<use href="#aO" x="1296.76" y="1911.4"/>
<use href="#aH" x="1174.56" y="1857.57"/>
<use href="#aH" x="1197.83" y="1852.61"/>
<use href="#aH" x="1221.76" y="1860"/>
<use href="#aH" x="1169.93" y="1898.6"/>
<use href="#aH" x="1205.22" y="1896.18"/>
<use href="#aH" x="1229.71" y="1892.1"/>
<use href="#aH" x="1241.07" y="1871.91"/>
<use href="#aH" x="1274.71" y="1875.22"/>
<use href="#aH" x="1321.03" y="1871.14"/>
<use href="#aH" x="1309.12" y="1895.96"/>
<use href="#aH" x="1314.96" y="1900.04"/>
<use href="#aH" x="1321.03" y="1890.44"/>
<use href="#aH" x="1297.87" y="1898.93"/>
<use href="#aH" x="1294.34" y="1885.15"/>
<use href="#aS" x="1263.12" y="1864.41"/>
<use href="#aS" x="1283.31" y="1860.33"/>
<use href="#aS" x="1288.49" y="1855.92"/>
<use href="#aS" x="1280.99" y="1869.93"/>
<use href="#aS" x="1286.84" y="1890.66"/>
<use href="#aS" x="1280.22" y="1902.24"/>
<use href="#aLi" x="1264.45" y="1886.03"/>
<use href="#aLi" x="1286.29" y="1884.6"/>
<use href="#aSn" x="1398.2" y="1922.43"/>
<use href="#aSn" x="1437.68" y="1921.32"/>
<use href="#aGa" x="1383.64" y="1864.74"/>
<use href="#aGa" x="1407.9" y="1860.66"/>
<use href="#aGa" x="1416.73" y="1869.15"/>
<use href="#aGa" x="1433.27" y="1866.62"/>
<use href="#aGa" x="1444.85" y="1869.71"/>
<use href="#aGa" x="1454.01" y="1849.85"/>
<use href="#aGa" x="1472.98" y="1854.04"/>
<use href="#aGa" x="1461.95" y="1873.57"/>
<use href="#aGa" x="1493.38" y="1877.98"/>
<use href="#aGa" x="1385.85" y="1885.7"/>
<use href="#aGa" x="1395.77" y="1887.9"/>
<use href="#aGa" x="1375.92" y="1902.24"/>
<use href="#aGa" x="1411.76" y="1896.73"/>
<use href="#aGa" x="1423.35" y="1894.85"/>
<use href="#aGa" x="1440.99" y="1890.88"/>
<use href="#aGa" x="1450.04" y="1896.73"/>
<use href="#aGa" x="1463.05" y="1897.5"/>
<use href="#aGa" x="1465.81" y="1901.14"/>
<use href="#aGa" x="1489.85" y="1904.45"/>
<use href="#aGa" x="1393.01" y="1909.63"/>
<use href="#aGa" x="1425.88" y="1915.15"/>
<use href="#aGa" x="1469.12" y="1915.15"/>
<use href="#aGa" x="1484.56" y="1919.12"/>
<use href="#aGa" x="1409.78" y="1928.71"/>
<use href="#aGa" x="1388.82" y="1935.66"/>
<use href="#aGa" x="1418.93" y="1938.97"/>
<use href="#aGa" x="1450.59" y="1928.38"/>
<use href="#aGa" x="1467.13" y="1929.82"/>
<use href="#aN" x="1472.43" y="1882.39"/>
<path d="M1388.27 1870.26L1399.63 1862.54" stroke="#7a4a32" stroke-width="2.1"/>
<path d="M1388.27 1870.26L1389.49 1882.72" stroke="#7a4a32" stroke-width="2.1"/>
<path d="M1399.63 1862.54L1413.09 1866.95" stroke="#7a4a32" stroke-width="2.1"/>
<path d="M1413.09 1866.95L1414.52 1878.53" stroke="#7a4a32" stroke-width="2.1"/>
<path d="M1414.52 1878.53L1402.94 1886.47" stroke="#7a4a32" stroke-width="2.1"/>
<path d="M1414.52 1878.53L1427.76 1883.82" stroke="#7a4a32" stroke-width="2.1"/>
<path d="M1402.94 1886.47L1389.49 1882.72" stroke="#7a4a32" stroke-width="2.1"/>
<path d="M1427.76 1883.82L1440.11 1879.41" stroke="#7a4a32" stroke-width="2.1"/>
<path d="M1440.11 1879.41L1451.47 1884.04" stroke="#7a4a32" stroke-width="2.1"/>
<path d="M1486.76 1869.15L1477.39 1879.08" stroke="#7a4a32" stroke-width="2.1"/>
<path d="M1477.39 1879.08L1484.78 1892.32" stroke="#7a4a32" stroke-width="2.1"/>
<path d="M1498.9 1887.13L1484.78 1892.32" stroke="#7a4a32" stroke-width="2.1"/>
<path d="M1498.9 1887.13L1497.46 1896.73" stroke="#7a4a32" stroke-width="2.1"/>
<path d="M1498.9 1887.13L1514.01 1890.88" stroke="#7a4a32" stroke-width="2.1"/>
<path d="M1484.78 1892.32L1497.46 1896.73" stroke="#7a4a32" stroke-width="2.1"/>
<path d="M1388.27 1870.26L1381.71 1868.33" stroke="#7a4a32" stroke-width="2.1"/>
<path d="M1381.71 1868.33L1375.15 1866.4" stroke="#e81010" stroke-width="2.1"/>
<path d="M1389.49 1882.72L1384.08 1886.8" stroke="#7a4a32" stroke-width="2.1"/>
<path d="M1384.08 1886.8L1378.68 1890.88" stroke="#e81010" stroke-width="2.1"/>
<path d="M1451.47 1884.04L1451.91 1887.35" stroke="#7a4a32" stroke-width="2.1"/>
<path d="M1451.91 1887.35L1452.35 1890.66" stroke="#e81010" stroke-width="2.1"/>
<path d="M1498.9 1887.13L1499.01 1880.62" stroke="#7a4a32" stroke-width="2.1"/>
<path d="M1499.01 1880.62L1499.12 1874.12" stroke="#e81010" stroke-width="2.1"/>
<path d="M1486.76 1869.15L1492.94 1871.64" stroke="#7a4a32" stroke-width="2.1"/>
<path d="M1492.94 1871.64L1499.12 1874.12" stroke="#e81010" stroke-width="2.1"/>
<path d="M1498.9 1887.13L1497.35 1888.24" stroke="#7a4a32" stroke-width="2.1"/>
<path d="M1497.35 1888.24L1495.81 1889.34" stroke="#e81010" stroke-width="2.1"/>
<path d="M1497.46 1896.73L1496.64 1893.03" stroke="#7a4a32" stroke-width="2.1"/>
<path d="M1496.64 1893.03L1495.81 1889.34" stroke="#e81010" stroke-width="2.1"/>
<path d="M1514.01 1890.88L1517.37 1886.47" stroke="#7a4a32" stroke-width="2.1"/>
<path d="M1517.37 1886.47L1520.74 1882.06" stroke="#e81010" stroke-width="2.1"/>
<path d="M1497.46 1896.73L1496.25 1904.17" stroke="#7a4a32" stroke-width="2.1"/>
<path d="M1496.25 1904.17L1495.04 1911.62" stroke="#e81010" stroke-width="2.1"/>
<path d="M1375.15 1866.4L1375.64 1862.43" stroke="#e81010" stroke-width="1.5"/>
<path d="M1375.64 1862.43L1376.14 1858.46" stroke="#e8c4c4" stroke-width="1.5"/>
<path d="M1399.63 1862.54L1399.08 1857.96" stroke="#7a4a32" stroke-width="1.5"/>
<path d="M1399.08 1857.96L1398.53 1853.38" stroke="#e8c4c4" stroke-width="1.5"/>
<path d="M1413.09 1866.95L1417.5 1863.92" stroke="#7a4a32" stroke-width="1.5"/>
<path d="M1417.5 1863.92L1421.91 1860.88" stroke="#e8c4c4" stroke-width="1.5"/>
<path d="M1378.68 1890.88L1374.26 1894.19" stroke="#e81010" stroke-width="1.5"/>
<path d="M1374.26 1894.19L1369.85 1897.5" stroke="#e8c4c4" stroke-width="1.5"/>
<path d="M1402.94 1886.47L1403.33 1891.21" stroke="#7a4a32" stroke-width="1.5"/>
<path d="M1403.33 1891.21L1403.71 1895.96" stroke="#e8c4c4" stroke-width="1.5"/>
<path d="M1427.76 1883.82L1427.87 1887.57" stroke="#7a4a32" stroke-width="1.5"/>
<path d="M1427.87 1887.57L1427.98 1891.32" stroke="#e8c4c4" stroke-width="1.5"/>
<path d="M1440.11 1879.41L1440.44 1876.1" stroke="#7a4a32" stroke-width="1.5"/>
<path d="M1440.44 1876.1L1440.77 1872.79" stroke="#e8c4c4" stroke-width="1.5"/>
<path d="M1486.76 1869.15L1486.76 1863.92" stroke="#7a4a32" stroke-width="1.5"/>
<path d="M1486.76 1863.92L1486.76 1858.68" stroke="#e8c4c4" stroke-width="1.5"/>
<path d="M1477.39 1879.08L1474.8 1877.04" stroke="#7a4a32" stroke-width="1.5"/>
<path d="M1474.8 1877.04L1472.21 1875" stroke="#e8c4c4" stroke-width="1.5"/>
<path d="M1520.74 1882.06L1521.12 1877.43" stroke="#e81010" stroke-width="1.5"/>
<path d="M1521.12 1877.43L1521.51 1872.79" stroke="#e8c4c4" stroke-width="1.5"/>
<path d="M1514.01 1890.88L1510.42 1893.42" stroke="#7a4a32" stroke-width="1.5"/>
<path d="M1510.42 1893.42L1506.84 1895.96" stroke="#e8c4c4" stroke-width="1.5"/>
<path d="M1514.01 1890.88L1514.17 1896.29" stroke="#7a4a32" stroke-width="1.5"/>
<path d="M1514.17 1896.29L1514.34 1901.69" stroke="#e8c4c4" stroke-width="1.5"/>
<path d="M1514.01 1890.88L1516.82 1891.05" stroke="#7a4a32" stroke-width="1.5"/>
<path d="M1516.82 1891.05L1519.63 1891.21" stroke="#e8c4c4" stroke-width="1.5"/>
<path d="M1497.46 1896.73L1495.7 1897.28" stroke="#7a4a32" stroke-width="1.5"/>
<path d="M1495.7 1897.28L1493.93 1897.83" stroke="#e8c4c4" stroke-width="1.5"/>
<path d="M1472.98 1863.09L1488.42 1874.34" stroke="#ece614" stroke-width="1.5"/>
<path d="M1488.42 1874.34L1472.98 1889.01" stroke="#ece614" stroke-width="1.5"/>
<path d="M1472.98 1889.01L1475.18 1901.14" stroke="#ece614" stroke-width="1.5"/>
<path d="M1459.41 1883.16L1466.19 1873.12" stroke="#8234d2" stroke-width="1.7"/>
<path d="M1466.19 1873.12L1472.98 1863.09" stroke="#ece614" stroke-width="1.7"/>
<path d="M1459.41 1883.16L1466.19 1886.08" stroke="#8234d2" stroke-width="1.7"/>
<path d="M1466.19 1886.08L1472.98 1889.01" stroke="#ece614" stroke-width="1.7"/>
<path d="M1459.41 1883.16L1467.3 1892.15" stroke="#8234d2" stroke-width="1.7"/>
<path d="M1467.3 1892.15L1475.18 1901.14" stroke="#ece614" stroke-width="1.7"/>
<path d="M1487.32 1882.39L1480.15 1872.74" stroke="#8234d2" stroke-width="1.7"/>
<path d="M1480.15 1872.74L1472.98 1863.09" stroke="#ece614" stroke-width="1.7"/>
<path d="M1487.32 1882.39L1487.87 1878.36" stroke="#8234d2" stroke-width="1.7"/>
<path d="M1487.87 1878.36L1488.42 1874.34" stroke="#ece614" stroke-width="1.7"/>
<path d="M1487.32 1882.39L1480.15 1885.7" stroke="#8234d2" stroke-width="1.7"/>
<path d="M1480.15 1885.7L1472.98 1889.01" stroke="#ece614" stroke-width="1.7"/>
<path d="M1487.32 1882.39L1481.25 1891.76" stroke="#8234d2" stroke-width="1.7"/>
<path d="M1481.25 1891.76L1475.18 1901.14" stroke="#ece614" stroke-width="1.7"/>
<use href="#aC" x="1388.27" y="1870.26"/>
<use href="#aC" x="1399.63" y="1862.54"/>
<use href="#aC" x="1413.09" y="1866.95"/>
<use href="#aC" x="1414.52" y="1878.53"/>
<use href="#aC" x="1402.94" y="1886.47"/>
<use href="#aC" x="1389.49" y="1882.72"/>
<use href="#aC" x="1427.76" y="1883.82"/>
<use href="#aC" x="1440.11" y="1879.41"/>
<use href="#aC" x="1451.47" y="1884.04"/>
<use href="#aC" x="1486.76" y="1869.15"/>
<use href="#aC" x="1477.39" y="1879.08"/>
<use href="#aC" x="1498.9" y="1887.13"/>
<use href="#aC" x="1484.78" y="1892.32"/>
<use href="#aC" x="1497.46" y="1896.73"/>
<use href="#aC" x="1514.01" y="1890.88"/>
<use href="#aO" x="1375.15" y="1866.4"/>
<use href="#aO" x="1378.68" y="1890.88"/>
<use href="#aO" x="1452.35" y="1890.66"/>
<use href="#aO" x="1499.12" y="1874.12"/>
<use href="#aO" x="1495.81" y="1889.34"/>
<use href="#aO" x="1520.74" y="1882.06"/>
<use href="#aO" x="1495.04" y="1911.62"/>
<use href="#aH" x="1376.14" y="1858.46"/>
<use href="#aH" x="1398.53" y="1853.38"/>
<use href="#aH" x="1421.91" y="1860.88"/>
<use href="#aH" x="1369.85" y="1897.5"/>
<use href="#aH" x="1403.71" y="1895.96"/>
<use href="#aH" x="1427.98" y="1891.32"/>
<use href="#aH" x="1440.77" y="1872.79"/>
<use href="#aH" x="1486.76" y="1858.68"/>
<use href="#aH" x="1472.21" y="1875"/>
<use href="#aH" x="1521.51" y="1872.79"/>
<use href="#aH" x="1506.84" y="1895.96"/>
<use href="#aH" x="1514.34" y="1901.69"/>
<use href="#aH" x="1519.63" y="1891.21"/>
<use href="#aH" x="1493.93" y="1897.83"/>
<use href="#aS" x="1472.98" y="1863.09"/>
<use href="#aS" x="1488.42" y="1874.34"/>
<use href="#aS" x="1472.98" y="1889.01"/>
<use href="#aS" x="1475.18" y="1901.14"/>
<use href="#aLi" x="1459.41" y="1883.16"/>
<use href="#aLi" x="1487.32" y="1882.39"/>
<use href="#aSn" x="1668.49" y="1891.69"/>
<use href="#aSn" x="1585.55" y="1922.79"/>
<use href="#aSn" x="1626.91" y="1926.43"/>
<use href="#aGa" x="1574.19" y="1864.12"/>
<use href="#aGa" x="1600.44" y="1859.15"/>
<use href="#aGa" x="1608.38" y="1872.72"/>
<use href="#aGa" x="1626.8" y="1867.43"/>
<use href="#aGa" x="1637.61" y="1876.25"/>
<use href="#aGa" x="1649.19" y="1853.09"/>
<use href="#aGa" x="1668.49" y="1862.46"/>
<use href="#aGa" x="1655.81" y="1877.35"/>
<use href="#aGa" x="1687.79" y="1882.32"/>
<use href="#aGa" x="1576.4" y="1882.32"/>
<use href="#aGa" x="1585.44" y="1889.26"/>
<use href="#aGa" x="1564.6" y="1895.77"/>
<use href="#aGa" x="1582.46" y="1905.15"/>
<use href="#aGa" x="1601.99" y="1896.1"/>
<use href="#aGa" x="1613.35" y="1899.19"/>
<use href="#aGa" x="1615.88" y="1913.97"/>
<use href="#aGa" x="1633.2" y="1891.91"/>
<use href="#aGa" x="1640.92" y="1903.49"/>
<use href="#aGa" x="1655.81" y="1897.76"/>
<use href="#aGa" x="1657.79" y="1905.81"/>
<use href="#aGa" x="1682.5" y="1912.87"/>
<use href="#aGa" x="1676.54" y="1922.79"/>
<use href="#aGa" x="1659.45" y="1925.88"/>
<use href="#aGa" x="1656.91" y="1936.36"/>
<use href="#aGa" x="1640.37" y="1929.19"/>
<use href="#aGa" x="1598.46" y="1923.35"/>
<use href="#aGa" x="1575.51" y="1931.95"/>
<use href="#aGa" x="1606.4" y="1939.34"/>
<use href="#aN" x="1657.46" y="1879.56"/>
<path d="M1580.48 1861.91L1592.94 1855.51" stroke="#7a4a32" stroke-width="2.1"/>
<path d="M1580.48 1861.91L1581.14 1873.71" stroke="#7a4a32" stroke-width="2.1"/>
<path d="M1592.94 1855.51L1606.51 1860.26" stroke="#7a4a32" stroke-width="2.1"/>
<path d="M1606.51 1860.26L1607.28 1871.29" stroke="#7a4a32" stroke-width="2.1"/>
<path d="M1607.28 1871.29L1594.82 1877.57" stroke="#7a4a32" stroke-width="2.1"/>
<path d="M1607.28 1871.29L1620.85 1876.8" stroke="#7a4a32" stroke-width="2.1"/>
<path d="M1594.82 1877.57L1581.14 1873.71" stroke="#7a4a32" stroke-width="2.1"/>
<path d="M1620.85 1876.8L1633.97 1874.6" stroke="#7a4a32" stroke-width="2.1"/>
<path d="M1633.97 1874.6L1645.88 1878.46" stroke="#7a4a32" stroke-width="2.1"/>
<path d="M1683.38 1867.43L1672.9 1874.26" stroke="#7a4a32" stroke-width="2.1"/>
<path d="M1672.9 1874.26L1680.07 1888.93" stroke="#7a4a32" stroke-width="2.1"/>
<path d="M1680.07 1888.93L1694.96 1888.93" stroke="#7a4a32" stroke-width="2.1"/>
<path d="M1680.07 1888.93L1692.21 1896.1" stroke="#7a4a32" stroke-width="2.1"/>
<path d="M1694.96 1888.93L1692.21 1896.1" stroke="#7a4a32" stroke-width="2.1"/>
<path d="M1694.96 1888.93L1709.52 1894.12" stroke="#7a4a32" stroke-width="2.1"/>
<path d="M1580.48 1861.91L1573.64 1859.82" stroke="#7a4a32" stroke-width="2.1"/>
<path d="M1573.64 1859.82L1566.8 1857.72" stroke="#e81010" stroke-width="2.1"/>
<path d="M1581.14 1873.71L1575.18 1877.3" stroke="#7a4a32" stroke-width="2.1"/>
<path d="M1575.18 1877.3L1569.23 1880.88" stroke="#e81010" stroke-width="2.1"/>
<path d="M1645.88 1878.46L1646.16 1880.94" stroke="#7a4a32" stroke-width="2.1"/>
<path d="M1646.16 1880.94L1646.43 1883.42" stroke="#e81010" stroke-width="2.1"/>
<path d="M1633.97 1874.6L1640.2 1879.01" stroke="#7a4a32" stroke-width="2.1"/>
<path d="M1640.2 1879.01L1646.43 1883.42" stroke="#e81010" stroke-width="2.1"/>
<path d="M1683.38 1867.43L1689.45 1870.74" stroke="#7a4a32" stroke-width="2.1"/>
<path d="M1689.45 1870.74L1695.51 1874.04" stroke="#e81010" stroke-width="2.1"/>
<path d="M1694.96 1888.93L1695.24 1881.49" stroke="#7a4a32" stroke-width="2.1"/>
<path d="M1695.24 1881.49L1695.51 1874.04" stroke="#e81010" stroke-width="2.1"/>
<path d="M1694.96 1888.93L1693.31 1887" stroke="#7a4a32" stroke-width="2.1"/>
<path d="M1693.31 1887L1691.65 1885.07" stroke="#e81010" stroke-width="2.1"/>
<path d="M1692.21 1896.1L1691.93 1890.59" stroke="#7a4a32" stroke-width="2.1"/>
<path d="M1691.93 1890.59L1691.65 1885.07" stroke="#e81010" stroke-width="2.1"/>
<path d="M1709.52 1894.12L1713.27 1890.59" stroke="#7a4a32" stroke-width="2.1"/>
<path d="M1713.27 1890.59L1717.02 1887.06" stroke="#e81010" stroke-width="2.1"/>
<path d="M1692.21 1896.1L1690.55 1903.93" stroke="#7a4a32" stroke-width="2.1"/>
<path d="M1690.55 1903.93L1688.9 1911.76" stroke="#e81010" stroke-width="2.1"/>
<path d="M1566.8 1857.72L1567.57 1854.03" stroke="#e81010" stroke-width="1.5"/>
<path d="M1567.57 1854.03L1568.35 1850.33" stroke="#e8c4c4" stroke-width="1.5"/>
<path d="M1592.94 1855.51L1592.5 1851.27" stroke="#7a4a32" stroke-width="1.5"/>
<path d="M1592.5 1851.27L1592.06 1847.02" stroke="#e8c4c4" stroke-width="1.5"/>
<path d="M1606.51 1860.26L1611.19 1857.78" stroke="#7a4a32" stroke-width="1.5"/>
<path d="M1611.19 1857.78L1615.88 1855.29" stroke="#e8c4c4" stroke-width="1.5"/>
<path d="M1569.23 1880.88L1564.38 1883.81" stroke="#e81010" stroke-width="1.5"/>
<path d="M1564.38 1883.81L1559.52 1886.73" stroke="#e8c4c4" stroke-width="1.5"/>
<path d="M1594.82 1877.57L1594.98 1881.76" stroke="#7a4a32" stroke-width="1.5"/>
<path d="M1594.98 1881.76L1595.15 1885.96" stroke="#e8c4c4" stroke-width="1.5"/>
<path d="M1620.85 1876.8L1620.79 1880" stroke="#7a4a32" stroke-width="1.5"/>
<path d="M1620.79 1880L1620.74 1883.2" stroke="#e8c4c4" stroke-width="1.5"/>
<path d="M1633.97 1874.6L1634.41 1871.56" stroke="#7a4a32" stroke-width="1.5"/>
<path d="M1634.41 1871.56L1634.85 1868.53" stroke="#e8c4c4" stroke-width="1.5"/>
<path d="M1672.9 1874.26L1670.7 1871.95" stroke="#7a4a32" stroke-width="1.5"/>
<path d="M1670.7 1871.95L1668.49 1869.63" stroke="#e8c4c4" stroke-width="1.5"/>
<path d="M1717.02 1887.06L1717.46 1882.1" stroke="#e81010" stroke-width="1.5"/>
<path d="M1717.46 1882.1L1717.9 1877.13" stroke="#e8c4c4" stroke-width="1.5"/>
<path d="M1680.07 1888.93L1676.05 1892.08" stroke="#7a4a32" stroke-width="1.5"/>
<path d="M1676.05 1892.08L1672.02 1895.22" stroke="#e8c4c4" stroke-width="1.5"/>
<path d="M1692.21 1896.1L1690.83 1894.34" stroke="#7a4a32" stroke-width="1.5"/>
<path d="M1690.83 1894.34L1689.45 1892.57" stroke="#e8c4c4" stroke-width="1.5"/>
<path d="M1709.52 1894.12L1706.1 1894.56" stroke="#7a4a32" stroke-width="1.5"/>
<path d="M1706.1 1894.56L1702.68 1895" stroke="#e8c4c4" stroke-width="1.5"/>
<path d="M1709.52 1894.12L1712.56 1893.73" stroke="#7a4a32" stroke-width="1.5"/>
<path d="M1712.56 1893.73L1715.59 1893.35" stroke="#e8c4c4" stroke-width="1.5"/>
<path d="M1709.52 1894.12L1709.41 1899.8" stroke="#7a4a32" stroke-width="1.5"/>
<path d="M1709.41 1899.8L1709.3 1905.48" stroke="#e8c4c4" stroke-width="1.5"/>
<path d="M1668.16 1859.93L1663.53 1877.13" stroke="#ece614" stroke-width="1.5"/>
<path d="M1651.62 1871.29L1659.89 1865.61" stroke="#8234d2" stroke-width="1.7"/>
<path d="M1659.89 1865.61L1668.16 1859.93" stroke="#ece614" stroke-width="1.7"/>
<path d="M1651.62 1871.29L1657.57 1874.21" stroke="#8234d2" stroke-width="1.7"/>
<path d="M1657.57 1874.21L1663.53 1877.13" stroke="#ece614" stroke-width="1.7"/>
<path d="M1684.49 1875.37L1676.32 1867.65" stroke="#8234d2" stroke-width="1.7"/>
<path d="M1676.32 1867.65L1668.16 1859.93" stroke="#ece614" stroke-width="1.7"/>
<path d="M1684.49 1875.37L1674.01 1876.25" stroke="#8234d2" stroke-width="1.7"/>
<path d="M1674.01 1876.25L1663.53 1877.13" stroke="#ece614" stroke-width="1.7"/>
<use href="#aC" x="1580.48" y="1861.91"/>
<use href="#aC" x="1592.94" y="1855.51"/>
<use href="#aC" x="1606.51" y="1860.26"/>
<use href="#aC" x="1607.28" y="1871.29"/>
<use href="#aC" x="1594.82" y="1877.57"/>
<use href="#aC" x="1581.14" y="1873.71"/>
<use href="#aC" x="1620.85" y="1876.8"/>
<use href="#aC" x="1633.97" y="1874.6"/>
<use href="#aC" x="1645.88" y="1878.46"/>
<use href="#aC" x="1683.38" y="1867.43"/>
<use href="#aC" x="1672.9" y="1874.26"/>
<use href="#aC" x="1680.07" y="1888.93"/>
<use href="#aC" x="1694.96" y="1888.93"/>
<use href="#aC" x="1692.21" y="1896.1"/>
<use href="#aC" x="1709.52" y="1894.12"/>
<use href="#aO" x="1566.8" y="1857.72"/>
<use href="#aO" x="1569.23" y="1880.88"/>
<use href="#aO" x="1646.43" y="1883.42"/>
<use href="#aO" x="1695.51" y="1874.04"/>
<use href="#aO" x="1691.65" y="1885.07"/>
<use href="#aO" x="1717.02" y="1887.06"/>
<use href="#aO" x="1688.9" y="1911.76"/>
<use href="#aH" x="1568.35" y="1850.33"/>
<use href="#aH" x="1592.06" y="1847.02"/>
<use href="#aH" x="1615.88" y="1855.29"/>
<use href="#aH" x="1559.52" y="1886.73"/>
<use href="#aH" x="1595.15" y="1885.96"/>
<use href="#aH" x="1620.74" y="1883.2"/>
<use href="#aH" x="1634.85" y="1868.53"/>
<use href="#aH" x="1683.93" y="1855.85"/>
<use href="#aH" x="1668.49" y="1869.63"/>
<use href="#aH" x="1717.9" y="1877.13"/>
<use href="#aH" x="1672.02" y="1895.22"/>
<use href="#aH" x="1689.45" y="1892.57"/>
<use href="#aH" x="1702.68" y="1895"/>
<use href="#aH" x="1715.59" y="1893.35"/>
<use href="#aH" x="1709.3" y="1905.48"/>
<use href="#aS" x="1668.16" y="1859.93"/>
<use href="#aS" x="1663.53" y="1877.13"/>
<use href="#aLi" x="1651.62" y="1871.29"/>
<use href="#aLi" x="1684.49" y="1875.37"/>
<use href="#aSn" x="1874.71" y="1873.49"/>
<use href="#aSn" x="1837.21" y="1915.07"/>
<use href="#aSn" x="1797.83" y="1919.82"/>
<use href="#aGa" x="1780.74" y="1865.44"/>
<use href="#aGa" x="1799.49" y="1857.72"/>
<use href="#aGa" x="1816.03" y="1866.1"/>
<use href="#aGa" x="1825.07" y="1860.81"/>
<use href="#aGa" x="1843.6" y="1864.12"/>
<use href="#aGa" x="1845.48" y="1842.28"/>
<use href="#aGa" x="1871.4" y="1845.59"/>
<use href="#aGa" x="1884.96" y="1864.67"/>
<use href="#aGa" x="1853.53" y="1866.32"/>
<use href="#aGa" x="1778.2" y="1885.62"/>
<use href="#aGa" x="1795.62" y="1886.95"/>
<use href="#aGa" x="1805.88" y="1893.35"/>
<use href="#aGa" x="1823.53" y="1891.47"/>
<use href="#aGa" x="1832.57" y="1884.19"/>
<use href="#aGa" x="1850.22" y="1887.5"/>
<use href="#aGa" x="1850.77" y="1890.59"/>
<use href="#aGa" x="1860.37" y="1891.91"/>
<use href="#aGa" x="1886.4" y="1893.35"/>
<use href="#aGa" x="1766.73" y="1901.84"/>
<use href="#aGa" x="1784.04" y="1907.35"/>
<use href="#aGa" x="1817.13" y="1909.56"/>
<use href="#aGa" x="1873.38" y="1907.13"/>
<use href="#aGa" x="1875.04" y="1906.8"/>
<use href="#aGa" x="1865.11" y="1920.37"/>
<use href="#aGa" x="1782.94" y="1934.38"/>
<use href="#aGa" x="1815.48" y="1934.71"/>
<use href="#aGa" x="1842.28" y="1919.82"/>
<use href="#aGa" x="1797.5" y="1924.23"/>
<use href="#aN" x="1844.93" y="1870.96"/>
<path d="M1772.24 1867.65L1784.04 1858.82" stroke="#7a4a32" stroke-width="2.1"/>
<path d="M1772.24 1867.65L1772.68 1880.11" stroke="#7a4a32" stroke-width="2.1"/>
<path d="M1784.04 1858.82L1795.85 1861.91" stroke="#7a4a32" stroke-width="2.1"/>
<path d="M1795.85 1861.91L1796.18 1873.16" stroke="#7a4a32" stroke-width="2.1"/>
<path d="M1796.18 1873.16L1784.26 1881.99" stroke="#7a4a32" stroke-width="2.1"/>
<path d="M1796.18 1873.16L1807.87 1876.47" stroke="#7a4a32" stroke-width="2.1"/>
<path d="M1784.26 1881.99L1772.68 1880.11" stroke="#7a4a32" stroke-width="2.1"/>
<path d="M1807.87 1876.47L1819.12 1874.93" stroke="#7a4a32" stroke-width="2.1"/>
<path d="M1819.12 1874.93L1830.92 1874.6" stroke="#7a4a32" stroke-width="2.1"/>
<path d="M1865.33 1855.29L1854.63 1866.32" stroke="#7a4a32" stroke-width="2.1"/>
<path d="M1854.63 1866.32L1862.13 1878.68" stroke="#7a4a32" stroke-width="2.1"/>
<path d="M1862.13 1878.68L1877.24 1882.32" stroke="#7a4a32" stroke-width="2.1"/>
<path d="M1881.32 1873.49L1877.24 1882.32" stroke="#7a4a32" stroke-width="2.1"/>
<path d="M1881.32 1873.49L1897.1 1874.93" stroke="#7a4a32" stroke-width="2.1"/>
<path d="M1772.24 1867.65L1766.45 1866.71" stroke="#7a4a32" stroke-width="2.1"/>
<path d="M1766.45 1866.71L1760.66 1865.77" stroke="#e81010" stroke-width="2.1"/>
<path d="M1772.68 1880.11L1767.72 1884.69" stroke="#7a4a32" stroke-width="2.1"/>
<path d="M1767.72 1884.69L1762.76 1889.26" stroke="#e81010" stroke-width="2.1"/>
<path d="M1830.92 1874.6L1829.54 1877.35" stroke="#7a4a32" stroke-width="2.1"/>
<path d="M1829.54 1877.35L1828.16 1880.11" stroke="#e81010" stroke-width="2.1"/>
<path d="M1819.12 1874.93L1823.64 1877.52" stroke="#7a4a32" stroke-width="2.1"/>
<path d="M1823.64 1877.52L1828.16 1880.11" stroke="#e81010" stroke-width="2.1"/>
<path d="M1865.33 1855.29L1871.95 1857.22" stroke="#7a4a32" stroke-width="2.1"/>
<path d="M1871.95 1857.22L1878.57 1859.15" stroke="#e81010" stroke-width="2.1"/>
<path d="M1881.32 1873.49L1879.94 1866.32" stroke="#7a4a32" stroke-width="2.1"/>
<path d="M1879.94 1866.32L1878.57 1859.15" stroke="#e81010" stroke-width="2.1"/>
<path d="M1862.13 1878.68L1865.83 1876.25" stroke="#7a4a32" stroke-width="2.1"/>
<path d="M1865.83 1876.25L1869.52 1873.82" stroke="#e81010" stroke-width="2.1"/>
<path d="M1877.24 1882.32L1873.38 1878.07" stroke="#7a4a32" stroke-width="2.1"/>
<path d="M1873.38 1878.07L1869.52 1873.82" stroke="#e81010" stroke-width="2.1"/>
<path d="M1897.1 1874.93L1901.07 1870.35" stroke="#7a4a32" stroke-width="2.1"/>
<path d="M1901.07 1870.35L1905.04 1865.77" stroke="#e81010" stroke-width="2.1"/>
<path d="M1877.24 1882.32L1877.13 1889.76" stroke="#7a4a32" stroke-width="2.1"/>
<path d="M1877.13 1889.76L1877.02 1897.21" stroke="#e81010" stroke-width="2.1"/>
<path d="M1760.66 1865.77L1761.49 1861.8" stroke="#e81010" stroke-width="1.5"/>
<path d="M1761.49 1861.8L1762.32 1857.83" stroke="#e8c4c4" stroke-width="1.5"/>
<path d="M1784.04 1858.82L1783.88 1854.41" stroke="#7a4a32" stroke-width="1.5"/>
<path d="M1783.88 1854.41L1783.71 1850" stroke="#e8c4c4" stroke-width="1.5"/>
<path d="M1795.85 1861.91L1800.15 1858.49" stroke="#7a4a32" stroke-width="1.5"/>
<path d="M1800.15 1858.49L1804.45 1855.07" stroke="#e8c4c4" stroke-width="1.5"/>
<path d="M1762.76 1889.26L1758.51 1893.12" stroke="#e81010" stroke-width="1.5"/>
<path d="M1758.51 1893.12L1754.26 1896.99" stroke="#e8c4c4" stroke-width="1.5"/>
<path d="M1784.26 1881.99L1784.32 1886.45" stroke="#7a4a32" stroke-width="1.5"/>
<path d="M1784.32 1886.45L1784.38 1890.92" stroke="#e8c4c4" stroke-width="1.5"/>
<path d="M1807.87 1876.47L1807.1 1880.11" stroke="#7a4a32" stroke-width="1.5"/>
<path d="M1807.1 1880.11L1806.32 1883.75" stroke="#e8c4c4" stroke-width="1.5"/>
<path d="M1865.33 1855.29L1864.39 1850.06" stroke="#7a4a32" stroke-width="1.5"/>
<path d="M1864.39 1850.06L1863.46 1844.82" stroke="#e8c4c4" stroke-width="1.5"/>
<path d="M1854.63 1866.32L1850.66 1865.66" stroke="#7a4a32" stroke-width="1.5"/>
<path d="M1850.66 1865.66L1846.69 1865" stroke="#e8c4c4" stroke-width="1.5"/>
<path d="M1905.04 1865.77L1904.38 1861.19" stroke="#e81010" stroke-width="1.5"/>
<path d="M1904.38 1861.19L1903.71 1856.62" stroke="#e8c4c4" stroke-width="1.5"/>
<path d="M1862.13 1878.68L1858.49 1882.59" stroke="#7a4a32" stroke-width="1.5"/>
<path d="M1858.49 1882.59L1854.85 1886.51" stroke="#e8c4c4" stroke-width="1.5"/>
<path d="M1862.13 1878.68L1864.45 1880.61" stroke="#7a4a32" stroke-width="1.5"/>
<path d="M1864.45 1880.61L1866.76 1882.54" stroke="#e8c4c4" stroke-width="1.5"/>
<path d="M1881.32 1873.49L1882.7 1876.8" stroke="#7a4a32" stroke-width="1.5"/>
<path d="M1882.7 1876.8L1884.08 1880.11" stroke="#e8c4c4" stroke-width="1.5"/>
<path d="M1897.1 1874.93L1898.47 1880.28" stroke="#7a4a32" stroke-width="1.5"/>
<path d="M1898.47 1880.28L1899.85 1885.62" stroke="#e8c4c4" stroke-width="1.5"/>
<path d="M1897.1 1874.93L1898.2 1874.6" stroke="#7a4a32" stroke-width="1.5"/>
<path d="M1898.2 1874.6L1899.3 1874.26" stroke="#e8c4c4" stroke-width="1.5"/>
<path d="M1823.53 1869.3L1829.82 1865.17" stroke="#8234d2" stroke-width="1.7"/>
<path d="M1829.82 1865.17L1836.1 1861.03" stroke="#ece614" stroke-width="1.7"/>
<path d="M1860.15 1859.49L1848.12 1860.26" stroke="#8234d2" stroke-width="1.7"/>
<path d="M1848.12 1860.26L1836.1 1861.03" stroke="#ece614" stroke-width="1.7"/>
<use href="#aC" x="1772.24" y="1867.65"/>
<use href="#aC" x="1784.04" y="1858.82"/>
<use href="#aC" x="1795.85" y="1861.91"/>
<use href="#aC" x="1796.18" y="1873.16"/>
<use href="#aC" x="1784.26" y="1881.99"/>
<use href="#aC" x="1772.68" y="1880.11"/>
<use href="#aC" x="1807.87" y="1876.47"/>
<use href="#aC" x="1819.12" y="1874.93"/>
<use href="#aC" x="1830.92" y="1874.6"/>
<use href="#aC" x="1865.33" y="1855.29"/>
<use href="#aC" x="1854.63" y="1866.32"/>
<use href="#aC" x="1862.13" y="1878.68"/>
<use href="#aC" x="1881.32" y="1873.49"/>
<use href="#aC" x="1877.24" y="1882.32"/>
<use href="#aC" x="1897.1" y="1874.93"/>
<use href="#aO" x="1760.66" y="1865.77"/>
<use href="#aO" x="1762.76" y="1889.26"/>
<use href="#aO" x="1828.16" y="1880.11"/>
<use href="#aO" x="1878.57" y="1859.15"/>
<use href="#aO" x="1869.52" y="1873.82"/>
<use href="#aO" x="1905.04" y="1865.77"/>
<use href="#aO" x="1877.02" y="1897.21"/>
<use href="#aH" x="1762.32" y="1857.83"/>
<use href="#aH" x="1783.71" y="1850"/>
<use href="#aH" x="1804.45" y="1855.07"/>
<use href="#aH" x="1754.26" y="1896.99"/>
<use href="#aH" x="1784.38" y="1890.92"/>
<use href="#aH" x="1806.32" y="1883.75"/>
<use href="#aH" x="1863.46" y="1844.82"/>
<use href="#aH" x="1846.69" y="1865"/>
<use href="#aH" x="1903.71" y="1856.62"/>
<use href="#aH" x="1854.85" y="1886.51"/>
<use href="#aH" x="1866.76" y="1882.54"/>
<use href="#aH" x="1884.08" y="1880.11"/>
<use href="#aH" x="1899.85" y="1885.62"/>
<use href="#aH" x="1899.3" y="1874.26"/>
<use href="#aS" x="1836.1" y="1861.03"/>
<use href="#aLi" x="1823.53" y="1869.3"/>
<use href="#aLi" x="1860.15" y="1859.49"/>
<path d="M886 1595.2L1015 1785.67M1092 1785.67L1204.6 1787.58M1280.2 1787.58L1400.2 1788.53M1476.2 1788.53L1591.5 1763.83M1668 1763.83L1789.8 1747.67" fill="none" stroke="#4c7db3" stroke-width="4.5" stroke-dasharray="5.3 11.5" stroke-dashoffset="-3" stroke-linecap="round"/>
<path d="M886 1595.2L1015 1827M1092 1827L1204.6 1831.28M1280.2 1831.28L1400.2 1834.12M1476.2 1834.12L1591.5 1824.15M1668 1824.15L1789.8 1818.45" fill="none" stroke="#f1666d" stroke-width="4.5" stroke-dasharray="5.3 11.5" stroke-dashoffset="-3" stroke-linecap="round"/>
<line x1="816.7" y1="1595.2" x2="886" y2="1595.2" stroke="#4c7db3" stroke-width="6.6"/>
<line x1="1015" y1="1785.67" x2="1092" y2="1785.67" stroke="#4c7db3" stroke-width="6.6"/>
<line x1="1204.6" y1="1787.58" x2="1280.2" y2="1787.58" stroke="#4c7db3" stroke-width="6.6"/>
<line x1="1400.2" y1="1788.53" x2="1476.2" y2="1788.53" stroke="#4c7db3" stroke-width="6.6"/>
<line x1="1591.5" y1="1763.83" x2="1668" y2="1763.83" stroke="#4c7db3" stroke-width="6.6"/>
<line x1="1789.8" y1="1747.67" x2="1865" y2="1747.67" stroke="#4c7db3" stroke-width="6.6"/>
<line x1="816.7" y1="1595.2" x2="886" y2="1595.2" stroke="#f1666d" stroke-width="6.6"/>
<line x1="1015" y1="1827" x2="1092" y2="1827" stroke="#f1666d" stroke-width="6.6"/>
<line x1="1204.6" y1="1831.28" x2="1280.2" y2="1831.28" stroke="#f1666d" stroke-width="6.6"/>
<line x1="1400.2" y1="1834.12" x2="1476.2" y2="1834.12" stroke="#f1666d" stroke-width="6.6"/>
<line x1="1591.5" y1="1824.15" x2="1668" y2="1824.15" stroke="#f1666d" stroke-width="6.6"/>
<line x1="1789.8" y1="1818.45" x2="1865" y2="1818.45" stroke="#f1666d" stroke-width="6.6"/>
<text x="941.5" y="1662.1" font-size="24.4" text-anchor="start" fill="#000" stroke="#000">-4.01 eV</text>
<text x="831.6" y="1751.5" font-size="24.4" text-anchor="start" fill="#000" stroke="#000">-4.88 eV</text>
<text x="1109.5" y="1777.4" font-size="24.4" text-anchor="start" fill="#000" stroke="#000">-0.04 eV</text>
<text x="1108.8" y="1821.3" font-size="24.4" text-anchor="start" fill="#000" stroke="#000">-0.09 eV</text>
<text x="1297.9" y="1779.9" font-size="24.4" text-anchor="start" fill="#000" stroke="#000">-0.02 eV</text>
<text x="1298.4" y="1823.8" font-size="24.4" text-anchor="start" fill="#000" stroke="#000">-0.06 eV</text>
<text x="1490.5" y="1761.4" font-size="24.4" text-anchor="start" fill="#000" stroke="#000">0.52 eV</text>
<text x="1490.5" y="1819.8" font-size="24.4" text-anchor="start" fill="#000" stroke="#000">0.21 eV</text>
<text x="1681" y="1745" font-size="24.4" text-anchor="start" fill="#000" stroke="#000">0.34 eV</text>
<text x="1681.1" y="1807.4" font-size="24.4" text-anchor="start" fill="#000" stroke="#000">0.12 eV</text>
<line x1="1713.9" y1="1572.6" x2="1790.1" y2="1572.6" stroke="#f1666d" stroke-width="6.2"/>
<text x="1797.7" y="1580.8" font-size="24.2" text-anchor="start" fill="#000" stroke="#000">GSCC</text>
<line x1="1713.9" y1="1610" x2="1790.1" y2="1610" stroke="#4c7db3" stroke-width="6.2"/>
<text x="1798.5" y="1617.8" font-size="24.2" text-anchor="start" fill="#000" stroke="#000">PVDF</text>
<rect x="1114.8" y="1590.4" width="301.4" height="89.7" fill="none" stroke="#bdbdbd" stroke-width="1.5" stroke-dasharray="9.3 7.1"/>
<use href="#aC" transform="translate(1140.8 1610.8) scale(3.33)"/>
<text x="1159.1" y="1620" font-size="24.5" text-anchor="start" fill="#000" stroke="#000">C</text>
<use href="#aO" transform="translate(1214.6 1610.8) scale(3.33)"/>
<text x="1235.4" y="1620" font-size="24.5" text-anchor="start" fill="#000" stroke="#000">O</text>
<use href="#aN" transform="translate(1288.1 1610.8) scale(3.06)"/>
<text x="1305.4" y="1620" font-size="24.5" text-anchor="start" fill="#000" stroke="#000">N</text>
<use href="#aH" transform="translate(1357 1610.8) scale(5.5)"/>
<text x="1380.6" y="1620" font-size="24.5" text-anchor="start" fill="#000" stroke="#000">H</text>
<use href="#aGa" transform="translate(1140.8 1652.8) scale(1.75)"/>
<text x="1160.9" y="1662" font-size="24.5" text-anchor="start" fill="#000" stroke="#000">Ga</text>
<use href="#aSn" transform="translate(1215.6 1652.8) scale(1.69)"/>
<text x="1234.7" y="1662" font-size="24.5" text-anchor="start" fill="#000" stroke="#000">Sn</text>
<use href="#aLi" transform="translate(1289.1 1652.8) scale(1.72)"/>
<text x="1306.4" y="1662" font-size="24.5" text-anchor="start" fill="#000" stroke="#000">Li</text>
<use href="#aS" transform="translate(1357 1652.8) scale(2.56)"/>
<text x="1379.5" y="1662" font-size="24.5" text-anchor="start" fill="#000" stroke="#000">S</text>
<line x1="756" y1="1595.2" x2="772.5" y2="1595.2" stroke="#000" stroke-width="1.6"/>
<line x1="756" y1="1642.7" x2="764.3" y2="1642.7" stroke="#000" stroke-width="1.6"/>
<line x1="756" y1="1690.2" x2="772.5" y2="1690.2" stroke="#000" stroke-width="1.6"/>
<line x1="756" y1="1737.7" x2="764.3" y2="1737.7" stroke="#000" stroke-width="1.6"/>
<line x1="756" y1="1785.2" x2="772.5" y2="1785.2" stroke="#000" stroke-width="1.6"/>
<line x1="756" y1="1832.7" x2="764.3" y2="1832.7" stroke="#000" stroke-width="1.6"/>
<line x1="756" y1="1880.2" x2="772.5" y2="1880.2" stroke="#000" stroke-width="1.6"/>
<line x1="756" y1="1927.7" x2="764.3" y2="1927.7" stroke="#000" stroke-width="1.6"/>
<line x1="756" y1="1975.2" x2="772.5" y2="1975.2" stroke="#000" stroke-width="1.6"/>
<text x="737.2" y="1603.3" font-size="25.3" text-anchor="end" fill="#000" stroke="#000">0</text>
<text x="737.2" y="1698.3" font-size="25.3" text-anchor="end" fill="#000" stroke="#000">-2</text>
<text x="737.2" y="1793.3" font-size="25.3" text-anchor="end" fill="#000" stroke="#000">-4</text>
<text x="737.2" y="1888.3" font-size="25.3" text-anchor="end" fill="#000" stroke="#000">-6</text>
<text x="737.2" y="1983.3" font-size="25.3" text-anchor="end" fill="#000" stroke="#000">-8</text>
<line x1="852.4" y1="1975.1" x2="852.4" y2="1953.1" stroke="#000" stroke-width="2"/>
<text x="854" y="2012.3" font-size="25.3" text-anchor="middle" fill="#000" stroke="#000">S<tspan dy="7.34" font-size="17.2">8</tspan><tspan dy="-7.34">*</tspan></text>
<line x1="1055.1" y1="1975.1" x2="1055.1" y2="1953.1" stroke="#000" stroke-width="2"/>
<text x="1059" y="2012.3" font-size="25.3" text-anchor="middle" fill="#000" stroke="#000">Li<tspan dy="7.34" font-size="17.2">2</tspan><tspan dy="-7.34">S</tspan><tspan dy="7.34" font-size="17.2">8</tspan><tspan dy="-7.34">*</tspan></text>
<line x1="1243.4" y1="1975.1" x2="1243.4" y2="1953.1" stroke="#000" stroke-width="2"/>
<text x="1245.8" y="2012.3" font-size="25.3" text-anchor="middle" fill="#000" stroke="#000">Li<tspan dy="7.34" font-size="17.2">2</tspan><tspan dy="-7.34">S</tspan><tspan dy="7.34" font-size="17.2">6</tspan><tspan dy="-7.34">*</tspan></text>
<line x1="1440.5" y1="1975.1" x2="1440.5" y2="1953.1" stroke="#000" stroke-width="2"/>
<text x="1444.6" y="2012.3" font-size="25.3" text-anchor="middle" fill="#000" stroke="#000">Li<tspan dy="7.34" font-size="17.2">2</tspan><tspan dy="-7.34">S</tspan><tspan dy="7.34" font-size="17.2">4</tspan><tspan dy="-7.34">*</tspan></text>
<line x1="1630.3" y1="1975.1" x2="1630.3" y2="1953.1" stroke="#000" stroke-width="2"/>
<text x="1633.3" y="2012.3" font-size="25.3" text-anchor="middle" fill="#000" stroke="#000">Li<tspan dy="7.34" font-size="17.2">2</tspan><tspan dy="-7.34">S</tspan><tspan dy="7.34" font-size="17.2">2</tspan><tspan dy="-7.34">*</tspan></text>
<line x1="1825.2" y1="1975.1" x2="1825.2" y2="1953.1" stroke="#000" stroke-width="2"/>
<text x="1827.1" y="2012.3" font-size="25.3" text-anchor="middle" fill="#000" stroke="#000">Li<tspan dy="7.34" font-size="17.2">2</tspan><tspan dy="-7.34">S*</tspan></text>
<rect x="756" y="1547.7" width="1169.4" height="427.4" fill="none" stroke="#000" stroke-width="1.7"/>
<text x="696.4" y="1760.9" font-size="24.8" text-anchor="middle" fill="#000" transform="rotate(-90 696.4 1760.9)" stroke="#000">Relative free energy (eV)</text>
<text x="675.6" y="1560.3" font-size="33" text-anchor="start" fill="#231815" stroke="#231815" style="stroke-width:.4px">i</text></g>
</svg>
</body></html>
